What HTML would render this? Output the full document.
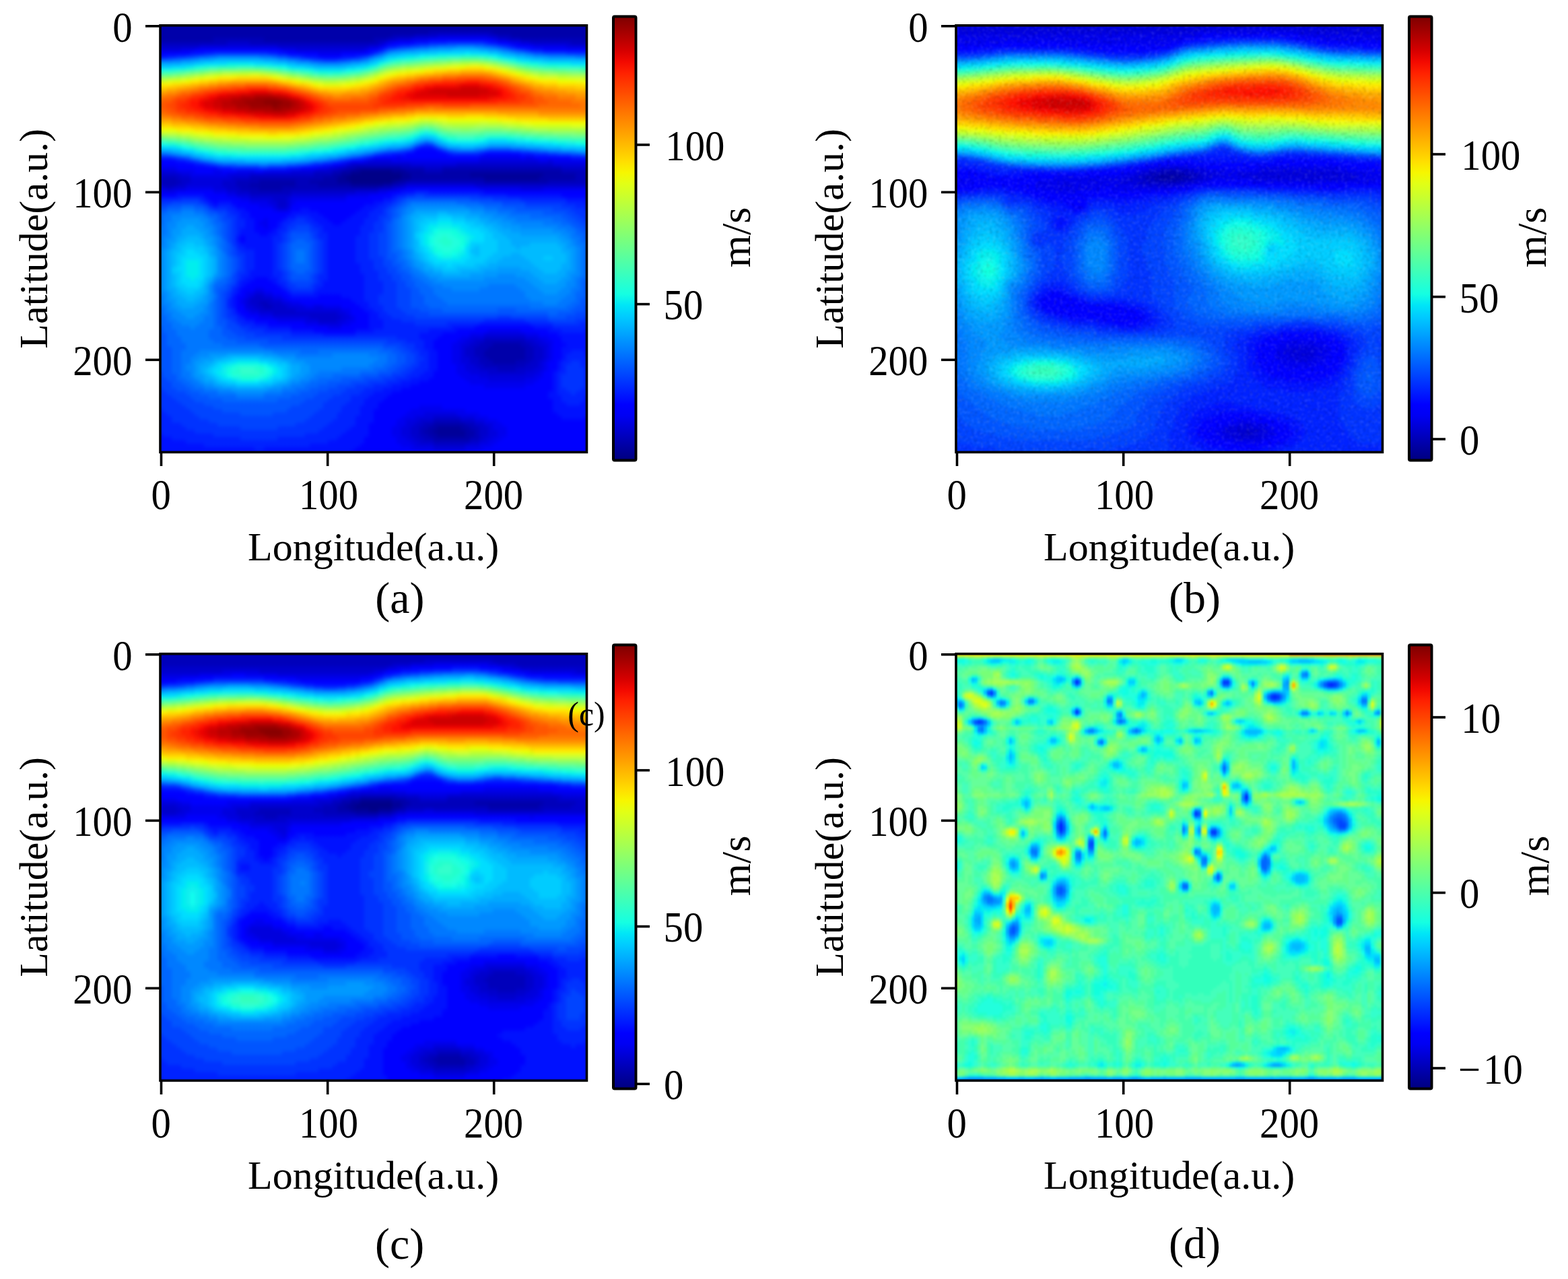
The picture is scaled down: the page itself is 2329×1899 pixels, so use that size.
<!DOCTYPE html><html><head><meta charset="utf-8"><style>*{margin:0;padding:0}
html,body{width:2329px;height:1899px;background:#fff;overflow:hidden}
body{position:relative}
.hm{position:absolute;overflow:hidden}
.hi{position:absolute;display:flex}
.hi i{flex:1 1 0;height:100%}
.nz{position:absolute;left:0;top:0;opacity:.16}
.cb{position:absolute;width:30.5px;height:657px;background:linear-gradient(0deg,#000080,#00009c,#0000b9,#0000d6,#0000f3,#00f,#001aff,#03f,#004dff,#06f,#0080ff,#09f,#00b3ff,#0cf,#00e6f7,#15ffe2,#29ffce,#3effb9,#52ffa5,#67ff90,#7bff7b,#90ff67,#a5ff52,#b9ff3e,#ceff29,#e2ff15,#f7f600,#ffde00,#ffc600,#ffaf00,#ff9700,#ff8000,#ff6800,#ff5000,#ff3900,#ff2100,#f30900,#d60000,#b90000,#9c0000,#800000)}
svg{position:absolute;left:0;top:0}
</style></head><body><div class="hm" style="left:238.0px;top:37.5px;width:633.5px;height:634.0px"><div class="hi" style="left:-10px;top:-10px;width:653.5px;height:654.0px;filter:blur(2.5px)"><i style="background:linear-gradient(#00a,#00a,#00a,#00a,#00a,#00a,#00a,#00b,#00c,#00d,#00f,#01f,#06f,#0af,#0cf,#1fd,#5fa,#9f6,#cf2,#fe0,#fc0,#fa0,#f80,#f70,#f60,#f50,#f60,#f60,#f80,#f90,#fb0,#fd0,#ef0,#cf3,#8f6,#5fa,#2fd,#0cf,#0af,#06f,#02f,#00f,#00f,#00e,#00d,#00c,#00c,#00b,#00c,#00d,#00e,#00f,#02f,#03f,#04f,#05f,#06f,#06f,#06f,#06f,#07f,#07f,#07f,#07f,#07f,#07f,#08f,#08f,#08f,#08f,#08f,#08f,#08f,#08f,#08f,#08f,#08f,#08f,#08f,#08f,#07f,#07f,#07f,#07f,#06f,#06f,#06f,#06f,#06f,#05f,#05f,#05f,#05f,#05f,#05f,#05f,#05f,#05f,#05f,#05f,#05f,#05f,#04f,#04f,#04f,#04f,#04f,#03f,#03f,#03f,#03f,#03f,#03f,#02f,#02f,#02f,#02f,#02f,#02f,#02f,#01f,#01f,#01f,#01f,#01f,#01f,#01f,#01f)"></i><i style="background:linear-gradient(#00a,#00a,#00a,#00a,#00a,#00a,#00a,#00b,#00c,#00d,#00f,#01f,#06f,#0af,#0cf,#1fd,#5fa,#9f6,#cf2,#fe0,#fc0,#fa0,#f80,#f70,#f60,#f50,#f60,#f60,#f80,#f90,#fb0,#fd0,#ef0,#cf3,#8f6,#5fa,#2fd,#0cf,#0af,#06f,#02f,#00f,#00f,#00e,#00d,#00c,#00c,#00b,#00c,#00d,#00e,#00f,#02f,#03f,#04f,#05f,#06f,#06f,#06f,#06f,#07f,#07f,#07f,#07f,#07f,#07f,#08f,#08f,#08f,#08f,#08f,#08f,#08f,#08f,#08f,#08f,#08f,#08f,#08f,#08f,#07f,#07f,#07f,#07f,#06f,#06f,#06f,#06f,#06f,#05f,#05f,#05f,#05f,#05f,#05f,#05f,#05f,#05f,#05f,#05f,#05f,#05f,#04f,#04f,#04f,#04f,#04f,#03f,#03f,#03f,#03f,#03f,#03f,#02f,#02f,#02f,#02f,#02f,#02f,#02f,#01f,#01f,#01f,#01f,#01f,#01f,#01f,#01f)"></i><i style="background:linear-gradient(#00a,#00a,#00a,#00a,#00a,#00a,#00a,#00b,#00c,#00d,#00f,#01f,#06f,#0af,#0cf,#2fd,#5f9,#9f6,#cf2,#fe0,#fc0,#fa0,#f80,#f60,#f50,#f50,#f50,#f60,#f70,#f90,#fb0,#fd0,#ef0,#cf3,#8f6,#5fa,#2fd,#0df,#0af,#06f,#02f,#00f,#00f,#00e,#00d,#00c,#00b,#00b,#00b,#00d,#00e,#00f,#02f,#03f,#04f,#05f,#06f,#07f,#07f,#07f,#07f,#07f,#07f,#08f,#08f,#08f,#08f,#09f,#09f,#09f,#09f,#09f,#09f,#09f,#09f,#09f,#09f,#09f,#09f,#08f,#08f,#08f,#08f,#07f,#07f,#07f,#06f,#06f,#06f,#06f,#06f,#05f,#05f,#05f,#05f,#05f,#05f,#05f,#05f,#05f,#05f,#05f,#05f,#05f,#04f,#04f,#04f,#04f,#03f,#03f,#03f,#03f,#03f,#03f,#02f,#02f,#02f,#02f,#02f,#02f,#02f,#01f,#01f,#01f,#01f,#01f,#01f,#01f)"></i><i style="background:linear-gradient(#00a,#00a,#00a,#00a,#00a,#00a,#00a,#00b,#00c,#00d,#00f,#02f,#06f,#0af,#0cf,#2fd,#5f9,#9f5,#df2,#fe0,#fb0,#f90,#f70,#f60,#f50,#f40,#f50,#f50,#f70,#f90,#fb0,#fd0,#ef0,#cf3,#9f6,#5f9,#2fc,#0df,#0af,#07f,#02f,#00f,#00f,#00e,#00d,#00c,#00b,#00b,#00b,#00c,#00e,#00f,#02f,#03f,#05f,#06f,#07f,#07f,#07f,#08f,#08f,#08f,#08f,#08f,#09f,#09f,#09f,#0af,#0af,#0af,#0af,#0af,#0af,#0af,#0af,#0af,#0af,#0af,#0af,#09f,#09f,#09f,#08f,#08f,#08f,#07f,#07f,#07f,#06f,#06f,#06f,#06f,#06f,#06f,#06f,#05f,#05f,#05f,#05f,#05f,#05f,#05f,#05f,#05f,#05f,#04f,#04f,#04f,#04f,#03f,#03f,#03f,#03f,#03f,#03f,#02f,#02f,#02f,#02f,#02f,#02f,#01f,#01f,#01f,#01f,#01f,#01f,#01f)"></i><i style="background:linear-gradient(#00a,#00a,#00a,#00a,#00a,#00a,#00a,#00b,#00c,#00d,#00f,#02f,#07f,#0af,#0df,#2fc,#6f9,#af5,#df1,#fd0,#fb0,#f90,#f70,#f50,#f40,#f40,#f40,#f50,#f60,#f80,#fa0,#fc0,#ef0,#cf3,#9f6,#6f9,#2fc,#0df,#0bf,#08f,#03f,#00f,#00f,#00e,#00d,#00c,#00b,#00b,#00b,#00d,#00e,#00f,#02f,#04f,#05f,#06f,#07f,#08f,#08f,#08f,#08f,#09f,#09f,#09f,#09f,#0af,#0af,#0bf,#0bf,#0bf,#0bf,#0bf,#0cf,#0cf,#0bf,#0bf,#0bf,#0bf,#0af,#0af,#0af,#09f,#09f,#09f,#08f,#08f,#08f,#07f,#07f,#07f,#06f,#06f,#06f,#06f,#06f,#06f,#06f,#06f,#06f,#06f,#06f,#06f,#06f,#05f,#05f,#05f,#05f,#04f,#04f,#04f,#03f,#03f,#03f,#03f,#03f,#03f,#03f,#02f,#02f,#02f,#02f,#02f,#01f,#01f,#01f,#01f,#01f,#01f)"></i><i style="background:linear-gradient(#00a,#00a,#00a,#00a,#00a,#00a,#00a,#00b,#00c,#00d,#00f,#03f,#07f,#0af,#0df,#3fc,#6f8,#af4,#df1,#fd0,#fa0,#f80,#f60,#f40,#f30,#f30,#f30,#f40,#f60,#f80,#fa0,#fc0,#fe0,#cf2,#9f5,#6f8,#3fb,#0ee,#0bf,#09f,#04f,#01f,#00f,#00f,#00e,#00c,#00c,#00b,#00c,#00d,#00f,#01f,#02f,#04f,#05f,#06f,#07f,#08f,#08f,#09f,#09f,#09f,#09f,#0af,#0af,#0bf,#0bf,#0bf,#0cf,#0cf,#0cf,#0cf,#0df,#0cf,#0cf,#0cf,#0cf,#0cf,#0bf,#0bf,#0af,#0af,#0af,#09f,#09f,#08f,#08f,#08f,#07f,#07f,#07f,#07f,#06f,#06f,#06f,#06f,#06f,#06f,#06f,#06f,#06f,#06f,#06f,#06f,#06f,#05f,#05f,#05f,#04f,#04f,#04f,#03f,#03f,#03f,#03f,#03f,#03f,#02f,#02f,#02f,#02f,#02f,#01f,#01f,#01f,#01f,#01f,#01f)"></i><i style="background:linear-gradient(#00a,#00a,#00a,#00a,#00a,#00a,#00a,#00b,#00c,#00e,#00f,#03f,#08f,#0bf,#0df,#3fb,#7f8,#bf4,#ef1,#fc0,#fa0,#f70,#f50,#f40,#f30,#f20,#f30,#f40,#f50,#f70,#fa0,#fc0,#fe0,#df2,#af5,#7f8,#4fb,#1fe,#0cf,#0af,#05f,#01f,#00f,#00f,#00e,#00d,#00c,#00c,#00c,#00d,#00f,#01f,#03f,#04f,#06f,#07f,#08f,#08f,#09f,#09f,#09f,#0af,#0af,#0af,#0bf,#0bf,#0cf,#0cf,#0cf,#0df,#0df,#0df,#0df,#0df,#0df,#0df,#0df,#0cf,#0cf,#0bf,#0bf,#0af,#0af,#0af,#09f,#09f,#08f,#08f,#08f,#07f,#07f,#07f,#07f,#07f,#06f,#06f,#07f,#07f,#07f,#07f,#07f,#07f,#07f,#07f,#06f,#06f,#05f,#05f,#04f,#04f,#04f,#04f,#03f,#03f,#03f,#03f,#03f,#03f,#02f,#02f,#02f,#02f,#01f,#01f,#01f,#01f,#01f,#01f)"></i><i style="background:linear-gradient(#00a,#00a,#00a,#00a,#00a,#00a,#00a,#00b,#00c,#00e,#00f,#04f,#08f,#0bf,#0ee,#4fb,#8f7,#bf3,#ef0,#fc0,#f90,#f70,#f50,#f30,#f20,#f20,#f20,#f30,#f50,#f70,#f90,#fc0,#fe0,#df2,#af4,#7f7,#4fa,#2fd,#0df,#0af,#06f,#02f,#00f,#00f,#00e,#00d,#00c,#00c,#00d,#00e,#00f,#01f,#03f,#04f,#06f,#07f,#08f,#08f,#09f,#09f,#0af,#0af,#0af,#0bf,#0bf,#0cf,#0cf,#0df,#0df,#0df,#0ee,#0ee,#0ee,#0ee,#0ee,#0df,#0df,#0df,#0cf,#0cf,#0bf,#0bf,#0af,#0af,#09f,#09f,#09f,#08f,#08f,#07f,#07f,#07f,#07f,#07f,#07f,#07f,#07f,#07f,#07f,#07f,#08f,#08f,#07f,#07f,#07f,#06f,#06f,#05f,#05f,#04f,#04f,#04f,#04f,#03f,#03f,#03f,#03f,#03f,#03f,#02f,#02f,#02f,#02f,#01f,#01f,#01f,#01f,#01f)"></i><i style="background:linear-gradient(#00a,#00a,#00a,#00a,#00a,#00a,#00a,#00b,#00c,#00e,#01f,#04f,#09f,#0bf,#1ee,#4fa,#8f6,#cf3,#fe0,#fb0,#f90,#f60,#f40,#f20,#f10,#f10,#f20,#f30,#f50,#f70,#f90,#fb0,#fe0,#df1,#bf4,#8f6,#5f9,#2fc,#0df,#0bf,#08f,#03f,#00f,#00f,#00e,#00e,#00d,#00d,#00d,#00e,#00f,#01f,#03f,#04f,#06f,#07f,#08f,#08f,#09f,#09f,#0af,#0af,#0af,#0bf,#0bf,#0cf,#0cf,#0df,#0df,#0df,#0ee,#0ee,#0ee,#0ee,#0ee,#0ee,#0df,#0df,#0cf,#0cf,#0bf,#0bf,#0af,#0af,#09f,#09f,#09f,#08f,#08f,#08f,#07f,#07f,#07f,#07f,#07f,#07f,#07f,#07f,#08f,#08f,#08f,#08f,#08f,#08f,#07f,#07f,#06f,#06f,#05f,#05f,#04f,#04f,#04f,#04f,#03f,#03f,#03f,#03f,#03f,#02f,#02f,#02f,#02f,#01f,#01f,#01f,#01f,#01f)"></i><i style="background:linear-gradient(#00a,#00a,#00a,#00a,#00a,#00a,#00a,#00b,#00c,#00f,#01f,#05f,#09f,#0cf,#1fd,#5fa,#9f6,#df2,#fe0,#fb0,#f80,#f60,#f30,#f20,#f10,#f10,#f10,#f30,#f40,#f60,#f90,#fb0,#fd0,#ef1,#bf3,#9f6,#6f9,#3fb,#1ee,#0cf,#09f,#04f,#01f,#00f,#00f,#00e,#00d,#00d,#00d,#00e,#00f,#01f,#03f,#04f,#05f,#06f,#07f,#08f,#09f,#09f,#09f,#0af,#0af,#0bf,#0bf,#0bf,#0cf,#0cf,#0df,#0df,#0ee,#0ee,#0ee,#0ee,#0ee,#0df,#0df,#0df,#0cf,#0bf,#0bf,#0af,#0af,#09f,#09f,#09f,#08f,#08f,#08f,#07f,#07f,#07f,#07f,#07f,#07f,#07f,#07f,#08f,#08f,#09f,#09f,#09f,#09f,#09f,#08f,#07f,#07f,#06f,#05f,#05f,#05f,#04f,#04f,#04f,#04f,#03f,#03f,#03f,#03f,#03f,#02f,#02f,#02f,#01f,#01f,#01f,#01f,#01f)"></i><i style="background:linear-gradient(#00a,#00a,#00a,#00a,#00a,#00a,#00a,#00b,#00d,#00f,#01f,#06f,#0af,#0cf,#2fd,#5f9,#9f5,#df1,#fd0,#fa0,#f70,#f50,#f30,#f10,#e00,#e00,#f10,#f20,#f40,#f60,#f80,#fb0,#fd0,#ef1,#cf3,#9f5,#6f8,#4fb,#1fd,#0cf,#0af,#06f,#01f,#00f,#00f,#00e,#00d,#00d,#00d,#00e,#00f,#01f,#02f,#03f,#05f,#06f,#07f,#08f,#08f,#09f,#09f,#09f,#0af,#0af,#0bf,#0bf,#0cf,#0cf,#0cf,#0df,#0df,#0df,#0df,#0df,#0df,#0df,#0cf,#0cf,#0bf,#0bf,#0af,#0af,#09f,#09f,#09f,#08f,#08f,#08f,#07f,#07f,#07f,#07f,#07f,#07f,#07f,#07f,#08f,#08f,#09f,#09f,#0af,#0af,#0af,#09f,#09f,#08f,#07f,#06f,#06f,#05f,#05f,#04f,#04f,#04f,#04f,#04f,#03f,#03f,#03f,#03f,#02f,#02f,#02f,#01f,#01f,#01f,#01f,#01f)"></i><i style="background:linear-gradient(#00a,#00a,#00a,#00a,#00a,#00a,#00a,#00b,#00d,#00f,#02f,#06f,#0af,#0df,#2fc,#6f9,#af4,#ef1,#fd0,#fa0,#f70,#f40,#f20,#e10,#d00,#d00,#e00,#f20,#f30,#f50,#f80,#fa0,#fd0,#ef0,#cf3,#af5,#7f8,#4fa,#2fd,#0df,#0bf,#07f,#02f,#00f,#00f,#00e,#00d,#00d,#00d,#00e,#00f,#00f,#01f,#02f,#04f,#05f,#06f,#07f,#08f,#08f,#08f,#09f,#09f,#09f,#0af,#0af,#0bf,#0bf,#0cf,#0cf,#0cf,#0cf,#0cf,#0cf,#0cf,#0bf,#0bf,#0af,#0af,#0af,#09f,#09f,#09f,#08f,#08f,#08f,#07f,#07f,#07f,#07f,#07f,#07f,#07f,#07f,#07f,#07f,#08f,#08f,#09f,#0af,#0af,#0bf,#0bf,#0af,#0af,#09f,#08f,#07f,#06f,#05f,#05f,#05f,#04f,#04f,#04f,#04f,#03f,#03f,#03f,#03f,#02f,#02f,#02f,#02f,#01f,#01f,#01f,#01f)"></i><i style="background:linear-gradient(#00a,#00a,#00a,#00a,#00a,#00a,#00a,#00b,#00d,#00f,#02f,#07f,#0af,#0df,#3fc,#7f8,#bf4,#ef1,#fc0,#f90,#f60,#f40,#f10,#e00,#d00,#d00,#e00,#f10,#f30,#f50,#f70,#fa0,#fc0,#ef0,#cf2,#af5,#7f7,#5fa,#2fc,#0ee,#0bf,#08f,#03f,#00f,#00f,#00e,#00d,#00d,#00d,#00e,#00f,#00f,#00f,#01f,#02f,#04f,#05f,#06f,#07f,#07f,#08f,#08f,#08f,#09f,#09f,#09f,#0af,#0af,#0af,#0bf,#0bf,#0bf,#0bf,#0bf,#0bf,#0af,#09f,#08f,#08f,#08f,#08f,#08f,#07f,#07f,#07f,#07f,#07f,#07f,#07f,#07f,#06f,#06f,#06f,#07f,#07f,#07f,#08f,#09f,#09f,#0af,#0bf,#0cf,#0cf,#0bf,#0af,#09f,#08f,#07f,#06f,#06f,#05f,#05f,#04f,#04f,#04f,#04f,#04f,#03f,#03f,#03f,#02f,#02f,#02f,#02f,#01f,#01f,#01f,#01f)"></i><i style="background:linear-gradient(#00a,#00a,#00a,#00a,#00a,#00a,#00b,#00b,#00d,#00f,#03f,#07f,#0bf,#0df,#3fc,#7f8,#bf3,#ef0,#fc0,#f90,#f60,#f30,#f10,#d00,#c00,#c00,#d00,#f10,#f30,#f50,#f70,#fa0,#fc0,#fe0,#df2,#af4,#8f7,#5f9,#3fc,#1ee,#0cf,#09f,#04f,#00f,#00e,#00e,#00d,#00d,#00d,#00d,#00e,#00f,#00f,#00f,#01f,#03f,#05f,#06f,#06f,#06f,#07f,#07f,#07f,#08f,#08f,#08f,#09f,#09f,#09f,#0af,#0af,#0af,#0af,#0af,#09f,#08f,#07f,#06f,#06f,#06f,#07f,#06f,#06f,#06f,#06f,#06f,#06f,#06f,#06f,#06f,#06f,#06f,#06f,#06f,#07f,#07f,#08f,#09f,#0af,#0bf,#0cf,#0df,#0df,#0cf,#0bf,#0af,#09f,#07f,#06f,#06f,#05f,#05f,#05f,#04f,#04f,#04f,#04f,#03f,#03f,#03f,#03f,#02f,#02f,#02f,#01f,#01f,#01f,#01f)"></i><i style="background:linear-gradient(#00a,#00a,#00a,#00a,#00a,#00a,#00b,#00b,#00d,#00f,#03f,#08f,#0bf,#0df,#3fb,#7f7,#bf3,#fe0,#fb0,#f80,#f50,#f30,#e00,#c00,#c00,#c00,#d00,#e10,#f20,#f50,#f70,#f90,#fc0,#fe0,#df2,#af4,#8f6,#6f9,#3fb,#1fe,#0cf,#0af,#05f,#01f,#00e,#00e,#00d,#00d,#00d,#00d,#00e,#00f,#00f,#01f,#02f,#03f,#04f,#05f,#05f,#06f,#06f,#06f,#06f,#07f,#07f,#07f,#07f,#08f,#08f,#08f,#08f,#08f,#08f,#08f,#08f,#07f,#06f,#06f,#05f,#05f,#05f,#05f,#05f,#05f,#05f,#05f,#05f,#05f,#05f,#06f,#06f,#06f,#06f,#06f,#07f,#07f,#08f,#09f,#0af,#0cf,#0df,#0df,#0ee,#0df,#0cf,#0bf,#09f,#08f,#07f,#06f,#05f,#05f,#05f,#04f,#04f,#04f,#04f,#04f,#03f,#03f,#03f,#02f,#02f,#02f,#01f,#01f,#01f,#01f)"></i><i style="background:linear-gradient(#00a,#00a,#00a,#00a,#00a,#00a,#00b,#00b,#00d,#00f,#03f,#08f,#0bf,#0df,#3fb,#8f7,#cf3,#fe0,#fb0,#f80,#f50,#f20,#e00,#c00,#b00,#b00,#c00,#e00,#f20,#f40,#f70,#f90,#fc0,#fe0,#df2,#bf4,#8f6,#6f9,#3fb,#1fd,#0cf,#0af,#06f,#01f,#00f,#00e,#00d,#00c,#00c,#00d,#00e,#00f,#00f,#01f,#02f,#03f,#04f,#04f,#04f,#05f,#05f,#05f,#05f,#05f,#06f,#06f,#06f,#06f,#07f,#07f,#07f,#07f,#07f,#07f,#07f,#06f,#06f,#05f,#05f,#04f,#04f,#04f,#04f,#04f,#04f,#04f,#04f,#05f,#05f,#05f,#05f,#05f,#06f,#06f,#06f,#07f,#08f,#09f,#0bf,#0cf,#0ee,#1ee,#1ee,#0ee,#0df,#0bf,#0af,#08f,#07f,#06f,#06f,#05f,#05f,#05f,#04f,#04f,#04f,#04f,#03f,#03f,#03f,#02f,#02f,#02f,#01f,#01f,#01f,#01f)"></i><i style="background:linear-gradient(#00a,#00a,#00a,#00a,#00a,#00a,#00b,#00c,#00d,#00f,#03f,#08f,#0bf,#0ee,#3fb,#8f7,#cf3,#fe0,#fb0,#f70,#f50,#f20,#d00,#c00,#b00,#b00,#c00,#e00,#f20,#f40,#f60,#f90,#fb0,#fe0,#df1,#bf4,#8f6,#6f8,#4fb,#1fd,#0cf,#0af,#06f,#01f,#00f,#00d,#00d,#00c,#00c,#00c,#00d,#00e,#00f,#01f,#02f,#02f,#03f,#03f,#04f,#04f,#04f,#04f,#04f,#04f,#04f,#05f,#05f,#05f,#05f,#06f,#06f,#06f,#06f,#06f,#06f,#05f,#05f,#04f,#04f,#03f,#03f,#02f,#02f,#02f,#03f,#03f,#03f,#04f,#04f,#04f,#05f,#05f,#05f,#06f,#06f,#07f,#08f,#0af,#0bf,#0df,#1ee,#1fd,#1fd,#1fe,#0df,#0cf,#0af,#08f,#07f,#06f,#06f,#05f,#05f,#05f,#04f,#04f,#04f,#04f,#03f,#03f,#03f,#02f,#02f,#02f,#01f,#01f,#01f,#01f)"></i><i style="background:linear-gradient(#00a,#00a,#00a,#00a,#00a,#00a,#00b,#00c,#00d,#00f,#03f,#08f,#0bf,#0ee,#3fb,#8f7,#cf2,#fe0,#fa0,#f70,#f40,#f20,#d00,#b00,#a00,#b00,#c00,#d00,#f20,#f40,#f60,#f90,#fb0,#fe0,#df1,#bf3,#9f6,#6f8,#4fb,#1fd,#0df,#0af,#06f,#02f,#00f,#00d,#00c,#00c,#00c,#00c,#00d,#00e,#00f,#00f,#01f,#02f,#02f,#03f,#03f,#03f,#03f,#03f,#03f,#03f,#03f,#03f,#04f,#04f,#04f,#05f,#05f,#05f,#05f,#05f,#04f,#04f,#04f,#03f,#02f,#02f,#01f,#01f,#01f,#01f,#02f,#02f,#03f,#03f,#04f,#04f,#04f,#05f,#05f,#06f,#06f,#07f,#08f,#0af,#0cf,#0df,#1fd,#2fd,#2fc,#2fd,#0ee,#0cf,#0af,#09f,#07f,#06f,#06f,#05f,#05f,#05f,#04f,#04f,#04f,#04f,#03f,#03f,#03f,#02f,#02f,#02f,#01f,#01f,#01f,#01f)"></i><i style="background:linear-gradient(#00a,#00a,#00a,#00a,#00a,#00a,#00b,#00c,#00d,#00f,#03f,#08f,#0bf,#0ee,#4fb,#8f7,#cf2,#fd0,#fa0,#f70,#f40,#f10,#d00,#b00,#a00,#a00,#b00,#d00,#f10,#f40,#f60,#f80,#fb0,#fd0,#df1,#bf3,#9f6,#6f8,#4fb,#2fd,#0df,#0af,#07f,#02f,#00e,#00d,#00c,#00b,#00b,#00c,#00c,#00d,#00f,#00f,#00f,#01f,#02f,#02f,#02f,#02f,#02f,#02f,#02f,#01f,#01f,#02f,#02f,#03f,#03f,#04f,#04f,#04f,#04f,#03f,#03f,#03f,#02f,#02f,#01f,#01f,#00f,#00f,#00f,#00f,#00f,#01f,#02f,#02f,#03f,#04f,#04f,#04f,#05f,#05f,#06f,#07f,#08f,#0af,#0cf,#0ee,#2fd,#2fc,#2fc,#2fd,#1ee,#0df,#0bf,#09f,#08f,#07f,#06f,#05f,#05f,#05f,#04f,#04f,#04f,#04f,#03f,#03f,#03f,#02f,#02f,#02f,#01f,#01f,#01f,#01f)"></i><i style="background:linear-gradient(#00a,#00a,#00a,#00a,#00a,#00a,#00b,#00c,#00d,#00f,#03f,#08f,#0bf,#0ee,#4fb,#8f6,#cf2,#fd0,#fa0,#f70,#f40,#f10,#c00,#a00,#a00,#a00,#b00,#d00,#f10,#f30,#f60,#f80,#fb0,#fd0,#ef1,#bf3,#9f6,#6f8,#4fa,#2fd,#0df,#0af,#07f,#02f,#00e,#00d,#00c,#00b,#00b,#00b,#00c,#00d,#00e,#00f,#00f,#01f,#01f,#01f,#02f,#02f,#02f,#01f,#01f,#00f,#00f,#01f,#02f,#02f,#03f,#03f,#03f,#03f,#03f,#03f,#02f,#02f,#01f,#01f,#00f,#00f,#00f,#00e,#00e,#00f,#00f,#00f,#01f,#02f,#02f,#03f,#04f,#04f,#05f,#05f,#06f,#07f,#08f,#0af,#0cf,#0ee,#2fd,#3fc,#3fc,#2fc,#1fd,#0df,#0bf,#09f,#08f,#07f,#06f,#05f,#05f,#05f,#05f,#04f,#04f,#04f,#04f,#03f,#03f,#03f,#02f,#02f,#01f,#01f,#01f,#01f)"></i><i style="background:linear-gradient(#00a,#00a,#00a,#00a,#00a,#00a,#00b,#00c,#00d,#00f,#03f,#08f,#0bf,#0ee,#4fb,#8f6,#cf2,#fd0,#fa0,#f60,#f30,#f10,#c00,#a00,#900,#a00,#b00,#c00,#f10,#f30,#f50,#f80,#fb0,#fd0,#ef1,#bf3,#9f5,#7f8,#4fa,#2fd,#0df,#0bf,#07f,#02f,#00e,#00d,#00c,#00b,#00b,#00b,#00c,#00d,#00e,#00f,#00f,#00f,#01f,#01f,#01f,#01f,#01f,#01f,#01f,#01f,#01f,#01f,#01f,#02f,#02f,#02f,#02f,#02f,#02f,#02f,#02f,#01f,#01f,#00f,#00f,#00e,#00e,#00d,#00d,#00d,#00e,#00f,#00f,#01f,#02f,#03f,#03f,#04f,#04f,#05f,#06f,#07f,#08f,#0af,#0cf,#0ee,#2fd,#3fc,#3fc,#2fc,#1fd,#0df,#0bf,#09f,#08f,#07f,#06f,#05f,#05f,#05f,#05f,#04f,#04f,#04f,#04f,#03f,#03f,#03f,#02f,#02f,#01f,#01f,#01f,#01f)"></i><i style="background:linear-gradient(#00a,#00a,#00a,#00a,#00a,#00a,#00b,#00b,#00d,#00f,#03f,#08f,#0bf,#0ef,#4fb,#8f6,#df2,#fd0,#fa0,#f60,#f30,#e00,#c00,#a00,#900,#900,#a00,#c00,#e10,#f30,#f50,#f80,#fa0,#fd0,#ef1,#cf3,#9f5,#7f8,#4fa,#2fd,#0df,#0bf,#07f,#02f,#00e,#00c,#00b,#00b,#00a,#00b,#00b,#00c,#00d,#00e,#00f,#00f,#00f,#00f,#01f,#01f,#01f,#01f,#01f,#01f,#01f,#01f,#01f,#02f,#02f,#02f,#02f,#02f,#02f,#01f,#01f,#01f,#00f,#00f,#00f,#00e,#00d,#00c,#00c,#00d,#00d,#00e,#00f,#01f,#02f,#02f,#03f,#04f,#04f,#05f,#06f,#07f,#08f,#0af,#0cf,#0ee,#2fd,#3fc,#3fc,#2fc,#1fd,#0df,#0bf,#09f,#08f,#07f,#06f,#05f,#05f,#05f,#05f,#04f,#04f,#04f,#04f,#03f,#03f,#03f,#02f,#02f,#01f,#01f,#01f,#01f)"></i><i style="background:linear-gradient(#00a,#00a,#00a,#00a,#00a,#00a,#00b,#00b,#00d,#00f,#03f,#08f,#0bf,#0df,#3fb,#8f6,#df2,#fd0,#fa0,#f60,#f30,#e00,#b00,#900,#900,#900,#a00,#c00,#e00,#f30,#f50,#f80,#fa0,#fd0,#ef1,#cf3,#9f5,#7f8,#4fa,#2fd,#0df,#0bf,#07f,#02f,#00f,#00c,#00b,#00b,#00a,#00b,#00b,#00c,#00d,#00e,#00f,#00f,#00f,#00f,#00f,#00f,#00f,#00f,#01f,#01f,#01f,#01f,#01f,#01f,#01f,#01f,#01f,#01f,#01f,#01f,#01f,#00f,#00f,#00f,#00e,#00d,#00c,#00c,#00c,#00c,#00d,#00e,#00f,#00f,#01f,#02f,#03f,#03f,#04f,#05f,#06f,#07f,#08f,#0af,#0cf,#0ee,#2fd,#2fc,#3fc,#2fc,#1fe,#0df,#0bf,#09f,#08f,#07f,#06f,#05f,#05f,#05f,#05f,#04f,#04f,#04f,#04f,#03f,#03f,#03f,#02f,#02f,#02f,#01f,#01f,#01f)"></i><i style="background:linear-gradient(#00a,#00a,#00a,#00a,#00a,#00a,#00b,#00b,#00d,#00f,#03f,#07f,#0bf,#0df,#3fb,#8f7,#cf2,#fd0,#fa0,#f60,#f30,#e00,#b00,#900,#900,#900,#a00,#c00,#e00,#f20,#f50,#f70,#fa0,#fd0,#ef1,#cf3,#9f5,#7f8,#4fa,#2fd,#0df,#0bf,#08f,#03f,#00f,#00c,#00b,#00a,#00a,#00a,#00b,#00c,#00d,#00e,#00e,#00f,#00f,#00f,#00f,#00e,#00f,#00f,#00f,#01f,#01f,#01f,#01f,#01f,#01f,#01f,#01f,#01f,#01f,#01f,#01f,#00f,#00f,#00f,#00e,#00d,#00c,#00c,#00b,#00c,#00c,#00d,#00e,#00f,#01f,#02f,#03f,#03f,#04f,#05f,#05f,#07f,#08f,#0af,#0bf,#0df,#1fd,#2fc,#2fc,#2fd,#1ee,#0cf,#0bf,#09f,#08f,#07f,#06f,#05f,#05f,#05f,#05f,#04f,#04f,#04f,#04f,#03f,#03f,#03f,#02f,#02f,#02f,#01f,#01f,#01f)"></i><i style="background:linear-gradient(#00a,#00a,#00a,#00a,#00a,#00a,#00a,#00b,#00d,#00f,#03f,#07f,#0af,#0df,#3fc,#7f7,#cf3,#fd0,#fa0,#f60,#f30,#e00,#b00,#900,#800,#900,#a00,#b00,#e00,#f20,#f50,#f70,#fa0,#fd0,#ef0,#cf3,#9f5,#7f8,#4fa,#2fd,#0df,#0bf,#08f,#03f,#00e,#00c,#00b,#00a,#00a,#00a,#00b,#00c,#00d,#00e,#00e,#00f,#00f,#00f,#00e,#00e,#00e,#00f,#00f,#01f,#01f,#01f,#01f,#01f,#01f,#01f,#01f,#01f,#01f,#01f,#01f,#00f,#00f,#00f,#00f,#00e,#00d,#00c,#00b,#00b,#00c,#00d,#00e,#00f,#01f,#02f,#02f,#03f,#04f,#05f,#05f,#06f,#08f,#09f,#0bf,#0df,#1fe,#2fd,#2fd,#1fd,#0ee,#0cf,#0af,#09f,#07f,#06f,#06f,#05f,#05f,#05f,#05f,#04f,#04f,#04f,#04f,#03f,#03f,#03f,#02f,#02f,#01f,#01f,#01f,#01f)"></i><i style="background:linear-gradient(#00a,#00a,#00a,#00a,#00a,#00a,#00a,#00b,#00d,#00f,#02f,#07f,#0af,#0df,#2fc,#7f8,#bf3,#fe0,#fa0,#f70,#f40,#e10,#b00,#900,#800,#900,#a00,#b00,#e00,#f20,#f50,#f70,#fa0,#fc0,#ef0,#cf3,#9f5,#7f8,#4fa,#2fd,#0df,#0bf,#07f,#02f,#00e,#00c,#00b,#00a,#00a,#00a,#00b,#00c,#00d,#00d,#00e,#00f,#00f,#00f,#00f,#00f,#00f,#00f,#01f,#01f,#01f,#01f,#01f,#01f,#01f,#01f,#01f,#01f,#01f,#01f,#01f,#01f,#00f,#00f,#00f,#00e,#00d,#00c,#00c,#00b,#00c,#00d,#00e,#00f,#00f,#01f,#02f,#03f,#04f,#04f,#05f,#06f,#08f,#09f,#0bf,#0cf,#0ee,#1fe,#1fd,#1ee,#0df,#0cf,#0af,#08f,#07f,#06f,#06f,#05f,#05f,#05f,#05f,#04f,#04f,#04f,#04f,#03f,#03f,#03f,#02f,#02f,#01f,#01f,#01f,#01f)"></i><i style="background:linear-gradient(#00a,#00a,#00a,#00a,#00a,#00a,#00a,#00b,#00d,#00f,#02f,#06f,#0af,#0cf,#2fd,#6f8,#bf4,#ef0,#fb0,#f70,#f40,#f10,#c00,#900,#800,#800,#900,#b00,#d00,#f20,#f50,#f70,#fa0,#fc0,#ef0,#cf3,#9f5,#7f8,#4fa,#2fd,#0df,#0bf,#07f,#02f,#00e,#00c,#00b,#00a,#00a,#00a,#00b,#00c,#00c,#00d,#00d,#00e,#00f,#00f,#00f,#00f,#00f,#01f,#01f,#02f,#02f,#02f,#02f,#02f,#02f,#02f,#02f,#02f,#02f,#02f,#02f,#01f,#01f,#00f,#00f,#00f,#00e,#00d,#00c,#00c,#00c,#00c,#00d,#00f,#00f,#01f,#02f,#03f,#04f,#04f,#05f,#06f,#07f,#09f,#0af,#0cf,#0df,#0ee,#0ee,#0df,#0cf,#0bf,#09f,#08f,#07f,#06f,#06f,#05f,#05f,#05f,#04f,#04f,#04f,#04f,#04f,#03f,#03f,#03f,#02f,#02f,#01f,#01f,#01f,#01f)"></i><i style="background:linear-gradient(#00a,#00a,#00a,#00a,#00a,#00a,#00a,#00b,#00c,#00f,#01f,#05f,#09f,#0cf,#1fd,#5f9,#af5,#ef1,#fc0,#f80,#f50,#f10,#c00,#a00,#800,#900,#900,#b00,#d00,#f20,#f50,#f70,#fa0,#fd0,#ef0,#cf3,#9f5,#7f8,#4fa,#2fd,#0df,#0bf,#07f,#02f,#00e,#00c,#00b,#00a,#00a,#00a,#00b,#00c,#00c,#00c,#00c,#00d,#00f,#00f,#00f,#01f,#01f,#02f,#02f,#02f,#02f,#03f,#03f,#03f,#03f,#03f,#03f,#03f,#03f,#02f,#02f,#02f,#02f,#01f,#00f,#00f,#00e,#00d,#00c,#00c,#00c,#00c,#00d,#00e,#00f,#01f,#02f,#03f,#04f,#04f,#05f,#06f,#07f,#08f,#0af,#0bf,#0cf,#0df,#0df,#0df,#0cf,#0af,#09f,#08f,#07f,#06f,#05f,#05f,#05f,#05f,#04f,#04f,#04f,#04f,#03f,#03f,#03f,#02f,#02f,#02f,#01f,#01f,#01f,#01f)"></i><i style="background:linear-gradient(#00a,#00a,#00a,#00a,#00a,#00a,#00a,#00b,#00c,#00e,#01f,#05f,#09f,#0cf,#1fe,#5fa,#9f6,#df2,#fd0,#f90,#f50,#f20,#d00,#a00,#900,#900,#a00,#b00,#d00,#f20,#f50,#f70,#fa0,#fd0,#ef1,#cf3,#9f5,#7f8,#4fa,#2fd,#0df,#0af,#07f,#02f,#00e,#00c,#00b,#00a,#00a,#00b,#00b,#00c,#00c,#00c,#00c,#00d,#00f,#00f,#01f,#02f,#02f,#02f,#03f,#03f,#03f,#04f,#04f,#04f,#04f,#04f,#04f,#04f,#04f,#03f,#03f,#03f,#02f,#02f,#01f,#00f,#00f,#00e,#00d,#00c,#00c,#00c,#00d,#00e,#00f,#01f,#02f,#03f,#03f,#04f,#05f,#06f,#07f,#08f,#09f,#0bf,#0cf,#0cf,#0cf,#0cf,#0bf,#0af,#08f,#07f,#06f,#06f,#05f,#05f,#05f,#05f,#04f,#04f,#04f,#04f,#03f,#03f,#03f,#02f,#02f,#02f,#01f,#01f,#01f,#01f)"></i><i style="background:linear-gradient(#00a,#00a,#00a,#00a,#00a,#00a,#00a,#00b,#00c,#00e,#00f,#04f,#08f,#0bf,#0ee,#4fb,#8f6,#cf2,#fd0,#fa0,#f60,#f30,#e00,#b00,#900,#900,#a00,#c00,#e00,#f20,#f50,#f70,#fa0,#fd0,#ef1,#cf3,#9f5,#6f8,#4fb,#1fd,#0df,#0af,#06f,#01f,#00e,#00c,#00b,#00a,#00a,#00b,#00b,#00c,#00d,#00d,#00d,#00e,#00f,#01f,#02f,#02f,#03f,#03f,#04f,#04f,#04f,#05f,#05f,#05f,#05f,#05f,#05f,#05f,#05f,#04f,#04f,#04f,#03f,#03f,#02f,#01f,#00f,#00f,#00d,#00d,#00c,#00c,#00d,#00e,#00f,#01f,#02f,#03f,#03f,#04f,#05f,#06f,#07f,#08f,#09f,#0af,#0bf,#0bf,#0bf,#0bf,#0af,#09f,#08f,#07f,#06f,#06f,#05f,#05f,#05f,#04f,#04f,#04f,#04f,#04f,#03f,#03f,#03f,#02f,#02f,#02f,#01f,#01f,#01f,#01f)"></i><i style="background:linear-gradient(#00a,#00a,#00a,#00a,#00a,#00a,#00a,#00b,#00c,#00e,#00f,#03f,#08f,#0bf,#0df,#3fb,#7f7,#bf3,#fe0,#fb0,#f70,#f40,#f10,#c00,#a00,#a00,#b00,#c00,#e00,#f30,#f50,#f80,#fa0,#fd0,#ef1,#bf3,#9f6,#6f8,#4fb,#1fd,#0cf,#0af,#06f,#01f,#00d,#00c,#00b,#00a,#00a,#00b,#00c,#00d,#00e,#00e,#00f,#00f,#01f,#01f,#02f,#03f,#03f,#04f,#05f,#05f,#05f,#06f,#06f,#06f,#06f,#06f,#06f,#06f,#06f,#05f,#05f,#05f,#04f,#03f,#03f,#02f,#01f,#00f,#00e,#00d,#00c,#00c,#00d,#00e,#00f,#00f,#01f,#02f,#03f,#04f,#05f,#06f,#07f,#08f,#09f,#09f,#0af,#0af,#0af,#0af,#09f,#08f,#07f,#07f,#06f,#05f,#05f,#05f,#04f,#04f,#04f,#04f,#04f,#04f,#03f,#03f,#03f,#02f,#02f,#02f,#01f,#01f,#01f,#01f)"></i><i style="background:linear-gradient(#00a,#00a,#00a,#00a,#00a,#00a,#00a,#00b,#00c,#00d,#00f,#03f,#07f,#0af,#0df,#3fc,#7f8,#bf4,#ef0,#fc0,#f80,#f50,#f20,#d00,#b00,#b00,#b00,#d00,#f10,#f30,#f60,#f80,#fb0,#fd0,#df1,#bf4,#8f6,#6f9,#3fb,#1fe,#0cf,#0af,#05f,#01f,#00d,#00c,#00b,#00b,#00b,#00b,#00c,#00d,#00e,#00f,#00f,#00f,#01f,#02f,#03f,#03f,#04f,#04f,#05f,#05f,#06f,#06f,#06f,#07f,#07f,#07f,#07f,#06f,#06f,#06f,#05f,#05f,#04f,#04f,#03f,#02f,#01f,#00f,#00e,#00d,#00d,#00c,#00d,#00e,#00f,#00f,#01f,#02f,#03f,#04f,#05f,#06f,#07f,#07f,#08f,#09f,#0af,#0af,#0af,#09f,#09f,#08f,#07f,#06f,#06f,#05f,#05f,#05f,#04f,#04f,#04f,#04f,#04f,#03f,#03f,#03f,#03f,#02f,#02f,#02f,#01f,#01f,#01f,#01f)"></i><i style="background:linear-gradient(#00a,#00a,#00a,#00a,#00a,#00a,#00a,#00b,#00c,#00d,#00f,#02f,#06f,#0af,#0df,#2fc,#6f9,#af5,#df1,#fc0,#f90,#f60,#f30,#e10,#c00,#c00,#c00,#e00,#f20,#f40,#f60,#f90,#fb0,#fe0,#df2,#bf4,#8f6,#5f9,#3fc,#1ee,#0cf,#09f,#05f,#00f,#00d,#00c,#00b,#00b,#00b,#00b,#00c,#00d,#00e,#00f,#00f,#01f,#01f,#02f,#03f,#03f,#04f,#04f,#05f,#05f,#06f,#06f,#06f,#07f,#07f,#07f,#07f,#06f,#06f,#06f,#05f,#05f,#04f,#04f,#03f,#02f,#01f,#00f,#00f,#00d,#00d,#00c,#00d,#00e,#00f,#00f,#01f,#02f,#03f,#04f,#05f,#06f,#06f,#07f,#08f,#09f,#09f,#09f,#09f,#09f,#08f,#07f,#07f,#06f,#05f,#05f,#05f,#04f,#04f,#04f,#04f,#04f,#04f,#03f,#03f,#03f,#03f,#02f,#02f,#02f,#01f,#01f,#01f,#01f)"></i><i style="background:linear-gradient(#00a,#00a,#00a,#00a,#00a,#00a,#00a,#00b,#00c,#00d,#00f,#01f,#06f,#0af,#0cf,#2fd,#5f9,#9f5,#df2,#fd0,#fa0,#f70,#f40,#f20,#e00,#d00,#d00,#e10,#f20,#f40,#f70,#f90,#fc0,#fe0,#df2,#af4,#8f7,#5f9,#3fc,#0ee,#0bf,#09f,#04f,#00f,#00d,#00c,#00b,#00b,#00b,#00b,#00c,#00d,#00e,#00f,#00f,#01f,#01f,#02f,#02f,#03f,#04f,#04f,#05f,#05f,#05f,#06f,#06f,#06f,#06f,#06f,#06f,#06f,#06f,#05f,#05f,#05f,#04f,#04f,#03f,#02f,#01f,#00f,#00f,#00e,#00d,#00c,#00d,#00d,#00e,#00f,#01f,#02f,#03f,#04f,#05f,#06f,#06f,#07f,#08f,#08f,#09f,#09f,#09f,#08f,#08f,#07f,#06f,#06f,#05f,#05f,#04f,#04f,#04f,#04f,#04f,#04f,#03f,#03f,#03f,#03f,#02f,#02f,#02f,#02f,#01f,#01f,#01f,#01f)"></i><i style="background:linear-gradient(#00a,#00a,#00a,#00a,#00a,#00a,#00a,#00b,#00c,#00d,#00f,#01f,#05f,#09f,#0cf,#1fd,#4fa,#8f6,#cf3,#fe0,#fb0,#f80,#f50,#f30,#f10,#e00,#e00,#f10,#f30,#f50,#f70,#fa0,#fc0,#ef0,#cf2,#af5,#7f7,#5fa,#2fc,#0df,#0bf,#08f,#03f,#00f,#00d,#00c,#00b,#00a,#00b,#00b,#00c,#00d,#00e,#00f,#00f,#00f,#01f,#01f,#02f,#02f,#03f,#03f,#04f,#04f,#05f,#05f,#05f,#05f,#05f,#05f,#05f,#05f,#05f,#05f,#04f,#04f,#04f,#03f,#03f,#02f,#01f,#00f,#00f,#00e,#00d,#00c,#00c,#00d,#00e,#00f,#01f,#02f,#03f,#04f,#05f,#06f,#06f,#07f,#08f,#08f,#08f,#08f,#08f,#08f,#07f,#06f,#06f,#05f,#05f,#05f,#04f,#04f,#04f,#04f,#04f,#03f,#03f,#03f,#03f,#03f,#02f,#02f,#02f,#01f,#01f,#01f,#01f,#01f)"></i><i style="background:linear-gradient(#00a,#00a,#00a,#00a,#00a,#00a,#00a,#00b,#00c,#00d,#00f,#01f,#04f,#09f,#0bf,#1ee,#4fb,#8f7,#bf3,#ef0,#fc0,#f90,#f60,#f40,#f20,#f10,#f10,#f20,#f40,#f60,#f80,#fa0,#fd0,#ef1,#cf3,#9f5,#7f8,#4fa,#2fd,#0df,#0bf,#07f,#02f,#00f,#00c,#00b,#00b,#00a,#00b,#00b,#00c,#00d,#00e,#00f,#00f,#00f,#01f,#01f,#01f,#02f,#02f,#03f,#03f,#03f,#04f,#04f,#04f,#04f,#04f,#04f,#04f,#04f,#04f,#04f,#03f,#03f,#03f,#02f,#02f,#01f,#01f,#00f,#00f,#00d,#00d,#00c,#00c,#00d,#00e,#00f,#00f,#02f,#03f,#04f,#05f,#06f,#06f,#07f,#08f,#08f,#08f,#08f,#08f,#07f,#07f,#06f,#06f,#05f,#05f,#04f,#04f,#04f,#04f,#04f,#03f,#03f,#03f,#03f,#03f,#03f,#02f,#02f,#02f,#01f,#01f,#01f,#01f,#01f)"></i><i style="background:linear-gradient(#00a,#00a,#00a,#00a,#00a,#00a,#00a,#00b,#00c,#00d,#00e,#00f,#04f,#08f,#0bf,#0ee,#3fb,#7f7,#bf4,#ef1,#fd0,#fa0,#f70,#f50,#f30,#f20,#f20,#f30,#f40,#f60,#f80,#fb0,#fd0,#ef1,#bf3,#9f6,#6f8,#4fb,#2fd,#0df,#0af,#07f,#02f,#00e,#00c,#00b,#00b,#00a,#00a,#00b,#00c,#00d,#00e,#00f,#00f,#00f,#00f,#01f,#01f,#01f,#02f,#02f,#02f,#02f,#03f,#03f,#03f,#03f,#03f,#03f,#03f,#03f,#03f,#03f,#02f,#02f,#02f,#02f,#01f,#01f,#00f,#00f,#00f,#00d,#00d,#00c,#00c,#00c,#00d,#00f,#00f,#02f,#03f,#04f,#05f,#06f,#07f,#07f,#08f,#08f,#08f,#08f,#07f,#07f,#06f,#06f,#05f,#05f,#04f,#04f,#04f,#04f,#04f,#03f,#03f,#03f,#03f,#03f,#03f,#02f,#02f,#02f,#02f,#01f,#01f,#01f,#01f,#01f)"></i><i style="background:linear-gradient(#00a,#00a,#00a,#00a,#00a,#00a,#00a,#00b,#00c,#00d,#00e,#00f,#03f,#08f,#0bf,#0ee,#3fb,#7f8,#af4,#df1,#fd0,#fa0,#f80,#f60,#f40,#f30,#f30,#f30,#f50,#f70,#f90,#fb0,#fe0,#df1,#bf4,#9f6,#6f8,#4fb,#1fd,#0cf,#0af,#06f,#01f,#00e,#00c,#00b,#00a,#00a,#00a,#00b,#00c,#00d,#00e,#00f,#00f,#00f,#00f,#00f,#01f,#01f,#01f,#01f,#02f,#02f,#02f,#02f,#02f,#02f,#02f,#02f,#02f,#02f,#02f,#02f,#02f,#02f,#01f,#01f,#01f,#01f,#00f,#00f,#00f,#00e,#00d,#00c,#00c,#00c,#00d,#00f,#00f,#01f,#03f,#04f,#05f,#06f,#07f,#07f,#08f,#08f,#08f,#08f,#07f,#07f,#06f,#06f,#05f,#05f,#04f,#04f,#04f,#03f,#03f,#03f,#03f,#03f,#03f,#03f,#02f,#02f,#02f,#02f,#02f,#01f,#01f,#01f,#01f,#01f)"></i><i style="background:linear-gradient(#00a,#00a,#00a,#00a,#00a,#00a,#00a,#00b,#00c,#00d,#00e,#00f,#03f,#08f,#0bf,#0ee,#3fc,#7f8,#af4,#df1,#fd0,#fb0,#f80,#f60,#f50,#f40,#f30,#f40,#f50,#f70,#f90,#fc0,#fe0,#df2,#bf4,#8f6,#6f9,#3fb,#1fe,#0cf,#09f,#05f,#01f,#00d,#00c,#00b,#00a,#00a,#00a,#00b,#00c,#00d,#00e,#00f,#00f,#00f,#00f,#00f,#00f,#01f,#01f,#01f,#01f,#01f,#01f,#01f,#01f,#01f,#01f,#01f,#01f,#01f,#01f,#01f,#01f,#01f,#01f,#01f,#01f,#01f,#00f,#00f,#00f,#00e,#00d,#00c,#00c,#00c,#00d,#00e,#00f,#01f,#03f,#04f,#05f,#06f,#07f,#07f,#08f,#08f,#08f,#08f,#07f,#07f,#06f,#05f,#05f,#04f,#04f,#04f,#03f,#03f,#03f,#03f,#03f,#03f,#03f,#02f,#02f,#02f,#02f,#02f,#01f,#01f,#01f,#01f,#01f,#01f)"></i><i style="background:linear-gradient(#00a,#00a,#00a,#00a,#00a,#00a,#00a,#00b,#00c,#00d,#00e,#00f,#03f,#08f,#0bf,#0ee,#3fb,#7f8,#af4,#df1,#fd0,#fb0,#f90,#f70,#f50,#f40,#f40,#f40,#f60,#f80,#fa0,#fc0,#ef0,#cf2,#af4,#8f7,#5f9,#3fc,#0ee,#0cf,#09f,#04f,#00f,#00d,#00b,#00a,#00a,#00a,#00a,#00b,#00c,#00d,#00e,#00f,#00f,#00f,#00f,#00f,#00f,#00f,#01f,#01f,#01f,#01f,#01f,#01f,#01f,#01f,#01f,#01f,#01f,#01f,#01f,#01f,#01f,#01f,#01f,#01f,#01f,#01f,#00f,#00f,#00f,#00e,#00d,#00c,#00c,#00c,#00d,#00e,#00f,#01f,#03f,#04f,#05f,#06f,#07f,#08f,#08f,#08f,#08f,#08f,#07f,#06f,#06f,#05f,#05f,#04f,#04f,#03f,#03f,#03f,#03f,#03f,#03f,#03f,#02f,#02f,#02f,#02f,#02f,#02f,#01f,#01f,#01f,#01f,#01f,#01f)"></i><i style="background:linear-gradient(#00a,#00a,#00a,#00a,#00a,#00a,#00a,#00b,#00c,#00d,#00e,#00f,#04f,#08f,#0bf,#0ee,#3fb,#7f8,#bf4,#df1,#fd0,#fb0,#f90,#f70,#f50,#f40,#f40,#f50,#f60,#f80,#fa0,#fd0,#ef1,#cf3,#af5,#7f7,#5fa,#2fc,#0ef,#0bf,#08f,#03f,#00f,#00c,#00b,#00a,#009,#009,#00a,#00b,#00c,#00d,#00e,#00f,#00f,#00f,#00f,#00f,#00f,#00f,#01f,#01f,#01f,#01f,#01f,#01f,#01f,#01f,#01f,#01f,#01f,#01f,#01f,#01f,#01f,#01f,#01f,#01f,#01f,#01f,#00f,#00f,#00f,#00e,#00d,#00d,#00c,#00d,#00d,#00e,#00f,#01f,#03f,#04f,#05f,#06f,#07f,#08f,#08f,#08f,#08f,#08f,#07f,#06f,#06f,#05f,#04f,#04f,#04f,#03f,#03f,#03f,#03f,#03f,#02f,#02f,#02f,#02f,#02f,#02f,#02f,#01f,#01f,#01f,#01f,#01f,#01f,#01f)"></i><i style="background:linear-gradient(#00a,#00a,#00a,#00a,#00a,#00a,#00a,#00b,#00c,#00d,#00f,#01f,#04f,#09f,#0bf,#1ee,#4fb,#7f7,#bf4,#ef1,#fd0,#fb0,#f80,#f70,#f50,#f40,#f40,#f50,#f60,#f80,#fb0,#fd0,#ef1,#bf3,#9f5,#7f8,#4fa,#2fd,#0df,#0bf,#07f,#02f,#00e,#00c,#00a,#009,#009,#009,#00a,#00b,#00c,#00d,#00e,#00f,#00f,#00f,#00f,#00f,#00f,#01f,#01f,#01f,#01f,#01f,#01f,#01f,#01f,#01f,#01f,#01f,#01f,#01f,#01f,#01f,#01f,#01f,#01f,#01f,#01f,#01f,#01f,#00f,#00f,#00f,#00e,#00d,#00d,#00d,#00e,#00f,#00f,#01f,#03f,#04f,#05f,#06f,#07f,#08f,#08f,#08f,#08f,#07f,#07f,#06f,#05f,#05f,#04f,#04f,#03f,#03f,#03f,#03f,#02f,#02f,#02f,#02f,#02f,#02f,#02f,#02f,#01f,#01f,#01f,#01f,#01f,#01f,#01f,#01f)"></i><i style="background:linear-gradient(#00a,#00a,#00a,#00a,#00a,#00a,#00a,#00b,#00c,#00d,#00f,#01f,#05f,#09f,#0cf,#1fe,#4fa,#8f7,#bf3,#ef0,#fd0,#fa0,#f80,#f70,#f50,#f40,#f40,#f50,#f70,#f90,#fb0,#fe0,#df1,#bf4,#8f6,#6f8,#4fb,#1fd,#0cf,#0af,#06f,#01f,#00d,#00b,#00a,#009,#008,#009,#00a,#00b,#00c,#00e,#00f,#00f,#00f,#00f,#00f,#00f,#01f,#01f,#01f,#01f,#01f,#01f,#01f,#01f,#01f,#01f,#01f,#01f,#01f,#01f,#01f,#01f,#01f,#01f,#01f,#01f,#01f,#01f,#01f,#00f,#00f,#00f,#00e,#00e,#00d,#00e,#00e,#00f,#00f,#01f,#03f,#04f,#05f,#06f,#07f,#08f,#08f,#08f,#08f,#07f,#07f,#06f,#05f,#05f,#04f,#03f,#03f,#03f,#03f,#02f,#02f,#02f,#02f,#02f,#02f,#02f,#02f,#01f,#01f,#01f,#01f,#01f,#01f,#01f,#01f,#01f)"></i><i style="background:linear-gradient(#00a,#00a,#00a,#00a,#00a,#00a,#00a,#00b,#00c,#00d,#00f,#01f,#06f,#0af,#0cf,#1fd,#5fa,#9f6,#cf3,#ef0,#fc0,#fa0,#f80,#f60,#f50,#f40,#f40,#f50,#f70,#f90,#fc0,#fe0,#df2,#af4,#8f7,#6f9,#3fb,#1fe,#0cf,#09f,#05f,#00f,#00c,#00b,#009,#008,#008,#008,#009,#00b,#00c,#00e,#00f,#00f,#00f,#00f,#00f,#01f,#01f,#01f,#01f,#01f,#01f,#01f,#01f,#01f,#01f,#01f,#01f,#01f,#01f,#01f,#01f,#01f,#01f,#01f,#01f,#01f,#01f,#01f,#01f,#01f,#00f,#00f,#00f,#00f,#00e,#00e,#00f,#00f,#00f,#01f,#03f,#04f,#05f,#06f,#07f,#08f,#08f,#08f,#08f,#07f,#07f,#06f,#05f,#04f,#04f,#03f,#03f,#02f,#02f,#02f,#02f,#02f,#02f,#02f,#02f,#02f,#01f,#01f,#01f,#01f,#01f,#01f,#01f,#00f,#00f,#00f)"></i><i style="background:linear-gradient(#00a,#00a,#00a,#00a,#00a,#00a,#00a,#00b,#00c,#00d,#00f,#02f,#06f,#0af,#0df,#2fd,#5f9,#9f5,#cf2,#fe0,#fc0,#fa0,#f80,#f60,#f50,#f40,#f40,#f50,#f70,#fa0,#fc0,#ef0,#cf2,#af5,#7f7,#5fa,#3fc,#0ee,#0bf,#09f,#04f,#00f,#00c,#00a,#009,#008,#008,#008,#009,#00b,#00d,#00e,#00f,#00f,#00f,#00f,#01f,#01f,#01f,#01f,#01f,#01f,#01f,#02f,#02f,#02f,#02f,#02f,#02f,#02f,#02f,#01f,#01f,#01f,#01f,#01f,#01f,#01f,#01f,#01f,#01f,#01f,#01f,#00f,#00f,#00f,#00f,#00f,#00f,#00f,#01f,#02f,#03f,#04f,#05f,#06f,#07f,#08f,#08f,#08f,#08f,#07f,#07f,#06f,#05f,#04f,#03f,#03f,#03f,#02f,#02f,#02f,#02f,#02f,#02f,#01f,#01f,#01f,#01f,#01f,#01f,#01f,#01f,#01f,#00f,#00f,#00f,#00f)"></i><i style="background:linear-gradient(#00a,#00a,#00a,#00a,#00a,#00a,#00a,#00b,#00c,#00d,#00f,#03f,#07f,#0bf,#0df,#3fc,#6f8,#af5,#df1,#fe0,#fb0,#f90,#f80,#f60,#f50,#f40,#f40,#f60,#f80,#fa0,#fd0,#ef1,#cf3,#9f5,#7f8,#4fa,#2fc,#0df,#0bf,#08f,#03f,#00f,#00c,#00a,#008,#008,#008,#008,#009,#00b,#00d,#00e,#00f,#00f,#00f,#01f,#01f,#01f,#01f,#01f,#02f,#02f,#02f,#02f,#02f,#02f,#02f,#02f,#02f,#02f,#02f,#02f,#02f,#02f,#01f,#01f,#01f,#01f,#01f,#01f,#01f,#01f,#01f,#01f,#00f,#00f,#00f,#00f,#00f,#00f,#01f,#02f,#03f,#04f,#05f,#06f,#07f,#08f,#08f,#08f,#08f,#07f,#06f,#05f,#05f,#04f,#03f,#03f,#02f,#02f,#02f,#02f,#01f,#01f,#01f,#01f,#01f,#01f,#01f,#01f,#01f,#01f,#01f,#00f,#00f,#00f,#00f,#00f)"></i><i style="background:linear-gradient(#00a,#00a,#00a,#00a,#00a,#00a,#00a,#00b,#00c,#00e,#00f,#04f,#08f,#0bf,#0ee,#4fb,#7f7,#bf4,#ef1,#fd0,#fb0,#f90,#f70,#f60,#f50,#f40,#f40,#f60,#f80,#fb0,#fe0,#df1,#bf4,#9f6,#6f8,#4fb,#2fd,#0df,#0af,#07f,#02f,#00e,#00c,#00a,#008,#008,#008,#008,#009,#00b,#00d,#00e,#00f,#00f,#01f,#01f,#01f,#01f,#02f,#02f,#02f,#02f,#02f,#02f,#02f,#02f,#02f,#02f,#02f,#02f,#02f,#02f,#02f,#02f,#02f,#02f,#02f,#02f,#02f,#02f,#02f,#02f,#01f,#01f,#01f,#00f,#00f,#00f,#00f,#00f,#01f,#02f,#03f,#04f,#05f,#06f,#07f,#08f,#08f,#08f,#08f,#07f,#06f,#05f,#04f,#04f,#03f,#02f,#02f,#02f,#01f,#01f,#01f,#01f,#01f,#01f,#01f,#01f,#01f,#01f,#01f,#00f,#00f,#00f,#00f,#00f,#00f,#00f)"></i><i style="background:linear-gradient(#00a,#00a,#00a,#00a,#00a,#00a,#00a,#00b,#00d,#00f,#01f,#06f,#0af,#0cf,#1fd,#5fa,#9f6,#cf3,#ef0,#fc0,#fa0,#f80,#f60,#f50,#f40,#f40,#f40,#f60,#f90,#fb0,#fe0,#df2,#af4,#8f6,#6f9,#3fb,#1fd,#0cf,#0af,#06f,#01f,#00d,#00c,#00a,#008,#008,#008,#008,#009,#00b,#00d,#00f,#00f,#00f,#01f,#01f,#02f,#02f,#02f,#02f,#02f,#02f,#03f,#03f,#03f,#03f,#03f,#03f,#03f,#03f,#02f,#02f,#02f,#02f,#02f,#02f,#02f,#02f,#02f,#02f,#02f,#02f,#02f,#02f,#01f,#01f,#01f,#01f,#01f,#01f,#01f,#02f,#03f,#04f,#05f,#06f,#07f,#07f,#08f,#08f,#07f,#07f,#06f,#05f,#04f,#03f,#03f,#02f,#02f,#01f,#01f,#01f,#01f,#01f,#01f,#01f,#01f,#00f,#00f,#00f,#00f,#00f,#00f,#00f,#00f,#00f,#00f,#00f)"></i><i style="background:linear-gradient(#00a,#00a,#00a,#00a,#00a,#00a,#00b,#00b,#00d,#00f,#03f,#08f,#0bf,#0df,#3fc,#6f8,#af4,#df1,#fe0,#fb0,#f90,#f70,#f60,#f40,#f40,#f30,#f40,#f60,#f90,#fc0,#ef0,#cf2,#af5,#8f7,#5f9,#3fc,#1ee,#0cf,#09f,#04f,#00f,#00d,#00c,#00a,#008,#008,#008,#008,#009,#00b,#00d,#00f,#00f,#01f,#01f,#02f,#02f,#02f,#02f,#03f,#03f,#03f,#03f,#03f,#03f,#03f,#03f,#03f,#03f,#03f,#03f,#03f,#03f,#02f,#02f,#02f,#02f,#02f,#02f,#02f,#02f,#02f,#02f,#02f,#02f,#01f,#01f,#01f,#01f,#01f,#02f,#02f,#03f,#04f,#05f,#06f,#07f,#07f,#08f,#07f,#07f,#06f,#06f,#05f,#04f,#03f,#02f,#02f,#01f,#01f,#01f,#01f,#01f,#00f,#00f,#00f,#00f,#00f,#00f,#00f,#00f,#00f,#00f,#00f,#00f,#00f,#00f,#00f)"></i><i style="background:linear-gradient(#00a,#00a,#00a,#00a,#00a,#00a,#00b,#00c,#00e,#01f,#05f,#09f,#0cf,#1fd,#5fa,#8f6,#cf3,#ef0,#fc0,#fa0,#f80,#f60,#f40,#f30,#f30,#f30,#f50,#f70,#fa0,#fc0,#ef1,#cf3,#9f5,#7f7,#5fa,#2fc,#0ee,#0bf,#08f,#03f,#00f,#00d,#00c,#00a,#008,#008,#008,#008,#009,#00c,#00e,#00f,#00f,#01f,#02f,#02f,#02f,#03f,#03f,#03f,#03f,#03f,#04f,#04f,#04f,#04f,#04f,#04f,#04f,#03f,#03f,#03f,#03f,#03f,#03f,#03f,#02f,#02f,#02f,#02f,#03f,#03f,#03f,#02f,#02f,#02f,#02f,#01f,#01f,#01f,#02f,#02f,#03f,#04f,#05f,#06f,#06f,#07f,#07f,#07f,#07f,#06f,#05f,#04f,#04f,#03f,#02f,#02f,#01f,#01f,#01f,#00f,#00f,#00f,#00f,#00f,#00f,#00f,#00f,#00f,#00f,#00f,#00f,#00f,#00f,#00f,#00f,#00f)"></i><i style="background:linear-gradient(#00a,#00a,#00a,#00a,#00a,#00a,#00b,#00d,#00f,#03f,#07f,#0bf,#0df,#3fc,#6f8,#af5,#df2,#fe0,#fb0,#f90,#f70,#f50,#f30,#f30,#f20,#f30,#f50,#f70,#fa0,#fd0,#ef1,#bf3,#9f5,#7f8,#4fa,#2fd,#0df,#0bf,#07f,#02f,#00f,#00d,#00c,#00a,#008,#008,#008,#008,#00a,#00c,#00e,#00f,#01f,#02f,#02f,#03f,#03f,#03f,#04f,#04f,#04f,#04f,#04f,#04f,#04f,#04f,#04f,#04f,#04f,#04f,#04f,#04f,#03f,#03f,#03f,#03f,#03f,#03f,#03f,#03f,#03f,#03f,#03f,#03f,#03f,#02f,#02f,#02f,#02f,#02f,#02f,#02f,#03f,#04f,#04f,#05f,#06f,#07f,#07f,#07f,#06f,#06f,#05f,#04f,#03f,#03f,#02f,#01f,#01f,#01f,#00f,#00f,#00f,#00f,#00f,#00f,#00f,#00f,#00f,#00f,#00f,#00f,#00f,#00f,#00f,#00f,#00f,#00f)"></i><i style="background:linear-gradient(#00a,#00a,#00a,#00a,#00a,#00a,#00c,#00e,#01f,#05f,#09f,#0cf,#1ee,#4fb,#7f7,#bf4,#ef1,#fd0,#fa0,#f80,#f60,#f40,#f30,#f20,#f20,#f30,#f50,#f80,#fa0,#fd0,#df1,#bf3,#9f6,#6f8,#4fb,#1fd,#0df,#0af,#06f,#02f,#00f,#00d,#00c,#00a,#008,#008,#008,#008,#00a,#00c,#00f,#00f,#01f,#02f,#03f,#04f,#04f,#04f,#04f,#05f,#05f,#05f,#05f,#05f,#05f,#05f,#05f,#05f,#05f,#05f,#04f,#04f,#04f,#04f,#03f,#03f,#03f,#03f,#03f,#03f,#03f,#03f,#03f,#03f,#03f,#03f,#02f,#02f,#02f,#02f,#02f,#02f,#03f,#03f,#04f,#05f,#06f,#06f,#06f,#06f,#06f,#05f,#05f,#04f,#03f,#02f,#02f,#01f,#01f,#00f,#00f,#00f,#00f,#00f,#00f,#00f,#00f,#00f,#00f,#00f,#00f,#00f,#00f,#00f,#00f,#00f,#00f,#00f)"></i><i style="background:linear-gradient(#00a,#00a,#00a,#00a,#00a,#00b,#00c,#00f,#01f,#06f,#0af,#0cf,#1fd,#5fa,#8f6,#cf3,#ef0,#fc0,#f90,#f70,#f50,#f30,#f20,#f10,#f20,#f30,#f50,#f80,#fb0,#fe0,#df1,#bf4,#8f6,#6f9,#4fb,#1fd,#0cf,#0af,#06f,#01f,#00f,#00e,#00c,#00a,#009,#008,#008,#009,#00b,#00d,#00f,#01f,#02f,#03f,#04f,#05f,#05f,#05f,#06f,#06f,#06f,#06f,#06f,#06f,#06f,#06f,#06f,#06f,#05f,#05f,#05f,#05f,#04f,#04f,#04f,#04f,#03f,#03f,#03f,#03f,#03f,#03f,#03f,#03f,#03f,#03f,#03f,#02f,#02f,#02f,#02f,#02f,#03f,#03f,#04f,#05f,#05f,#06f,#06f,#06f,#05f,#05f,#04f,#03f,#03f,#02f,#01f,#01f,#00f,#00f,#00f,#00f,#00f,#00f,#00f,#00f,#00f,#00f,#00e,#00e,#00e,#00f,#00f,#00f,#00f,#00f,#00f,#00f)"></i><i style="background:linear-gradient(#00a,#00a,#00a,#00a,#00a,#00b,#00d,#00f,#02f,#07f,#0af,#0df,#2fc,#5f9,#9f6,#cf2,#fe0,#fb0,#f90,#f60,#f40,#f20,#f10,#f10,#f20,#f30,#f60,#f80,#fb0,#fe0,#df2,#bf4,#8f6,#6f9,#3fb,#1fe,#0cf,#0af,#05f,#01f,#00e,#00e,#00c,#00a,#009,#008,#008,#00a,#00b,#00e,#00f,#02f,#03f,#04f,#05f,#06f,#06f,#06f,#07f,#07f,#07f,#07f,#07f,#07f,#07f,#07f,#07f,#06f,#06f,#06f,#06f,#05f,#05f,#05f,#04f,#04f,#04f,#04f,#04f,#04f,#04f,#04f,#04f,#04f,#03f,#03f,#03f,#02f,#02f,#02f,#02f,#02f,#02f,#03f,#04f,#04f,#05f,#05f,#05f,#05f,#05f,#04f,#04f,#03f,#02f,#02f,#01f,#01f,#00f,#00f,#00f,#00f,#00f,#00f,#00f,#00f,#00e,#00e,#00e,#00e,#00e,#00e,#00e,#00f,#00f,#00f,#00f,#00f)"></i><i style="background:linear-gradient(#00a,#00a,#00a,#00a,#00a,#00b,#00d,#00f,#03f,#07f,#0bf,#0df,#3fc,#6f9,#af5,#df2,#fe0,#fb0,#f80,#f60,#f30,#f20,#f10,#e10,#f20,#f30,#f60,#f80,#fb0,#fe0,#df2,#af4,#8f7,#5f9,#3fc,#1ee,#0cf,#09f,#04f,#01f,#00f,#00e,#00c,#00b,#009,#009,#009,#00a,#00c,#00e,#01f,#02f,#04f,#05f,#06f,#07f,#07f,#08f,#08f,#08f,#08f,#08f,#08f,#08f,#08f,#08f,#08f,#07f,#07f,#07f,#06f,#06f,#06f,#05f,#05f,#05f,#04f,#04f,#04f,#04f,#04f,#04f,#04f,#04f,#04f,#03f,#03f,#03f,#02f,#02f,#02f,#02f,#02f,#03f,#03f,#04f,#04f,#05f,#05f,#05f,#04f,#04f,#03f,#03f,#02f,#01f,#01f,#00f,#00f,#00f,#00f,#00f,#00f,#00f,#00f,#00e,#00e,#00e,#00d,#00d,#00d,#00e,#00e,#00e,#00f,#00f,#00f,#00f)"></i><i style="background:linear-gradient(#00a,#00a,#00a,#00a,#00a,#00b,#00d,#00f,#03f,#08f,#0bf,#0ee,#3fc,#6f8,#af4,#df1,#fd0,#fa0,#f70,#f50,#f30,#f10,#e00,#e10,#f20,#f40,#f60,#f90,#fc0,#fe0,#cf2,#af5,#7f7,#5fa,#2fc,#0ee,#0bf,#08f,#03f,#00f,#00f,#00e,#00c,#00b,#00a,#009,#009,#00b,#00d,#00f,#01f,#03f,#05f,#06f,#07f,#08f,#08f,#09f,#09f,#09f,#09f,#09f,#09f,#09f,#09f,#09f,#09f,#08f,#08f,#08f,#07f,#07f,#06f,#06f,#05f,#05f,#05f,#05f,#04f,#04f,#04f,#04f,#04f,#04f,#04f,#04f,#03f,#03f,#02f,#02f,#02f,#02f,#02f,#02f,#03f,#03f,#04f,#04f,#04f,#04f,#04f,#03f,#03f,#02f,#02f,#01f,#01f,#00f,#00f,#00f,#00f,#00f,#00f,#00f,#00e,#00e,#00d,#00d,#00d,#00d,#00d,#00d,#00e,#00e,#00f,#00f,#00f,#00f)"></i><i style="background:linear-gradient(#00a,#00a,#00a,#00a,#00a,#00b,#00e,#00f,#04f,#08f,#0bf,#0ee,#3fb,#7f8,#af4,#ef1,#fd0,#fa0,#f70,#f40,#f20,#e10,#e00,#e00,#f20,#f40,#f60,#f90,#fc0,#ef0,#cf3,#9f5,#7f8,#4fb,#1fd,#0df,#0af,#06f,#02f,#00f,#00f,#00e,#00d,#00b,#00a,#00a,#00a,#00b,#00d,#00f,#01f,#03f,#05f,#07f,#08f,#08f,#09f,#0af,#0af,#0af,#0af,#0af,#0af,#0af,#0af,#0af,#0af,#09f,#09f,#09f,#08f,#08f,#07f,#07f,#06f,#06f,#05f,#05f,#05f,#05f,#05f,#05f,#05f,#05f,#04f,#04f,#03f,#03f,#02f,#02f,#02f,#02f,#02f,#02f,#03f,#03f,#03f,#04f,#04f,#04f,#03f,#03f,#02f,#02f,#01f,#01f,#00f,#00f,#00f,#00f,#00f,#00f,#00f,#00e,#00e,#00e,#00d,#00d,#00c,#00c,#00c,#00d,#00d,#00e,#00e,#00f,#00f,#00f)"></i><i style="background:linear-gradient(#00a,#00a,#00a,#00a,#00a,#00c,#00e,#01f,#04f,#09f,#0bf,#1ee,#4fb,#7f7,#bf4,#ef1,#fc0,#f90,#f60,#f30,#f10,#e00,#d00,#e00,#f20,#f40,#f70,#fa0,#fd0,#ef1,#bf3,#8f6,#5f9,#3fc,#0ee,#0bf,#08f,#03f,#00f,#00f,#00f,#00e,#00d,#00b,#00a,#00a,#00a,#00b,#00d,#00f,#02f,#04f,#05f,#07f,#08f,#09f,#0af,#0af,#0bf,#0bf,#0bf,#0bf,#0cf,#0cf,#0bf,#0bf,#0bf,#0bf,#0af,#0af,#09f,#09f,#08f,#07f,#07f,#06f,#06f,#06f,#05f,#05f,#05f,#05f,#05f,#05f,#04f,#04f,#04f,#03f,#03f,#02f,#02f,#02f,#02f,#02f,#02f,#02f,#03f,#03f,#03f,#03f,#03f,#02f,#02f,#02f,#01f,#01f,#00f,#00f,#00f,#00f,#00f,#00f,#00f,#00e,#00e,#00d,#00d,#00c,#00c,#00c,#00c,#00c,#00d,#00d,#00e,#00f,#00f,#00f)"></i><i style="background:linear-gradient(#00a,#00a,#00a,#00a,#00a,#00c,#00e,#01f,#05f,#09f,#0cf,#1fe,#4fa,#8f7,#bf3,#ef0,#fc0,#f80,#f50,#f30,#f10,#d00,#d00,#e00,#f20,#f40,#f70,#fa0,#fd0,#df1,#af4,#7f7,#4fa,#1fd,#0cf,#0af,#06f,#01f,#00f,#00f,#00f,#00e,#00d,#00b,#00a,#00a,#00a,#00b,#00d,#00f,#02f,#04f,#05f,#07f,#08f,#09f,#0af,#0bf,#0bf,#0cf,#0cf,#0cf,#0df,#0df,#0df,#0df,#0cf,#0cf,#0bf,#0bf,#0af,#09f,#09f,#08f,#07f,#07f,#06f,#06f,#06f,#06f,#05f,#05f,#05f,#05f,#05f,#04f,#04f,#03f,#03f,#02f,#02f,#01f,#01f,#02f,#02f,#02f,#02f,#02f,#03f,#02f,#02f,#02f,#02f,#01f,#01f,#00f,#00f,#00f,#00f,#00f,#00f,#00f,#00e,#00e,#00e,#00d,#00c,#00c,#00b,#00b,#00b,#00c,#00c,#00d,#00e,#00e,#00e,#00e)"></i><i style="background:linear-gradient(#00a,#00a,#00a,#00a,#00a,#00c,#00e,#01f,#05f,#09f,#0cf,#1fd,#5fa,#8f6,#cf3,#fe0,#fb0,#f80,#f50,#f20,#e00,#d00,#d00,#e00,#f20,#f50,#f70,#fa0,#fd0,#df2,#af4,#7f8,#4fb,#1ee,#0cf,#09f,#04f,#01f,#00f,#00f,#00f,#00e,#00d,#00c,#00b,#00a,#00a,#00b,#00d,#00f,#02f,#03f,#05f,#07f,#08f,#09f,#0af,#0bf,#0cf,#0cf,#0df,#0df,#0ee,#0ee,#0ee,#0ee,#0df,#0df,#0cf,#0cf,#0bf,#0af,#0af,#09f,#08f,#07f,#07f,#06f,#06f,#06f,#06f,#06f,#06f,#05f,#05f,#04f,#04f,#03f,#03f,#02f,#02f,#01f,#01f,#01f,#01f,#01f,#02f,#02f,#02f,#02f,#02f,#02f,#01f,#01f,#01f,#00f,#00f,#00f,#00f,#00f,#00f,#00f,#00e,#00e,#00d,#00d,#00c,#00b,#00b,#00a,#00b,#00b,#00c,#00d,#00e,#00e,#00e,#00e)"></i><i style="background:linear-gradient(#00a,#00a,#00a,#00a,#00b,#00c,#00f,#02f,#06f,#0af,#0cf,#2fd,#5fa,#9f6,#cf2,#fe0,#fb0,#f70,#f40,#f20,#e00,#c00,#d00,#e00,#f20,#f50,#f80,#fa0,#fd0,#df1,#af4,#7f7,#4fa,#1fd,#0cf,#0af,#05f,#01f,#00f,#00f,#00f,#00e,#00d,#00c,#00b,#00a,#00a,#00b,#00d,#00f,#01f,#03f,#05f,#07f,#08f,#09f,#0af,#0bf,#0cf,#0df,#0ee,#0ee,#1ee,#1fe,#1fd,#1fe,#1ee,#0ee,#0df,#0df,#0cf,#0bf,#0af,#09f,#09f,#08f,#07f,#07f,#06f,#06f,#06f,#06f,#06f,#06f,#05f,#05f,#04f,#03f,#03f,#02f,#01f,#01f,#01f,#01f,#01f,#01f,#01f,#01f,#01f,#01f,#01f,#01f,#01f,#01f,#00f,#00f,#00f,#00f,#00f,#00f,#00f,#00f,#00e,#00e,#00d,#00d,#00c,#00b,#00a,#00a,#00a,#00b,#00c,#00d,#00e,#00e,#00e,#00e)"></i><i style="background:linear-gradient(#00a,#00a,#00a,#00a,#00b,#00c,#00f,#02f,#06f,#0af,#0cf,#2fd,#5f9,#9f5,#df2,#fd0,#fa0,#f70,#f40,#f10,#d00,#c00,#d00,#e00,#f20,#f50,#f70,#fa0,#fd0,#df1,#bf4,#8f7,#5f9,#2fc,#0df,#0bf,#08f,#03f,#00f,#00f,#00f,#00e,#00d,#00c,#00b,#00a,#00a,#00b,#00d,#00f,#01f,#03f,#05f,#07f,#08f,#09f,#0af,#0bf,#0cf,#0df,#0ee,#1fe,#1fd,#2fd,#2fd,#2fd,#1fd,#1fd,#1ee,#0df,#0df,#0cf,#0bf,#0af,#09f,#08f,#08f,#07f,#07f,#07f,#06f,#06f,#06f,#06f,#05f,#05f,#04f,#03f,#03f,#02f,#01f,#01f,#01f,#00f,#00f,#00f,#01f,#01f,#01f,#01f,#01f,#01f,#00f,#00f,#00f,#00f,#00f,#00f,#00f,#00f,#00f,#00f,#00e,#00e,#00d,#00c,#00b,#00a,#00a,#009,#00a,#00a,#00b,#00c,#00d,#00e,#00e,#00e)"></i><i style="background:linear-gradient(#00a,#00a,#00a,#00a,#00b,#00d,#00f,#02f,#07f,#0af,#0df,#2fc,#6f9,#9f5,#df2,#fd0,#fa0,#f70,#f40,#f10,#d00,#c00,#d00,#e00,#f20,#f50,#f70,#fa0,#fd0,#ef1,#bf3,#9f6,#6f8,#4fb,#1fd,#0cf,#0af,#06f,#01f,#00f,#00f,#00e,#00d,#00c,#00b,#00a,#00a,#00b,#00d,#00f,#01f,#03f,#05f,#07f,#08f,#09f,#0bf,#0cf,#0df,#0ee,#1ee,#1fd,#2fd,#2fd,#2fc,#2fd,#2fd,#1fd,#1fe,#0ee,#0df,#0cf,#0bf,#0af,#09f,#09f,#08f,#07f,#07f,#07f,#07f,#06f,#06f,#06f,#05f,#05f,#04f,#03f,#03f,#02f,#01f,#01f,#00f,#00f,#00f,#00f,#00f,#00f,#00f,#00f,#00f,#00f,#00f,#00f,#00f,#00f,#00f,#00f,#00f,#00f,#00f,#00f,#00e,#00e,#00d,#00c,#00b,#00a,#009,#009,#009,#00a,#00b,#00c,#00d,#00e,#00e,#00e)"></i><i style="background:linear-gradient(#00a,#00a,#00a,#00a,#00b,#00d,#00f,#02f,#07f,#0af,#0df,#2fc,#6f9,#af5,#df1,#fd0,#f90,#f60,#f30,#f10,#d00,#c00,#d00,#e00,#f20,#f40,#f70,#fa0,#fd0,#ef1,#cf3,#af5,#7f7,#5fa,#2fc,#0ee,#0bf,#08f,#03f,#00f,#00f,#00e,#00d,#00b,#00a,#00a,#00a,#00b,#00d,#00f,#01f,#03f,#05f,#07f,#08f,#09f,#0bf,#0cf,#0df,#0ee,#1ee,#1fd,#2fd,#2fc,#2fc,#2fc,#2fd,#2fd,#1fd,#1ee,#0df,#0cf,#0cf,#0bf,#0af,#09f,#08f,#08f,#07f,#07f,#07f,#07f,#06f,#06f,#06f,#05f,#04f,#03f,#03f,#02f,#01f,#00f,#00f,#00f,#00f,#00f,#00f,#00f,#00f,#00f,#00f,#00f,#00f,#00f,#00f,#00f,#00f,#00f,#00f,#00f,#00f,#00f,#00f,#00e,#00d,#00c,#00b,#00a,#009,#009,#009,#00a,#00b,#00c,#00d,#00e,#00e,#00e)"></i><i style="background:linear-gradient(#00a,#00a,#00a,#00a,#00b,#00d,#00f,#03f,#07f,#0af,#0df,#3fc,#6f8,#af4,#ef1,#fc0,#f90,#f60,#f30,#f10,#d00,#c00,#c00,#e00,#f20,#f40,#f70,#fa0,#fc0,#ef0,#cf2,#af5,#8f7,#5f9,#3fb,#1fe,#0cf,#0af,#05f,#01f,#00f,#00e,#00d,#00b,#00a,#00a,#00a,#00b,#00d,#00f,#01f,#03f,#05f,#07f,#08f,#09f,#0af,#0cf,#0df,#0ee,#1ee,#1fd,#2fd,#2fd,#2fc,#2fc,#2fd,#2fd,#1fd,#1ee,#0df,#0df,#0cf,#0bf,#0af,#09f,#08f,#08f,#07f,#07f,#07f,#07f,#07f,#06f,#06f,#05f,#04f,#03f,#02f,#02f,#01f,#00f,#00f,#00f,#00f,#00f,#00f,#00f,#00f,#00f,#00f,#00f,#00f,#00f,#00f,#00f,#00f,#00f,#00f,#00f,#00f,#00f,#00f,#00e,#00d,#00c,#00b,#00a,#009,#009,#009,#00a,#00b,#00c,#00d,#00e,#00e,#00e)"></i><i style="background:linear-gradient(#00a,#00a,#00a,#00a,#00b,#00d,#00f,#03f,#07f,#0bf,#0df,#3fc,#7f8,#bf4,#ef1,#fc0,#f90,#f60,#f30,#f10,#d00,#c00,#c00,#e00,#f20,#f40,#f70,#fa0,#fc0,#ef0,#cf2,#af4,#8f7,#6f9,#3fb,#1fd,#0df,#0af,#06f,#02f,#00f,#00e,#00d,#00b,#00a,#00a,#00a,#00b,#00d,#00f,#01f,#03f,#05f,#07f,#08f,#09f,#0af,#0bf,#0cf,#0df,#0ee,#1fd,#1fd,#2fd,#2fd,#2fd,#2fd,#1fd,#1fe,#0ee,#0df,#0cf,#0cf,#0bf,#0af,#09f,#08f,#08f,#08f,#07f,#07f,#07f,#07f,#06f,#06f,#05f,#04f,#03f,#02f,#01f,#01f,#00f,#00f,#00f,#00e,#00e,#00e,#00e,#00e,#00e,#00f,#00f,#00f,#00f,#00f,#00f,#00f,#00f,#00f,#00f,#00f,#00f,#00f,#00e,#00d,#00c,#00b,#00a,#009,#009,#009,#00a,#00b,#00c,#00d,#00e,#00e,#00e)"></i><i style="background:linear-gradient(#00a,#00a,#00a,#00a,#00b,#00d,#00f,#03f,#08f,#0bf,#0df,#3fc,#7f8,#bf4,#ef0,#fc0,#f90,#f50,#f30,#e10,#d00,#c00,#c00,#e00,#f20,#f40,#f70,#fa0,#fc0,#ef0,#cf2,#af4,#8f7,#6f9,#4fb,#2fd,#0df,#0af,#07f,#02f,#00f,#00e,#00c,#00b,#00a,#00a,#00a,#00b,#00d,#00f,#01f,#03f,#05f,#06f,#08f,#09f,#0af,#0bf,#0cf,#0df,#0ee,#1ee,#1fd,#1fd,#2fd,#2fd,#1fd,#1fd,#1ee,#0ee,#0df,#0cf,#0bf,#0bf,#0af,#09f,#08f,#08f,#08f,#07f,#07f,#07f,#07f,#06f,#06f,#05f,#04f,#03f,#02f,#01f,#00f,#00f,#00f,#00e,#00e,#00e,#00e,#00e,#00e,#00e,#00e,#00e,#00e,#00f,#00f,#00f,#00f,#00f,#00f,#00f,#00f,#00f,#00f,#00e,#00e,#00c,#00b,#00a,#009,#009,#009,#00a,#00b,#00c,#00d,#00e,#00e,#00e)"></i><i style="background:linear-gradient(#00a,#00a,#00a,#00a,#00b,#00d,#00f,#03f,#08f,#0bf,#0df,#3fb,#7f7,#bf3,#ef0,#fb0,#f80,#f50,#f30,#e00,#c00,#c00,#c00,#e00,#f20,#f40,#f70,#fa0,#fc0,#ef0,#cf2,#af4,#8f6,#6f9,#4fb,#2fd,#0df,#0bf,#07f,#02f,#00f,#00e,#00c,#00b,#00a,#00a,#00a,#00b,#00d,#00f,#01f,#03f,#05f,#06f,#08f,#09f,#0af,#0bf,#0cf,#0df,#0df,#0ee,#1ee,#1fd,#1fd,#1fd,#1fe,#1ee,#0ee,#0df,#0df,#0cf,#0bf,#0af,#0af,#09f,#08f,#08f,#08f,#07f,#07f,#07f,#07f,#06f,#06f,#05f,#04f,#03f,#02f,#01f,#00f,#00f,#00e,#00e,#00d,#00d,#00d,#00d,#00d,#00d,#00e,#00e,#00e,#00e,#00f,#00f,#00f,#00f,#00f,#00f,#00f,#00f,#00f,#00e,#00e,#00d,#00c,#00a,#00a,#009,#009,#00a,#00b,#00c,#00d,#00e,#00e,#00e)"></i><i style="background:linear-gradient(#00a,#00a,#00a,#00a,#00b,#00d,#00f,#03f,#08f,#0bf,#0ef,#3fb,#7f7,#bf3,#fe0,#fb0,#f80,#f50,#f20,#e00,#c00,#c00,#c00,#e00,#f20,#f40,#f70,#fa0,#fd0,#ef0,#cf2,#af4,#8f6,#6f9,#4fb,#2fd,#0df,#0bf,#07f,#02f,#00f,#00e,#00c,#00b,#00a,#00a,#00a,#00b,#00d,#00f,#01f,#03f,#05f,#06f,#07f,#09f,#0af,#0af,#0bf,#0cf,#0df,#0df,#0ee,#1ee,#1ee,#0ee,#0df,#0df,#0df,#0df,#0cf,#0cf,#0bf,#0af,#0af,#09f,#08f,#08f,#08f,#07f,#07f,#07f,#07f,#06f,#06f,#05f,#04f,#03f,#02f,#01f,#00f,#00f,#00e,#00d,#00d,#00c,#00c,#00c,#00d,#00d,#00d,#00d,#00e,#00e,#00e,#00f,#00f,#00f,#00f,#00f,#00f,#00f,#00f,#00f,#00e,#00d,#00c,#00b,#00a,#00a,#00a,#00a,#00b,#00d,#00e,#00e,#00e,#00e)"></i><i style="background:linear-gradient(#00a,#00a,#00a,#00a,#00b,#00d,#00f,#03f,#08f,#0bf,#0df,#3fb,#7f7,#cf3,#fe0,#fb0,#f80,#f50,#f20,#e00,#c00,#c00,#c00,#e00,#f20,#f50,#f70,#fa0,#fd0,#ef0,#cf2,#af4,#8f7,#6f9,#4fb,#2fd,#0df,#0bf,#07f,#02f,#00f,#00e,#00c,#00b,#00a,#009,#00a,#00b,#00d,#00f,#01f,#03f,#04f,#06f,#07f,#08f,#09f,#0af,#0bf,#0cf,#0cf,#0df,#0df,#0ee,#0df,#0cf,#0cf,#0bf,#0cf,#0cf,#0cf,#0cf,#0bf,#0af,#09f,#09f,#08f,#08f,#08f,#07f,#07f,#07f,#07f,#06f,#06f,#05f,#04f,#03f,#02f,#01f,#00f,#00e,#00d,#00d,#00c,#00c,#00c,#00c,#00c,#00c,#00d,#00d,#00d,#00e,#00e,#00e,#00f,#00f,#00f,#00f,#00f,#00f,#00f,#00f,#00e,#00d,#00c,#00b,#00b,#00a,#00a,#00b,#00c,#00d,#00e,#00e,#00e,#00e)"></i><i style="background:linear-gradient(#00a,#00a,#00a,#00a,#00b,#00d,#00f,#03f,#07f,#0bf,#0df,#3fb,#7f7,#cf3,#fe0,#fb0,#f80,#f50,#f20,#e00,#c00,#c00,#c00,#e00,#f20,#f50,#f70,#fa0,#fd0,#ef0,#cf2,#af5,#8f7,#6f9,#3fb,#1fd,#0df,#0af,#06f,#02f,#00f,#00e,#00c,#00b,#00a,#009,#00a,#00b,#00c,#00f,#01f,#03f,#04f,#06f,#07f,#08f,#09f,#0af,#0bf,#0bf,#0cf,#0df,#0df,#0df,#0df,#0cf,#0bf,#0bf,#0bf,#0cf,#0cf,#0bf,#0bf,#0af,#09f,#09f,#08f,#08f,#08f,#07f,#07f,#07f,#07f,#06f,#06f,#05f,#04f,#03f,#02f,#00f,#00f,#00e,#00d,#00c,#00c,#00b,#00b,#00b,#00c,#00c,#00c,#00d,#00d,#00e,#00e,#00e,#00f,#00f,#00f,#00f,#00f,#00f,#00f,#00f,#00e,#00e,#00d,#00c,#00b,#00b,#00b,#00b,#00c,#00d,#00e,#00f,#00f,#00f)"></i><i style="background:linear-gradient(#00a,#00a,#00a,#00a,#00b,#00d,#00f,#03f,#07f,#0af,#0df,#3fc,#7f8,#bf3,#fe0,#fb0,#f80,#f50,#f30,#e10,#d00,#c00,#d00,#e00,#f20,#f50,#f70,#fa0,#fd0,#ef0,#cf3,#af5,#8f7,#5f9,#3fb,#1fe,#0cf,#0af,#05f,#01f,#00e,#00d,#00c,#00b,#00a,#009,#00a,#00b,#00c,#00e,#01f,#02f,#04f,#05f,#07f,#08f,#09f,#09f,#0af,#0bf,#0cf,#0cf,#0df,#0df,#0df,#0cf,#0cf,#0cf,#0cf,#0cf,#0cf,#0bf,#0af,#0af,#09f,#09f,#08f,#08f,#07f,#07f,#07f,#07f,#07f,#06f,#06f,#05f,#04f,#03f,#01f,#00f,#00f,#00e,#00d,#00c,#00b,#00b,#00b,#00b,#00b,#00b,#00c,#00c,#00d,#00d,#00e,#00e,#00f,#00f,#00f,#00f,#00f,#00f,#00f,#00f,#00f,#00e,#00d,#00c,#00c,#00c,#00c,#00c,#00d,#00e,#00e,#00f,#00f,#00f)"></i><i style="background:linear-gradient(#00a,#00a,#00a,#00a,#00b,#00d,#00f,#02f,#06f,#0af,#0df,#2fc,#6f8,#bf4,#ef0,#fc0,#f80,#f60,#f30,#f10,#d00,#c00,#d00,#e00,#f20,#f50,#f70,#fa0,#fc0,#ef0,#cf3,#af5,#7f7,#5fa,#3fc,#0ee,#0cf,#09f,#04f,#00f,#00e,#00d,#00c,#00b,#00a,#009,#009,#00a,#00c,#00e,#00f,#02f,#04f,#05f,#06f,#07f,#08f,#09f,#0af,#0af,#0bf,#0cf,#0cf,#0cf,#0cf,#0cf,#0cf,#0cf,#0cf,#0cf,#0bf,#0bf,#0af,#09f,#09f,#08f,#08f,#08f,#07f,#07f,#07f,#07f,#07f,#06f,#06f,#05f,#04f,#02f,#01f,#00f,#00f,#00d,#00c,#00b,#00b,#00b,#00a,#00a,#00b,#00b,#00b,#00c,#00d,#00d,#00e,#00e,#00e,#00f,#00f,#00f,#00f,#00f,#00f,#00f,#00f,#00e,#00e,#00d,#00c,#00c,#00c,#00d,#00d,#00e,#00f,#00f,#00f,#00f)"></i><i style="background:linear-gradient(#00a,#00a,#00a,#00a,#00b,#00c,#00f,#01f,#06f,#09f,#0cf,#2fd,#6f9,#af5,#ef1,#fc0,#f90,#f60,#f40,#f10,#e00,#d00,#d00,#e10,#f20,#f50,#f70,#fa0,#fc0,#ef0,#cf2,#af5,#7f7,#5fa,#2fc,#0df,#0bf,#08f,#03f,#00f,#00e,#00d,#00c,#00b,#00a,#009,#009,#00a,#00c,#00e,#00f,#02f,#04f,#05f,#06f,#07f,#08f,#09f,#09f,#0af,#0bf,#0bf,#0cf,#0cf,#0cf,#0cf,#0cf,#0cf,#0cf,#0bf,#0bf,#0af,#0af,#09f,#09f,#08f,#08f,#07f,#07f,#07f,#07f,#07f,#07f,#06f,#06f,#05f,#04f,#02f,#01f,#00f,#00e,#00d,#00c,#00b,#00b,#00a,#00a,#00a,#00a,#00b,#00b,#00c,#00c,#00d,#00d,#00e,#00e,#00f,#00f,#00f,#00f,#00f,#00f,#00f,#00f,#00f,#00e,#00d,#00d,#00d,#00d,#00d,#00e,#00e,#00f,#00f,#00f,#00f)"></i><i style="background:linear-gradient(#00a,#00a,#00a,#00a,#00a,#00c,#00e,#01f,#05f,#09f,#0cf,#1fe,#5fa,#9f5,#df2,#fd0,#fa0,#f70,#f40,#f20,#e10,#d00,#d00,#f10,#f20,#f50,#f70,#fa0,#fc0,#ef0,#cf2,#af5,#7f7,#5fa,#2fc,#0df,#0bf,#08f,#03f,#00f,#00e,#00d,#00c,#00b,#00a,#009,#009,#00a,#00c,#00e,#00f,#02f,#03f,#05f,#06f,#07f,#08f,#08f,#09f,#0af,#0af,#0bf,#0bf,#0bf,#0cf,#0cf,#0cf,#0cf,#0bf,#0bf,#0bf,#0af,#0af,#09f,#09f,#08f,#08f,#07f,#07f,#07f,#07f,#07f,#07f,#06f,#06f,#05f,#04f,#02f,#01f,#00f,#00e,#00d,#00c,#00b,#00a,#00a,#00a,#00a,#00a,#00a,#00b,#00c,#00c,#00d,#00d,#00e,#00e,#00f,#00f,#00f,#00f,#00f,#00f,#00f,#00f,#00f,#00e,#00e,#00e,#00d,#00d,#00e,#00e,#00f,#00f,#00f,#00f,#00f)"></i><i style="background:linear-gradient(#00a,#00a,#00a,#00a,#00a,#00b,#00d,#00f,#04f,#08f,#0bf,#0ee,#4fb,#8f7,#cf3,#fe0,#fb0,#f80,#f50,#f30,#f10,#e00,#e00,#f10,#f30,#f50,#f70,#f90,#fc0,#fe0,#cf2,#af5,#7f7,#5fa,#2fc,#0df,#0bf,#08f,#03f,#00f,#00e,#00d,#00c,#00b,#00a,#009,#009,#00a,#00c,#00e,#00f,#02f,#03f,#05f,#06f,#06f,#07f,#08f,#09f,#09f,#0af,#0af,#0bf,#0bf,#0bf,#0bf,#0bf,#0bf,#0bf,#0bf,#0af,#0af,#09f,#09f,#08f,#08f,#08f,#07f,#07f,#07f,#07f,#07f,#07f,#06f,#05f,#05f,#03f,#02f,#01f,#00f,#00e,#00d,#00c,#00b,#00a,#00a,#00a,#00a,#00a,#00a,#00b,#00b,#00c,#00d,#00d,#00e,#00e,#00f,#00f,#00f,#00f,#00f,#00f,#00f,#00f,#00f,#00f,#00e,#00e,#00e,#00e,#00e,#00f,#00f,#00f,#00f,#00f,#00f)"></i><i style="background:linear-gradient(#00a,#00a,#00a,#00a,#00a,#00b,#00d,#00f,#03f,#07f,#0af,#0df,#3fc,#7f8,#bf4,#ef0,#fc0,#f90,#f60,#f40,#f20,#f10,#f10,#f10,#f30,#f50,#f70,#f90,#fc0,#fe0,#df2,#af4,#8f7,#5fa,#2fc,#0df,#0bf,#08f,#03f,#00f,#00e,#00d,#00c,#00b,#00a,#009,#009,#00a,#00c,#00e,#00f,#02f,#03f,#04f,#05f,#06f,#07f,#08f,#08f,#09f,#09f,#0af,#0af,#0bf,#0bf,#0bf,#0bf,#0bf,#0bf,#0af,#0af,#0af,#09f,#09f,#08f,#08f,#08f,#07f,#07f,#07f,#07f,#07f,#07f,#06f,#05f,#05f,#03f,#02f,#01f,#00f,#00e,#00d,#00c,#00b,#00a,#00a,#00a,#00a,#00a,#00a,#00b,#00b,#00c,#00d,#00d,#00e,#00e,#00f,#00f,#00f,#00f,#00f,#00f,#00f,#00f,#00f,#00f,#00f,#00e,#00e,#00e,#00f,#00f,#00f,#00f,#00f,#00f,#00f)"></i><i style="background:linear-gradient(#00a,#00a,#00a,#00a,#00a,#00b,#00c,#00f,#02f,#06f,#0af,#0cf,#2fd,#6f9,#af5,#df1,#fd0,#fa0,#f70,#f50,#f30,#f20,#f10,#f20,#f30,#f50,#f70,#f90,#fb0,#fe0,#df2,#bf4,#8f7,#5f9,#2fc,#0ee,#0bf,#08f,#03f,#00f,#00e,#00d,#00c,#00b,#00a,#009,#009,#00a,#00c,#00e,#00f,#01f,#03f,#04f,#05f,#06f,#07f,#07f,#08f,#09f,#09f,#0af,#0af,#0af,#0bf,#0bf,#0bf,#0bf,#0bf,#0af,#0af,#0af,#09f,#09f,#08f,#08f,#08f,#07f,#07f,#07f,#07f,#07f,#07f,#06f,#05f,#05f,#03f,#02f,#01f,#00f,#00e,#00d,#00c,#00b,#00a,#00a,#00a,#00a,#00a,#00a,#00b,#00b,#00c,#00d,#00d,#00e,#00e,#00f,#00f,#00f,#00f,#00f,#00f,#00f,#00f,#00f,#00f,#00f,#00f,#00f,#00f,#00f,#00f,#00f,#00f,#00f,#00f,#00f)"></i><i style="background:linear-gradient(#00a,#00a,#00a,#00a,#00a,#00a,#00c,#00e,#01f,#05f,#09f,#0cf,#1fd,#5fa,#9f6,#cf2,#fe0,#fb0,#f90,#f60,#f40,#f30,#f20,#f20,#f30,#f50,#f70,#f90,#fb0,#fe0,#df1,#bf4,#8f6,#5f9,#3fc,#0ee,#0bf,#09f,#04f,#00f,#00e,#00d,#00c,#00b,#00a,#009,#009,#00a,#00c,#00e,#00f,#01f,#03f,#04f,#05f,#06f,#06f,#07f,#08f,#08f,#09f,#09f,#0af,#0af,#0af,#0af,#0bf,#0bf,#0af,#0af,#0af,#0af,#09f,#09f,#08f,#08f,#08f,#07f,#07f,#07f,#07f,#07f,#07f,#06f,#05f,#05f,#04f,#02f,#01f,#00f,#00e,#00d,#00c,#00b,#00a,#00a,#00a,#00a,#00a,#00a,#00b,#00b,#00c,#00d,#00d,#00e,#00e,#00f,#00f,#00f,#00f,#00f,#00f,#00f,#00f,#00f,#00f,#00f,#00f,#00f,#00f,#00f,#00f,#00f,#00f,#00f,#00f,#00f)"></i><i style="background:linear-gradient(#00a,#00a,#00a,#00a,#00a,#00a,#00c,#00e,#00f,#04f,#08f,#0bf,#0ee,#4fb,#7f7,#bf3,#ef0,#fc0,#fa0,#f70,#f50,#f40,#f30,#f30,#f30,#f50,#f70,#f90,#fb0,#fd0,#df1,#bf3,#8f6,#6f9,#3fc,#1ee,#0cf,#09f,#04f,#00f,#00e,#00d,#00c,#00b,#00a,#009,#009,#00a,#00c,#00e,#00f,#01f,#03f,#04f,#05f,#05f,#06f,#07f,#07f,#08f,#09f,#09f,#0af,#0af,#0af,#0af,#0af,#0bf,#0af,#0af,#0af,#0af,#09f,#09f,#09f,#08f,#08f,#08f,#07f,#07f,#07f,#07f,#07f,#06f,#06f,#05f,#04f,#02f,#01f,#00f,#00e,#00d,#00c,#00b,#00a,#00a,#00a,#00a,#00a,#00b,#00b,#00c,#00c,#00d,#00d,#00e,#00e,#00f,#00f,#00f,#00f,#00f,#00f,#00f,#00f,#00f,#00f,#00f,#00f,#00f,#00f,#00f,#00f,#00f,#00f,#00f,#00f,#00f)"></i><i style="background:linear-gradient(#00a,#00a,#00a,#00a,#00a,#00a,#00b,#00d,#00f,#03f,#08f,#0bf,#0df,#3fc,#6f8,#af4,#df1,#fd0,#fb0,#f80,#f60,#f50,#f30,#f30,#f40,#f50,#f70,#f90,#fb0,#fd0,#ef1,#bf3,#9f6,#6f8,#3fb,#1ee,#0cf,#09f,#05f,#01f,#00f,#00d,#00c,#00b,#00a,#009,#009,#00a,#00c,#00d,#00f,#01f,#02f,#04f,#05f,#05f,#06f,#07f,#07f,#08f,#08f,#09f,#09f,#0af,#0af,#0af,#0bf,#0bf,#0bf,#0af,#0af,#0af,#0af,#09f,#09f,#08f,#08f,#08f,#08f,#07f,#07f,#07f,#07f,#06f,#06f,#05f,#04f,#02f,#01f,#00f,#00f,#00d,#00c,#00b,#00b,#00a,#00a,#00a,#00a,#00b,#00b,#00c,#00c,#00d,#00d,#00e,#00e,#00f,#00f,#00f,#00f,#00f,#00f,#00f,#00f,#00f,#00f,#00f,#00f,#00f,#00f,#00f,#00f,#00f,#00f,#00f,#00f,#00f)"></i><i style="background:linear-gradient(#00a,#00a,#00a,#00a,#00a,#00a,#00b,#00d,#00f,#02f,#07f,#0af,#0df,#2fc,#5f9,#9f5,#cf2,#fe0,#fc0,#f90,#f70,#f50,#f40,#f40,#f40,#f50,#f70,#f90,#fb0,#fd0,#ef1,#cf3,#9f5,#6f8,#4fb,#1fe,#0cf,#0af,#05f,#01f,#00e,#00d,#00c,#00b,#00a,#009,#009,#00a,#00c,#00d,#00f,#01f,#02f,#03f,#04f,#05f,#06f,#07f,#07f,#08f,#08f,#09f,#09f,#0af,#0af,#0af,#0bf,#0bf,#0bf,#0bf,#0af,#0af,#0af,#09f,#09f,#09f,#08f,#08f,#08f,#08f,#08f,#07f,#07f,#06f,#06f,#05f,#04f,#03f,#01f,#00f,#00f,#00e,#00d,#00c,#00b,#00b,#00b,#00b,#00b,#00b,#00c,#00c,#00d,#00d,#00e,#00e,#00f,#00f,#00f,#00f,#00f,#00f,#00f,#00f,#00f,#00f,#00f,#00f,#00f,#00f,#00f,#00f,#00f,#00f,#00f,#00f,#00f,#00f)"></i><i style="background:linear-gradient(#00a,#00a,#00a,#00a,#00a,#00a,#00b,#00c,#00f,#01f,#06f,#0af,#0cf,#1fd,#5fa,#8f6,#cf3,#ef0,#fc0,#fa0,#f80,#f60,#f50,#f40,#f40,#f50,#f70,#f90,#fb0,#fd0,#ef0,#cf3,#9f5,#7f8,#4fb,#1fd,#0cf,#0af,#06f,#01f,#00e,#00d,#00c,#00b,#00a,#009,#009,#00a,#00c,#00d,#00f,#01f,#02f,#03f,#04f,#05f,#06f,#06f,#07f,#08f,#08f,#09f,#09f,#0af,#0af,#0bf,#0bf,#0bf,#0bf,#0bf,#0bf,#0af,#0af,#0af,#09f,#09f,#09f,#08f,#08f,#08f,#08f,#08f,#07f,#07f,#06f,#05f,#04f,#03f,#02f,#00f,#00f,#00e,#00d,#00c,#00c,#00b,#00b,#00b,#00b,#00c,#00c,#00c,#00d,#00d,#00e,#00e,#00f,#00f,#00f,#00f,#00f,#00f,#00f,#00f,#00f,#00f,#00f,#00f,#00f,#00f,#00f,#00f,#00f,#00f,#00f,#00f,#00f,#00f)"></i><i style="background:linear-gradient(#00a,#00a,#00a,#00a,#00a,#00a,#00b,#00c,#00e,#01f,#05f,#09f,#0cf,#1fd,#4fa,#8f7,#bf4,#ef1,#fd0,#fb0,#f90,#f70,#f60,#f50,#f50,#f50,#f70,#f90,#fb0,#fd0,#ef0,#cf2,#af5,#7f8,#4fa,#1fd,#0df,#0af,#06f,#02f,#00f,#00d,#00c,#00b,#00a,#009,#009,#00a,#00c,#00d,#00f,#01f,#02f,#03f,#04f,#05f,#06f,#06f,#07f,#08f,#08f,#09f,#09f,#0af,#0af,#0bf,#0bf,#0bf,#0bf,#0bf,#0bf,#0bf,#0af,#0af,#0af,#09f,#09f,#09f,#08f,#08f,#08f,#08f,#07f,#07f,#06f,#05f,#04f,#03f,#02f,#01f,#00f,#00e,#00d,#00d,#00c,#00c,#00c,#00c,#00c,#00c,#00c,#00d,#00d,#00e,#00e,#00f,#00f,#00f,#00f,#00f,#00f,#00f,#00f,#00f,#00f,#00f,#00f,#00f,#00f,#00f,#00f,#00f,#00f,#00f,#00f,#00f,#00f,#00f)"></i><i style="background:linear-gradient(#00a,#00a,#00a,#00a,#00a,#00a,#00b,#00c,#00e,#01f,#05f,#09f,#0cf,#1ee,#4fb,#7f7,#af4,#df1,#fe0,#fb0,#f90,#f80,#f60,#f50,#f50,#f60,#f70,#f80,#fa0,#fd0,#ef0,#cf2,#af5,#7f7,#4fa,#2fd,#0df,#0af,#07f,#02f,#00f,#00e,#00c,#00b,#00a,#009,#00a,#00a,#00c,#00d,#00f,#01f,#02f,#03f,#04f,#05f,#06f,#06f,#07f,#08f,#08f,#09f,#09f,#0af,#0af,#0bf,#0bf,#0bf,#0bf,#0bf,#0bf,#0bf,#0bf,#0af,#0af,#0af,#09f,#09f,#09f,#08f,#08f,#08f,#07f,#07f,#06f,#05f,#04f,#03f,#02f,#01f,#00f,#00f,#00e,#00d,#00d,#00c,#00c,#00c,#00c,#00d,#00d,#00d,#00e,#00e,#00f,#00f,#00f,#00f,#00f,#00f,#00f,#00f,#00f,#00f,#00f,#00f,#00f,#00f,#00f,#00f,#00f,#00f,#00f,#00f,#00f,#00f,#00f,#00f)"></i><i style="background:linear-gradient(#00a,#00a,#00a,#00a,#00a,#00a,#00b,#00c,#00e,#00f,#04f,#09f,#0bf,#1ee,#3fb,#7f8,#af4,#df2,#fe0,#fc0,#fa0,#f80,#f70,#f60,#f50,#f60,#f70,#f80,#fa0,#fd0,#ef0,#cf2,#af5,#7f7,#5fa,#2fd,#0df,#0bf,#07f,#02f,#00f,#00e,#00c,#00b,#00a,#00a,#00a,#00a,#00c,#00e,#00f,#01f,#02f,#03f,#04f,#05f,#05f,#06f,#07f,#07f,#08f,#09f,#09f,#0af,#0af,#0bf,#0bf,#0bf,#0bf,#0cf,#0bf,#0bf,#0bf,#0bf,#0af,#0af,#0af,#09f,#09f,#09f,#08f,#08f,#08f,#07f,#06f,#05f,#04f,#03f,#02f,#01f,#00f,#00f,#00e,#00e,#00d,#00d,#00d,#00d,#00d,#00e,#00e,#00e,#00f,#00f,#00f,#00f,#00f,#00f,#00f,#00f,#00f,#00f,#00f,#00f,#00f,#00f,#00f,#00f,#00f,#00f,#00f,#00f,#00f,#00f,#00f,#00f,#00f,#00f)"></i><i style="background:linear-gradient(#00a,#00a,#00a,#00a,#00a,#00a,#00b,#00c,#00e,#00f,#04f,#08f,#0bf,#0ee,#3fb,#7f8,#af5,#df2,#fe0,#fc0,#fa0,#f80,#f70,#f60,#f60,#f60,#f70,#f80,#fa0,#fc0,#ef0,#cf2,#af4,#7f7,#5fa,#2fc,#0df,#0bf,#08f,#03f,#00f,#00d,#00c,#00b,#00a,#00a,#00a,#00b,#00c,#00e,#00f,#01f,#02f,#03f,#04f,#05f,#05f,#06f,#07f,#07f,#08f,#09f,#09f,#0af,#0af,#0bf,#0bf,#0bf,#0bf,#0cf,#0bf,#0bf,#0bf,#0bf,#0af,#0af,#0af,#09f,#09f,#09f,#08f,#08f,#08f,#07f,#06f,#06f,#05f,#04f,#02f,#01f,#01f,#00f,#00f,#00e,#00e,#00e,#00e,#00e,#00e,#00f,#00f,#00f,#00f,#00f,#00f,#00f,#00f,#00f,#01f,#01f,#00f,#00f,#00f,#00f,#00f,#00f,#00f,#00f,#00f,#00f,#00f,#00f,#00f,#00f,#00f,#00f,#00f,#00f)"></i><i style="background:linear-gradient(#00a,#00a,#00a,#00a,#00a,#00a,#00b,#00c,#00e,#00f,#04f,#08f,#0bf,#0ee,#3fb,#6f8,#af5,#df2,#fe0,#fc0,#fa0,#f90,#f70,#f60,#f60,#f60,#f70,#f80,#fa0,#fc0,#ef0,#cf2,#af4,#8f7,#5fa,#2fc,#0ef,#0bf,#08f,#03f,#00f,#00e,#00d,#00b,#00a,#00a,#00a,#00b,#00c,#00e,#00f,#01f,#02f,#03f,#04f,#04f,#05f,#06f,#06f,#07f,#08f,#08f,#09f,#0af,#0af,#0bf,#0bf,#0bf,#0bf,#0bf,#0bf,#0bf,#0bf,#0bf,#0af,#0af,#0af,#09f,#09f,#09f,#08f,#08f,#08f,#07f,#06f,#06f,#05f,#04f,#03f,#02f,#01f,#00f,#00f,#00f,#00f,#00f,#00f,#00f,#00f,#00f,#00f,#00f,#01f,#01f,#01f,#01f,#01f,#01f,#01f,#01f,#01f,#01f,#01f,#01f,#00f,#00f,#00f,#00f,#00f,#00f,#00f,#00f,#00f,#00f,#00f,#00f,#00f,#00f)"></i><i style="background:linear-gradient(#00a,#00a,#00a,#00a,#00a,#00a,#00b,#00c,#00e,#00f,#04f,#08f,#0bf,#0ee,#3fc,#6f8,#9f5,#cf2,#ef0,#fd0,#fb0,#f90,#f80,#f70,#f60,#f60,#f70,#f80,#fa0,#fc0,#ef0,#cf2,#af4,#8f7,#5f9,#3fc,#0ee,#0bf,#08f,#04f,#00f,#00e,#00d,#00b,#00a,#00a,#00a,#00b,#00c,#00e,#00f,#01f,#02f,#03f,#04f,#04f,#05f,#06f,#06f,#07f,#07f,#08f,#09f,#09f,#0af,#0af,#0bf,#0bf,#0bf,#0bf,#0bf,#0bf,#0bf,#0af,#0af,#0af,#09f,#09f,#09f,#08f,#08f,#08f,#07f,#07f,#06f,#05f,#05f,#04f,#03f,#02f,#01f,#01f,#00f,#00f,#00f,#00f,#00f,#00f,#00f,#01f,#01f,#01f,#02f,#02f,#02f,#02f,#02f,#02f,#02f,#01f,#01f,#01f,#01f,#01f,#01f,#00f,#00f,#00f,#00f,#00f,#00f,#00f,#00f,#00f,#00f,#00f,#00f,#00f)"></i><i style="background:linear-gradient(#00a,#00a,#00a,#00a,#00a,#00a,#00b,#00c,#00e,#00f,#04f,#08f,#0bf,#0ee,#3fc,#6f8,#9f5,#cf2,#ef0,#fd0,#fb0,#f90,#f80,#f70,#f60,#f60,#f70,#f80,#fa0,#fc0,#ef0,#cf2,#af4,#8f7,#5f9,#3fc,#0ee,#0cf,#09f,#04f,#00f,#00e,#00d,#00c,#00b,#00a,#00a,#00b,#00c,#00e,#00f,#00f,#02f,#03f,#03f,#04f,#05f,#05f,#06f,#06f,#07f,#08f,#08f,#09f,#09f,#0af,#0af,#0af,#0bf,#0bf,#0bf,#0af,#0af,#0af,#0af,#09f,#09f,#09f,#08f,#08f,#08f,#07f,#07f,#07f,#06f,#05f,#05f,#04f,#03f,#02f,#02f,#01f,#01f,#01f,#00f,#01f,#01f,#01f,#01f,#02f,#02f,#02f,#02f,#03f,#03f,#03f,#03f,#02f,#02f,#02f,#02f,#01f,#01f,#01f,#01f,#01f,#00f,#00f,#00f,#00f,#00f,#00f,#00f,#00f,#00f,#00f,#00f,#00f)"></i><i style="background:linear-gradient(#00a,#00a,#00a,#00a,#00a,#00a,#00b,#00c,#00d,#00f,#03f,#08f,#0bf,#0ee,#3fc,#6f9,#9f5,#cf3,#ef0,#fd0,#fb0,#fa0,#f80,#f70,#f60,#f60,#f70,#f80,#fa0,#fc0,#ef0,#cf2,#af4,#8f7,#5f9,#3fc,#1ee,#0cf,#09f,#04f,#00f,#00e,#00d,#00c,#00b,#00a,#00a,#00b,#00c,#00e,#00f,#00f,#01f,#02f,#03f,#04f,#04f,#05f,#05f,#06f,#07f,#07f,#08f,#08f,#09f,#09f,#09f,#0af,#0af,#0af,#0af,#0af,#0af,#09f,#09f,#09f,#08f,#08f,#08f,#08f,#07f,#07f,#07f,#06f,#06f,#05f,#04f,#04f,#03f,#02f,#02f,#01f,#01f,#01f,#01f,#01f,#01f,#02f,#02f,#02f,#03f,#03f,#03f,#03f,#03f,#03f,#03f,#03f,#02f,#02f,#02f,#02f,#01f,#01f,#01f,#01f,#00f,#00f,#00f,#00f,#00f,#00f,#00f,#00f,#00f,#00f,#00f,#00f)"></i><i style="background:linear-gradient(#00a,#00a,#00a,#00a,#00a,#00a,#00b,#00b,#00d,#00f,#03f,#08f,#0bf,#0df,#3fc,#6f9,#9f6,#cf3,#ef0,#fd0,#fb0,#fa0,#f80,#f70,#f70,#f60,#f70,#f80,#fa0,#fc0,#ef0,#df2,#af4,#8f7,#6f9,#3fb,#1ee,#0cf,#09f,#05f,#01f,#00e,#00d,#00c,#00b,#00a,#00a,#00b,#00c,#00e,#00f,#00f,#01f,#02f,#03f,#03f,#04f,#04f,#05f,#05f,#06f,#07f,#07f,#07f,#08f,#08f,#09f,#09f,#09f,#09f,#09f,#09f,#09f,#09f,#08f,#08f,#08f,#08f,#07f,#07f,#07f,#07f,#06f,#06f,#05f,#05f,#04f,#04f,#03f,#02f,#02f,#01f,#01f,#01f,#01f,#01f,#02f,#02f,#02f,#03f,#03f,#03f,#03f,#03f,#03f,#03f,#03f,#03f,#03f,#02f,#02f,#02f,#01f,#01f,#01f,#01f,#00f,#00f,#00f,#00f,#00f,#00f,#00f,#00f,#00f,#00f,#00f,#00f)"></i><i style="background:linear-gradient(#00a,#00a,#00a,#00a,#00a,#00a,#00b,#00b,#00d,#00f,#03f,#07f,#0bf,#0df,#3fc,#6f9,#9f6,#cf3,#ef1,#fd0,#fc0,#fa0,#f90,#f80,#f70,#f60,#f70,#f80,#fa0,#fc0,#ef0,#df2,#af4,#8f6,#6f9,#3fb,#1fe,#0cf,#0af,#05f,#01f,#00e,#00d,#00c,#00b,#00b,#00b,#00b,#00c,#00e,#00f,#00f,#01f,#02f,#02f,#03f,#03f,#04f,#04f,#05f,#05f,#06f,#06f,#07f,#07f,#07f,#08f,#08f,#08f,#08f,#08f,#08f,#08f,#08f,#08f,#07f,#07f,#07f,#07f,#06f,#06f,#06f,#06f,#05f,#05f,#04f,#04f,#03f,#03f,#02f,#02f,#01f,#01f,#01f,#01f,#01f,#02f,#02f,#02f,#03f,#03f,#03f,#03f,#03f,#03f,#03f,#03f,#03f,#02f,#02f,#02f,#02f,#01f,#01f,#01f,#01f,#00f,#00f,#00f,#00f,#00f,#00f,#00f,#00f,#00f,#00f,#00f,#00f)"></i><i style="background:linear-gradient(#00a,#00a,#00a,#00a,#00a,#00a,#00b,#00b,#00d,#00f,#03f,#07f,#0bf,#0df,#2fc,#5f9,#9f6,#cf3,#ef1,#fd0,#fc0,#fa0,#f90,#f80,#f70,#f70,#f70,#f80,#fa0,#fc0,#ef0,#df2,#af4,#8f6,#6f9,#3fb,#1fd,#0cf,#0af,#06f,#01f,#00e,#00d,#00c,#00b,#00b,#00b,#00b,#00c,#00e,#00f,#00f,#01f,#02f,#02f,#03f,#03f,#03f,#04f,#04f,#05f,#05f,#06f,#06f,#06f,#07f,#07f,#07f,#07f,#07f,#07f,#07f,#07f,#07f,#07f,#06f,#06f,#06f,#06f,#06f,#06f,#05f,#05f,#05f,#05f,#04f,#04f,#03f,#02f,#02f,#02f,#01f,#01f,#01f,#01f,#01f,#02f,#02f,#02f,#02f,#02f,#03f,#03f,#03f,#03f,#03f,#03f,#02f,#02f,#02f,#02f,#01f,#01f,#01f,#01f,#01f,#00f,#00f,#00f,#00f,#00f,#00f,#00f,#00f,#00f,#00f,#00f,#00f)"></i><i style="background:linear-gradient(#00a,#00a,#00a,#00a,#00a,#00a,#00a,#00b,#00d,#00f,#03f,#07f,#0bf,#0df,#2fc,#5f9,#9f6,#bf3,#ef1,#fe0,#fc0,#fa0,#f90,#f80,#f70,#f70,#f70,#f80,#fa0,#fc0,#ef0,#df2,#af4,#8f6,#6f9,#3fb,#1fd,#0cf,#0af,#06f,#01f,#00e,#00d,#00c,#00b,#00b,#00b,#00b,#00c,#00e,#00f,#00f,#01f,#01f,#02f,#02f,#03f,#03f,#03f,#04f,#04f,#05f,#05f,#05f,#06f,#06f,#06f,#06f,#06f,#06f,#06f,#06f,#06f,#06f,#06f,#06f,#05f,#05f,#05f,#05f,#05f,#05f,#05f,#04f,#04f,#04f,#03f,#03f,#02f,#02f,#01f,#01f,#01f,#01f,#01f,#01f,#01f,#01f,#02f,#02f,#02f,#02f,#02f,#02f,#02f,#02f,#02f,#02f,#02f,#01f,#01f,#01f,#01f,#01f,#01f,#00f,#00f,#00f,#00f,#00f,#00f,#00f,#00f,#00f,#00f,#00f,#00f,#00f)"></i><i style="background:linear-gradient(#00a,#00a,#00a,#00a,#00a,#00a,#00a,#00b,#00d,#00f,#03f,#07f,#0bf,#0df,#2fc,#5f9,#9f6,#bf3,#ef1,#fe0,#fc0,#fa0,#f90,#f80,#f70,#f70,#f70,#f80,#fa0,#fc0,#ef0,#df2,#af4,#8f6,#6f9,#3fb,#1fd,#0cf,#0af,#06f,#01f,#00e,#00d,#00c,#00b,#00b,#00b,#00b,#00c,#00e,#00f,#00f,#01f,#01f,#02f,#02f,#03f,#03f,#03f,#04f,#04f,#05f,#05f,#05f,#06f,#06f,#06f,#06f,#06f,#06f,#06f,#06f,#06f,#06f,#06f,#06f,#05f,#05f,#05f,#05f,#05f,#05f,#05f,#04f,#04f,#04f,#03f,#03f,#02f,#02f,#01f,#01f,#01f,#01f,#01f,#01f,#01f,#01f,#02f,#02f,#02f,#02f,#02f,#02f,#02f,#02f,#02f,#02f,#02f,#01f,#01f,#01f,#01f,#01f,#01f,#00f,#00f,#00f,#00f,#00f,#00f,#00f,#00f,#00f,#00f,#00f,#00f,#00f)"></i></div></div><div class="hm" style="left:1420.0px;top:37.5px;width:633.5px;height:634.0px"><div class="hi" style="left:-10px;top:-10px;width:653.5px;height:654.0px;filter:blur(2.5px)"><i style="background:linear-gradient(#00d,#00d,#00d,#00d,#00d,#00e,#00e,#00e,#00f,#00f,#02f,#04f,#07f,#0bf,#0df,#2fc,#5f9,#9f6,#cf3,#ef1,#fd0,#fb0,#fa0,#f80,#f70,#f70,#f70,#f80,#f90,#fb0,#fc0,#fe0,#df1,#bf3,#8f6,#5f9,#2fc,#0ee,#0bf,#08f,#04f,#02f,#02f,#01f,#00f,#00f,#00f,#00f,#00f,#00f,#01f,#02f,#04f,#05f,#06f,#07f,#08f,#08f,#08f,#08f,#08f,#08f,#08f,#09f,#09f,#09f,#09f,#09f,#0af,#0af,#0af,#0af,#0af,#0af,#0af,#0af,#0af,#0af,#09f,#09f,#09f,#09f,#09f,#08f,#08f,#08f,#08f,#08f,#07f,#07f,#07f,#07f,#07f,#07f,#07f,#07f,#07f,#07f,#07f,#07f,#07f,#06f,#06f,#06f,#06f,#06f,#06f,#05f,#05f,#05f,#05f,#05f,#05f,#05f,#05f,#04f,#04f,#04f,#04f,#04f,#04f,#04f,#03f,#03f,#03f,#03f,#03f,#03f)"></i><i style="background:linear-gradient(#00d,#00d,#00d,#00d,#00d,#00e,#00e,#00e,#00f,#00f,#02f,#04f,#07f,#0bf,#0df,#2fc,#5f9,#9f6,#cf3,#ef1,#fd0,#fb0,#fa0,#f80,#f70,#f70,#f70,#f80,#f90,#fb0,#fc0,#fe0,#df1,#bf3,#8f6,#5f9,#2fc,#0ee,#0bf,#08f,#04f,#02f,#02f,#01f,#00f,#00f,#00f,#00f,#00f,#00f,#01f,#02f,#04f,#05f,#06f,#07f,#08f,#08f,#08f,#08f,#08f,#08f,#08f,#09f,#09f,#09f,#09f,#09f,#0af,#0af,#0af,#0af,#0af,#0af,#0af,#0af,#0af,#0af,#09f,#09f,#09f,#09f,#09f,#08f,#08f,#08f,#08f,#08f,#07f,#07f,#07f,#07f,#07f,#07f,#07f,#07f,#07f,#07f,#07f,#07f,#07f,#06f,#06f,#06f,#06f,#06f,#06f,#05f,#05f,#05f,#05f,#05f,#05f,#05f,#05f,#04f,#04f,#04f,#04f,#04f,#04f,#04f,#03f,#03f,#03f,#03f,#03f,#03f)"></i><i style="background:linear-gradient(#00d,#00d,#00d,#00d,#00d,#00e,#00e,#00e,#00f,#00f,#02f,#04f,#08f,#0bf,#0df,#2fc,#5f9,#9f6,#cf3,#ef0,#fd0,#fb0,#f90,#f80,#f70,#f70,#f70,#f80,#f90,#fa0,#fc0,#fe0,#df1,#bf3,#8f6,#5f9,#2fc,#0ee,#0cf,#08f,#04f,#02f,#02f,#01f,#00f,#00f,#00f,#00e,#00f,#00f,#01f,#02f,#04f,#05f,#06f,#07f,#08f,#08f,#09f,#09f,#09f,#09f,#09f,#09f,#09f,#0af,#0af,#0af,#0af,#0bf,#0bf,#0bf,#0bf,#0bf,#0bf,#0bf,#0bf,#0af,#0af,#0af,#0af,#09f,#09f,#09f,#09f,#08f,#08f,#08f,#08f,#08f,#07f,#07f,#07f,#07f,#07f,#07f,#07f,#07f,#07f,#07f,#07f,#07f,#07f,#07f,#06f,#06f,#06f,#06f,#06f,#05f,#05f,#05f,#05f,#05f,#05f,#05f,#04f,#04f,#04f,#04f,#04f,#04f,#04f,#03f,#03f,#03f,#03f,#03f)"></i><i style="background:linear-gradient(#00d,#00d,#00d,#00d,#00d,#00e,#00e,#00e,#00f,#00f,#02f,#04f,#08f,#0bf,#0ee,#2fc,#6f9,#9f5,#cf2,#ef0,#fd0,#fb0,#f90,#f70,#f60,#f60,#f60,#f70,#f80,#fa0,#fc0,#fe0,#df1,#bf3,#9f6,#6f9,#3fc,#0ee,#0cf,#09f,#04f,#02f,#02f,#01f,#00f,#00f,#00f,#00e,#00f,#00f,#01f,#03f,#04f,#06f,#07f,#08f,#08f,#09f,#09f,#09f,#09f,#0af,#0af,#0af,#0af,#0af,#0bf,#0bf,#0bf,#0bf,#0cf,#0cf,#0cf,#0cf,#0cf,#0cf,#0bf,#0bf,#0bf,#0bf,#0af,#0af,#0af,#0af,#09f,#09f,#09f,#09f,#08f,#08f,#08f,#08f,#08f,#07f,#07f,#07f,#07f,#07f,#07f,#07f,#07f,#07f,#07f,#07f,#07f,#06f,#06f,#06f,#06f,#06f,#05f,#05f,#05f,#05f,#05f,#05f,#05f,#04f,#04f,#04f,#04f,#04f,#04f,#03f,#03f,#03f,#03f,#03f)"></i><i style="background:linear-gradient(#00d,#00d,#00d,#00d,#00d,#00e,#00e,#00e,#00f,#00f,#02f,#04f,#08f,#0cf,#0ee,#3fc,#6f8,#af5,#cf2,#fe0,#fc0,#fa0,#f80,#f70,#f60,#f60,#f60,#f70,#f80,#fa0,#fc0,#fd0,#ef1,#cf3,#9f6,#6f9,#3fb,#1ee,#0cf,#09f,#05f,#03f,#02f,#01f,#00f,#00f,#00f,#00e,#00f,#00f,#01f,#03f,#04f,#06f,#07f,#08f,#09f,#09f,#0af,#0af,#0af,#0af,#0af,#0bf,#0bf,#0bf,#0cf,#0cf,#0cf,#0cf,#0df,#0df,#0df,#0df,#0df,#0df,#0cf,#0cf,#0cf,#0cf,#0bf,#0bf,#0bf,#0af,#0af,#0af,#09f,#09f,#09f,#08f,#08f,#08f,#08f,#08f,#08f,#08f,#08f,#08f,#08f,#08f,#08f,#08f,#08f,#07f,#07f,#07f,#07f,#06f,#06f,#06f,#06f,#05f,#05f,#05f,#05f,#05f,#05f,#05f,#04f,#04f,#04f,#04f,#04f,#03f,#03f,#03f,#03f,#03f)"></i><i style="background:linear-gradient(#00d,#00d,#00d,#00d,#00d,#00e,#00e,#00e,#00f,#00f,#02f,#05f,#09f,#0cf,#1ee,#3fb,#7f8,#af5,#df2,#fe0,#fc0,#fa0,#f80,#f60,#f50,#f50,#f50,#f60,#f80,#f90,#fb0,#fd0,#ef1,#cf3,#9f5,#6f8,#4fb,#1fd,#0df,#0af,#06f,#03f,#02f,#01f,#00f,#00f,#00f,#00f,#00f,#00f,#01f,#03f,#05f,#06f,#07f,#08f,#09f,#0af,#0af,#0af,#0af,#0bf,#0bf,#0bf,#0cf,#0cf,#0cf,#0df,#0df,#0df,#0df,#0ee,#0ee,#0ee,#0ee,#0df,#0df,#0df,#0df,#0cf,#0cf,#0bf,#0bf,#0bf,#0af,#0af,#0af,#09f,#09f,#09f,#09f,#08f,#08f,#08f,#08f,#08f,#08f,#08f,#08f,#08f,#08f,#08f,#08f,#08f,#08f,#07f,#07f,#07f,#06f,#06f,#06f,#06f,#05f,#05f,#05f,#05f,#05f,#05f,#05f,#04f,#04f,#04f,#04f,#04f,#03f,#03f,#03f,#03f)"></i><i style="background:linear-gradient(#00d,#00d,#00d,#00d,#00d,#00e,#00e,#00e,#00f,#01f,#02f,#05f,#09f,#0cf,#1ee,#4fb,#7f7,#af4,#df1,#fe0,#fb0,#f90,#f70,#f60,#f50,#f40,#f50,#f60,#f70,#f90,#fb0,#fd0,#ef0,#cf2,#af5,#7f8,#4fa,#2fd,#0df,#0bf,#07f,#03f,#02f,#02f,#01f,#00f,#00f,#00f,#00f,#00f,#02f,#03f,#05f,#06f,#07f,#08f,#09f,#0af,#0af,#0bf,#0bf,#0bf,#0bf,#0cf,#0cf,#0cf,#0df,#0df,#0ee,#0ee,#0ee,#1ee,#1ee,#1ee,#1ee,#0ee,#0ee,#0df,#0df,#0df,#0cf,#0cf,#0bf,#0bf,#0bf,#0af,#0af,#0af,#09f,#09f,#09f,#09f,#08f,#08f,#08f,#08f,#08f,#08f,#08f,#09f,#09f,#09f,#09f,#08f,#08f,#08f,#07f,#07f,#06f,#06f,#06f,#06f,#06f,#05f,#05f,#05f,#05f,#05f,#05f,#04f,#04f,#04f,#04f,#04f,#03f,#03f,#03f,#03f)"></i><i style="background:linear-gradient(#00d,#00d,#00d,#00d,#00d,#00e,#00e,#00e,#00f,#01f,#03f,#06f,#0af,#0cf,#1fd,#4fa,#8f7,#bf4,#ef1,#fd0,#fb0,#f80,#f70,#f50,#f40,#f40,#f40,#f50,#f70,#f90,#fb0,#fd0,#ef0,#cf2,#af4,#7f7,#5fa,#2fc,#0ee,#0cf,#08f,#04f,#02f,#02f,#01f,#00f,#00f,#00f,#00f,#01f,#02f,#03f,#05f,#06f,#08f,#09f,#09f,#0af,#0af,#0bf,#0bf,#0bf,#0cf,#0cf,#0cf,#0df,#0df,#0ee,#0ee,#1ee,#1fe,#1fe,#1fd,#1fd,#1fe,#1ee,#1ee,#0ee,#0df,#0df,#0cf,#0cf,#0cf,#0bf,#0bf,#0af,#0af,#0af,#09f,#09f,#09f,#09f,#09f,#08f,#08f,#08f,#09f,#09f,#09f,#09f,#09f,#09f,#09f,#09f,#08f,#08f,#08f,#07f,#07f,#06f,#06f,#06f,#06f,#06f,#05f,#05f,#05f,#05f,#05f,#05f,#04f,#04f,#04f,#04f,#03f,#03f,#03f,#03f)"></i><i style="background:linear-gradient(#00d,#00d,#00d,#00d,#00d,#00e,#00e,#00f,#00f,#01f,#03f,#06f,#0af,#0df,#1fd,#5fa,#8f6,#cf3,#ef0,#fd0,#fa0,#f80,#f60,#f40,#f40,#f30,#f40,#f50,#f60,#f80,#fa0,#fc0,#ee0,#df2,#af4,#8f7,#5f9,#3fc,#1ee,#0cf,#09f,#05f,#03f,#02f,#01f,#01f,#00f,#00f,#00f,#01f,#02f,#03f,#05f,#06f,#07f,#08f,#09f,#0af,#0af,#0bf,#0bf,#0bf,#0cf,#0cf,#0cf,#0df,#0df,#0ee,#1ee,#1ee,#1fe,#1fd,#1fd,#1fd,#1fd,#1fe,#1ee,#0ee,#0df,#0df,#0cf,#0cf,#0cf,#0bf,#0bf,#0af,#0af,#0af,#09f,#09f,#09f,#09f,#09f,#09f,#09f,#09f,#09f,#09f,#09f,#0af,#0af,#0af,#0af,#09f,#09f,#09f,#08f,#07f,#07f,#07f,#06f,#06f,#06f,#06f,#06f,#05f,#05f,#05f,#05f,#05f,#04f,#04f,#04f,#04f,#03f,#03f,#03f,#03f)"></i><i style="background:linear-gradient(#00d,#00d,#00d,#00d,#00d,#00e,#00e,#00e,#00f,#01f,#03f,#07f,#0bf,#0df,#2fd,#5f9,#9f6,#cf3,#ef0,#fc0,#fa0,#f70,#f50,#f40,#f30,#f30,#f40,#f50,#f60,#f80,#fa0,#fc0,#fe0,#df2,#bf4,#8f6,#6f8,#4fb,#1fd,#0df,#0bf,#06f,#03f,#02f,#01f,#01f,#00f,#00f,#00f,#01f,#02f,#03f,#05f,#06f,#07f,#08f,#09f,#0af,#0af,#0bf,#0bf,#0bf,#0bf,#0cf,#0cf,#0df,#0df,#0ee,#0ee,#1ee,#1fe,#1fe,#1fd,#1fd,#1fe,#1ee,#0ee,#0ee,#0df,#0df,#0cf,#0cf,#0bf,#0bf,#0bf,#0af,#0af,#0af,#09f,#09f,#09f,#09f,#09f,#09f,#09f,#09f,#09f,#09f,#0af,#0af,#0af,#0bf,#0af,#0af,#0af,#09f,#08f,#08f,#07f,#07f,#06f,#06f,#06f,#06f,#06f,#06f,#05f,#05f,#05f,#05f,#04f,#04f,#04f,#04f,#03f,#03f,#03f,#03f)"></i><i style="background:linear-gradient(#00d,#00d,#00d,#00d,#00d,#00e,#00e,#00e,#00f,#02f,#04f,#08f,#0bf,#0df,#2fc,#6f9,#9f5,#cf2,#fe0,#fb0,#f90,#f70,#f50,#f30,#f30,#f30,#f30,#f40,#f60,#f80,#fa0,#fc0,#fe0,#df1,#bf3,#9f6,#7f8,#4fa,#2fd,#0ef,#0bf,#08f,#04f,#02f,#02f,#01f,#00f,#00f,#00f,#01f,#02f,#03f,#04f,#06f,#07f,#08f,#09f,#09f,#0af,#0af,#0af,#0bf,#0bf,#0bf,#0cf,#0cf,#0df,#0df,#0ee,#0ee,#0ee,#1ee,#1ee,#1ee,#0ee,#0ee,#0df,#0df,#0df,#0cf,#0cf,#0bf,#0bf,#0af,#0af,#0af,#0af,#09f,#09f,#09f,#09f,#09f,#09f,#09f,#09f,#09f,#09f,#0af,#0af,#0bf,#0bf,#0bf,#0bf,#0bf,#0af,#0af,#09f,#08f,#07f,#07f,#07f,#06f,#06f,#06f,#06f,#06f,#05f,#05f,#05f,#05f,#05f,#04f,#04f,#04f,#04f,#03f,#03f,#03f)"></i><i style="background:linear-gradient(#00d,#00d,#00d,#00d,#00d,#00e,#00e,#00f,#00f,#02f,#04f,#08f,#0bf,#0ee,#3fc,#6f8,#af5,#df2,#fe0,#fb0,#f80,#f60,#f40,#f30,#f20,#f20,#f30,#f40,#f50,#f70,#f90,#fb0,#fe0,#df1,#cf3,#9f5,#7f7,#5fa,#3fc,#0ee,#0cf,#09f,#04f,#02f,#02f,#01f,#00f,#00f,#00f,#01f,#02f,#03f,#04f,#04f,#06f,#07f,#08f,#09f,#09f,#0af,#0af,#0af,#0bf,#0bf,#0bf,#0cf,#0cf,#0cf,#0df,#0df,#0df,#0df,#0ef,#0df,#0df,#0df,#0cf,#0cf,#0bf,#0bf,#0bf,#0af,#0af,#0af,#0af,#09f,#09f,#09f,#09f,#09f,#09f,#08f,#08f,#09f,#09f,#09f,#09f,#0af,#0bf,#0bf,#0cf,#0cf,#0cf,#0cf,#0bf,#0af,#09f,#08f,#08f,#07f,#07f,#07f,#06f,#06f,#06f,#06f,#06f,#05f,#05f,#05f,#05f,#04f,#04f,#04f,#04f,#03f,#03f,#03f)"></i><i style="background:linear-gradient(#00d,#00d,#00d,#00d,#00d,#00e,#00e,#00f,#00f,#02f,#05f,#09f,#0cf,#0ee,#3fb,#7f8,#af4,#df1,#fd0,#fa0,#f80,#f60,#f40,#f20,#f20,#f20,#f20,#f30,#f50,#f70,#f90,#fb0,#fd0,#ef1,#cf3,#af5,#7f7,#5f9,#3fc,#1fe,#0df,#0af,#05f,#03f,#02f,#01f,#00f,#00f,#00f,#01f,#01f,#02f,#03f,#03f,#04f,#06f,#07f,#08f,#09f,#09f,#09f,#0af,#0af,#0af,#0af,#0bf,#0bf,#0cf,#0cf,#0cf,#0cf,#0cf,#0cf,#0cf,#0cf,#0bf,#0af,#0af,#09f,#0af,#0af,#09f,#09f,#09f,#09f,#09f,#09f,#08f,#08f,#08f,#08f,#08f,#08f,#08f,#09f,#09f,#09f,#0af,#0bf,#0cf,#0cf,#0df,#0df,#0cf,#0cf,#0bf,#0af,#09f,#08f,#07f,#07f,#07f,#06f,#06f,#06f,#06f,#06f,#05f,#05f,#05f,#05f,#04f,#04f,#04f,#04f,#03f,#03f,#03f)"></i><i style="background:linear-gradient(#00d,#00d,#00d,#00d,#00d,#00e,#00e,#00f,#00f,#02f,#05f,#09f,#0cf,#1ee,#3fb,#7f7,#bf4,#ef1,#fd0,#fa0,#f70,#f50,#f30,#f20,#f10,#f10,#f20,#f30,#f50,#f70,#f90,#fb0,#fd0,#ef1,#cf3,#af5,#8f7,#6f9,#3fb,#1fd,#0df,#0bf,#06f,#03f,#01f,#01f,#00f,#00f,#00f,#00f,#01f,#02f,#02f,#03f,#04f,#05f,#06f,#07f,#08f,#08f,#09f,#09f,#09f,#09f,#0af,#0af,#0af,#0af,#0bf,#0bf,#0bf,#0bf,#0bf,#0bf,#0bf,#0af,#09f,#08f,#08f,#08f,#08f,#08f,#08f,#08f,#08f,#08f,#08f,#08f,#08f,#08f,#08f,#08f,#08f,#08f,#08f,#09f,#0af,#0af,#0bf,#0cf,#0df,#0ee,#0ee,#0df,#0cf,#0bf,#0af,#09f,#08f,#08f,#07f,#07f,#07f,#06f,#06f,#06f,#06f,#06f,#05f,#05f,#05f,#04f,#04f,#04f,#04f,#03f,#03f,#03f)"></i><i style="background:linear-gradient(#00d,#00d,#00d,#00d,#00d,#00e,#00e,#00f,#00f,#02f,#05f,#09f,#0cf,#1ee,#4fb,#7f7,#bf3,#ef1,#fc0,#fa0,#f70,#f50,#f30,#f10,#f10,#f10,#f20,#f30,#f40,#f60,#f80,#fb0,#fd0,#ef1,#cf2,#af4,#8f6,#6f9,#4fb,#2fd,#0df,#0bf,#07f,#03f,#01f,#01f,#00f,#00f,#00f,#00f,#01f,#02f,#02f,#03f,#04f,#05f,#06f,#07f,#07f,#07f,#08f,#08f,#08f,#08f,#09f,#09f,#09f,#09f,#0af,#0af,#0af,#0af,#0af,#0af,#0af,#09f,#08f,#08f,#07f,#07f,#07f,#07f,#07f,#07f,#07f,#07f,#07f,#07f,#07f,#07f,#07f,#08f,#08f,#08f,#08f,#09f,#0af,#0bf,#0cf,#0df,#0ee,#1fe,#1fe,#0ee,#0df,#0cf,#0bf,#09f,#09f,#08f,#07f,#07f,#07f,#06f,#06f,#06f,#06f,#06f,#05f,#05f,#05f,#05f,#04f,#04f,#04f,#03f,#03f,#03f)"></i><i style="background:linear-gradient(#00d,#00d,#00d,#00d,#00d,#00e,#00e,#00f,#00f,#02f,#05f,#09f,#0cf,#1fe,#4fb,#8f7,#bf3,#ef0,#fc0,#f90,#f70,#f40,#f20,#f10,#e00,#e10,#f10,#f30,#f40,#f60,#f80,#fa0,#fd0,#ef0,#cf2,#af4,#8f6,#6f8,#4fb,#2fd,#0df,#0bf,#07f,#03f,#01f,#01f,#00f,#00f,#00f,#00f,#01f,#02f,#02f,#03f,#04f,#05f,#06f,#06f,#06f,#07f,#07f,#07f,#07f,#07f,#08f,#08f,#08f,#08f,#08f,#09f,#09f,#09f,#09f,#09f,#08f,#08f,#08f,#07f,#07f,#06f,#06f,#06f,#06f,#06f,#06f,#06f,#06f,#07f,#07f,#07f,#07f,#07f,#08f,#08f,#08f,#09f,#0af,#0bf,#0cf,#0df,#1fe,#1fd,#2fd,#1fd,#0ee,#0cf,#0bf,#0af,#09f,#08f,#07f,#07f,#07f,#06f,#06f,#06f,#06f,#06f,#05f,#05f,#05f,#05f,#04f,#04f,#04f,#03f,#03f,#03f)"></i><i style="background:linear-gradient(#00d,#00d,#00d,#00d,#00d,#00e,#00e,#00f,#00f,#02f,#05f,#09f,#0cf,#1fe,#4fb,#8f7,#bf3,#ef0,#fc0,#f90,#f60,#f40,#f20,#f10,#e00,#e00,#f10,#f20,#f40,#f60,#f80,#fa0,#fd0,#ef0,#df2,#bf4,#8f6,#6f8,#4fa,#2fd,#0ee,#0bf,#08f,#04f,#01f,#00f,#00f,#00f,#00f,#00f,#00f,#01f,#02f,#03f,#04f,#05f,#05f,#05f,#06f,#06f,#06f,#06f,#06f,#06f,#06f,#07f,#07f,#07f,#07f,#07f,#08f,#08f,#08f,#08f,#07f,#07f,#07f,#06f,#06f,#05f,#05f,#05f,#05f,#05f,#05f,#05f,#06f,#06f,#06f,#06f,#07f,#07f,#07f,#08f,#08f,#09f,#0af,#0bf,#0df,#0ee,#1fd,#2fc,#2fc,#2fd,#1ee,#0df,#0bf,#0af,#09f,#08f,#08f,#07f,#07f,#07f,#06f,#06f,#06f,#06f,#05f,#05f,#05f,#05f,#04f,#04f,#04f,#04f,#04f,#04f)"></i><i style="background:linear-gradient(#00d,#00d,#00d,#00d,#00d,#00e,#00e,#00f,#00f,#02f,#05f,#09f,#0cf,#1fe,#4fb,#8f7,#cf3,#ef0,#fc0,#f90,#f60,#f40,#f20,#e10,#e00,#e00,#f10,#f20,#f40,#f60,#f80,#fa0,#fc0,#ef0,#df2,#bf4,#9f6,#6f8,#4fa,#2fc,#0ee,#0cf,#08f,#04f,#01f,#00f,#00f,#00f,#00f,#00f,#00f,#01f,#02f,#03f,#03f,#04f,#04f,#05f,#05f,#05f,#05f,#05f,#05f,#05f,#05f,#05f,#06f,#06f,#06f,#06f,#07f,#07f,#07f,#06f,#06f,#06f,#06f,#05f,#05f,#04f,#04f,#03f,#03f,#03f,#04f,#04f,#05f,#05f,#06f,#06f,#06f,#07f,#07f,#07f,#08f,#09f,#0af,#0bf,#0df,#1ee,#2fd,#3fc,#3fc,#2fc,#1fd,#0df,#0cf,#0af,#09f,#08f,#08f,#07f,#07f,#07f,#06f,#06f,#06f,#06f,#06f,#05f,#05f,#05f,#04f,#04f,#04f,#04f,#04f,#04f)"></i><i style="background:linear-gradient(#00d,#00d,#00d,#00d,#00d,#00e,#00e,#00f,#00f,#02f,#05f,#09f,#0cf,#1fe,#4fb,#8f7,#cf3,#fe0,#fb0,#f90,#f60,#f30,#f20,#e00,#d00,#d00,#e10,#f20,#f40,#f60,#f80,#fa0,#fc0,#fe0,#df2,#bf4,#9f6,#7f8,#4fa,#2fc,#0ee,#0cf,#08f,#04f,#01f,#00f,#00f,#00f,#00f,#00f,#00f,#00f,#01f,#02f,#03f,#03f,#04f,#04f,#04f,#05f,#05f,#04f,#04f,#03f,#03f,#04f,#05f,#05f,#06f,#06f,#06f,#06f,#06f,#06f,#05f,#05f,#05f,#04f,#04f,#03f,#02f,#02f,#02f,#02f,#03f,#03f,#04f,#05f,#05f,#06f,#06f,#06f,#07f,#07f,#08f,#09f,#0af,#0bf,#0df,#1fe,#2fc,#3fc,#3fb,#3fc,#2fd,#0ee,#0cf,#0af,#09f,#08f,#08f,#07f,#07f,#07f,#06f,#06f,#06f,#06f,#06f,#05f,#05f,#05f,#04f,#04f,#04f,#04f,#04f,#04f)"></i><i style="background:linear-gradient(#00d,#00d,#00d,#00d,#00d,#00e,#00e,#00f,#00f,#02f,#05f,#09f,#0cf,#1fe,#4fa,#8f6,#cf3,#fe0,#fb0,#f80,#f60,#f30,#f10,#e00,#d00,#d00,#e00,#f20,#f30,#f50,#f70,#fa0,#fc0,#fe0,#df2,#bf4,#9f6,#7f8,#4fa,#2fc,#0ee,#0cf,#09f,#04f,#01f,#00f,#00f,#00e,#00e,#00f,#00f,#00f,#01f,#02f,#02f,#03f,#03f,#04f,#04f,#04f,#04f,#04f,#03f,#03f,#03f,#03f,#04f,#05f,#05f,#05f,#05f,#05f,#05f,#05f,#05f,#04f,#04f,#03f,#03f,#02f,#01f,#01f,#01f,#01f,#02f,#03f,#03f,#04f,#05f,#05f,#06f,#06f,#07f,#07f,#08f,#09f,#0af,#0bf,#0df,#1fd,#2fc,#3fb,#3fb,#3fc,#2fd,#0ee,#0cf,#0bf,#09f,#08f,#08f,#07f,#07f,#07f,#07f,#06f,#06f,#06f,#06f,#05f,#05f,#05f,#04f,#04f,#04f,#04f,#04f,#04f)"></i><i style="background:linear-gradient(#00d,#00d,#00d,#00d,#00d,#00e,#00e,#00f,#00f,#02f,#05f,#09f,#0cf,#1fe,#4fa,#8f6,#cf3,#fe0,#fb0,#f80,#f50,#f30,#f10,#d00,#d00,#d00,#e00,#f10,#f30,#f50,#f70,#fa0,#fc0,#fe0,#df1,#bf3,#9f6,#7f8,#5fa,#2fc,#0ee,#0cf,#09f,#04f,#01f,#00f,#00f,#00e,#00e,#00e,#00f,#00f,#01f,#01f,#02f,#03f,#03f,#03f,#03f,#04f,#04f,#04f,#03f,#03f,#03f,#03f,#04f,#04f,#04f,#04f,#04f,#04f,#04f,#04f,#04f,#04f,#03f,#02f,#02f,#01f,#01f,#00f,#00f,#00f,#01f,#02f,#03f,#03f,#04f,#05f,#05f,#06f,#06f,#07f,#08f,#09f,#0af,#0bf,#0df,#1fd,#2fc,#3fb,#3fb,#3fc,#2fd,#0ee,#0cf,#0bf,#09f,#08f,#08f,#07f,#07f,#07f,#07f,#06f,#06f,#06f,#06f,#05f,#05f,#05f,#04f,#04f,#04f,#04f,#04f,#04f)"></i><i style="background:linear-gradient(#00d,#00d,#00d,#00d,#00d,#00e,#00e,#00f,#00f,#02f,#05f,#09f,#0cf,#1fe,#4fa,#8f6,#cf2,#fe0,#fb0,#f80,#f50,#f30,#f10,#d00,#c00,#d00,#e00,#f10,#f30,#f50,#f70,#f90,#fc0,#fe0,#df1,#bf3,#9f5,#7f8,#5fa,#2fc,#1ee,#0cf,#09f,#05f,#01f,#00f,#00f,#00e,#00e,#00e,#00f,#00f,#00f,#01f,#02f,#02f,#03f,#03f,#03f,#03f,#03f,#03f,#03f,#03f,#03f,#04f,#04f,#04f,#04f,#04f,#04f,#04f,#04f,#04f,#03f,#03f,#03f,#02f,#01f,#01f,#00f,#00f,#00f,#00f,#00f,#01f,#02f,#03f,#04f,#05f,#05f,#06f,#06f,#07f,#08f,#09f,#0af,#0bf,#0df,#1fd,#2fc,#3fb,#3fb,#3fc,#2fd,#0ee,#0cf,#0bf,#09f,#08f,#08f,#07f,#07f,#07f,#07f,#06f,#06f,#06f,#06f,#05f,#05f,#05f,#04f,#04f,#04f,#04f,#04f,#04f)"></i><i style="background:linear-gradient(#00d,#00d,#00d,#00d,#00d,#00e,#00e,#00f,#00f,#02f,#05f,#09f,#0cf,#1ee,#4fb,#8f6,#cf2,#fe0,#fb0,#f80,#f50,#f30,#e10,#d00,#c00,#c00,#d00,#f10,#f30,#f50,#f70,#f90,#fb0,#fe0,#df1,#bf3,#9f5,#7f8,#5fa,#3fc,#1ee,#0cf,#09f,#05f,#01f,#00f,#00f,#00e,#00e,#00e,#00f,#00f,#00f,#01f,#01f,#02f,#02f,#02f,#02f,#02f,#02f,#03f,#03f,#03f,#03f,#03f,#04f,#04f,#04f,#04f,#04f,#04f,#04f,#03f,#03f,#03f,#02f,#02f,#01f,#00f,#00f,#00f,#00f,#00f,#00f,#01f,#02f,#03f,#03f,#04f,#05f,#06f,#06f,#07f,#07f,#08f,#0af,#0bf,#0df,#1fd,#2fc,#3fb,#3fb,#3fc,#2fd,#0ee,#0cf,#0bf,#09f,#08f,#08f,#07f,#07f,#07f,#07f,#06f,#06f,#06f,#06f,#05f,#05f,#05f,#04f,#04f,#04f,#04f,#04f,#04f)"></i><i style="background:linear-gradient(#00d,#00d,#00d,#00d,#00d,#00e,#00e,#00f,#00f,#02f,#05f,#09f,#0cf,#1ee,#4fb,#8f7,#cf3,#fe0,#fb0,#f80,#f50,#f30,#e10,#d00,#c00,#c00,#d00,#f10,#f30,#f50,#f70,#f90,#fb0,#fe0,#df1,#bf3,#9f5,#7f7,#5fa,#3fc,#1ee,#0cf,#09f,#05f,#01f,#00f,#00e,#00e,#00e,#00e,#00e,#00f,#00f,#01f,#01f,#02f,#02f,#02f,#01f,#01f,#01f,#02f,#03f,#03f,#03f,#03f,#03f,#03f,#03f,#03f,#03f,#03f,#03f,#03f,#03f,#03f,#02f,#02f,#01f,#00f,#00f,#00f,#00f,#00f,#00f,#00f,#01f,#02f,#03f,#04f,#05f,#05f,#06f,#07f,#07f,#08f,#0af,#0bf,#0df,#1ee,#2fd,#3fc,#3fc,#2fc,#1fd,#0ee,#0cf,#0af,#09f,#08f,#08f,#07f,#07f,#07f,#07f,#06f,#06f,#06f,#06f,#05f,#05f,#05f,#04f,#04f,#04f,#04f,#04f,#04f)"></i><i style="background:linear-gradient(#00d,#00d,#00d,#00d,#00d,#00e,#00e,#00f,#00f,#02f,#05f,#09f,#0cf,#0ee,#3fb,#7f7,#cf3,#fe0,#fb0,#f80,#f50,#f30,#e10,#d00,#c00,#c00,#d00,#f10,#f20,#f40,#f70,#f90,#fb0,#fe0,#df1,#bf3,#9f5,#7f7,#5fa,#3fc,#1ee,#0cf,#09f,#05f,#01f,#00f,#00e,#00e,#00e,#00e,#00e,#00f,#00f,#01f,#01f,#01f,#02f,#01f,#01f,#01f,#01f,#02f,#03f,#03f,#03f,#03f,#03f,#03f,#04f,#04f,#04f,#03f,#03f,#03f,#03f,#03f,#02f,#02f,#01f,#01f,#00f,#00f,#00f,#00f,#00f,#00f,#01f,#02f,#03f,#04f,#05f,#05f,#06f,#07f,#07f,#08f,#09f,#0bf,#0cf,#0ee,#2fd,#2fc,#2fc,#2fd,#1fe,#0df,#0cf,#0af,#09f,#08f,#08f,#07f,#07f,#07f,#07f,#06f,#06f,#06f,#06f,#05f,#05f,#05f,#04f,#04f,#04f,#04f,#04f,#04f)"></i><i style="background:linear-gradient(#00d,#00d,#00d,#00d,#00d,#00e,#00e,#00f,#00f,#02f,#04f,#08f,#0bf,#0ee,#3fc,#7f8,#bf4,#ef0,#fc0,#f90,#f60,#f30,#e10,#d00,#c00,#c00,#d00,#e10,#f20,#f40,#f60,#f90,#fb0,#fe0,#df1,#bf3,#9f5,#7f7,#5fa,#3fc,#1ee,#0cf,#09f,#05f,#01f,#00f,#00e,#00e,#00d,#00e,#00e,#00f,#00f,#00f,#01f,#01f,#02f,#02f,#01f,#01f,#02f,#02f,#03f,#03f,#04f,#04f,#04f,#04f,#04f,#04f,#04f,#04f,#04f,#04f,#03f,#03f,#03f,#02f,#02f,#01f,#00f,#00f,#00f,#00f,#00f,#00f,#01f,#02f,#03f,#04f,#04f,#05f,#06f,#06f,#07f,#08f,#09f,#0bf,#0cf,#0ee,#1fd,#2fd,#2fd,#1fd,#1ee,#0df,#0bf,#0af,#09f,#08f,#08f,#07f,#07f,#07f,#06f,#06f,#06f,#06f,#06f,#05f,#05f,#05f,#04f,#04f,#04f,#04f,#04f,#04f)"></i><i style="background:linear-gradient(#00d,#00d,#00d,#00d,#00d,#00e,#00e,#00e,#00f,#02f,#04f,#08f,#0bf,#0df,#3fc,#6f8,#af4,#ef1,#fc0,#f90,#f60,#f30,#f10,#d00,#c00,#c00,#d00,#e10,#f20,#f40,#f60,#f90,#fb0,#fd0,#df1,#bf3,#9f5,#7f8,#5fa,#2fc,#0ee,#0cf,#09f,#05f,#01f,#00f,#00e,#00e,#00d,#00e,#00e,#00f,#00f,#00f,#00f,#01f,#02f,#02f,#02f,#02f,#03f,#03f,#04f,#04f,#04f,#04f,#04f,#04f,#04f,#04f,#04f,#04f,#04f,#04f,#04f,#04f,#03f,#03f,#02f,#02f,#01f,#00f,#00f,#00f,#00f,#00f,#00f,#01f,#02f,#03f,#04f,#05f,#06f,#06f,#07f,#08f,#09f,#0af,#0cf,#0df,#1ee,#1fd,#1fd,#1fe,#0ee,#0cf,#0bf,#0af,#09f,#08f,#07f,#07f,#07f,#07f,#06f,#06f,#06f,#06f,#06f,#05f,#05f,#05f,#04f,#04f,#04f,#04f,#04f,#04f)"></i><i style="background:linear-gradient(#00d,#00d,#00d,#00d,#00d,#00e,#00e,#00e,#00f,#01f,#03f,#07f,#0bf,#0df,#2fc,#6f9,#af5,#df1,#fd0,#fa0,#f70,#f40,#f10,#d00,#c00,#c00,#d00,#e10,#f20,#f40,#f60,#f90,#fb0,#fe0,#df1,#bf3,#9f5,#7f8,#5fa,#2fc,#0ee,#0cf,#09f,#04f,#01f,#00f,#00e,#00e,#00e,#00e,#00e,#00f,#00f,#00f,#00f,#00f,#01f,#02f,#03f,#03f,#04f,#04f,#04f,#04f,#05f,#05f,#05f,#05f,#05f,#05f,#05f,#05f,#05f,#05f,#05f,#04f,#04f,#03f,#03f,#02f,#01f,#00f,#00f,#00f,#00f,#00f,#00f,#01f,#02f,#03f,#04f,#05f,#06f,#06f,#07f,#08f,#09f,#0af,#0bf,#0cf,#0df,#0ee,#1ee,#0ee,#0df,#0cf,#0af,#09f,#09f,#08f,#07f,#07f,#07f,#07f,#06f,#06f,#06f,#06f,#06f,#05f,#05f,#05f,#04f,#04f,#04f,#04f,#04f,#04f)"></i><i style="background:linear-gradient(#00d,#00d,#00d,#00d,#00d,#00e,#00e,#00f,#00f,#01f,#03f,#07f,#0af,#0df,#2fd,#5fa,#9f6,#cf2,#fe0,#fa0,#f70,#f40,#f20,#d00,#c00,#c00,#d00,#e10,#f20,#f40,#f60,#f90,#fb0,#fe0,#df1,#bf3,#9f5,#7f8,#4fa,#2fc,#0ee,#0cf,#08f,#04f,#01f,#00f,#00e,#00e,#00e,#00e,#00f,#00f,#00f,#00f,#00f,#00f,#02f,#03f,#03f,#04f,#04f,#05f,#05f,#05f,#06f,#06f,#06f,#06f,#06f,#06f,#06f,#06f,#06f,#06f,#05f,#05f,#05f,#04f,#04f,#03f,#02f,#01f,#00f,#00f,#00f,#00f,#00f,#01f,#02f,#03f,#04f,#05f,#06f,#06f,#07f,#08f,#09f,#0af,#0bf,#0cf,#0df,#0df,#0df,#0df,#0cf,#0bf,#0af,#09f,#08f,#08f,#07f,#07f,#07f,#06f,#06f,#06f,#06f,#06f,#06f,#05f,#05f,#05f,#04f,#04f,#04f,#04f,#04f,#04f)"></i><i style="background:linear-gradient(#00d,#00d,#00d,#00d,#00d,#00e,#00e,#00e,#00f,#01f,#03f,#06f,#0af,#0cf,#1fd,#4fa,#8f6,#cf3,#fe0,#fb0,#f80,#f50,#f20,#e00,#d00,#c00,#d00,#f10,#f20,#f40,#f70,#f90,#fb0,#fe0,#df1,#bf3,#9f6,#7f8,#4fa,#2fc,#0ee,#0cf,#08f,#04f,#01f,#00f,#00e,#00e,#00e,#00e,#00f,#00f,#00f,#00f,#00f,#01f,#02f,#03f,#04f,#05f,#05f,#05f,#06f,#06f,#06f,#07f,#07f,#07f,#07f,#07f,#07f,#07f,#07f,#06f,#06f,#06f,#05f,#05f,#04f,#03f,#02f,#01f,#00f,#00f,#00f,#00f,#00f,#01f,#02f,#03f,#04f,#05f,#05f,#06f,#07f,#08f,#08f,#09f,#0af,#0bf,#0cf,#0df,#0df,#0cf,#0bf,#0bf,#0af,#09f,#08f,#07f,#07f,#07f,#07f,#06f,#06f,#06f,#06f,#06f,#05f,#05f,#05f,#05f,#04f,#04f,#04f,#04f,#04f,#04f)"></i><i style="background:linear-gradient(#00d,#00d,#00d,#00d,#00d,#00e,#00e,#00e,#00f,#01f,#02f,#05f,#09f,#0cf,#1fe,#4fb,#7f7,#bf3,#ef0,#fc0,#f90,#f60,#f30,#f10,#d00,#d00,#e00,#f10,#f30,#f50,#f70,#f90,#fc0,#fe0,#df2,#bf4,#9f6,#6f8,#4fa,#2fd,#0df,#0bf,#08f,#03f,#00f,#00f,#00e,#00e,#00e,#00e,#00f,#00f,#01f,#01f,#02f,#02f,#03f,#04f,#04f,#05f,#06f,#06f,#07f,#07f,#07f,#08f,#08f,#08f,#08f,#08f,#08f,#08f,#07f,#07f,#07f,#07f,#06f,#05f,#05f,#04f,#03f,#02f,#01f,#00f,#00f,#00f,#00f,#01f,#02f,#03f,#04f,#05f,#05f,#06f,#07f,#08f,#08f,#09f,#0af,#0bf,#0cf,#0cf,#0cf,#0bf,#0bf,#0af,#09f,#08f,#08f,#07f,#07f,#07f,#06f,#06f,#06f,#06f,#06f,#06f,#05f,#05f,#05f,#05f,#04f,#04f,#04f,#03f,#03f,#03f)"></i><i style="background:linear-gradient(#00d,#00d,#00d,#00d,#00d,#00e,#00e,#00e,#00f,#00f,#02f,#05f,#09f,#0cf,#0ee,#3fb,#7f8,#af4,#df1,#fd0,#fa0,#f70,#f40,#f20,#e10,#e00,#e10,#f20,#f30,#f50,#f70,#fa0,#fc0,#fe0,#df2,#bf4,#8f6,#6f8,#4fb,#2fd,#0df,#0bf,#07f,#03f,#00f,#00f,#00e,#00e,#00e,#00e,#00f,#00f,#01f,#02f,#02f,#03f,#04f,#04f,#05f,#05f,#06f,#06f,#07f,#07f,#08f,#08f,#08f,#08f,#08f,#08f,#08f,#08f,#08f,#08f,#07f,#07f,#06f,#06f,#05f,#04f,#03f,#02f,#01f,#00f,#00f,#00f,#00f,#01f,#02f,#03f,#04f,#05f,#05f,#06f,#07f,#08f,#08f,#09f,#0af,#0af,#0bf,#0bf,#0bf,#0bf,#0af,#09f,#09f,#08f,#08f,#07f,#07f,#07f,#06f,#06f,#06f,#06f,#06f,#06f,#05f,#05f,#05f,#05f,#04f,#04f,#04f,#03f,#03f,#03f)"></i><i style="background:linear-gradient(#00d,#00d,#00d,#00d,#00d,#00e,#00e,#00e,#00f,#00f,#02f,#04f,#08f,#0bf,#0ee,#3fc,#6f8,#af5,#df2,#fe0,#fb0,#f80,#f50,#f30,#f20,#f10,#f10,#f20,#f40,#f60,#f80,#fa0,#fc0,#ef0,#cf2,#af4,#8f6,#6f9,#3fb,#1fd,#0df,#0bf,#07f,#03f,#00f,#00f,#00e,#00e,#00e,#00e,#00f,#00f,#01f,#02f,#02f,#03f,#04f,#04f,#05f,#05f,#06f,#06f,#07f,#07f,#08f,#08f,#08f,#08f,#08f,#08f,#08f,#08f,#08f,#08f,#07f,#07f,#06f,#06f,#05f,#04f,#03f,#02f,#01f,#00f,#00f,#00f,#00f,#01f,#01f,#02f,#03f,#04f,#05f,#06f,#07f,#07f,#08f,#09f,#0af,#0af,#0bf,#0bf,#0bf,#0af,#0af,#09f,#08f,#08f,#07f,#07f,#07f,#06f,#06f,#06f,#06f,#06f,#06f,#05f,#05f,#05f,#05f,#04f,#04f,#04f,#04f,#03f,#03f,#03f)"></i><i style="background:linear-gradient(#00d,#00d,#00d,#00d,#00d,#00e,#00e,#00e,#00f,#00f,#02f,#04f,#08f,#0bf,#0df,#2fc,#5f9,#9f6,#cf2,#fe0,#fb0,#f90,#f60,#f40,#f20,#f20,#f20,#f30,#f40,#f60,#f80,#fb0,#fd0,#ef1,#cf2,#af5,#8f7,#5f9,#3fb,#1fd,#0df,#0af,#06f,#02f,#00f,#00f,#00e,#00e,#00e,#00f,#00f,#00f,#01f,#02f,#02f,#03f,#04f,#04f,#05f,#05f,#06f,#06f,#07f,#07f,#07f,#08f,#08f,#08f,#08f,#08f,#08f,#08f,#08f,#07f,#07f,#07f,#06f,#06f,#05f,#04f,#03f,#02f,#01f,#00f,#00f,#00f,#00f,#00f,#01f,#02f,#03f,#04f,#05f,#06f,#07f,#07f,#08f,#09f,#09f,#0af,#0af,#0af,#0af,#0af,#09f,#09f,#08f,#08f,#07f,#07f,#06f,#06f,#06f,#06f,#06f,#06f,#06f,#05f,#05f,#05f,#05f,#04f,#04f,#04f,#04f,#03f,#03f,#03f)"></i><i style="background:linear-gradient(#00d,#00d,#00d,#00d,#00d,#00e,#00e,#00e,#00f,#00f,#01f,#03f,#07f,#0bf,#0df,#2fd,#5fa,#8f6,#cf3,#ef0,#fc0,#fa0,#f70,#f50,#f30,#f30,#f30,#f40,#f50,#f70,#f90,#fb0,#fd0,#ef1,#cf3,#af5,#7f7,#5f9,#3fc,#1fe,#0cf,#0af,#05f,#02f,#00f,#00f,#00e,#00e,#00e,#00f,#00f,#00f,#01f,#02f,#02f,#03f,#03f,#04f,#04f,#05f,#05f,#06f,#06f,#06f,#07f,#07f,#07f,#07f,#07f,#07f,#07f,#07f,#07f,#07f,#06f,#06f,#06f,#05f,#05f,#04f,#03f,#02f,#01f,#00f,#00f,#00f,#00f,#00f,#01f,#02f,#03f,#04f,#05f,#06f,#07f,#08f,#08f,#09f,#09f,#0af,#0af,#0af,#0af,#09f,#09f,#08f,#08f,#07f,#07f,#07f,#06f,#06f,#06f,#06f,#06f,#06f,#05f,#05f,#05f,#05f,#05f,#04f,#04f,#04f,#04f,#03f,#03f,#03f)"></i><i style="background:linear-gradient(#00d,#00d,#00d,#00d,#00d,#00e,#00e,#00e,#00f,#00f,#01f,#03f,#06f,#0af,#0df,#1fd,#4fa,#8f7,#bf4,#ef1,#fd0,#fa0,#f80,#f60,#f40,#f30,#f30,#f40,#f60,#f70,#f90,#fc0,#fe0,#df1,#bf3,#9f5,#7f8,#5fa,#3fc,#1ee,#0cf,#09f,#05f,#01f,#00f,#00f,#00e,#00e,#00e,#00f,#00f,#00f,#01f,#02f,#02f,#03f,#03f,#03f,#04f,#04f,#05f,#05f,#05f,#05f,#06f,#06f,#06f,#06f,#06f,#06f,#06f,#06f,#06f,#06f,#05f,#05f,#05f,#05f,#04f,#04f,#03f,#02f,#01f,#00f,#00f,#00f,#00f,#00f,#01f,#02f,#03f,#04f,#05f,#06f,#07f,#08f,#08f,#09f,#09f,#0af,#0af,#0af,#09f,#09f,#08f,#08f,#07f,#07f,#07f,#06f,#06f,#06f,#06f,#06f,#06f,#05f,#05f,#05f,#05f,#05f,#04f,#04f,#04f,#04f,#04f,#03f,#03f,#03f)"></i><i style="background:linear-gradient(#00d,#00d,#00d,#00d,#00d,#00e,#00e,#00e,#00f,#00f,#01f,#03f,#06f,#0af,#0cf,#1fd,#4fb,#7f7,#af4,#df1,#fe0,#fb0,#f90,#f70,#f50,#f40,#f40,#f50,#f60,#f80,#fa0,#fc0,#fe0,#df2,#bf4,#9f6,#7f8,#4fa,#2fc,#0ee,#0cf,#08f,#04f,#01f,#00f,#00f,#00e,#00e,#00e,#00e,#00f,#00f,#01f,#01f,#02f,#02f,#03f,#03f,#03f,#04f,#04f,#04f,#04f,#05f,#05f,#05f,#05f,#05f,#05f,#05f,#05f,#05f,#05f,#05f,#05f,#04f,#04f,#04f,#04f,#03f,#03f,#02f,#01f,#00f,#00f,#00f,#00f,#00f,#00f,#02f,#03f,#04f,#05f,#06f,#07f,#08f,#08f,#09f,#09f,#0af,#0af,#09f,#09f,#09f,#08f,#08f,#07f,#07f,#06f,#06f,#06f,#06f,#06f,#05f,#05f,#05f,#05f,#05f,#05f,#05f,#04f,#04f,#04f,#04f,#03f,#03f,#03f,#03f)"></i><i style="background:linear-gradient(#00d,#00d,#00d,#00d,#00d,#00e,#00e,#00e,#00f,#00f,#01f,#03f,#05f,#0af,#0cf,#1fe,#4fb,#7f8,#af4,#df2,#fe0,#fc0,#f90,#f80,#f60,#f50,#f50,#f50,#f70,#f80,#fa0,#fd0,#ef0,#df2,#bf4,#8f6,#6f8,#4fa,#2fd,#0ee,#0bf,#08f,#04f,#01f,#00f,#00e,#00e,#00d,#00e,#00e,#00f,#00f,#01f,#01f,#02f,#02f,#02f,#03f,#03f,#03f,#03f,#04f,#04f,#04f,#04f,#04f,#04f,#04f,#04f,#04f,#04f,#04f,#04f,#04f,#04f,#04f,#04f,#04f,#03f,#03f,#03f,#02f,#01f,#00f,#00f,#00f,#00f,#00f,#00f,#01f,#02f,#04f,#05f,#06f,#07f,#08f,#08f,#09f,#09f,#0af,#0af,#09f,#09f,#08f,#08f,#07f,#07f,#07f,#06f,#06f,#06f,#06f,#05f,#05f,#05f,#05f,#05f,#05f,#05f,#04f,#04f,#04f,#04f,#04f,#03f,#03f,#03f,#03f)"></i><i style="background:linear-gradient(#00d,#00d,#00d,#00d,#00d,#00e,#00e,#00e,#00f,#00f,#01f,#03f,#05f,#09f,#0cf,#1fe,#3fb,#7f8,#af5,#df2,#fe0,#fc0,#fa0,#f80,#f70,#f60,#f50,#f60,#f70,#f90,#fb0,#fd0,#ef1,#cf2,#af4,#8f6,#6f9,#4fb,#2fd,#0df,#0bf,#07f,#03f,#00f,#00f,#00e,#00d,#00d,#00e,#00e,#00f,#00f,#01f,#01f,#02f,#02f,#02f,#03f,#03f,#03f,#03f,#03f,#03f,#04f,#04f,#04f,#04f,#04f,#04f,#04f,#04f,#04f,#04f,#04f,#04f,#04f,#03f,#03f,#03f,#03f,#03f,#02f,#01f,#01f,#00f,#00f,#00f,#00f,#00f,#01f,#02f,#04f,#05f,#06f,#07f,#08f,#08f,#09f,#09f,#0af,#0af,#09f,#09f,#08f,#08f,#07f,#07f,#06f,#06f,#06f,#06f,#05f,#05f,#05f,#05f,#05f,#05f,#05f,#05f,#04f,#04f,#04f,#04f,#04f,#03f,#03f,#03f,#03f)"></i><i style="background:linear-gradient(#00d,#00d,#00d,#00d,#00d,#00e,#00e,#00e,#00f,#00f,#01f,#03f,#05f,#0af,#0cf,#1fe,#4fb,#7f8,#af5,#df2,#fe0,#fc0,#fa0,#f80,#f70,#f60,#f60,#f60,#f70,#f90,#fb0,#fd0,#ef1,#cf3,#af5,#8f7,#5f9,#3fb,#1fd,#0df,#0af,#06f,#02f,#00f,#00f,#00e,#00d,#00d,#00e,#00e,#00f,#00f,#01f,#01f,#02f,#02f,#02f,#03f,#03f,#03f,#03f,#03f,#03f,#03f,#03f,#03f,#03f,#03f,#03f,#03f,#03f,#03f,#03f,#03f,#03f,#03f,#03f,#03f,#03f,#03f,#03f,#02f,#02f,#01f,#00f,#00f,#00f,#00f,#00f,#01f,#02f,#04f,#05f,#06f,#07f,#08f,#09f,#09f,#0af,#0af,#0af,#09f,#09f,#08f,#08f,#07f,#07f,#06f,#06f,#06f,#05f,#05f,#05f,#05f,#05f,#05f,#05f,#05f,#04f,#04f,#04f,#04f,#04f,#03f,#03f,#03f,#03f,#03f)"></i><i style="background:linear-gradient(#00d,#00d,#00d,#00d,#00d,#00e,#00e,#00e,#00f,#00f,#01f,#03f,#06f,#0af,#0cf,#1fd,#4fb,#7f7,#af4,#df2,#fe0,#fc0,#fa0,#f80,#f70,#f60,#f60,#f60,#f80,#fa0,#fc0,#fe0,#df1,#bf3,#9f5,#7f7,#5fa,#3fc,#1fe,#0cf,#0af,#05f,#02f,#00f,#00e,#00d,#00d,#00d,#00d,#00e,#00f,#00f,#01f,#02f,#02f,#02f,#02f,#03f,#03f,#03f,#03f,#03f,#03f,#03f,#03f,#03f,#03f,#03f,#03f,#03f,#03f,#03f,#03f,#03f,#03f,#03f,#03f,#03f,#03f,#03f,#03f,#02f,#02f,#01f,#00f,#00f,#00f,#00f,#00f,#01f,#02f,#04f,#05f,#06f,#07f,#08f,#09f,#09f,#0af,#0af,#0af,#09f,#09f,#08f,#07f,#07f,#06f,#06f,#06f,#05f,#05f,#05f,#05f,#05f,#05f,#05f,#05f,#04f,#04f,#04f,#04f,#04f,#04f,#03f,#03f,#03f,#03f,#03f)"></i><i style="background:linear-gradient(#00d,#00d,#00d,#00d,#00d,#00e,#00e,#00e,#00f,#00f,#01f,#03f,#06f,#0af,#0df,#1fd,#4fa,#7f7,#bf4,#df1,#fe0,#fc0,#fa0,#f80,#f70,#f60,#f60,#f70,#f80,#fa0,#fc0,#fe0,#df2,#bf4,#9f6,#7f8,#5fa,#2fc,#0ee,#0cf,#09f,#04f,#01f,#00f,#00e,#00d,#00c,#00d,#00d,#00e,#00f,#00f,#01f,#02f,#02f,#02f,#03f,#03f,#03f,#03f,#03f,#03f,#03f,#03f,#03f,#03f,#03f,#03f,#03f,#03f,#03f,#03f,#03f,#03f,#03f,#03f,#03f,#03f,#03f,#03f,#03f,#03f,#02f,#01f,#01f,#00f,#00f,#00f,#01f,#01f,#02f,#04f,#05f,#06f,#07f,#08f,#09f,#09f,#0af,#0af,#0af,#09f,#09f,#08f,#07f,#07f,#06f,#06f,#05f,#05f,#05f,#05f,#05f,#05f,#04f,#04f,#04f,#04f,#04f,#04f,#04f,#04f,#03f,#03f,#03f,#03f,#03f,#03f)"></i><i style="background:linear-gradient(#00d,#00d,#00d,#00d,#00d,#00e,#00e,#00e,#00f,#00f,#01f,#03f,#07f,#0bf,#0df,#2fd,#5fa,#8f7,#bf3,#df1,#fe0,#fc0,#fa0,#f80,#f70,#f60,#f60,#f70,#f80,#fa0,#fd0,#ef0,#cf2,#bf4,#8f6,#6f8,#4fa,#2fd,#0ee,#0bf,#08f,#04f,#00f,#00f,#00d,#00c,#00c,#00c,#00d,#00e,#00f,#01f,#01f,#02f,#02f,#02f,#03f,#03f,#03f,#03f,#03f,#03f,#03f,#03f,#03f,#04f,#04f,#04f,#04f,#03f,#03f,#03f,#03f,#03f,#03f,#03f,#03f,#03f,#03f,#03f,#03f,#03f,#02f,#02f,#01f,#01f,#00f,#01f,#01f,#02f,#03f,#04f,#05f,#06f,#07f,#08f,#09f,#09f,#0af,#0af,#0af,#09f,#09f,#08f,#07f,#07f,#06f,#06f,#05f,#05f,#05f,#05f,#04f,#04f,#04f,#04f,#04f,#04f,#04f,#04f,#04f,#04f,#03f,#03f,#03f,#03f,#03f,#03f)"></i><i style="background:linear-gradient(#00d,#00d,#00d,#00d,#00d,#00e,#00e,#00e,#00f,#00f,#02f,#04f,#07f,#0bf,#0df,#2fc,#5f9,#8f6,#cf3,#ef1,#fd0,#fb0,#fa0,#f80,#f70,#f60,#f60,#f70,#f90,#fb0,#fd0,#ef1,#cf2,#af4,#8f7,#6f9,#4fb,#2fd,#0df,#0bf,#07f,#03f,#00f,#00e,#00d,#00c,#00b,#00c,#00d,#00e,#00f,#01f,#01f,#02f,#02f,#03f,#03f,#03f,#03f,#03f,#03f,#04f,#04f,#04f,#04f,#04f,#04f,#04f,#04f,#04f,#04f,#04f,#04f,#03f,#03f,#03f,#03f,#03f,#03f,#03f,#03f,#03f,#03f,#02f,#02f,#01f,#01f,#01f,#01f,#02f,#03f,#04f,#05f,#06f,#07f,#08f,#09f,#09f,#0af,#0af,#0af,#09f,#08f,#08f,#07f,#06f,#06f,#05f,#05f,#05f,#04f,#04f,#04f,#04f,#04f,#04f,#04f,#04f,#04f,#04f,#03f,#03f,#03f,#03f,#03f,#03f,#03f,#03f)"></i><i style="background:linear-gradient(#00d,#00d,#00d,#00d,#00d,#00e,#00e,#00e,#00f,#00f,#02f,#04f,#08f,#0bf,#0ee,#3fc,#6f9,#9f5,#cf3,#ef0,#fd0,#fb0,#f90,#f80,#f70,#f60,#f60,#f70,#f90,#fb0,#fd0,#df1,#cf3,#af5,#7f7,#5f9,#3fb,#1fd,#0df,#0af,#06f,#02f,#00f,#00e,#00c,#00b,#00b,#00c,#00d,#00e,#00f,#01f,#02f,#02f,#03f,#03f,#03f,#03f,#03f,#04f,#04f,#04f,#04f,#04f,#04f,#04f,#04f,#04f,#04f,#04f,#04f,#04f,#04f,#04f,#04f,#04f,#04f,#04f,#04f,#04f,#04f,#03f,#03f,#03f,#02f,#02f,#02f,#01f,#02f,#02f,#03f,#04f,#05f,#06f,#07f,#08f,#09f,#09f,#0af,#0af,#09f,#09f,#08f,#08f,#07f,#06f,#06f,#05f,#05f,#04f,#04f,#04f,#04f,#04f,#04f,#04f,#04f,#04f,#04f,#03f,#03f,#03f,#03f,#03f,#03f,#03f,#03f,#03f)"></i><i style="background:linear-gradient(#00d,#00d,#00d,#00d,#00d,#00e,#00e,#00e,#00f,#00f,#02f,#05f,#09f,#0cf,#1ee,#3fb,#6f8,#af5,#df2,#ef0,#fd0,#fb0,#f90,#f80,#f70,#f60,#f60,#f70,#f90,#fc0,#fe0,#df1,#bf3,#9f5,#7f8,#5fa,#3fc,#1ee,#0cf,#09f,#05f,#01f,#00f,#00e,#00c,#00b,#00b,#00b,#00d,#00e,#00f,#01f,#02f,#02f,#03f,#03f,#03f,#03f,#04f,#04f,#04f,#04f,#04f,#04f,#04f,#04f,#04f,#04f,#04f,#04f,#04f,#04f,#04f,#04f,#04f,#04f,#04f,#04f,#04f,#04f,#04f,#04f,#03f,#03f,#03f,#02f,#02f,#02f,#02f,#03f,#03f,#04f,#05f,#06f,#07f,#08f,#09f,#09f,#0af,#0af,#09f,#09f,#08f,#07f,#07f,#06f,#05f,#05f,#05f,#04f,#04f,#04f,#04f,#04f,#04f,#04f,#03f,#03f,#03f,#03f,#03f,#03f,#03f,#03f,#03f,#03f,#03f,#03f)"></i><i style="background:linear-gradient(#00d,#00d,#00d,#00d,#00d,#00e,#00e,#00e,#00f,#01f,#03f,#06f,#0af,#0cf,#1fd,#4fb,#7f7,#bf4,#df1,#fe0,#fc0,#fa0,#f90,#f70,#f60,#f60,#f60,#f80,#fa0,#fc0,#fe0,#df2,#bf4,#9f6,#6f8,#4fa,#2fc,#0ee,#0cf,#09f,#04f,#01f,#00f,#00d,#00c,#00a,#00a,#00b,#00d,#00e,#00f,#01f,#02f,#03f,#03f,#03f,#04f,#04f,#04f,#04f,#04f,#04f,#04f,#04f,#04f,#05f,#04f,#04f,#04f,#04f,#04f,#04f,#04f,#04f,#04f,#04f,#04f,#04f,#04f,#04f,#04f,#04f,#04f,#04f,#03f,#03f,#03f,#02f,#03f,#03f,#03f,#04f,#05f,#06f,#07f,#08f,#09f,#09f,#0af,#0af,#09f,#09f,#08f,#07f,#06f,#06f,#05f,#05f,#04f,#04f,#04f,#04f,#04f,#03f,#03f,#03f,#03f,#03f,#03f,#03f,#03f,#03f,#03f,#03f,#03f,#03f,#03f,#03f)"></i><i style="background:linear-gradient(#00d,#00d,#00d,#00d,#00d,#00e,#00e,#00e,#00f,#01f,#04f,#07f,#0bf,#0df,#2fc,#5f9,#8f6,#cf3,#ef1,#fd0,#fb0,#fa0,#f80,#f70,#f60,#f60,#f60,#f80,#fa0,#fd0,#ef0,#cf2,#af4,#8f6,#6f9,#4fb,#2fd,#0df,#0bf,#07f,#03f,#00f,#00f,#00d,#00b,#00a,#00a,#00b,#00d,#00e,#00f,#01f,#02f,#03f,#03f,#04f,#04f,#04f,#04f,#04f,#05f,#05f,#05f,#05f,#05f,#05f,#05f,#05f,#05f,#05f,#05f,#05f,#04f,#04f,#04f,#04f,#04f,#04f,#04f,#04f,#04f,#04f,#04f,#04f,#04f,#03f,#03f,#03f,#03f,#03f,#04f,#04f,#05f,#06f,#07f,#08f,#09f,#09f,#09f,#09f,#09f,#08f,#08f,#07f,#06f,#05f,#05f,#04f,#04f,#04f,#04f,#03f,#03f,#03f,#03f,#03f,#03f,#03f,#03f,#03f,#03f,#03f,#03f,#03f,#03f,#03f,#03f,#03f)"></i><i style="background:linear-gradient(#00d,#00d,#00d,#00d,#00d,#00e,#00e,#00f,#00f,#02f,#05f,#09f,#0cf,#1ee,#3fb,#7f8,#af5,#df2,#fe0,#fc0,#fa0,#f90,#f70,#f60,#f50,#f50,#f60,#f80,#fa0,#fd0,#ef1,#cf3,#af5,#8f7,#5f9,#3fb,#1fd,#0df,#0bf,#06f,#03f,#00f,#00f,#00d,#00b,#00a,#00a,#00b,#00d,#00f,#00f,#02f,#02f,#03f,#04f,#04f,#04f,#04f,#05f,#05f,#05f,#05f,#05f,#05f,#05f,#05f,#05f,#05f,#05f,#05f,#05f,#05f,#05f,#05f,#05f,#04f,#04f,#04f,#04f,#04f,#04f,#04f,#04f,#04f,#04f,#04f,#04f,#03f,#03f,#03f,#04f,#04f,#05f,#06f,#07f,#08f,#08f,#09f,#09f,#09f,#09f,#08f,#08f,#07f,#06f,#05f,#05f,#04f,#04f,#04f,#03f,#03f,#03f,#03f,#03f,#03f,#03f,#03f,#03f,#02f,#02f,#02f,#02f,#02f,#02f,#02f,#02f,#02f)"></i><i style="background:linear-gradient(#00d,#00d,#00d,#00d,#00d,#00e,#00e,#00f,#01f,#04f,#07f,#0bf,#0df,#2fd,#5fa,#8f6,#bf3,#ef1,#fd0,#fb0,#f90,#f80,#f60,#f50,#f50,#f50,#f60,#f80,#fb0,#fd0,#df1,#bf3,#9f5,#7f7,#5fa,#3fc,#1fe,#0cf,#0af,#05f,#02f,#00f,#00f,#00d,#00b,#00a,#00a,#00b,#00d,#00f,#01f,#02f,#03f,#03f,#04f,#04f,#05f,#05f,#05f,#05f,#05f,#06f,#06f,#06f,#06f,#06f,#06f,#06f,#06f,#05f,#05f,#05f,#05f,#05f,#05f,#05f,#05f,#05f,#05f,#05f,#05f,#05f,#05f,#05f,#04f,#04f,#04f,#04f,#04f,#04f,#04f,#04f,#05f,#06f,#07f,#07f,#08f,#09f,#09f,#09f,#08f,#08f,#07f,#06f,#06f,#05f,#04f,#04f,#04f,#03f,#03f,#03f,#03f,#03f,#03f,#02f,#02f,#02f,#02f,#02f,#02f,#02f,#02f,#02f,#02f,#02f,#02f,#02f)"></i><i style="background:linear-gradient(#00d,#00d,#00d,#00d,#00d,#00e,#00e,#00f,#02f,#05f,#09f,#0cf,#1ee,#3fb,#6f8,#9f5,#cf2,#ef0,#fc0,#fa0,#f80,#f70,#f50,#f50,#f40,#f50,#f70,#f90,#fb0,#fe0,#df2,#bf4,#9f6,#7f8,#5fa,#2fc,#1ee,#0cf,#09f,#05f,#02f,#00f,#00f,#00d,#00c,#00a,#00a,#00c,#00d,#00f,#01f,#02f,#03f,#04f,#05f,#05f,#05f,#05f,#06f,#06f,#06f,#06f,#06f,#06f,#06f,#06f,#06f,#06f,#06f,#06f,#06f,#06f,#05f,#05f,#05f,#05f,#05f,#05f,#05f,#05f,#05f,#05f,#05f,#05f,#05f,#04f,#04f,#04f,#04f,#04f,#04f,#04f,#05f,#06f,#06f,#07f,#08f,#08f,#09f,#08f,#08f,#08f,#07f,#06f,#05f,#05f,#04f,#04f,#03f,#03f,#03f,#03f,#02f,#02f,#02f,#02f,#02f,#02f,#02f,#02f,#02f,#02f,#02f,#02f,#02f,#02f,#02f,#02f)"></i><i style="background:linear-gradient(#00d,#00d,#00d,#00d,#00d,#00e,#00f,#01f,#03f,#07f,#0af,#0df,#1fd,#4fa,#7f7,#bf4,#df1,#fe0,#fc0,#f90,#f70,#f60,#f50,#f40,#f40,#f50,#f70,#f90,#fc0,#fe0,#df2,#bf4,#9f6,#6f8,#4fa,#2fc,#0ee,#0cf,#08f,#04f,#02f,#00f,#00f,#00d,#00c,#00b,#00b,#00c,#00e,#00f,#01f,#03f,#04f,#05f,#05f,#06f,#06f,#06f,#06f,#07f,#07f,#07f,#07f,#07f,#07f,#07f,#07f,#07f,#07f,#06f,#06f,#06f,#06f,#06f,#06f,#05f,#05f,#05f,#05f,#05f,#05f,#05f,#05f,#05f,#05f,#05f,#05f,#04f,#04f,#04f,#04f,#04f,#05f,#06f,#06f,#07f,#08f,#08f,#08f,#08f,#08f,#07f,#07f,#06f,#05f,#04f,#04f,#03f,#03f,#03f,#03f,#02f,#02f,#02f,#02f,#02f,#02f,#02f,#02f,#02f,#02f,#02f,#02f,#02f,#02f,#02f,#02f,#02f)"></i><i style="background:linear-gradient(#00d,#00d,#00d,#00d,#00d,#00e,#00f,#01f,#04f,#08f,#0bf,#0df,#2fc,#5f9,#8f6,#bf3,#ef1,#fd0,#fb0,#f90,#f70,#f50,#f40,#f40,#f40,#f50,#f70,#f90,#fc0,#fe0,#df2,#bf4,#8f6,#6f8,#4fb,#2fd,#0ee,#0bf,#08f,#04f,#01f,#00f,#00f,#00e,#00c,#00b,#00b,#00c,#00e,#00f,#02f,#03f,#04f,#05f,#06f,#07f,#07f,#07f,#07f,#08f,#08f,#08f,#08f,#08f,#08f,#08f,#08f,#07f,#07f,#07f,#07f,#07f,#06f,#06f,#06f,#06f,#06f,#05f,#05f,#05f,#06f,#06f,#06f,#05f,#05f,#05f,#05f,#04f,#04f,#04f,#04f,#04f,#05f,#05f,#06f,#07f,#07f,#08f,#08f,#08f,#07f,#07f,#06f,#06f,#05f,#04f,#04f,#03f,#03f,#03f,#02f,#02f,#02f,#02f,#02f,#02f,#01f,#01f,#01f,#01f,#01f,#01f,#02f,#02f,#02f,#02f,#02f,#02f)"></i><i style="background:linear-gradient(#00d,#00d,#00d,#00d,#00d,#00e,#00f,#02f,#04f,#08f,#0cf,#0ee,#3fc,#6f9,#9f6,#cf3,#ef0,#fd0,#fa0,#f80,#f60,#f40,#f30,#f30,#f40,#f50,#f70,#fa0,#fc0,#ef0,#cf2,#af4,#8f6,#6f9,#4fb,#2fd,#0df,#0bf,#07f,#03f,#01f,#01f,#00f,#00e,#00d,#00c,#00c,#00d,#00f,#01f,#02f,#04f,#05f,#06f,#07f,#08f,#08f,#08f,#08f,#09f,#09f,#09f,#09f,#09f,#09f,#08f,#08f,#08f,#08f,#08f,#07f,#07f,#07f,#07f,#06f,#06f,#06f,#06f,#06f,#06f,#06f,#06f,#06f,#06f,#06f,#05f,#05f,#05f,#04f,#04f,#04f,#04f,#05f,#05f,#06f,#06f,#07f,#07f,#07f,#07f,#07f,#06f,#06f,#05f,#05f,#04f,#03f,#03f,#03f,#02f,#02f,#02f,#02f,#02f,#01f,#01f,#01f,#01f,#01f,#01f,#01f,#01f,#01f,#01f,#02f,#02f,#02f,#02f)"></i><i style="background:linear-gradient(#00d,#00d,#00d,#00d,#00e,#00e,#00f,#02f,#05f,#09f,#0cf,#1ee,#3fb,#6f8,#9f5,#cf2,#ee0,#fc0,#fa0,#f70,#f50,#f40,#f30,#f30,#f40,#f50,#f70,#fa0,#fc0,#ef0,#cf2,#af4,#8f7,#6f9,#3fb,#1fd,#0df,#0bf,#06f,#03f,#01f,#01f,#00f,#00e,#00d,#00c,#00c,#00e,#00f,#01f,#03f,#05f,#06f,#07f,#08f,#09f,#09f,#09f,#0af,#0af,#0af,#0af,#0af,#0af,#09f,#09f,#09f,#09f,#09f,#08f,#08f,#08f,#08f,#07f,#07f,#07f,#06f,#06f,#06f,#06f,#06f,#06f,#06f,#06f,#06f,#06f,#05f,#05f,#05f,#04f,#04f,#04f,#05f,#05f,#05f,#06f,#06f,#07f,#07f,#07f,#06f,#06f,#05f,#05f,#04f,#04f,#03f,#03f,#03f,#02f,#02f,#02f,#02f,#01f,#01f,#01f,#01f,#01f,#00f,#00f,#00f,#01f,#01f,#01f,#02f,#02f,#02f,#02f)"></i><i style="background:linear-gradient(#00d,#00d,#00d,#00d,#00e,#00f,#00f,#02f,#05f,#09f,#0cf,#1fe,#3fb,#7f8,#af5,#df2,#fe0,#fb0,#f90,#f70,#f50,#f30,#f30,#f30,#f40,#f60,#f80,#fa0,#fd0,#ef1,#cf3,#af5,#7f7,#5f9,#3fc,#1fe,#0cf,#0af,#05f,#03f,#01f,#01f,#00f,#00e,#00d,#00d,#00d,#00e,#00f,#02f,#03f,#05f,#07f,#08f,#09f,#09f,#0af,#0af,#0bf,#0bf,#0bf,#0bf,#0bf,#0bf,#0bf,#0af,#0af,#0af,#0af,#09f,#09f,#09f,#08f,#08f,#07f,#07f,#07f,#07f,#06f,#06f,#06f,#06f,#06f,#06f,#06f,#06f,#05f,#05f,#05f,#04f,#04f,#04f,#04f,#05f,#05f,#05f,#06f,#06f,#06f,#06f,#06f,#06f,#05f,#05f,#04f,#04f,#03f,#03f,#02f,#02f,#02f,#02f,#02f,#01f,#01f,#01f,#00f,#00f,#00f,#00f,#00f,#00f,#01f,#01f,#01f,#02f,#02f,#02f)"></i><i style="background:linear-gradient(#00d,#00d,#00d,#00d,#00e,#00f,#01f,#03f,#06f,#0af,#0cf,#1fd,#4fb,#7f7,#af4,#df2,#fe0,#fb0,#f80,#f60,#f40,#f30,#f20,#f30,#f40,#f60,#f80,#fb0,#fd0,#ef1,#bf3,#9f5,#7f8,#4fa,#2fc,#0ee,#0cf,#08f,#04f,#02f,#01f,#01f,#00f,#00f,#00e,#00d,#00d,#00e,#00f,#02f,#04f,#06f,#07f,#08f,#09f,#0af,#0bf,#0bf,#0bf,#0cf,#0cf,#0cf,#0cf,#0cf,#0cf,#0bf,#0bf,#0bf,#0bf,#0af,#0af,#09f,#09f,#08f,#08f,#08f,#07f,#07f,#07f,#07f,#07f,#07f,#07f,#06f,#06f,#06f,#06f,#05f,#05f,#04f,#04f,#04f,#04f,#04f,#05f,#05f,#05f,#06f,#06f,#06f,#05f,#05f,#05f,#04f,#04f,#03f,#03f,#03f,#02f,#02f,#02f,#02f,#01f,#01f,#01f,#01f,#00f,#00f,#00f,#00f,#00f,#00f,#00f,#01f,#01f,#01f,#01f,#01f)"></i><i style="background:linear-gradient(#00d,#00d,#00d,#00d,#00e,#00f,#01f,#03f,#06f,#0af,#0df,#1fd,#4fa,#7f7,#bf4,#df1,#fd0,#fa0,#f80,#f50,#f40,#f20,#f20,#f30,#f40,#f60,#f80,#fb0,#fe0,#df1,#bf4,#8f6,#6f9,#3fb,#1fe,#0df,#0af,#05f,#03f,#02f,#01f,#01f,#00f,#00f,#00e,#00d,#00e,#00f,#00f,#02f,#04f,#06f,#07f,#08f,#0af,#0af,#0bf,#0cf,#0cf,#0cf,#0df,#0df,#0df,#0df,#0df,#0df,#0cf,#0cf,#0cf,#0bf,#0bf,#0af,#0af,#09f,#09f,#08f,#08f,#07f,#07f,#07f,#07f,#07f,#07f,#07f,#06f,#06f,#06f,#05f,#05f,#04f,#04f,#04f,#04f,#04f,#04f,#05f,#05f,#05f,#05f,#05f,#05f,#05f,#04f,#04f,#03f,#03f,#03f,#02f,#02f,#02f,#02f,#02f,#01f,#01f,#01f,#00f,#00f,#00f,#00f,#00f,#00f,#00f,#00f,#00f,#01f,#01f,#01f,#01f)"></i><i style="background:linear-gradient(#00d,#00d,#00d,#00d,#00e,#00f,#01f,#03f,#07f,#0bf,#0df,#2fd,#5fa,#8f7,#bf3,#ef1,#fd0,#fa0,#f70,#f50,#f30,#f20,#f20,#f30,#f40,#f60,#f90,#fb0,#fe0,#df2,#af4,#7f7,#5fa,#2fc,#0ee,#0bf,#08f,#04f,#02f,#02f,#01f,#01f,#00f,#00f,#00e,#00d,#00e,#00f,#00f,#02f,#04f,#06f,#07f,#09f,#0af,#0bf,#0bf,#0cf,#0df,#0df,#0df,#0ee,#0ee,#0ee,#0ee,#0ee,#0df,#0df,#0df,#0cf,#0cf,#0bf,#0af,#0af,#09f,#09f,#08f,#08f,#08f,#07f,#07f,#07f,#07f,#07f,#07f,#06f,#06f,#05f,#05f,#04f,#04f,#04f,#04f,#04f,#04f,#04f,#04f,#05f,#05f,#05f,#05f,#04f,#04f,#04f,#03f,#03f,#03f,#02f,#02f,#02f,#02f,#01f,#01f,#01f,#01f,#00f,#00f,#00f,#00f,#00e,#00e,#00f,#00f,#00f,#01f,#01f,#01f,#01f)"></i><i style="background:linear-gradient(#00d,#00d,#00d,#00d,#00e,#00f,#01f,#04f,#07f,#0bf,#0df,#2fd,#5fa,#8f6,#bf3,#ef1,#fc0,#f90,#f70,#f40,#f30,#f20,#f20,#f30,#f40,#f70,#f90,#fc0,#fe0,#cf2,#af5,#7f8,#4fa,#2fd,#0df,#0bf,#06f,#03f,#02f,#02f,#01f,#01f,#00f,#00f,#00e,#00e,#00e,#00f,#00f,#02f,#04f,#06f,#07f,#08f,#0af,#0bf,#0cf,#0cf,#0df,#0ef,#0ee,#1ee,#1fe,#1fd,#1fd,#1fe,#1ee,#0ee,#0ee,#0df,#0cf,#0cf,#0bf,#0af,#0af,#09f,#09f,#08f,#08f,#08f,#08f,#08f,#07f,#07f,#07f,#06f,#06f,#05f,#05f,#04f,#04f,#04f,#04f,#04f,#04f,#04f,#04f,#04f,#04f,#04f,#04f,#04f,#04f,#03f,#03f,#03f,#02f,#02f,#02f,#02f,#02f,#01f,#01f,#01f,#00f,#00f,#00f,#00f,#00e,#00e,#00e,#00e,#00f,#00f,#01f,#01f,#01f,#01f)"></i><i style="background:linear-gradient(#00d,#00d,#00d,#00d,#00e,#00f,#01f,#04f,#08f,#0bf,#0df,#2fc,#5f9,#9f6,#cf3,#ef0,#fc0,#f90,#f60,#f40,#f20,#f10,#f20,#f30,#f40,#f70,#f90,#fc0,#fe0,#cf2,#af5,#7f7,#4fa,#2fd,#0df,#0bf,#07f,#04f,#02f,#02f,#01f,#01f,#00f,#00f,#00e,#00e,#00e,#00f,#00f,#02f,#04f,#05f,#07f,#08f,#0af,#0bf,#0cf,#0df,#0df,#0ee,#1fe,#1fd,#2fd,#2fd,#2fd,#2fd,#2fd,#1fd,#1ee,#0ee,#0df,#0cf,#0cf,#0bf,#0af,#0af,#09f,#09f,#08f,#08f,#08f,#08f,#08f,#07f,#07f,#07f,#06f,#05f,#05f,#04f,#04f,#03f,#03f,#03f,#03f,#03f,#03f,#04f,#04f,#04f,#04f,#03f,#03f,#03f,#03f,#03f,#02f,#02f,#02f,#02f,#02f,#01f,#01f,#01f,#00f,#00f,#00f,#00e,#00e,#00d,#00d,#00e,#00f,#00f,#00f,#01f,#01f,#01f)"></i><i style="background:linear-gradient(#00d,#00d,#00d,#00d,#00e,#00f,#02f,#04f,#08f,#0bf,#0ee,#2fc,#6f9,#9f6,#cf2,#fe0,#fb0,#f90,#f60,#f40,#f20,#f10,#f20,#f30,#f40,#f70,#f90,#fc0,#fe0,#df2,#af4,#8f7,#5f9,#3fc,#1ee,#0cf,#0af,#05f,#03f,#02f,#01f,#01f,#00f,#00f,#00e,#00e,#00e,#00f,#00f,#02f,#04f,#05f,#07f,#08f,#0af,#0bf,#0cf,#0df,#0ee,#1ee,#1fd,#2fd,#2fc,#2fc,#2fc,#2fc,#2fc,#2fd,#1fd,#1fe,#0ee,#0df,#0cf,#0bf,#0bf,#0af,#09f,#09f,#09f,#08f,#08f,#08f,#08f,#08f,#07f,#07f,#06f,#05f,#05f,#04f,#04f,#03f,#03f,#03f,#03f,#03f,#03f,#03f,#03f,#03f,#03f,#03f,#03f,#03f,#03f,#02f,#02f,#02f,#02f,#02f,#02f,#01f,#01f,#01f,#00f,#00f,#00f,#00e,#00d,#00d,#00d,#00e,#00f,#00f,#00f,#01f,#01f,#01f)"></i><i style="background:linear-gradient(#00d,#00d,#00d,#00d,#00e,#00f,#02f,#04f,#08f,#0bf,#0ee,#3fc,#6f9,#9f5,#cf2,#fe0,#fb0,#f80,#f60,#f30,#f20,#f10,#f20,#f30,#f40,#f60,#f90,#fb0,#fe0,#df1,#bf3,#9f6,#6f8,#4fa,#2fd,#0ee,#0bf,#08f,#04f,#02f,#01f,#01f,#00f,#00f,#00e,#00e,#00e,#00f,#00f,#02f,#04f,#05f,#07f,#08f,#0af,#0bf,#0cf,#0df,#0ee,#1fe,#1fd,#2fd,#2fc,#3fc,#3fc,#3fc,#2fc,#2fc,#2fd,#1fd,#1ee,#0df,#0df,#0cf,#0bf,#0af,#0af,#09f,#09f,#09f,#08f,#08f,#08f,#08f,#07f,#07f,#06f,#05f,#05f,#04f,#03f,#03f,#03f,#03f,#02f,#02f,#03f,#03f,#03f,#03f,#03f,#03f,#03f,#02f,#02f,#02f,#02f,#02f,#02f,#02f,#02f,#02f,#01f,#01f,#00f,#00f,#00f,#00e,#00d,#00d,#00d,#00d,#00e,#00f,#00f,#01f,#01f,#01f)"></i><i style="background:linear-gradient(#00d,#00d,#00d,#00d,#00e,#00f,#02f,#05f,#09f,#0cf,#0ee,#3fc,#6f8,#af5,#df2,#fe0,#fb0,#f80,#f50,#f30,#f20,#f10,#f20,#f30,#f40,#f60,#f90,#fb0,#fe0,#df1,#bf3,#9f5,#7f7,#5f9,#3fc,#1fe,#0df,#0af,#05f,#03f,#01f,#01f,#00f,#00f,#00e,#00d,#00e,#00f,#00f,#02f,#04f,#05f,#07f,#08f,#0af,#0bf,#0cf,#0df,#0ee,#1fe,#2fd,#2fc,#2fc,#3fc,#3fc,#3fc,#3fc,#2fc,#2fd,#1fd,#1ee,#0ee,#0df,#0cf,#0bf,#0af,#0af,#09f,#09f,#09f,#09f,#08f,#08f,#08f,#07f,#07f,#06f,#05f,#05f,#04f,#03f,#03f,#02f,#02f,#02f,#02f,#02f,#02f,#02f,#02f,#02f,#02f,#02f,#02f,#02f,#02f,#02f,#02f,#02f,#02f,#02f,#02f,#01f,#01f,#00f,#00f,#00e,#00d,#00d,#00c,#00d,#00d,#00e,#00f,#00f,#01f,#01f,#01f)"></i><i style="background:linear-gradient(#00d,#00d,#00d,#00d,#00e,#00f,#02f,#05f,#09f,#0cf,#0ee,#3fb,#6f8,#af5,#df2,#fd0,#fb0,#f80,#f50,#f30,#f20,#f10,#f10,#f30,#f40,#f60,#f90,#fb0,#fd0,#df1,#cf3,#af5,#8f7,#6f9,#4fb,#2fd,#0df,#0bf,#07f,#03f,#01f,#01f,#00f,#00f,#00e,#00d,#00e,#00f,#00f,#02f,#04f,#05f,#07f,#08f,#0af,#0bf,#0cf,#0df,#0ee,#1fe,#1fd,#2fd,#2fc,#3fc,#3fc,#3fc,#3fc,#2fc,#2fd,#1fd,#1ee,#0ee,#0df,#0cf,#0bf,#0bf,#0af,#09f,#09f,#09f,#09f,#09f,#08f,#08f,#08f,#07f,#06f,#05f,#05f,#04f,#03f,#03f,#02f,#02f,#02f,#02f,#02f,#02f,#02f,#02f,#02f,#02f,#02f,#02f,#02f,#02f,#02f,#02f,#02f,#02f,#02f,#02f,#01f,#01f,#00f,#00f,#00e,#00d,#00d,#00c,#00c,#00d,#00e,#00f,#00f,#01f,#01f,#01f)"></i><i style="background:linear-gradient(#00d,#00d,#00d,#00d,#00e,#00f,#02f,#05f,#09f,#0cf,#1ee,#3fb,#7f8,#af4,#df1,#fd0,#fa0,#f70,#f50,#f30,#f20,#f10,#f10,#f30,#f40,#f60,#f90,#fb0,#fd0,#ef1,#cf3,#af5,#8f7,#6f9,#4fb,#2fd,#0ee,#0cf,#08f,#04f,#02f,#01f,#00f,#00f,#00e,#00d,#00e,#00f,#00f,#02f,#04f,#05f,#07f,#08f,#0af,#0bf,#0cf,#0df,#0ee,#1ee,#1fd,#2fd,#2fc,#2fc,#3fc,#3fc,#2fc,#2fc,#2fd,#1fd,#1ee,#0ee,#0df,#0cf,#0bf,#0bf,#0af,#0af,#09f,#09f,#09f,#09f,#08f,#08f,#08f,#07f,#06f,#05f,#05f,#04f,#03f,#02f,#02f,#01f,#01f,#01f,#01f,#01f,#01f,#01f,#01f,#01f,#02f,#02f,#02f,#02f,#02f,#02f,#02f,#02f,#02f,#02f,#01f,#01f,#00f,#00f,#00e,#00d,#00d,#00c,#00c,#00d,#00e,#00f,#00f,#01f,#01f,#01f)"></i><i style="background:linear-gradient(#00d,#00d,#00d,#00d,#00e,#00f,#02f,#05f,#09f,#0cf,#1ee,#3fb,#7f8,#bf4,#df1,#fd0,#fa0,#f70,#f50,#f30,#f20,#f10,#f10,#f30,#f40,#f60,#f90,#fb0,#fd0,#ef1,#cf3,#af5,#8f7,#6f8,#4fa,#2fc,#0ee,#0cf,#09f,#04f,#02f,#01f,#00f,#00f,#00e,#00d,#00d,#00e,#00f,#02f,#04f,#05f,#07f,#08f,#09f,#0af,#0bf,#0cf,#0df,#0ee,#1fe,#1fd,#2fd,#2fc,#2fc,#2fc,#2fc,#2fd,#1fd,#1fd,#1ee,#0df,#0df,#0cf,#0bf,#0bf,#0af,#0af,#09f,#09f,#09f,#09f,#08f,#08f,#08f,#07f,#06f,#05f,#04f,#04f,#03f,#02f,#01f,#01f,#01f,#01f,#01f,#01f,#01f,#01f,#01f,#01f,#01f,#01f,#02f,#02f,#02f,#02f,#02f,#02f,#02f,#02f,#02f,#01f,#00f,#00f,#00f,#00e,#00d,#00c,#00d,#00d,#00e,#00f,#00f,#01f,#01f,#01f)"></i><i style="background:linear-gradient(#00d,#00d,#00d,#00d,#00e,#00f,#02f,#05f,#09f,#0cf,#1ee,#4fb,#7f7,#bf4,#ef1,#fd0,#fa0,#f70,#f50,#f30,#f10,#f10,#f10,#f30,#f40,#f60,#f90,#fb0,#fd0,#ef1,#cf3,#af5,#8f6,#6f8,#4fa,#2fc,#1ee,#0cf,#09f,#05f,#02f,#01f,#00f,#00e,#00e,#00d,#00d,#00e,#00f,#02f,#03f,#05f,#07f,#08f,#09f,#0af,#0bf,#0cf,#0df,#0ee,#1ee,#1fd,#2fd,#2fd,#2fd,#2fd,#2fd,#1fd,#1fd,#1fe,#0ee,#0df,#0df,#0cf,#0bf,#0bf,#0af,#0af,#09f,#09f,#09f,#09f,#09f,#08f,#08f,#07f,#06f,#05f,#04f,#03f,#02f,#02f,#01f,#01f,#00f,#00f,#00f,#00f,#00f,#00f,#01f,#01f,#01f,#01f,#01f,#02f,#02f,#02f,#02f,#02f,#02f,#02f,#02f,#01f,#01f,#00f,#00f,#00e,#00d,#00d,#00d,#00d,#00e,#00f,#00f,#01f,#01f,#01f)"></i><i style="background:linear-gradient(#00d,#00d,#00d,#00e,#00f,#00f,#02f,#05f,#09f,#0cf,#1fe,#4fb,#7f7,#bf3,#ef1,#fc0,#fa0,#f70,#f50,#f30,#f10,#f10,#f10,#f30,#f40,#f60,#f90,#fb0,#fe0,#df1,#cf3,#af5,#8f6,#6f8,#4fa,#2fc,#1ee,#0cf,#09f,#05f,#02f,#01f,#00f,#00e,#00d,#00d,#00d,#00e,#00f,#02f,#03f,#05f,#07f,#08f,#09f,#0af,#0bf,#0cf,#0df,#0df,#0ee,#1fe,#1fd,#1fd,#1fd,#1fd,#1fe,#1ee,#1ee,#0ee,#0ee,#0df,#0cf,#0cf,#0bf,#0af,#0af,#0af,#09f,#09f,#09f,#09f,#09f,#08f,#08f,#07f,#06f,#05f,#04f,#03f,#02f,#01f,#01f,#00f,#00f,#00f,#00f,#00f,#00f,#00f,#00f,#00f,#01f,#01f,#01f,#01f,#02f,#02f,#02f,#02f,#02f,#02f,#02f,#01f,#01f,#00f,#00f,#00e,#00d,#00d,#00d,#00e,#00f,#00f,#01f,#01f,#01f,#01f)"></i><i style="background:linear-gradient(#00d,#00d,#00d,#00d,#00f,#00f,#02f,#05f,#09f,#0cf,#1fe,#4fb,#8f7,#bf3,#ef0,#fc0,#f90,#f70,#f40,#f30,#f10,#f10,#f10,#f30,#f40,#f60,#f90,#fb0,#fe0,#df1,#cf3,#af5,#8f7,#6f8,#4fa,#2fc,#0ee,#0cf,#09f,#04f,#02f,#01f,#00f,#00e,#00d,#00d,#00d,#00e,#00f,#01f,#03f,#05f,#06f,#08f,#09f,#0af,#0bf,#0cf,#0cf,#0df,#0ee,#0ee,#1ee,#1fe,#1ee,#0ee,#0df,#0df,#0df,#0df,#0df,#0df,#0cf,#0cf,#0bf,#0af,#0af,#0af,#09f,#09f,#09f,#09f,#09f,#08f,#08f,#07f,#06f,#05f,#04f,#03f,#02f,#01f,#00f,#00f,#00f,#00f,#00f,#00f,#00f,#00f,#00f,#00f,#00f,#01f,#01f,#01f,#01f,#02f,#02f,#02f,#02f,#02f,#02f,#01f,#01f,#00f,#00f,#00f,#00e,#00e,#00e,#00e,#00f,#00f,#01f,#01f,#01f,#01f)"></i><i style="background:linear-gradient(#00d,#00d,#00d,#00d,#00e,#00f,#02f,#05f,#09f,#0cf,#1ee,#4fb,#7f7,#bf3,#ef0,#fc0,#f90,#f70,#f50,#f30,#f10,#f10,#f10,#f30,#f40,#f60,#f90,#fb0,#fe0,#df1,#cf3,#af5,#8f7,#6f9,#4fb,#2fd,#0ee,#0cf,#08f,#04f,#01f,#01f,#00f,#00e,#00d,#00d,#00d,#00e,#00f,#01f,#03f,#05f,#06f,#08f,#09f,#0af,#0af,#0bf,#0cf,#0df,#0df,#0ee,#0ee,#1ee,#0ee,#0df,#0cf,#0cf,#0df,#0df,#0df,#0df,#0cf,#0bf,#0bf,#0af,#0af,#09f,#09f,#09f,#09f,#09f,#09f,#08f,#08f,#07f,#06f,#05f,#04f,#03f,#02f,#01f,#00f,#00f,#00f,#00f,#00f,#00f,#00f,#00f,#00f,#00f,#00f,#00f,#01f,#01f,#01f,#02f,#02f,#02f,#02f,#02f,#02f,#02f,#01f,#01f,#00f,#00f,#00e,#00e,#00e,#00f,#00f,#00f,#01f,#01f,#01f,#01f)"></i><i style="background:linear-gradient(#00d,#00d,#00d,#00d,#00e,#00f,#02f,#05f,#09f,#0cf,#0ee,#3fb,#7f7,#bf4,#ef1,#fc0,#fa0,#f70,#f50,#f30,#f20,#f10,#f20,#f30,#f40,#f60,#f90,#fb0,#fe0,#df1,#cf3,#af5,#8f7,#6f9,#4fb,#2fd,#0df,#0bf,#07f,#03f,#01f,#00f,#00f,#00e,#00d,#00d,#00d,#00e,#00f,#01f,#03f,#05f,#06f,#07f,#08f,#09f,#0af,#0bf,#0cf,#0cf,#0df,#0df,#0ee,#0ee,#0ee,#0df,#0df,#0df,#0df,#0df,#0df,#0cf,#0cf,#0bf,#0bf,#0af,#0af,#09f,#09f,#09f,#09f,#09f,#08f,#08f,#08f,#07f,#06f,#05f,#04f,#03f,#02f,#01f,#00f,#00f,#00f,#00e,#00e,#00e,#00e,#00f,#00f,#00f,#00f,#00f,#01f,#01f,#01f,#02f,#02f,#02f,#02f,#02f,#02f,#02f,#01f,#01f,#00f,#00f,#00f,#00f,#00f,#00f,#00f,#01f,#01f,#02f,#02f,#02f)"></i><i style="background:linear-gradient(#00d,#00d,#00d,#00d,#00e,#00f,#02f,#04f,#08f,#0bf,#0ee,#3fc,#7f8,#af4,#ef1,#fd0,#fa0,#f70,#f50,#f30,#f20,#f10,#f20,#f30,#f40,#f60,#f90,#fb0,#fd0,#df1,#cf3,#af5,#7f7,#5f9,#3fb,#1fd,#0df,#0af,#06f,#03f,#01f,#00f,#00f,#00e,#00d,#00d,#00d,#00e,#00f,#01f,#03f,#05f,#06f,#07f,#08f,#09f,#0af,#0bf,#0bf,#0cf,#0cf,#0df,#0df,#0df,#0ee,#0ee,#0df,#0df,#0df,#0df,#0cf,#0cf,#0bf,#0bf,#0af,#0af,#0af,#09f,#09f,#09f,#09f,#09f,#08f,#08f,#08f,#07f,#06f,#05f,#04f,#02f,#01f,#00f,#00f,#00f,#00e,#00e,#00e,#00e,#00e,#00e,#00f,#00f,#00f,#00f,#01f,#01f,#01f,#02f,#02f,#02f,#02f,#02f,#02f,#02f,#01f,#01f,#01f,#00f,#00f,#00f,#00f,#00f,#00f,#01f,#01f,#02f,#02f,#02f)"></i><i style="background:linear-gradient(#00d,#00d,#00d,#00d,#00e,#00f,#01f,#04f,#07f,#0bf,#0df,#2fc,#6f9,#af5,#df1,#fd0,#fa0,#f80,#f50,#f40,#f20,#f20,#f20,#f30,#f40,#f60,#f90,#fb0,#fd0,#ef1,#cf3,#9f5,#7f7,#5f9,#3fc,#1fe,#0cf,#0af,#05f,#02f,#01f,#00f,#00f,#00e,#00d,#00d,#00d,#00e,#00f,#01f,#03f,#04f,#06f,#07f,#08f,#09f,#0af,#0af,#0bf,#0bf,#0cf,#0cf,#0df,#0df,#0df,#0df,#0df,#0df,#0df,#0df,#0cf,#0cf,#0bf,#0bf,#0af,#0af,#09f,#09f,#09f,#09f,#09f,#09f,#08f,#08f,#07f,#07f,#06f,#05f,#03f,#02f,#01f,#00f,#00f,#00f,#00e,#00e,#00d,#00e,#00e,#00e,#00e,#00f,#00f,#00f,#00f,#01f,#01f,#01f,#02f,#02f,#02f,#02f,#02f,#02f,#02f,#01f,#01f,#00f,#00f,#00f,#00f,#00f,#01f,#01f,#02f,#02f,#02f,#02f)"></i><i style="background:linear-gradient(#00d,#00d,#00d,#00d,#00e,#00f,#01f,#03f,#07f,#0af,#0df,#2fd,#5fa,#9f6,#cf2,#fe0,#fb0,#f90,#f60,#f40,#f30,#f20,#f20,#f30,#f50,#f60,#f90,#fb0,#fd0,#ef1,#cf3,#af5,#7f7,#5fa,#3fc,#1ee,#0cf,#09f,#05f,#02f,#01f,#00f,#00f,#00e,#00d,#00d,#00d,#00e,#00f,#01f,#03f,#04f,#06f,#07f,#08f,#08f,#09f,#0af,#0bf,#0bf,#0cf,#0cf,#0cf,#0df,#0df,#0df,#0df,#0df,#0df,#0cf,#0cf,#0cf,#0bf,#0bf,#0af,#0af,#09f,#09f,#09f,#09f,#09f,#09f,#08f,#08f,#07f,#07f,#06f,#05f,#03f,#02f,#01f,#00f,#00f,#00e,#00e,#00d,#00d,#00d,#00e,#00e,#00e,#00f,#00f,#00f,#00f,#01f,#01f,#01f,#02f,#02f,#02f,#02f,#02f,#02f,#02f,#01f,#01f,#01f,#01f,#00f,#00f,#01f,#01f,#01f,#02f,#02f,#02f,#02f)"></i><i style="background:linear-gradient(#00d,#00d,#00d,#00d,#00e,#00f,#00f,#03f,#06f,#0af,#0cf,#1fd,#4fa,#8f7,#cf3,#ef0,#fc0,#f90,#f70,#f50,#f40,#f30,#f30,#f30,#f50,#f60,#f80,#fb0,#fd0,#ef1,#cf3,#af5,#7f7,#5fa,#3fc,#1ee,#0cf,#09f,#05f,#02f,#01f,#00f,#00f,#00e,#00d,#00d,#00d,#00e,#00f,#01f,#02f,#04f,#05f,#07f,#07f,#08f,#09f,#0af,#0af,#0bf,#0bf,#0cf,#0cf,#0cf,#0cf,#0df,#0df,#0cf,#0cf,#0cf,#0cf,#0bf,#0bf,#0af,#0af,#0af,#09f,#09f,#09f,#09f,#09f,#09f,#08f,#08f,#07f,#07f,#06f,#04f,#03f,#02f,#01f,#00f,#00f,#00e,#00e,#00d,#00d,#00d,#00d,#00e,#00e,#00f,#00f,#00f,#00f,#01f,#01f,#01f,#02f,#02f,#02f,#02f,#02f,#02f,#02f,#02f,#01f,#01f,#01f,#01f,#01f,#01f,#01f,#02f,#02f,#02f,#02f,#02f)"></i><i style="background:linear-gradient(#00d,#00d,#00d,#00d,#00d,#00e,#00f,#02f,#05f,#09f,#0cf,#1ee,#3fb,#7f8,#bf4,#df1,#fd0,#fa0,#f80,#f60,#f40,#f30,#f30,#f40,#f50,#f60,#f80,#fb0,#fd0,#ef0,#cf2,#af5,#8f7,#5f9,#3fc,#1ee,#0cf,#09f,#05f,#02f,#01f,#00f,#00f,#00e,#00d,#00d,#00d,#00e,#00f,#01f,#02f,#04f,#05f,#06f,#07f,#08f,#09f,#09f,#0af,#0af,#0bf,#0bf,#0cf,#0cf,#0cf,#0cf,#0cf,#0cf,#0cf,#0cf,#0cf,#0bf,#0bf,#0af,#0af,#0af,#09f,#09f,#09f,#09f,#09f,#09f,#08f,#08f,#07f,#07f,#06f,#04f,#03f,#02f,#01f,#00f,#00f,#00e,#00e,#00d,#00d,#00d,#00d,#00e,#00e,#00f,#00f,#00f,#00f,#01f,#01f,#01f,#02f,#02f,#02f,#02f,#02f,#02f,#02f,#02f,#02f,#01f,#01f,#01f,#01f,#01f,#02f,#02f,#02f,#02f,#02f,#02f)"></i><i style="background:linear-gradient(#00d,#00d,#00d,#00d,#00d,#00e,#00f,#02f,#04f,#08f,#0bf,#0ee,#3fc,#6f9,#9f5,#df2,#fe0,#fb0,#f90,#f70,#f50,#f40,#f40,#f40,#f50,#f60,#f80,#fa0,#fd0,#ef0,#cf2,#af4,#8f7,#5f9,#3fb,#1fe,#0cf,#0af,#05f,#02f,#01f,#00f,#00f,#00e,#00d,#00d,#00d,#00e,#00f,#01f,#02f,#04f,#05f,#06f,#07f,#08f,#08f,#09f,#0af,#0af,#0bf,#0bf,#0bf,#0cf,#0cf,#0cf,#0cf,#0cf,#0cf,#0cf,#0bf,#0bf,#0bf,#0af,#0af,#0af,#09f,#09f,#09f,#09f,#09f,#09f,#08f,#08f,#07f,#07f,#06f,#04f,#03f,#02f,#01f,#00f,#00f,#00e,#00e,#00d,#00d,#00d,#00d,#00e,#00e,#00f,#00f,#00f,#00f,#01f,#01f,#01f,#02f,#02f,#02f,#02f,#02f,#02f,#02f,#02f,#02f,#02f,#02f,#01f,#02f,#02f,#02f,#02f,#02f,#02f,#02f,#02f)"></i><i style="background:linear-gradient(#00d,#00d,#00d,#00d,#00d,#00e,#00f,#01f,#03f,#07f,#0bf,#0df,#2fd,#5fa,#8f6,#cf3,#ef0,#fc0,#fa0,#f80,#f60,#f50,#f40,#f40,#f50,#f60,#f80,#fa0,#fc0,#ef0,#df2,#bf4,#8f6,#6f9,#3fb,#1fd,#0df,#0af,#06f,#03f,#01f,#00f,#00f,#00e,#00d,#00d,#00d,#00d,#00f,#01f,#02f,#04f,#05f,#06f,#07f,#08f,#08f,#09f,#09f,#0af,#0af,#0bf,#0bf,#0bf,#0cf,#0cf,#0cf,#0cf,#0cf,#0cf,#0bf,#0bf,#0bf,#0af,#0af,#0af,#09f,#09f,#09f,#09f,#09f,#09f,#08f,#08f,#07f,#07f,#06f,#04f,#03f,#02f,#01f,#00f,#00f,#00e,#00e,#00d,#00d,#00d,#00d,#00e,#00e,#00f,#00f,#00f,#00f,#01f,#01f,#01f,#02f,#02f,#02f,#02f,#02f,#02f,#02f,#02f,#02f,#02f,#02f,#02f,#02f,#02f,#02f,#02f,#02f,#02f,#02f,#02f)"></i><i style="background:linear-gradient(#00d,#00d,#00d,#00d,#00d,#00e,#00f,#01f,#03f,#06f,#0af,#0df,#1fd,#4fa,#7f7,#bf4,#df1,#fd0,#fb0,#f90,#f70,#f60,#f50,#f50,#f50,#f70,#f80,#fa0,#fc0,#fe0,#df2,#bf4,#8f6,#6f9,#4fb,#1fd,#0df,#0af,#06f,#03f,#01f,#00f,#00f,#00e,#00d,#00d,#00d,#00d,#00f,#01f,#02f,#04f,#05f,#06f,#07f,#07f,#08f,#09f,#09f,#0af,#0af,#0bf,#0bf,#0bf,#0cf,#0cf,#0cf,#0cf,#0cf,#0cf,#0bf,#0bf,#0bf,#0af,#0af,#0af,#09f,#09f,#09f,#09f,#09f,#09f,#08f,#08f,#07f,#07f,#06f,#05f,#03f,#02f,#01f,#00f,#00f,#00e,#00e,#00d,#00d,#00d,#00e,#00e,#00e,#00f,#00f,#00f,#00f,#01f,#01f,#01f,#02f,#02f,#02f,#02f,#02f,#02f,#02f,#02f,#02f,#02f,#02f,#02f,#02f,#02f,#02f,#02f,#02f,#02f,#02f,#02f)"></i><i style="background:linear-gradient(#00d,#00d,#00d,#00d,#00d,#00e,#00f,#00f,#02f,#05f,#09f,#0cf,#1ee,#3fb,#7f8,#af5,#df2,#fe0,#fc0,#fa0,#f80,#f60,#f50,#f50,#f60,#f70,#f80,#fa0,#fc0,#fe0,#df1,#bf3,#9f6,#6f8,#4fb,#1fd,#0df,#0bf,#07f,#03f,#01f,#00f,#00f,#00e,#00d,#00d,#00d,#00e,#00f,#00f,#02f,#03f,#05f,#06f,#07f,#07f,#08f,#08f,#09f,#0af,#0af,#0af,#0bf,#0bf,#0cf,#0cf,#0cf,#0cf,#0cf,#0cf,#0cf,#0bf,#0bf,#0bf,#0af,#0af,#0af,#09f,#09f,#09f,#09f,#09f,#09f,#08f,#08f,#07f,#06f,#05f,#04f,#02f,#01f,#00f,#00f,#00f,#00e,#00e,#00e,#00e,#00e,#00e,#00f,#00f,#00f,#00f,#00f,#01f,#01f,#02f,#02f,#02f,#02f,#02f,#02f,#02f,#02f,#02f,#02f,#02f,#02f,#02f,#02f,#02f,#02f,#02f,#02f,#02f,#02f,#02f)"></i><i style="background:linear-gradient(#00d,#00d,#00d,#00d,#00d,#00e,#00e,#00f,#02f,#04f,#08f,#0cf,#0ee,#3fc,#6f9,#9f6,#cf3,#ef0,#fd0,#fb0,#f90,#f70,#f60,#f60,#f60,#f70,#f80,#fa0,#fc0,#fe0,#df1,#bf3,#9f6,#6f8,#4fb,#2fd,#0df,#0bf,#07f,#03f,#01f,#00f,#00f,#00e,#00d,#00d,#00d,#00e,#00f,#00f,#02f,#03f,#05f,#06f,#06f,#07f,#08f,#08f,#09f,#09f,#0af,#0af,#0bf,#0bf,#0cf,#0cf,#0cf,#0cf,#0cf,#0cf,#0cf,#0cf,#0bf,#0bf,#0bf,#0af,#0af,#0af,#0af,#09f,#09f,#09f,#09f,#08f,#08f,#07f,#06f,#05f,#04f,#03f,#01f,#01f,#00f,#00f,#00e,#00e,#00e,#00e,#00e,#00e,#00f,#00f,#00f,#00f,#01f,#01f,#01f,#02f,#02f,#02f,#02f,#02f,#02f,#02f,#02f,#02f,#02f,#02f,#02f,#02f,#02f,#02f,#02f,#02f,#02f,#02f,#02f,#02f)"></i><i style="background:linear-gradient(#00d,#00d,#00d,#00d,#00d,#00e,#00e,#00f,#01f,#04f,#08f,#0bf,#0df,#2fc,#5f9,#8f6,#bf3,#df1,#fd0,#fb0,#fa0,#f80,#f70,#f60,#f60,#f70,#f80,#fa0,#fc0,#fe0,#df1,#cf3,#9f5,#7f8,#4fa,#2fd,#0df,#0bf,#08f,#04f,#01f,#00f,#00f,#00e,#00d,#00d,#00d,#00e,#00f,#00f,#02f,#03f,#05f,#05f,#06f,#07f,#08f,#08f,#09f,#09f,#0af,#0af,#0bf,#0bf,#0cf,#0cf,#0cf,#0cf,#0cf,#0cf,#0cf,#0cf,#0cf,#0bf,#0bf,#0bf,#0af,#0af,#0af,#0af,#09f,#09f,#09f,#08f,#08f,#07f,#06f,#05f,#04f,#03f,#02f,#01f,#00f,#00f,#00f,#00e,#00e,#00e,#00f,#00f,#00f,#00f,#00f,#00f,#01f,#01f,#01f,#02f,#02f,#02f,#02f,#02f,#02f,#02f,#02f,#02f,#02f,#02f,#02f,#02f,#02f,#02f,#02f,#02f,#02f,#02f,#02f,#02f)"></i><i style="background:linear-gradient(#00d,#00d,#00d,#00d,#00d,#00e,#00e,#00f,#01f,#03f,#07f,#0bf,#0df,#2fd,#5fa,#8f7,#bf4,#df1,#fe0,#fc0,#fa0,#f90,#f70,#f70,#f70,#f70,#f80,#fa0,#fc0,#fe0,#ef1,#cf3,#9f5,#7f8,#4fa,#2fc,#0ee,#0cf,#08f,#04f,#01f,#00f,#00f,#00e,#00d,#00d,#00d,#00e,#00f,#00f,#02f,#03f,#04f,#05f,#06f,#07f,#08f,#08f,#09f,#09f,#0af,#0af,#0bf,#0bf,#0cf,#0cf,#0cf,#0cf,#0cf,#0cf,#0cf,#0cf,#0cf,#0cf,#0bf,#0bf,#0bf,#0af,#0af,#0af,#0af,#09f,#09f,#09f,#08f,#07f,#06f,#05f,#04f,#03f,#02f,#01f,#00f,#00f,#00f,#00f,#00f,#00f,#00f,#00f,#00f,#00f,#00f,#01f,#01f,#01f,#02f,#02f,#02f,#02f,#02f,#02f,#02f,#02f,#02f,#02f,#02f,#02f,#02f,#02f,#02f,#02f,#02f,#02f,#02f,#02f,#02f,#02f)"></i><i style="background:linear-gradient(#00d,#00d,#00d,#00d,#00d,#00e,#00e,#00f,#01f,#03f,#07f,#0af,#0df,#1fd,#4fa,#7f7,#af4,#df2,#ee0,#fd0,#fb0,#f90,#f80,#f70,#f70,#f70,#f80,#fa0,#fc0,#fe0,#ef1,#cf3,#af5,#7f7,#5fa,#2fc,#0ee,#0cf,#08f,#04f,#02f,#00f,#00f,#00e,#00d,#00d,#00d,#00e,#00f,#00f,#02f,#03f,#04f,#05f,#06f,#07f,#07f,#08f,#09f,#09f,#0af,#0af,#0bf,#0bf,#0cf,#0cf,#0cf,#0df,#0df,#0df,#0df,#0cf,#0cf,#0cf,#0bf,#0bf,#0bf,#0bf,#0af,#0af,#0af,#09f,#09f,#09f,#08f,#07f,#06f,#05f,#04f,#03f,#02f,#01f,#01f,#00f,#00f,#00f,#00f,#00f,#00f,#00f,#00f,#00f,#01f,#01f,#01f,#02f,#02f,#02f,#02f,#02f,#02f,#02f,#02f,#02f,#02f,#02f,#02f,#02f,#02f,#02f,#02f,#02f,#02f,#02f,#02f,#02f,#02f,#02f)"></i><i style="background:linear-gradient(#00d,#00d,#00d,#00d,#00d,#00e,#00e,#00f,#01f,#03f,#06f,#0af,#0df,#1fd,#4fb,#7f8,#af5,#cf2,#ef0,#fd0,#fb0,#f90,#f80,#f70,#f70,#f70,#f80,#fa0,#fc0,#fe0,#ef1,#cf3,#af5,#7f7,#5fa,#3fc,#0ee,#0cf,#09f,#04f,#02f,#01f,#00f,#00e,#00e,#00d,#00d,#00e,#00f,#00f,#02f,#03f,#04f,#05f,#06f,#07f,#07f,#08f,#09f,#09f,#0af,#0af,#0bf,#0bf,#0cf,#0cf,#0cf,#0df,#0df,#0df,#0df,#0df,#0cf,#0cf,#0cf,#0bf,#0bf,#0bf,#0af,#0af,#0af,#0af,#09f,#09f,#08f,#07f,#06f,#05f,#04f,#04f,#03f,#02f,#01f,#01f,#00f,#00f,#00f,#00f,#00f,#00f,#01f,#01f,#01f,#02f,#02f,#02f,#02f,#02f,#03f,#03f,#03f,#03f,#03f,#03f,#03f,#03f,#03f,#02f,#02f,#02f,#02f,#02f,#02f,#02f,#02f,#02f,#02f,#02f)"></i><i style="background:linear-gradient(#00d,#00d,#00d,#00d,#00d,#00e,#00e,#00f,#01f,#03f,#06f,#0af,#0df,#1fd,#4fb,#7f8,#af5,#cf2,#ef0,#fd0,#fb0,#fa0,#f90,#f80,#f70,#f80,#f80,#fa0,#fc0,#fe0,#ef1,#cf3,#af5,#7f7,#5f9,#3fc,#1ee,#0cf,#09f,#05f,#02f,#00f,#00f,#00f,#00e,#00d,#00d,#00e,#00f,#01f,#02f,#03f,#04f,#05f,#06f,#07f,#07f,#08f,#08f,#09f,#0af,#0af,#0bf,#0bf,#0cf,#0cf,#0cf,#0df,#0df,#0df,#0df,#0df,#0cf,#0cf,#0cf,#0bf,#0bf,#0bf,#0af,#0af,#0af,#0af,#09f,#09f,#08f,#07f,#07f,#06f,#05f,#04f,#03f,#02f,#02f,#01f,#01f,#01f,#01f,#01f,#01f,#01f,#02f,#02f,#02f,#02f,#03f,#03f,#03f,#03f,#03f,#03f,#03f,#03f,#03f,#03f,#03f,#03f,#03f,#03f,#03f,#02f,#02f,#02f,#02f,#02f,#02f,#02f,#02f,#02f)"></i><i style="background:linear-gradient(#00d,#00d,#00d,#00d,#00d,#00e,#00e,#00f,#01f,#03f,#06f,#0af,#0cf,#1fd,#4fb,#7f8,#9f5,#cf2,#ef1,#fd0,#fc0,#fa0,#f90,#f80,#f70,#f80,#f80,#fa0,#fc0,#fd0,#ef1,#cf3,#af5,#8f7,#5f9,#3fc,#1fe,#0cf,#0af,#05f,#02f,#01f,#00f,#00f,#00e,#00d,#00d,#00e,#00f,#01f,#02f,#03f,#04f,#05f,#06f,#06f,#07f,#08f,#08f,#09f,#09f,#0af,#0bf,#0bf,#0cf,#0cf,#0cf,#0cf,#0df,#0df,#0df,#0df,#0cf,#0cf,#0cf,#0bf,#0bf,#0bf,#0af,#0af,#0af,#0af,#09f,#09f,#08f,#07f,#07f,#06f,#05f,#04f,#03f,#03f,#02f,#02f,#02f,#02f,#02f,#02f,#02f,#02f,#02f,#03f,#03f,#03f,#03f,#03f,#03f,#03f,#03f,#03f,#03f,#03f,#03f,#03f,#03f,#03f,#03f,#03f,#03f,#03f,#03f,#02f,#02f,#02f,#02f,#02f,#02f,#02f)"></i><i style="background:linear-gradient(#00d,#00d,#00d,#00d,#00d,#00e,#00e,#00f,#01f,#03f,#06f,#0af,#0cf,#1fe,#4fb,#6f8,#9f5,#cf3,#ef1,#fe0,#fc0,#fa0,#f90,#f80,#f80,#f80,#f80,#fa0,#fc0,#fd0,#ef1,#cf3,#af5,#8f7,#5f9,#3fb,#1fd,#0df,#0af,#06f,#02f,#01f,#00f,#00f,#00e,#00d,#00d,#00e,#00f,#01f,#02f,#03f,#04f,#05f,#06f,#06f,#07f,#07f,#08f,#09f,#09f,#0af,#0af,#0bf,#0bf,#0cf,#0cf,#0cf,#0cf,#0cf,#0cf,#0cf,#0cf,#0cf,#0cf,#0bf,#0bf,#0bf,#0af,#0af,#0af,#09f,#09f,#09f,#08f,#07f,#07f,#06f,#05f,#04f,#04f,#03f,#03f,#02f,#02f,#02f,#02f,#03f,#03f,#03f,#03f,#04f,#04f,#04f,#04f,#04f,#04f,#04f,#04f,#04f,#04f,#03f,#03f,#03f,#03f,#03f,#03f,#03f,#03f,#03f,#03f,#03f,#02f,#02f,#02f,#02f,#02f,#02f)"></i><i style="background:linear-gradient(#00d,#00d,#00d,#00d,#00d,#00e,#00e,#00f,#01f,#03f,#06f,#0af,#0cf,#1fe,#3fb,#6f8,#9f5,#cf3,#ef1,#fe0,#fc0,#fb0,#f90,#f80,#f80,#f80,#f80,#fa0,#fc0,#fd0,#ef1,#cf3,#af5,#8f7,#6f9,#3fb,#1fd,#0df,#0af,#06f,#03f,#01f,#00f,#00f,#00e,#00e,#00e,#00e,#00f,#01f,#02f,#03f,#04f,#05f,#05f,#06f,#07f,#07f,#08f,#08f,#09f,#09f,#0af,#0af,#0bf,#0bf,#0bf,#0cf,#0cf,#0cf,#0cf,#0cf,#0cf,#0bf,#0bf,#0bf,#0bf,#0af,#0af,#0af,#09f,#09f,#09f,#08f,#08f,#07f,#07f,#06f,#05f,#04f,#04f,#03f,#03f,#03f,#03f,#03f,#03f,#03f,#04f,#04f,#04f,#04f,#05f,#05f,#05f,#05f,#05f,#05f,#04f,#04f,#04f,#04f,#03f,#03f,#03f,#03f,#03f,#03f,#03f,#03f,#03f,#03f,#03f,#02f,#02f,#02f,#02f,#02f)"></i><i style="background:linear-gradient(#00d,#00d,#00d,#00d,#00d,#00e,#00e,#00f,#00f,#02f,#05f,#09f,#0cf,#1fe,#3fb,#6f8,#9f6,#cf3,#ef1,#fe0,#fc0,#fb0,#fa0,#f90,#f80,#f80,#f80,#fa0,#fb0,#fd0,#ef1,#cf3,#af4,#8f7,#6f9,#3fb,#1fd,#0df,#0bf,#06f,#03f,#01f,#00f,#00f,#00e,#00e,#00e,#00e,#00f,#01f,#02f,#03f,#04f,#05f,#05f,#06f,#06f,#07f,#07f,#08f,#08f,#09f,#09f,#0af,#0af,#0bf,#0bf,#0bf,#0bf,#0bf,#0bf,#0bf,#0bf,#0bf,#0bf,#0af,#0af,#0af,#0af,#09f,#09f,#09f,#08f,#08f,#08f,#07f,#06f,#06f,#05f,#05f,#04f,#04f,#03f,#03f,#03f,#03f,#04f,#04f,#04f,#05f,#05f,#05f,#05f,#05f,#05f,#05f,#05f,#05f,#05f,#04f,#04f,#04f,#04f,#03f,#03f,#03f,#03f,#03f,#03f,#03f,#03f,#03f,#03f,#02f,#02f,#02f,#02f,#02f)"></i><i style="background:linear-gradient(#00d,#00d,#00d,#00d,#00d,#00e,#00e,#00f,#00f,#02f,#05f,#09f,#0cf,#1ee,#3fb,#6f9,#9f6,#bf3,#df1,#fe0,#fd0,#fb0,#fa0,#f90,#f80,#f80,#f80,#fa0,#fb0,#fd0,#ef1,#cf3,#af4,#8f7,#6f9,#4fb,#2fd,#0df,#0bf,#07f,#03f,#01f,#00f,#00f,#00e,#00e,#00e,#00e,#00f,#01f,#02f,#03f,#04f,#04f,#05f,#05f,#06f,#06f,#07f,#07f,#08f,#08f,#09f,#09f,#0af,#0af,#0af,#0af,#0bf,#0bf,#0bf,#0bf,#0af,#0af,#0af,#0af,#09f,#09f,#09f,#09f,#09f,#08f,#08f,#08f,#07f,#07f,#06f,#06f,#05f,#05f,#04f,#04f,#04f,#04f,#04f,#04f,#04f,#04f,#05f,#05f,#05f,#05f,#05f,#06f,#06f,#05f,#05f,#05f,#05f,#05f,#04f,#04f,#04f,#03f,#03f,#03f,#03f,#03f,#03f,#03f,#03f,#03f,#03f,#02f,#02f,#02f,#02f,#02f)"></i><i style="background:linear-gradient(#00d,#00d,#00d,#00d,#00d,#00e,#00e,#00f,#00f,#02f,#05f,#09f,#0cf,#1ee,#3fb,#6f9,#9f6,#bf3,#df1,#fe0,#fd0,#fb0,#fa0,#f90,#f80,#f80,#f80,#fa0,#fb0,#fd0,#ef1,#cf3,#af4,#8f6,#6f9,#4fb,#2fd,#0df,#0bf,#07f,#03f,#01f,#00f,#00f,#00e,#00e,#00e,#00e,#00f,#01f,#02f,#03f,#03f,#04f,#05f,#05f,#06f,#06f,#06f,#07f,#07f,#08f,#08f,#08f,#09f,#09f,#09f,#0af,#0af,#0af,#0af,#0af,#0af,#09f,#09f,#09f,#09f,#09f,#08f,#08f,#08f,#08f,#08f,#07f,#07f,#06f,#06f,#05f,#05f,#04f,#04f,#04f,#04f,#04f,#04f,#04f,#04f,#04f,#05f,#05f,#05f,#05f,#05f,#05f,#05f,#05f,#05f,#05f,#05f,#04f,#04f,#04f,#04f,#03f,#03f,#03f,#03f,#03f,#03f,#03f,#03f,#03f,#03f,#02f,#02f,#02f,#02f,#02f)"></i><i style="background:linear-gradient(#00d,#00d,#00d,#00d,#00d,#00e,#00e,#00f,#00f,#02f,#05f,#09f,#0cf,#1ee,#3fc,#6f9,#9f6,#bf3,#df1,#fe0,#fd0,#fb0,#fa0,#f90,#f90,#f80,#f80,#fa0,#fb0,#fd0,#ef1,#cf2,#af4,#8f6,#6f9,#4fb,#2fd,#0df,#0bf,#08f,#03f,#01f,#00f,#00f,#00f,#00e,#00e,#00f,#00f,#01f,#02f,#02f,#03f,#04f,#04f,#05f,#05f,#06f,#06f,#06f,#07f,#07f,#07f,#08f,#08f,#08f,#09f,#09f,#09f,#09f,#09f,#09f,#09f,#09f,#08f,#08f,#08f,#08f,#08f,#08f,#07f,#07f,#07f,#07f,#06f,#06f,#06f,#05f,#05f,#04f,#04f,#04f,#04f,#03f,#04f,#04f,#04f,#04f,#04f,#04f,#05f,#05f,#05f,#05f,#05f,#05f,#05f,#05f,#04f,#04f,#04f,#04f,#03f,#03f,#03f,#03f,#03f,#03f,#03f,#03f,#03f,#03f,#03f,#02f,#02f,#02f,#02f,#02f)"></i><i style="background:linear-gradient(#00d,#00d,#00d,#00d,#00d,#00e,#00e,#00f,#00f,#02f,#05f,#09f,#0cf,#1ee,#3fc,#6f9,#8f6,#bf3,#df1,#fe0,#fd0,#fc0,#fa0,#f90,#f90,#f80,#f80,#fa0,#fb0,#fd0,#ef1,#cf2,#af4,#8f6,#6f9,#4fb,#2fd,#0ee,#0bf,#08f,#04f,#01f,#00f,#00f,#00f,#00e,#00e,#00f,#00f,#01f,#01f,#02f,#03f,#04f,#04f,#05f,#05f,#05f,#06f,#06f,#06f,#07f,#07f,#07f,#07f,#08f,#08f,#08f,#08f,#08f,#08f,#08f,#08f,#08f,#08f,#08f,#07f,#07f,#07f,#07f,#07f,#07f,#07f,#06f,#06f,#06f,#05f,#05f,#04f,#04f,#04f,#04f,#03f,#03f,#03f,#03f,#04f,#04f,#04f,#04f,#04f,#04f,#04f,#05f,#04f,#04f,#04f,#04f,#04f,#04f,#04f,#03f,#03f,#03f,#03f,#03f,#03f,#03f,#03f,#03f,#03f,#03f,#02f,#02f,#02f,#02f,#02f,#02f)"></i><i style="background:linear-gradient(#00d,#00d,#00d,#00d,#00d,#00e,#00e,#00f,#00f,#02f,#05f,#09f,#0cf,#1ee,#3fc,#6f9,#8f6,#bf3,#df1,#fe0,#fd0,#fc0,#fa0,#f90,#f90,#f80,#f80,#fa0,#fb0,#fd0,#ef1,#cf2,#af4,#8f6,#6f9,#4fb,#2fd,#0ee,#0bf,#08f,#04f,#01f,#00f,#00f,#00f,#00e,#00e,#00f,#00f,#01f,#01f,#02f,#03f,#04f,#04f,#05f,#05f,#05f,#06f,#06f,#06f,#07f,#07f,#07f,#07f,#08f,#08f,#08f,#08f,#08f,#08f,#08f,#08f,#08f,#08f,#08f,#07f,#07f,#07f,#07f,#07f,#07f,#07f,#06f,#06f,#06f,#05f,#05f,#04f,#04f,#04f,#04f,#03f,#03f,#03f,#03f,#04f,#04f,#04f,#04f,#04f,#04f,#04f,#05f,#04f,#04f,#04f,#04f,#04f,#04f,#04f,#03f,#03f,#03f,#03f,#03f,#03f,#03f,#03f,#03f,#03f,#03f,#02f,#02f,#02f,#02f,#02f,#02f)"></i></div><svg class="nz" width="634" height="634"><filter id="nf" x="0" y="0" width="100%" height="100%"><feTurbulence type="fractalNoise" baseFrequency="0.22" numOctaves="2" seed="3"/><feColorMatrix values="0 0 0 0 0  0 0 0 0 0  0 0 0 0 0  0 0 0 -2.2 1.1"/><feGaussianBlur stdDeviation="0.9"/></filter><rect width="634" height="634" filter="url(#nf)"/></svg><svg class="nz" width="634" height="634"><filter id="nf2" x="0" y="0" width="100%" height="100%"><feTurbulence type="fractalNoise" baseFrequency="0.22" numOctaves="2" seed="11"/><feColorMatrix values="0 0 0 0 1  0 0 0 0 1  0 0 0 0 1  0 0 0 -2.2 1.1"/><feGaussianBlur stdDeviation="0.9"/></filter><rect width="634" height="634" filter="url(#nf2)"/></svg></div><div class="hm" style="left:238.0px;top:970.5px;width:633.5px;height:634.0px"><div class="hi" style="left:-10px;top:-10px;width:653.5px;height:654.0px;filter:blur(2.5px)"><i style="background:linear-gradient(#00b,#00b,#00b,#00b,#00b,#00b,#00c,#00c,#00d,#00e,#00f,#02f,#06f,#0af,#0df,#2fd,#5f9,#9f5,#df2,#fe0,#fc0,#fa0,#f80,#f60,#f50,#f50,#f50,#f60,#f70,#f90,#fb0,#fd0,#ef0,#cf3,#9f6,#5f9,#2fc,#0df,#0bf,#07f,#02f,#01f,#00f,#00f,#00e,#00d,#00d,#00c,#00d,#00e,#00f,#01f,#02f,#04f,#05f,#06f,#06f,#07f,#07f,#07f,#07f,#07f,#08f,#08f,#08f,#08f,#08f,#09f,#09f,#09f,#09f,#09f,#09f,#09f,#09f,#09f,#09f,#09f,#09f,#08f,#08f,#08f,#08f,#07f,#07f,#07f,#07f,#07f,#06f,#06f,#06f,#06f,#06f,#06f,#06f,#06f,#06f,#06f,#05f,#05f,#05f,#05f,#05f,#05f,#05f,#05f,#04f,#04f,#04f,#04f,#04f,#04f,#03f,#03f,#03f,#03f,#03f,#03f,#03f,#02f,#02f,#02f,#02f,#02f,#02f,#01f,#01f,#01f)"></i><i style="background:linear-gradient(#00b,#00b,#00b,#00b,#00b,#00b,#00c,#00c,#00d,#00e,#00f,#02f,#06f,#0af,#0df,#2fd,#5f9,#9f5,#df2,#fe0,#fc0,#fa0,#f80,#f60,#f50,#f50,#f50,#f60,#f70,#f90,#fb0,#fd0,#ef0,#cf3,#9f6,#5f9,#2fc,#0df,#0bf,#07f,#02f,#01f,#00f,#00f,#00e,#00d,#00d,#00c,#00d,#00e,#00f,#01f,#02f,#04f,#05f,#06f,#06f,#07f,#07f,#07f,#07f,#07f,#08f,#08f,#08f,#08f,#08f,#09f,#09f,#09f,#09f,#09f,#09f,#09f,#09f,#09f,#09f,#09f,#09f,#08f,#08f,#08f,#08f,#07f,#07f,#07f,#07f,#07f,#06f,#06f,#06f,#06f,#06f,#06f,#06f,#06f,#06f,#06f,#05f,#05f,#05f,#05f,#05f,#05f,#05f,#05f,#04f,#04f,#04f,#04f,#04f,#04f,#03f,#03f,#03f,#03f,#03f,#03f,#03f,#02f,#02f,#02f,#02f,#02f,#02f,#01f,#01f,#01f)"></i><i style="background:linear-gradient(#00b,#00b,#00b,#00b,#00b,#00b,#00c,#00c,#00d,#00e,#00f,#02f,#07f,#0af,#0df,#2fc,#6f9,#9f5,#df2,#fe0,#fb0,#f90,#f70,#f60,#f50,#f50,#f50,#f60,#f70,#f90,#fa0,#fc0,#ef0,#cf3,#9f6,#5f9,#2fc,#0df,#0bf,#07f,#03f,#01f,#00f,#00f,#00e,#00d,#00c,#00c,#00c,#00e,#00f,#01f,#03f,#04f,#05f,#06f,#07f,#07f,#08f,#08f,#08f,#08f,#08f,#08f,#09f,#09f,#09f,#09f,#0af,#0af,#0af,#0af,#0af,#0af,#0af,#0af,#0af,#0af,#09f,#09f,#09f,#09f,#08f,#08f,#08f,#08f,#07f,#07f,#07f,#07f,#06f,#06f,#06f,#06f,#06f,#06f,#06f,#06f,#06f,#06f,#06f,#06f,#06f,#05f,#05f,#05f,#05f,#04f,#04f,#04f,#04f,#04f,#04f,#03f,#03f,#03f,#03f,#03f,#03f,#03f,#02f,#02f,#02f,#02f,#02f,#02f,#02f,#02f)"></i><i style="background:linear-gradient(#00b,#00b,#00b,#00b,#00b,#00b,#00c,#00c,#00d,#00e,#00f,#03f,#07f,#0bf,#0df,#2fc,#6f9,#af5,#df1,#fd0,#fb0,#f90,#f70,#f50,#f40,#f40,#f40,#f50,#f70,#f80,#fa0,#fc0,#fe0,#cf2,#9f5,#6f9,#3fc,#0ee,#0bf,#08f,#03f,#01f,#00f,#00f,#00e,#00d,#00c,#00c,#00c,#00e,#00f,#01f,#03f,#04f,#06f,#07f,#07f,#08f,#08f,#08f,#09f,#09f,#09f,#09f,#09f,#0af,#0af,#0af,#0bf,#0bf,#0bf,#0bf,#0bf,#0bf,#0bf,#0bf,#0bf,#0bf,#0af,#0af,#0af,#09f,#09f,#09f,#08f,#08f,#08f,#08f,#07f,#07f,#07f,#07f,#07f,#06f,#06f,#06f,#06f,#06f,#06f,#06f,#06f,#06f,#06f,#06f,#06f,#05f,#05f,#05f,#04f,#04f,#04f,#04f,#04f,#04f,#03f,#03f,#03f,#03f,#03f,#03f,#03f,#02f,#02f,#02f,#02f,#02f,#02f,#02f)"></i><i style="background:linear-gradient(#00b,#00b,#00b,#00b,#00b,#00b,#00c,#00c,#00d,#00e,#00f,#03f,#07f,#0bf,#0df,#3fc,#6f8,#af4,#df1,#fd0,#fb0,#f80,#f60,#f50,#f40,#f30,#f40,#f50,#f60,#f80,#fa0,#fc0,#fe0,#cf2,#9f5,#6f8,#3fc,#0ee,#0cf,#08f,#03f,#01f,#00f,#00f,#00e,#00d,#00c,#00c,#00c,#00e,#00f,#01f,#03f,#05f,#06f,#07f,#08f,#08f,#09f,#09f,#09f,#09f,#0af,#0af,#0af,#0bf,#0bf,#0bf,#0cf,#0cf,#0cf,#0cf,#0cf,#0cf,#0cf,#0cf,#0cf,#0cf,#0bf,#0bf,#0af,#0af,#0af,#09f,#09f,#09f,#08f,#08f,#08f,#07f,#07f,#07f,#07f,#07f,#07f,#07f,#07f,#07f,#07f,#07f,#07f,#07f,#06f,#06f,#06f,#06f,#05f,#05f,#05f,#05f,#04f,#04f,#04f,#04f,#04f,#03f,#03f,#03f,#03f,#03f,#03f,#02f,#02f,#02f,#02f,#02f,#02f,#02f)"></i><i style="background:linear-gradient(#00b,#00b,#00b,#00b,#00b,#00b,#00c,#00c,#00d,#00e,#01f,#03f,#08f,#0bf,#0ee,#3fb,#7f8,#bf4,#ef1,#fd0,#fa0,#f80,#f60,#f40,#f30,#f30,#f30,#f40,#f60,#f70,#fa0,#fc0,#fe0,#df2,#af5,#7f8,#4fb,#1fe,#0cf,#09f,#04f,#01f,#00f,#00f,#00f,#00d,#00d,#00c,#00d,#00e,#00f,#01f,#03f,#05f,#06f,#07f,#08f,#09f,#09f,#09f,#0af,#0af,#0af,#0bf,#0bf,#0bf,#0cf,#0cf,#0cf,#0df,#0df,#0df,#0df,#0df,#0df,#0df,#0df,#0cf,#0cf,#0cf,#0bf,#0bf,#0af,#0af,#0af,#09f,#09f,#08f,#08f,#08f,#08f,#07f,#07f,#07f,#07f,#07f,#07f,#07f,#07f,#07f,#07f,#07f,#07f,#07f,#06f,#06f,#06f,#05f,#05f,#05f,#04f,#04f,#04f,#04f,#04f,#04f,#03f,#03f,#03f,#03f,#03f,#02f,#02f,#02f,#02f,#02f,#02f,#02f)"></i><i style="background:linear-gradient(#00b,#00b,#00b,#00b,#00b,#00b,#00c,#00c,#00d,#00f,#01f,#04f,#08f,#0cf,#1ee,#4fb,#7f7,#bf3,#ef0,#fc0,#fa0,#f70,#f50,#f30,#f20,#f20,#f30,#f40,#f50,#f70,#f90,#fc0,#fe0,#df2,#af4,#7f7,#4fa,#2fd,#0df,#0af,#06f,#02f,#00f,#00f,#00f,#00e,#00d,#00d,#00d,#00e,#00f,#02f,#03f,#05f,#06f,#07f,#08f,#09f,#09f,#0af,#0af,#0af,#0bf,#0bf,#0bf,#0cf,#0cf,#0df,#0df,#0df,#0ee,#0ee,#0ee,#0ee,#0ee,#0ee,#0df,#0df,#0df,#0cf,#0cf,#0bf,#0bf,#0af,#0af,#09f,#09f,#09f,#08f,#08f,#08f,#08f,#07f,#07f,#07f,#07f,#07f,#07f,#08f,#08f,#08f,#08f,#08f,#07f,#07f,#07f,#06f,#06f,#05f,#05f,#05f,#04f,#04f,#04f,#04f,#04f,#04f,#03f,#03f,#03f,#03f,#03f,#02f,#02f,#02f,#02f,#02f,#02f)"></i><i style="background:linear-gradient(#00b,#00b,#00b,#00b,#00b,#00b,#00c,#00c,#00d,#00f,#01f,#05f,#09f,#0cf,#1fe,#4fa,#8f7,#cf3,#fe0,#fc0,#f90,#f70,#f40,#f30,#f20,#f20,#f20,#f30,#f50,#f70,#f90,#fb0,#fd0,#df1,#bf4,#8f7,#5fa,#2fc,#0df,#0bf,#07f,#03f,#01f,#00f,#00f,#00e,#00d,#00d,#00e,#00f,#00f,#02f,#03f,#05f,#06f,#08f,#08f,#09f,#0af,#0af,#0af,#0bf,#0bf,#0bf,#0cf,#0cf,#0df,#0df,#0ee,#0ee,#1ee,#1ee,#1ee,#1ee,#1ee,#0ee,#0ee,#0df,#0df,#0cf,#0cf,#0bf,#0bf,#0bf,#0af,#0af,#09f,#09f,#09f,#08f,#08f,#08f,#08f,#08f,#07f,#07f,#08f,#08f,#08f,#08f,#08f,#08f,#08f,#08f,#08f,#07f,#07f,#06f,#06f,#05f,#05f,#05f,#04f,#04f,#04f,#04f,#04f,#04f,#03f,#03f,#03f,#03f,#02f,#02f,#02f,#02f,#02f,#02f)"></i><i style="background:linear-gradient(#00b,#00b,#00b,#00b,#00b,#00b,#00c,#00c,#00d,#00f,#01f,#05f,#09f,#0cf,#1fd,#5fa,#9f6,#cf2,#fe0,#fb0,#f80,#f60,#f40,#f20,#f10,#f10,#f20,#f30,#f40,#f60,#f90,#fb0,#fd0,#ef1,#bf3,#8f6,#6f9,#3fc,#1ee,#0cf,#09f,#04f,#01f,#00f,#00f,#00f,#00e,#00e,#00e,#00f,#00f,#02f,#04f,#05f,#06f,#08f,#08f,#09f,#0af,#0af,#0af,#0bf,#0bf,#0bf,#0cf,#0cf,#0df,#0df,#0ee,#1ee,#1ee,#1fe,#1fe,#1fe,#1fe,#1ee,#0ee,#0df,#0df,#0cf,#0cf,#0bf,#0bf,#0af,#0af,#0af,#09f,#09f,#09f,#08f,#08f,#08f,#08f,#08f,#08f,#08f,#08f,#08f,#08f,#09f,#09f,#09f,#09f,#09f,#08f,#08f,#07f,#06f,#06f,#05f,#05f,#05f,#05f,#04f,#04f,#04f,#04f,#04f,#03f,#03f,#03f,#03f,#02f,#02f,#02f,#02f,#02f,#02f)"></i><i style="background:linear-gradient(#00b,#00b,#00b,#00b,#00b,#00b,#00c,#00c,#00d,#00f,#02f,#06f,#0af,#0df,#2fd,#5f9,#9f5,#df2,#fd0,#fa0,#f80,#f50,#f30,#f20,#e10,#e10,#f10,#f20,#f40,#f60,#f80,#fb0,#fd0,#ef1,#cf3,#9f6,#6f8,#4fb,#1fd,#0cf,#0af,#05f,#02f,#00f,#00f,#00f,#00e,#00e,#00e,#00f,#00f,#02f,#03f,#05f,#06f,#07f,#08f,#09f,#09f,#0af,#0af,#0af,#0bf,#0bf,#0cf,#0cf,#0df,#0df,#0ee,#0ee,#1ee,#1ee,#1ee,#1ee,#1ee,#0ee,#0ee,#0df,#0df,#0cf,#0cf,#0bf,#0bf,#0af,#0af,#09f,#09f,#09f,#08f,#08f,#08f,#08f,#08f,#08f,#08f,#08f,#08f,#08f,#09f,#09f,#0af,#0af,#0af,#09f,#09f,#08f,#07f,#07f,#06f,#06f,#05f,#05f,#05f,#05f,#04f,#04f,#04f,#04f,#04f,#03f,#03f,#03f,#03f,#02f,#02f,#02f,#02f,#02f)"></i><i style="background:linear-gradient(#00b,#00b,#00b,#00b,#00b,#00b,#00c,#00c,#00e,#00f,#02f,#07f,#0af,#0df,#2fc,#6f9,#af5,#df1,#fd0,#fa0,#f70,#f50,#f20,#f10,#e00,#e00,#e10,#f20,#f40,#f60,#f80,#fa0,#fd0,#ef0,#cf3,#9f5,#7f8,#4fa,#2fd,#0df,#0bf,#06f,#02f,#00f,#00f,#00f,#00e,#00e,#00e,#00f,#00f,#02f,#03f,#04f,#06f,#07f,#08f,#08f,#09f,#09f,#0af,#0af,#0af,#0bf,#0bf,#0cf,#0cf,#0df,#0df,#0df,#0ee,#0ee,#0ee,#0ee,#0ee,#0df,#0df,#0cf,#0cf,#0bf,#0bf,#0bf,#0af,#0af,#09f,#09f,#09f,#08f,#08f,#08f,#08f,#08f,#08f,#08f,#08f,#08f,#08f,#09f,#09f,#0af,#0af,#0bf,#0bf,#0af,#0af,#09f,#08f,#07f,#06f,#06f,#06f,#05f,#05f,#05f,#05f,#04f,#04f,#04f,#04f,#03f,#03f,#03f,#03f,#02f,#02f,#02f,#02f,#02f)"></i><i style="background:linear-gradient(#00b,#00b,#00b,#00b,#00b,#00b,#00c,#00c,#00e,#00f,#03f,#07f,#0bf,#0df,#3fc,#6f8,#af4,#ef1,#fc0,#f90,#f60,#f40,#f20,#e00,#d00,#d00,#e00,#f10,#f30,#f50,#f80,#fa0,#fc0,#ef0,#cf2,#af5,#7f7,#5fa,#2fc,#0ee,#0bf,#08f,#03f,#01f,#00f,#00f,#00e,#00e,#00e,#00f,#00f,#01f,#02f,#03f,#04f,#06f,#07f,#08f,#08f,#09f,#09f,#09f,#0af,#0af,#0bf,#0bf,#0bf,#0cf,#0cf,#0df,#0df,#0df,#0df,#0df,#0df,#0cf,#0cf,#0bf,#0bf,#0af,#0af,#0af,#09f,#09f,#09f,#08f,#08f,#08f,#08f,#08f,#08f,#07f,#07f,#08f,#08f,#08f,#08f,#09f,#0af,#0bf,#0bf,#0bf,#0bf,#0bf,#0af,#09f,#08f,#07f,#07f,#06f,#06f,#05f,#05f,#05f,#05f,#04f,#04f,#04f,#04f,#04f,#03f,#03f,#03f,#02f,#02f,#02f,#02f,#02f)"></i><i style="background:linear-gradient(#00b,#00b,#00b,#00b,#00b,#00b,#00c,#00c,#00e,#00f,#03f,#08f,#0bf,#0ee,#3fb,#7f8,#bf3,#ef0,#fc0,#f90,#f60,#f30,#f10,#d00,#c00,#c00,#d00,#f10,#f30,#f50,#f70,#fa0,#fc0,#fe0,#df2,#af4,#8f7,#5f9,#3fc,#1ee,#0cf,#09f,#04f,#01f,#00f,#00f,#00e,#00e,#00e,#00f,#00f,#00f,#01f,#02f,#03f,#04f,#06f,#07f,#08f,#08f,#08f,#09f,#09f,#09f,#0af,#0af,#0af,#0bf,#0bf,#0cf,#0cf,#0cf,#0cf,#0cf,#0bf,#0af,#09f,#09f,#09f,#09f,#09f,#09f,#08f,#08f,#08f,#08f,#08f,#07f,#07f,#07f,#07f,#07f,#07f,#07f,#08f,#08f,#09f,#09f,#0af,#0bf,#0cf,#0cf,#0cf,#0cf,#0bf,#0af,#09f,#08f,#07f,#06f,#06f,#06f,#05f,#05f,#05f,#05f,#04f,#04f,#04f,#04f,#03f,#03f,#03f,#02f,#02f,#02f,#02f,#02f)"></i><i style="background:linear-gradient(#00b,#00b,#00b,#00b,#00b,#00b,#00c,#00c,#00e,#01f,#04f,#08f,#0bf,#0ee,#3fb,#7f7,#bf3,#fe0,#fb0,#f80,#f50,#f30,#f10,#d00,#c00,#c00,#d00,#e10,#f20,#f50,#f70,#f90,#fc0,#fe0,#df2,#bf4,#8f6,#6f9,#3fb,#1fd,#0cf,#0af,#05f,#01f,#00f,#00f,#00e,#00e,#00e,#00f,#00f,#00f,#01f,#01f,#02f,#04f,#05f,#06f,#07f,#07f,#08f,#08f,#08f,#08f,#09f,#09f,#09f,#0af,#0af,#0af,#0af,#0bf,#0bf,#0af,#0af,#09f,#08f,#07f,#07f,#07f,#07f,#07f,#07f,#07f,#07f,#07f,#07f,#07f,#07f,#07f,#07f,#07f,#07f,#07f,#08f,#08f,#09f,#0af,#0bf,#0cf,#0df,#0df,#0df,#0df,#0cf,#0bf,#09f,#08f,#07f,#07f,#06f,#06f,#05f,#05f,#05f,#05f,#04f,#04f,#04f,#04f,#03f,#03f,#03f,#02f,#02f,#02f,#02f,#02f)"></i><i style="background:linear-gradient(#00b,#00b,#00b,#00b,#00b,#00b,#00c,#00c,#00e,#01f,#04f,#08f,#0bf,#0ee,#4fb,#8f7,#cf3,#fe0,#fb0,#f80,#f50,#f20,#e00,#c00,#b00,#b00,#c00,#e00,#f20,#f40,#f70,#f90,#fb0,#fe0,#df1,#bf4,#9f6,#6f8,#4fb,#1fd,#0df,#0af,#06f,#02f,#00f,#00f,#00e,#00e,#00e,#00e,#00f,#00f,#01f,#02f,#03f,#04f,#05f,#06f,#06f,#06f,#07f,#07f,#07f,#07f,#08f,#08f,#08f,#08f,#09f,#09f,#09f,#09f,#09f,#09f,#09f,#08f,#07f,#06f,#06f,#06f,#06f,#06f,#06f,#06f,#06f,#06f,#06f,#06f,#06f,#06f,#06f,#07f,#07f,#07f,#07f,#08f,#09f,#0af,#0bf,#0cf,#0ee,#1ee,#1ee,#0ee,#0df,#0bf,#0af,#09f,#08f,#07f,#06f,#06f,#05f,#05f,#05f,#05f,#05f,#04f,#04f,#04f,#03f,#03f,#03f,#03f,#02f,#02f,#02f,#02f)"></i><i style="background:linear-gradient(#00b,#00b,#00b,#00b,#00b,#00b,#00c,#00d,#00e,#01f,#04f,#08f,#0cf,#1ee,#4fb,#8f7,#cf2,#fe0,#fb0,#f70,#f50,#f20,#e00,#c00,#b00,#b00,#c00,#e00,#f20,#f40,#f60,#f90,#fb0,#fe0,#df1,#bf3,#9f6,#6f8,#4fb,#2fd,#0df,#0bf,#06f,#02f,#00f,#00f,#00e,#00d,#00d,#00e,#00f,#00f,#01f,#02f,#03f,#04f,#04f,#05f,#05f,#06f,#06f,#06f,#06f,#06f,#06f,#07f,#07f,#07f,#07f,#08f,#08f,#08f,#08f,#08f,#08f,#07f,#07f,#06f,#06f,#05f,#05f,#05f,#05f,#05f,#05f,#05f,#05f,#05f,#06f,#06f,#06f,#06f,#06f,#07f,#07f,#08f,#09f,#0af,#0cf,#0df,#1ee,#1fd,#1fd,#1fe,#0df,#0cf,#0af,#09f,#08f,#07f,#06f,#06f,#06f,#05f,#05f,#05f,#05f,#04f,#04f,#04f,#04f,#03f,#03f,#03f,#02f,#02f,#02f,#02f)"></i><i style="background:linear-gradient(#00b,#00b,#00b,#00b,#00b,#00b,#00c,#00d,#00e,#01f,#04f,#09f,#0cf,#1ee,#4fb,#8f6,#cf2,#fd0,#fa0,#f70,#f40,#f20,#d00,#b00,#b00,#b00,#c00,#d00,#f20,#f40,#f60,#f90,#fb0,#fd0,#df1,#bf3,#9f6,#7f8,#4fa,#2fd,#0df,#0bf,#07f,#02f,#00f,#00e,#00e,#00d,#00d,#00d,#00e,#00f,#01f,#02f,#02f,#03f,#04f,#04f,#05f,#05f,#05f,#05f,#05f,#05f,#05f,#06f,#06f,#06f,#06f,#06f,#07f,#07f,#07f,#06f,#06f,#06f,#06f,#05f,#05f,#04f,#04f,#03f,#03f,#03f,#04f,#04f,#04f,#05f,#05f,#05f,#06f,#06f,#06f,#07f,#07f,#08f,#09f,#0af,#0cf,#0ee,#1fd,#2fd,#2fd,#1fd,#0ee,#0cf,#0bf,#09f,#08f,#07f,#06f,#06f,#06f,#05f,#05f,#05f,#05f,#04f,#04f,#04f,#04f,#03f,#03f,#03f,#02f,#02f,#02f,#02f)"></i><i style="background:linear-gradient(#00b,#00b,#00b,#00b,#00b,#00b,#00c,#00d,#00f,#01f,#04f,#09f,#0cf,#1ee,#4fb,#8f6,#cf2,#fd0,#fa0,#f70,#f40,#f10,#d00,#b00,#a00,#a00,#b00,#d00,#f10,#f40,#f60,#f80,#fb0,#fd0,#ef1,#bf3,#9f5,#7f8,#4fa,#2fd,#0df,#0bf,#07f,#02f,#00f,#00e,#00d,#00d,#00d,#00d,#00e,#00f,#00f,#01f,#02f,#03f,#03f,#03f,#04f,#04f,#04f,#04f,#04f,#04f,#04f,#04f,#05f,#05f,#05f,#05f,#05f,#05f,#05f,#05f,#05f,#05f,#04f,#04f,#03f,#03f,#02f,#02f,#02f,#02f,#02f,#03f,#03f,#04f,#04f,#05f,#05f,#06f,#06f,#06f,#07f,#08f,#09f,#0bf,#0cf,#0ee,#2fd,#2fc,#3fc,#2fc,#1fe,#0df,#0bf,#0af,#08f,#07f,#07f,#06f,#06f,#05f,#05f,#05f,#05f,#05f,#04f,#04f,#04f,#03f,#03f,#03f,#02f,#02f,#02f,#02f)"></i><i style="background:linear-gradient(#00b,#00b,#00b,#00b,#00b,#00b,#00c,#00d,#00f,#01f,#04f,#09f,#0cf,#1ee,#4fa,#8f6,#df2,#fd0,#fa0,#f70,#f40,#f10,#c00,#b00,#a00,#a00,#b00,#d00,#f10,#f30,#f60,#f80,#fb0,#fd0,#ef1,#cf3,#9f5,#7f8,#4fa,#2fc,#0df,#0bf,#07f,#03f,#00f,#00e,#00d,#00c,#00c,#00d,#00d,#00f,#00f,#01f,#01f,#02f,#02f,#03f,#03f,#03f,#03f,#03f,#02f,#02f,#02f,#02f,#03f,#04f,#04f,#04f,#04f,#04f,#04f,#04f,#04f,#04f,#03f,#03f,#02f,#01f,#01f,#01f,#01f,#01f,#01f,#02f,#03f,#03f,#04f,#04f,#05f,#05f,#06f,#06f,#07f,#08f,#09f,#0bf,#0df,#1ee,#2fc,#3fc,#3fc,#2fc,#1fd,#0df,#0bf,#0af,#08f,#07f,#07f,#06f,#06f,#06f,#05f,#05f,#05f,#05f,#04f,#04f,#04f,#03f,#03f,#03f,#02f,#02f,#02f,#02f)"></i><i style="background:linear-gradient(#00b,#00b,#00b,#00b,#00b,#00b,#00c,#00d,#00f,#01f,#04f,#09f,#0cf,#1ee,#4fa,#8f6,#df2,#fd0,#fa0,#f60,#f30,#f10,#c00,#a00,#900,#a00,#b00,#d00,#f10,#f30,#f50,#f80,#fa0,#fd0,#ef1,#cf3,#9f5,#7f8,#5fa,#2fc,#0ee,#0bf,#08f,#03f,#00f,#00e,#00d,#00c,#00c,#00c,#00d,#00e,#00f,#00f,#01f,#01f,#02f,#02f,#03f,#03f,#03f,#02f,#02f,#01f,#01f,#02f,#03f,#03f,#03f,#04f,#04f,#04f,#04f,#03f,#03f,#03f,#02f,#02f,#01f,#00f,#00f,#00f,#00f,#00f,#00f,#01f,#02f,#03f,#03f,#04f,#04f,#05f,#05f,#06f,#07f,#08f,#09f,#0bf,#0df,#1fe,#2fc,#3fb,#3fb,#3fc,#2fd,#0ee,#0cf,#0af,#08f,#07f,#07f,#06f,#06f,#06f,#05f,#05f,#05f,#05f,#04f,#04f,#04f,#03f,#03f,#03f,#02f,#02f,#02f,#02f)"></i><i style="background:linear-gradient(#00b,#00b,#00b,#00b,#00b,#00b,#00c,#00d,#00e,#01f,#04f,#09f,#0cf,#1ee,#4fa,#9f6,#df2,#fd0,#f90,#f60,#f30,#e10,#c00,#a00,#900,#900,#a00,#c00,#e10,#f30,#f50,#f80,#fa0,#fd0,#ef1,#cf3,#af5,#7f7,#5fa,#2fc,#0ee,#0bf,#08f,#03f,#00f,#00e,#00d,#00c,#00c,#00c,#00d,#00e,#00f,#00f,#00f,#01f,#01f,#02f,#02f,#02f,#02f,#02f,#02f,#01f,#01f,#02f,#02f,#03f,#03f,#03f,#03f,#03f,#03f,#03f,#02f,#02f,#02f,#01f,#00f,#00f,#00f,#00e,#00e,#00e,#00f,#00f,#01f,#02f,#03f,#04f,#04f,#05f,#05f,#06f,#07f,#08f,#09f,#0bf,#0df,#1fe,#2fc,#3fb,#3fb,#3fc,#2fd,#0ee,#0cf,#0af,#08f,#07f,#07f,#06f,#06f,#06f,#05f,#05f,#05f,#05f,#04f,#04f,#04f,#03f,#03f,#03f,#02f,#02f,#02f,#02f)"></i><i style="background:linear-gradient(#00b,#00b,#00b,#00b,#00b,#00b,#00c,#00d,#00e,#01f,#04f,#08f,#0cf,#1ee,#4fa,#9f6,#df2,#fd0,#f90,#f60,#f30,#e00,#b00,#a00,#900,#900,#a00,#c00,#e00,#f30,#f50,#f80,#fa0,#fd0,#ef0,#cf3,#af5,#7f7,#5fa,#2fc,#0ee,#0bf,#08f,#03f,#00f,#00d,#00c,#00c,#00c,#00c,#00d,#00d,#00e,#00f,#00f,#01f,#01f,#01f,#01f,#02f,#02f,#02f,#02f,#02f,#02f,#02f,#02f,#02f,#02f,#03f,#03f,#02f,#02f,#02f,#02f,#02f,#01f,#00f,#00f,#00f,#00e,#00d,#00d,#00e,#00e,#00f,#00f,#01f,#02f,#03f,#04f,#04f,#05f,#06f,#07f,#08f,#09f,#0bf,#0df,#1fe,#2fc,#3fb,#3fb,#3fc,#2fd,#0ee,#0cf,#0af,#08f,#07f,#07f,#06f,#06f,#06f,#05f,#05f,#05f,#05f,#04f,#04f,#04f,#03f,#03f,#03f,#02f,#02f,#02f,#02f)"></i><i style="background:linear-gradient(#00b,#00b,#00b,#00b,#00b,#00b,#00c,#00d,#00e,#01f,#04f,#08f,#0bf,#0ee,#4fb,#9f6,#df2,#fd0,#f90,#f60,#f30,#e00,#b00,#900,#900,#900,#a00,#c00,#e00,#f20,#f50,#f70,#fa0,#fc0,#ef0,#cf2,#af5,#7f7,#5fa,#2fc,#0ee,#0bf,#08f,#03f,#00f,#00d,#00c,#00c,#00b,#00c,#00c,#00d,#00e,#00f,#00f,#00f,#01f,#01f,#01f,#01f,#01f,#01f,#02f,#02f,#02f,#02f,#02f,#02f,#02f,#02f,#02f,#02f,#02f,#02f,#02f,#01f,#01f,#00f,#00f,#00e,#00e,#00d,#00d,#00d,#00e,#00f,#00f,#01f,#02f,#03f,#04f,#04f,#05f,#06f,#06f,#07f,#09f,#0bf,#0cf,#1ee,#2fc,#3fc,#3fb,#3fc,#1fd,#0df,#0cf,#0af,#08f,#07f,#07f,#06f,#06f,#06f,#05f,#05f,#05f,#05f,#04f,#04f,#04f,#03f,#03f,#03f,#02f,#02f,#02f,#02f)"></i><i style="background:linear-gradient(#00b,#00b,#00b,#00b,#00b,#00b,#00c,#00c,#00e,#01f,#04f,#08f,#0bf,#0ee,#4fb,#8f6,#df2,#fd0,#f90,#f60,#f30,#e00,#b00,#900,#800,#900,#a00,#b00,#e00,#f20,#f50,#f70,#fa0,#fc0,#ef0,#cf2,#af5,#7f7,#5fa,#3fc,#0ee,#0cf,#08f,#03f,#00f,#00d,#00c,#00b,#00b,#00c,#00c,#00d,#00e,#00f,#00f,#00f,#00f,#00f,#00f,#00f,#00f,#01f,#01f,#02f,#02f,#02f,#02f,#02f,#02f,#02f,#02f,#02f,#02f,#02f,#01f,#01f,#01f,#00f,#00f,#00e,#00e,#00d,#00d,#00d,#00d,#00e,#00f,#01f,#02f,#03f,#03f,#04f,#05f,#05f,#06f,#07f,#09f,#0af,#0cf,#0ee,#2fd,#3fc,#3fc,#2fc,#1fd,#0df,#0bf,#0af,#08f,#07f,#07f,#06f,#06f,#06f,#05f,#05f,#05f,#05f,#04f,#04f,#04f,#03f,#03f,#03f,#02f,#02f,#02f,#02f)"></i><i style="background:linear-gradient(#00b,#00b,#00b,#00b,#00b,#00b,#00c,#00c,#00e,#00f,#03f,#08f,#0bf,#0ee,#3fb,#8f7,#cf2,#fd0,#fa0,#f60,#f30,#e00,#b00,#900,#800,#800,#a00,#b00,#e00,#f20,#f40,#f70,#fa0,#fc0,#ef0,#cf2,#af5,#7f7,#5fa,#2fc,#0ee,#0cf,#08f,#03f,#00f,#00d,#00c,#00b,#00b,#00b,#00c,#00d,#00e,#00f,#00f,#00f,#00f,#00f,#00f,#00f,#00f,#00f,#01f,#02f,#02f,#02f,#02f,#02f,#02f,#02f,#02f,#02f,#02f,#02f,#02f,#01f,#01f,#00f,#00f,#00f,#00e,#00d,#00d,#00d,#00d,#00e,#00f,#00f,#01f,#02f,#03f,#04f,#05f,#05f,#06f,#07f,#08f,#0af,#0cf,#0ee,#1fd,#2fc,#2fc,#2fd,#1ee,#0df,#0bf,#09f,#08f,#07f,#07f,#06f,#06f,#06f,#05f,#05f,#05f,#05f,#04f,#04f,#04f,#03f,#03f,#03f,#02f,#02f,#02f,#02f)"></i><i style="background:linear-gradient(#00b,#00b,#00b,#00b,#00b,#00b,#00c,#00c,#00e,#00f,#03f,#07f,#0bf,#0df,#3fc,#7f7,#cf3,#fe0,#fa0,#f70,#f30,#e00,#b00,#900,#800,#800,#900,#b00,#d00,#f20,#f40,#f70,#fa0,#fc0,#ef0,#cf2,#af5,#7f7,#5fa,#2fc,#0ee,#0bf,#08f,#03f,#00f,#00d,#00c,#00b,#00b,#00b,#00c,#00d,#00e,#00e,#00f,#00f,#00f,#00f,#00f,#00f,#00f,#01f,#01f,#02f,#02f,#02f,#02f,#02f,#02f,#02f,#02f,#02f,#02f,#02f,#02f,#02f,#01f,#01f,#00f,#00f,#00e,#00d,#00d,#00d,#00d,#00e,#00f,#00f,#01f,#02f,#03f,#04f,#05f,#05f,#06f,#07f,#08f,#0af,#0bf,#0df,#1fe,#2fd,#2fd,#1fd,#0ee,#0cf,#0bf,#09f,#08f,#07f,#07f,#06f,#06f,#06f,#05f,#05f,#05f,#05f,#04f,#04f,#04f,#03f,#03f,#03f,#02f,#02f,#02f,#02f)"></i><i style="background:linear-gradient(#00b,#00b,#00b,#00b,#00b,#00b,#00c,#00c,#00e,#00f,#02f,#07f,#0af,#0df,#2fc,#7f8,#bf4,#fe0,#fb0,#f70,#f40,#f10,#b00,#900,#800,#800,#900,#b00,#d00,#f20,#f40,#f70,#fa0,#fc0,#ef0,#cf2,#af5,#7f7,#5fa,#2fc,#0ee,#0bf,#08f,#03f,#00f,#00d,#00c,#00b,#00b,#00b,#00c,#00d,#00d,#00e,#00e,#00f,#00f,#00f,#01f,#01f,#01f,#02f,#02f,#02f,#03f,#03f,#03f,#03f,#03f,#03f,#03f,#03f,#03f,#03f,#02f,#02f,#02f,#01f,#01f,#00f,#00f,#00e,#00d,#00d,#00d,#00d,#00e,#00f,#01f,#02f,#03f,#04f,#04f,#05f,#06f,#07f,#08f,#09f,#0bf,#0df,#0ee,#1fe,#1fe,#1ee,#0df,#0cf,#0af,#09f,#08f,#07f,#06f,#06f,#06f,#05f,#05f,#05f,#05f,#05f,#04f,#04f,#04f,#03f,#03f,#03f,#02f,#02f,#02f,#02f)"></i><i style="background:linear-gradient(#00b,#00b,#00b,#00b,#00b,#00b,#00c,#00c,#00d,#00f,#02f,#06f,#0af,#0df,#2fd,#6f9,#af4,#ef0,#fb0,#f80,#f40,#f10,#c00,#a00,#800,#800,#900,#b00,#d00,#f20,#f40,#f70,#fa0,#fc0,#ef0,#cf2,#af5,#7f7,#5fa,#2fc,#0ee,#0bf,#08f,#03f,#00f,#00d,#00c,#00b,#00b,#00c,#00c,#00d,#00d,#00d,#00e,#00e,#00f,#01f,#01f,#02f,#02f,#03f,#03f,#03f,#03f,#03f,#04f,#04f,#04f,#04f,#04f,#04f,#03f,#03f,#03f,#03f,#02f,#02f,#01f,#00f,#00f,#00e,#00d,#00d,#00d,#00d,#00e,#00f,#01f,#02f,#03f,#04f,#04f,#05f,#06f,#07f,#08f,#09f,#0bf,#0cf,#0df,#0ee,#0ee,#0df,#0cf,#0bf,#0af,#09f,#08f,#07f,#06f,#06f,#06f,#05f,#05f,#05f,#05f,#05f,#04f,#04f,#04f,#03f,#03f,#03f,#02f,#02f,#02f,#02f)"></i><i style="background:linear-gradient(#00b,#00b,#00b,#00b,#00b,#00b,#00c,#00c,#00d,#00f,#02f,#05f,#0af,#0cf,#1fd,#5f9,#9f5,#df1,#fc0,#f90,#f50,#f20,#d00,#a00,#900,#900,#900,#b00,#d00,#f20,#f40,#f70,#fa0,#fc0,#ef0,#cf2,#af5,#7f7,#5fa,#2fc,#0df,#0bf,#08f,#03f,#00f,#00d,#00c,#00b,#00b,#00c,#00c,#00d,#00d,#00d,#00d,#00e,#00f,#01f,#02f,#02f,#03f,#03f,#04f,#04f,#04f,#04f,#05f,#05f,#05f,#05f,#05f,#05f,#04f,#04f,#04f,#04f,#03f,#03f,#02f,#01f,#00f,#00f,#00e,#00d,#00d,#00d,#00e,#00f,#01f,#02f,#03f,#03f,#04f,#05f,#06f,#07f,#08f,#09f,#0af,#0bf,#0cf,#0df,#0df,#0cf,#0cf,#0af,#09f,#08f,#07f,#07f,#06f,#06f,#06f,#05f,#05f,#05f,#05f,#04f,#04f,#04f,#04f,#03f,#03f,#03f,#02f,#02f,#02f,#02f)"></i><i style="background:linear-gradient(#00b,#00b,#00b,#00b,#00b,#00b,#00c,#00c,#00d,#00f,#01f,#05f,#09f,#0cf,#1fe,#4fa,#9f6,#df2,#fd0,#f90,#f60,#f30,#d00,#b00,#900,#900,#a00,#b00,#e00,#f20,#f50,#f70,#fa0,#fc0,#ef0,#cf3,#9f5,#7f8,#4fa,#2fd,#0df,#0bf,#07f,#02f,#00f,#00d,#00c,#00b,#00b,#00c,#00d,#00d,#00e,#00e,#00f,#00f,#01f,#02f,#03f,#03f,#04f,#04f,#05f,#05f,#05f,#06f,#06f,#06f,#06f,#06f,#06f,#06f,#06f,#05f,#05f,#05f,#04f,#04f,#03f,#02f,#01f,#00f,#00e,#00e,#00d,#00d,#00e,#00f,#00f,#01f,#02f,#03f,#04f,#05f,#06f,#07f,#08f,#09f,#0af,#0bf,#0cf,#0cf,#0cf,#0cf,#0bf,#0af,#09f,#08f,#07f,#06f,#06f,#06f,#05f,#05f,#05f,#05f,#05f,#04f,#04f,#04f,#04f,#03f,#03f,#03f,#02f,#02f,#02f,#02f)"></i><i style="background:linear-gradient(#00b,#00b,#00b,#00b,#00b,#00b,#00c,#00c,#00d,#00f,#01f,#04f,#08f,#0cf,#1ee,#4fb,#8f7,#cf3,#fe0,#fa0,#f70,#f40,#e10,#c00,#a00,#a00,#a00,#c00,#e00,#f20,#f50,#f70,#fa0,#fd0,#ef1,#cf3,#9f5,#7f8,#4fa,#2fd,#0df,#0bf,#07f,#02f,#00e,#00d,#00c,#00c,#00c,#00c,#00d,#00e,#00f,#00f,#00f,#01f,#02f,#02f,#03f,#04f,#04f,#05f,#05f,#06f,#06f,#06f,#07f,#07f,#07f,#07f,#07f,#07f,#06f,#06f,#06f,#05f,#05f,#04f,#03f,#02f,#01f,#00f,#00f,#00e,#00d,#00d,#00e,#00f,#00f,#01f,#02f,#03f,#04f,#05f,#06f,#07f,#07f,#08f,#09f,#0af,#0bf,#0bf,#0bf,#0bf,#0af,#09f,#08f,#07f,#07f,#06f,#06f,#06f,#05f,#05f,#05f,#05f,#05f,#04f,#04f,#04f,#04f,#03f,#03f,#03f,#02f,#02f,#02f,#02f)"></i><i style="background:linear-gradient(#00b,#00b,#00b,#00b,#00b,#00b,#00c,#00c,#00d,#00e,#01f,#03f,#08f,#0bf,#0ee,#3fb,#7f8,#bf4,#ef0,#fb0,#f80,#f50,#f20,#d00,#b00,#a00,#b00,#c00,#f10,#f30,#f50,#f80,#fb0,#fd0,#ef1,#bf3,#9f6,#6f8,#4fb,#1fd,#0df,#0af,#06f,#01f,#00e,#00d,#00c,#00c,#00c,#00c,#00d,#00e,#00f,#00f,#01f,#01f,#02f,#03f,#03f,#04f,#05f,#05f,#06f,#06f,#07f,#07f,#07f,#07f,#07f,#07f,#07f,#07f,#07f,#07f,#06f,#06f,#05f,#05f,#04f,#03f,#02f,#01f,#00f,#00e,#00e,#00d,#00e,#00f,#00f,#01f,#02f,#03f,#04f,#05f,#06f,#06f,#07f,#08f,#09f,#0af,#0af,#0bf,#0af,#0af,#09f,#09f,#08f,#07f,#06f,#06f,#06f,#05f,#05f,#05f,#05f,#05f,#04f,#04f,#04f,#04f,#03f,#03f,#03f,#02f,#02f,#02f,#02f,#02f)"></i><i style="background:linear-gradient(#00b,#00b,#00b,#00b,#00b,#00b,#00c,#00c,#00d,#00e,#00f,#03f,#07f,#0bf,#0df,#3fc,#6f8,#af4,#ef1,#fc0,#f90,#f60,#f30,#e00,#c00,#c00,#c00,#d00,#f10,#f30,#f60,#f80,#fb0,#fd0,#df1,#bf4,#9f6,#6f9,#3fb,#1fd,#0cf,#0af,#05f,#01f,#00e,#00d,#00c,#00c,#00c,#00c,#00d,#00e,#00f,#00f,#01f,#02f,#02f,#03f,#03f,#04f,#05f,#05f,#06f,#06f,#07f,#07f,#07f,#07f,#08f,#07f,#07f,#07f,#07f,#07f,#06f,#06f,#05f,#05f,#04f,#03f,#02f,#01f,#00f,#00e,#00e,#00d,#00e,#00f,#00f,#01f,#02f,#03f,#04f,#05f,#06f,#06f,#07f,#08f,#09f,#09f,#0af,#0af,#0af,#09f,#09f,#08f,#07f,#07f,#06f,#06f,#05f,#05f,#05f,#05f,#05f,#05f,#04f,#04f,#04f,#04f,#03f,#03f,#03f,#02f,#02f,#02f,#02f,#02f)"></i><i style="background:linear-gradient(#00b,#00b,#00b,#00b,#00b,#00b,#00c,#00c,#00d,#00e,#00f,#02f,#06f,#0af,#0df,#2fc,#6f9,#9f5,#df1,#fd0,#fa0,#f70,#f40,#f20,#e00,#d00,#d00,#e00,#f20,#f40,#f60,#f90,#fb0,#fe0,#df2,#bf4,#8f6,#6f9,#3fb,#1fe,#0cf,#09f,#05f,#01f,#00e,#00d,#00c,#00c,#00c,#00c,#00d,#00e,#00f,#00f,#01f,#01f,#02f,#03f,#03f,#04f,#04f,#05f,#05f,#06f,#06f,#07f,#07f,#07f,#07f,#07f,#07f,#07f,#06f,#06f,#06f,#05f,#05f,#04f,#04f,#03f,#02f,#01f,#00f,#00f,#00e,#00d,#00e,#00e,#00f,#01f,#02f,#03f,#04f,#05f,#06f,#06f,#07f,#08f,#09f,#09f,#09f,#09f,#09f,#09f,#08f,#08f,#07f,#06f,#06f,#06f,#05f,#05f,#05f,#05f,#05f,#04f,#04f,#04f,#04f,#04f,#03f,#03f,#03f,#02f,#02f,#02f,#02f,#02f)"></i><i style="background:linear-gradient(#00b,#00b,#00b,#00b,#00b,#00b,#00c,#00c,#00d,#00e,#00f,#02f,#06f,#0af,#0df,#2fd,#5fa,#9f6,#cf2,#fe0,#fb0,#f80,#f50,#f30,#f10,#e00,#e00,#f10,#f30,#f50,#f70,#f90,#fc0,#fe0,#df2,#af4,#8f7,#5f9,#3fc,#1ee,#0cf,#09f,#04f,#00f,#00e,#00d,#00c,#00c,#00c,#00c,#00d,#00e,#00f,#00f,#01f,#01f,#02f,#02f,#03f,#03f,#04f,#04f,#05f,#05f,#05f,#06f,#06f,#06f,#06f,#06f,#06f,#06f,#06f,#05f,#05f,#05f,#04f,#04f,#03f,#03f,#02f,#01f,#00f,#00f,#00e,#00d,#00d,#00e,#00f,#00f,#02f,#03f,#04f,#05f,#06f,#06f,#07f,#08f,#08f,#09f,#09f,#09f,#09f,#08f,#08f,#07f,#07f,#06f,#06f,#05f,#05f,#05f,#05f,#05f,#04f,#04f,#04f,#04f,#04f,#03f,#03f,#03f,#03f,#02f,#02f,#02f,#02f,#02f)"></i><i style="background:linear-gradient(#00b,#00b,#00b,#00b,#00b,#00b,#00c,#00c,#00d,#00e,#00f,#01f,#05f,#09f,#0cf,#1fd,#4fa,#8f6,#cf3,#fe0,#fc0,#f90,#f60,#f40,#f20,#f10,#f10,#f20,#f30,#f50,#f80,#fa0,#fc0,#ef0,#cf2,#af5,#7f7,#5fa,#2fc,#0ee,#0bf,#08f,#03f,#00f,#00d,#00d,#00c,#00b,#00c,#00c,#00d,#00e,#00f,#00f,#00f,#01f,#01f,#02f,#02f,#03f,#03f,#03f,#04f,#04f,#04f,#05f,#05f,#05f,#05f,#05f,#05f,#05f,#05f,#04f,#04f,#04f,#04f,#03f,#03f,#02f,#02f,#01f,#00f,#00e,#00e,#00d,#00d,#00e,#00f,#00f,#01f,#03f,#04f,#05f,#06f,#06f,#07f,#08f,#08f,#09f,#09f,#09f,#09f,#08f,#08f,#07f,#06f,#06f,#05f,#05f,#05f,#05f,#05f,#04f,#04f,#04f,#04f,#04f,#04f,#03f,#03f,#03f,#03f,#02f,#02f,#02f,#02f,#02f)"></i><i style="background:linear-gradient(#00b,#00b,#00b,#00b,#00b,#00b,#00c,#00c,#00d,#00e,#00f,#01f,#05f,#09f,#0cf,#1fe,#4fb,#8f7,#bf3,#ef0,#fc0,#fa0,#f70,#f50,#f30,#f20,#f20,#f30,#f40,#f60,#f80,#fb0,#fd0,#ef1,#cf3,#9f5,#7f8,#4fa,#2fc,#0df,#0bf,#08f,#03f,#00f,#00d,#00c,#00c,#00b,#00c,#00c,#00d,#00e,#00f,#00f,#00f,#01f,#01f,#01f,#02f,#02f,#02f,#03f,#03f,#03f,#03f,#04f,#04f,#04f,#04f,#04f,#04f,#04f,#04f,#03f,#03f,#03f,#03f,#03f,#02f,#02f,#01f,#01f,#00f,#00e,#00e,#00d,#00d,#00e,#00f,#00f,#01f,#02f,#04f,#05f,#06f,#07f,#07f,#08f,#08f,#09f,#09f,#09f,#08f,#08f,#07f,#07f,#06f,#06f,#05f,#05f,#05f,#05f,#04f,#04f,#04f,#04f,#04f,#04f,#03f,#03f,#03f,#03f,#02f,#02f,#02f,#02f,#02f,#02f)"></i><i style="background:linear-gradient(#00b,#00b,#00b,#00b,#00b,#00b,#00c,#00c,#00d,#00e,#00f,#01f,#04f,#09f,#0cf,#1ee,#4fb,#7f7,#bf4,#ef1,#fd0,#fa0,#f80,#f60,#f40,#f30,#f30,#f30,#f50,#f60,#f90,#fb0,#fd0,#ef1,#bf3,#9f6,#7f8,#4fa,#2fd,#0df,#0bf,#07f,#02f,#00f,#00d,#00c,#00b,#00b,#00b,#00c,#00d,#00e,#00f,#00f,#00f,#01f,#01f,#01f,#01f,#02f,#02f,#02f,#02f,#03f,#03f,#03f,#03f,#03f,#03f,#03f,#03f,#03f,#03f,#03f,#03f,#02f,#02f,#02f,#02f,#02f,#01f,#00f,#00f,#00f,#00e,#00d,#00d,#00d,#00e,#00f,#01f,#02f,#03f,#05f,#06f,#07f,#07f,#08f,#08f,#09f,#09f,#08f,#08f,#08f,#07f,#06f,#06f,#05f,#05f,#05f,#04f,#04f,#04f,#04f,#04f,#04f,#04f,#03f,#03f,#03f,#03f,#03f,#02f,#02f,#02f,#02f,#02f,#02f)"></i><i style="background:linear-gradient(#00b,#00b,#00b,#00b,#00b,#00b,#00c,#00c,#00d,#00e,#00f,#01f,#04f,#09f,#0cf,#1ee,#3fb,#7f8,#bf4,#ef1,#fd0,#fa0,#f80,#f60,#f40,#f30,#f30,#f40,#f50,#f70,#f90,#fc0,#fe0,#df1,#bf4,#9f6,#6f8,#4fb,#1fd,#0df,#0af,#06f,#01f,#00e,#00d,#00c,#00b,#00b,#00b,#00c,#00d,#00e,#00f,#00f,#00f,#01f,#01f,#01f,#01f,#01f,#02f,#02f,#02f,#02f,#02f,#02f,#02f,#02f,#02f,#02f,#02f,#02f,#02f,#02f,#02f,#02f,#02f,#02f,#02f,#01f,#01f,#00f,#00f,#00f,#00e,#00d,#00d,#00d,#00e,#00f,#01f,#02f,#03f,#05f,#06f,#07f,#08f,#08f,#09f,#09f,#09f,#08f,#08f,#07f,#07f,#06f,#06f,#05f,#05f,#05f,#04f,#04f,#04f,#04f,#04f,#04f,#03f,#03f,#03f,#03f,#03f,#03f,#02f,#02f,#02f,#02f,#02f,#02f)"></i><i style="background:linear-gradient(#00b,#00b,#00b,#00b,#00b,#00b,#00c,#00c,#00d,#00e,#00f,#01f,#04f,#09f,#0cf,#1ee,#4fb,#7f7,#bf4,#ef1,#fd0,#fb0,#f80,#f60,#f50,#f40,#f30,#f40,#f50,#f70,#fa0,#fc0,#fe0,#df2,#af4,#8f6,#6f9,#3fb,#1fe,#0cf,#0af,#05f,#01f,#00e,#00c,#00b,#00b,#00b,#00b,#00c,#00d,#00e,#00f,#00f,#00f,#01f,#01f,#01f,#01f,#01f,#02f,#02f,#02f,#02f,#02f,#02f,#02f,#02f,#02f,#02f,#02f,#02f,#02f,#02f,#02f,#02f,#02f,#02f,#02f,#01f,#01f,#01f,#00f,#00f,#00e,#00d,#00d,#00d,#00e,#00f,#01f,#02f,#03f,#05f,#06f,#07f,#08f,#08f,#09f,#09f,#09f,#08f,#08f,#07f,#07f,#06f,#05f,#05f,#05f,#04f,#04f,#04f,#04f,#04f,#04f,#03f,#03f,#03f,#03f,#03f,#03f,#02f,#02f,#02f,#02f,#02f,#02f,#02f)"></i><i style="background:linear-gradient(#00b,#00b,#00b,#00b,#00b,#00b,#00c,#00c,#00d,#00e,#00f,#01f,#05f,#09f,#0cf,#1fe,#4fb,#7f7,#bf4,#ef1,#fd0,#fa0,#f80,#f60,#f50,#f40,#f40,#f40,#f60,#f80,#fa0,#fc0,#ef0,#cf2,#af5,#8f7,#5f9,#3fc,#1ee,#0cf,#09f,#04f,#00f,#00d,#00c,#00b,#00a,#00a,#00b,#00c,#00d,#00e,#00f,#00f,#00f,#01f,#01f,#01f,#01f,#01f,#01f,#02f,#02f,#02f,#02f,#02f,#02f,#02f,#02f,#02f,#02f,#02f,#02f,#02f,#02f,#02f,#02f,#02f,#02f,#01f,#01f,#01f,#00f,#00f,#00e,#00e,#00d,#00e,#00e,#00f,#01f,#02f,#03f,#05f,#06f,#07f,#08f,#08f,#09f,#09f,#09f,#08f,#08f,#07f,#06f,#06f,#05f,#05f,#04f,#04f,#04f,#04f,#04f,#03f,#03f,#03f,#03f,#03f,#03f,#03f,#02f,#02f,#02f,#02f,#02f,#02f,#02f,#02f)"></i><i style="background:linear-gradient(#00b,#00b,#00b,#00b,#00b,#00b,#00c,#00c,#00d,#00e,#00f,#01f,#05f,#09f,#0cf,#1fd,#4fa,#8f7,#bf3,#ef0,#fd0,#fa0,#f80,#f60,#f50,#f40,#f40,#f50,#f60,#f80,#fb0,#fd0,#ef1,#cf3,#9f5,#7f7,#5fa,#2fc,#0ee,#0bf,#08f,#03f,#00f,#00d,#00b,#00a,#00a,#00a,#00b,#00c,#00d,#00f,#00f,#00f,#00f,#01f,#01f,#01f,#01f,#01f,#02f,#02f,#02f,#02f,#02f,#02f,#02f,#02f,#02f,#02f,#02f,#02f,#02f,#02f,#02f,#02f,#02f,#02f,#02f,#02f,#01f,#01f,#00f,#00f,#00f,#00e,#00e,#00e,#00f,#00f,#01f,#02f,#03f,#05f,#06f,#07f,#08f,#08f,#09f,#09f,#09f,#08f,#08f,#07f,#06f,#06f,#05f,#04f,#04f,#04f,#04f,#03f,#03f,#03f,#03f,#03f,#03f,#03f,#03f,#03f,#02f,#02f,#02f,#02f,#02f,#02f,#02f,#02f)"></i><i style="background:linear-gradient(#00b,#00b,#00b,#00b,#00b,#00b,#00c,#00c,#00d,#00e,#00f,#02f,#06f,#0af,#0cf,#2fd,#5fa,#8f6,#cf3,#ee0,#fc0,#fa0,#f80,#f60,#f50,#f40,#f40,#f50,#f60,#f90,#fb0,#fd0,#df1,#bf3,#9f6,#7f8,#4fa,#2fd,#0df,#0bf,#07f,#02f,#00e,#00c,#00b,#00a,#009,#00a,#00b,#00c,#00d,#00f,#00f,#00f,#01f,#01f,#01f,#01f,#01f,#02f,#02f,#02f,#02f,#02f,#02f,#02f,#02f,#02f,#02f,#02f,#02f,#02f,#02f,#02f,#02f,#02f,#02f,#02f,#02f,#02f,#02f,#01f,#01f,#00f,#00f,#00f,#00f,#00f,#00f,#00f,#01f,#02f,#04f,#05f,#06f,#07f,#08f,#09f,#09f,#09f,#09f,#08f,#08f,#07f,#06f,#05f,#05f,#04f,#04f,#04f,#03f,#03f,#03f,#03f,#03f,#03f,#03f,#03f,#02f,#02f,#02f,#02f,#02f,#02f,#02f,#01f,#01f,#01f)"></i><i style="background:linear-gradient(#00b,#00b,#00b,#00b,#00b,#00b,#00c,#00c,#00d,#00e,#00f,#02f,#06f,#0af,#0df,#2fd,#5f9,#9f6,#cf2,#fe0,#fc0,#fa0,#f80,#f60,#f50,#f40,#f40,#f50,#f70,#f90,#fc0,#fe0,#df2,#bf4,#8f6,#6f9,#4fb,#1fd,#0df,#0af,#06f,#01f,#00d,#00c,#00a,#009,#009,#009,#00b,#00c,#00e,#00f,#00f,#00f,#01f,#01f,#01f,#02f,#02f,#02f,#02f,#02f,#02f,#02f,#02f,#02f,#02f,#02f,#02f,#02f,#02f,#02f,#02f,#02f,#02f,#02f,#02f,#02f,#02f,#02f,#02f,#02f,#01f,#01f,#00f,#00f,#00f,#00f,#00f,#00f,#01f,#02f,#04f,#05f,#06f,#07f,#08f,#09f,#09f,#09f,#09f,#08f,#07f,#07f,#06f,#05f,#05f,#04f,#04f,#03f,#03f,#03f,#03f,#03f,#03f,#03f,#02f,#02f,#02f,#02f,#02f,#02f,#02f,#02f,#01f,#01f,#01f,#01f)"></i><i style="background:linear-gradient(#00b,#00b,#00b,#00b,#00b,#00b,#00c,#00c,#00d,#00e,#00f,#03f,#07f,#0bf,#0df,#2fc,#6f9,#af5,#df2,#fe0,#fc0,#f90,#f80,#f60,#f50,#f40,#f40,#f50,#f70,#f90,#fc0,#ee0,#cf2,#af4,#8f7,#5f9,#3fb,#1fe,#0cf,#09f,#05f,#01f,#00d,#00c,#00a,#009,#008,#009,#00a,#00c,#00e,#00f,#00f,#01f,#01f,#01f,#02f,#02f,#02f,#02f,#02f,#02f,#02f,#02f,#02f,#02f,#02f,#02f,#02f,#02f,#02f,#02f,#02f,#02f,#02f,#02f,#02f,#02f,#02f,#02f,#02f,#02f,#02f,#01f,#01f,#00f,#00f,#00f,#00f,#01f,#01f,#03f,#04f,#05f,#06f,#07f,#08f,#09f,#09f,#09f,#09f,#08f,#07f,#06f,#06f,#05f,#04f,#04f,#03f,#03f,#03f,#03f,#03f,#02f,#02f,#02f,#02f,#02f,#02f,#02f,#02f,#02f,#02f,#01f,#01f,#01f,#01f,#01f)"></i><i style="background:linear-gradient(#00b,#00b,#00b,#00b,#00b,#00b,#00c,#00c,#00d,#00f,#01f,#04f,#08f,#0bf,#0ee,#3fb,#7f8,#af4,#df1,#fd0,#fb0,#f90,#f70,#f60,#f50,#f40,#f40,#f50,#f70,#fa0,#fd0,#ef0,#cf3,#af5,#7f7,#5fa,#3fc,#0ee,#0cf,#09f,#04f,#00f,#00d,#00b,#009,#008,#008,#009,#00a,#00c,#00e,#00f,#00f,#01f,#01f,#02f,#02f,#02f,#02f,#02f,#02f,#03f,#03f,#03f,#03f,#03f,#03f,#03f,#03f,#03f,#03f,#03f,#02f,#02f,#02f,#02f,#02f,#02f,#02f,#02f,#02f,#02f,#02f,#02f,#01f,#01f,#00f,#00f,#01f,#01f,#02f,#03f,#04f,#05f,#06f,#07f,#08f,#09f,#09f,#09f,#09f,#08f,#07f,#06f,#05f,#05f,#04f,#04f,#03f,#03f,#03f,#02f,#02f,#02f,#02f,#02f,#02f,#02f,#02f,#02f,#02f,#02f,#01f,#01f,#01f,#01f,#01f,#01f)"></i><i style="background:linear-gradient(#00b,#00b,#00b,#00b,#00b,#00b,#00c,#00c,#00d,#00f,#01f,#05f,#09f,#0cf,#1fe,#4fa,#8f7,#bf3,#ef0,#fd0,#fb0,#f90,#f70,#f50,#f40,#f40,#f40,#f60,#f80,#fa0,#fd0,#ef1,#bf3,#9f5,#7f8,#4fa,#2fc,#0df,#0bf,#08f,#03f,#00f,#00d,#00b,#009,#008,#008,#009,#00a,#00c,#00e,#00f,#00f,#01f,#01f,#02f,#02f,#02f,#02f,#03f,#03f,#03f,#03f,#03f,#03f,#03f,#03f,#03f,#03f,#03f,#03f,#03f,#03f,#03f,#03f,#03f,#03f,#03f,#03f,#03f,#03f,#03f,#02f,#02f,#02f,#01f,#01f,#01f,#01f,#01f,#02f,#03f,#04f,#05f,#06f,#07f,#08f,#08f,#09f,#09f,#08f,#08f,#07f,#06f,#05f,#04f,#04f,#03f,#03f,#03f,#02f,#02f,#02f,#02f,#02f,#02f,#02f,#02f,#02f,#01f,#01f,#01f,#01f,#01f,#01f,#01f,#01f,#01f)"></i><i style="background:linear-gradient(#00b,#00b,#00b,#00b,#00b,#00b,#00c,#00c,#00e,#00f,#02f,#06f,#0af,#0df,#2fd,#5f9,#9f6,#cf2,#fe0,#fc0,#fa0,#f80,#f60,#f50,#f40,#f40,#f40,#f60,#f80,#fb0,#fe0,#df1,#bf4,#9f6,#6f8,#4fb,#2fd,#0df,#0af,#06f,#02f,#00e,#00d,#00b,#009,#008,#008,#008,#00a,#00c,#00e,#00f,#01f,#01f,#02f,#02f,#02f,#03f,#03f,#03f,#03f,#03f,#03f,#03f,#03f,#04f,#04f,#03f,#03f,#03f,#03f,#03f,#03f,#03f,#03f,#03f,#03f,#03f,#03f,#03f,#03f,#03f,#03f,#02f,#02f,#02f,#02f,#01f,#01f,#02f,#02f,#03f,#04f,#05f,#06f,#07f,#08f,#08f,#09f,#08f,#08f,#08f,#07f,#06f,#05f,#04f,#04f,#03f,#03f,#02f,#02f,#02f,#02f,#02f,#02f,#01f,#01f,#01f,#01f,#01f,#01f,#01f,#01f,#01f,#01f,#01f,#01f,#01f)"></i><i style="background:linear-gradient(#00b,#00b,#00b,#00b,#00b,#00b,#00c,#00d,#00e,#01f,#04f,#08f,#0bf,#0ee,#3fb,#7f8,#af4,#ef1,#fd0,#fb0,#f90,#f70,#f50,#f40,#f30,#f30,#f40,#f60,#f90,#fc0,#fe0,#df2,#af4,#8f7,#6f9,#3fb,#1fd,#0cf,#0af,#05f,#01f,#00f,#00d,#00b,#009,#008,#008,#008,#00a,#00c,#00e,#00f,#01f,#02f,#02f,#02f,#03f,#03f,#03f,#03f,#04f,#04f,#04f,#04f,#04f,#04f,#04f,#04f,#04f,#04f,#04f,#04f,#03f,#03f,#03f,#03f,#03f,#03f,#03f,#03f,#03f,#03f,#03f,#03f,#03f,#02f,#02f,#02f,#02f,#02f,#02f,#03f,#04f,#05f,#06f,#07f,#07f,#08f,#08f,#08f,#08f,#07f,#06f,#06f,#05f,#04f,#03f,#03f,#02f,#02f,#02f,#02f,#01f,#01f,#01f,#01f,#01f,#01f,#01f,#01f,#01f,#01f,#01f,#01f,#01f,#01f,#01f,#01f)"></i><i style="background:linear-gradient(#00b,#00b,#00b,#00b,#00b,#00b,#00c,#00d,#00f,#02f,#06f,#0af,#0df,#2fd,#5fa,#9f6,#cf3,#fe0,#fc0,#fa0,#f80,#f60,#f40,#f30,#f30,#f30,#f40,#f70,#f90,#fc0,#ef0,#cf2,#af5,#7f7,#5f9,#3fc,#1ee,#0cf,#09f,#04f,#00f,#00e,#00d,#00b,#009,#008,#008,#009,#00b,#00d,#00f,#00f,#01f,#02f,#03f,#03f,#03f,#04f,#04f,#04f,#04f,#04f,#04f,#04f,#04f,#04f,#04f,#04f,#04f,#04f,#04f,#04f,#04f,#04f,#03f,#03f,#03f,#03f,#03f,#03f,#03f,#03f,#03f,#03f,#03f,#03f,#02f,#02f,#02f,#02f,#03f,#03f,#04f,#05f,#06f,#06f,#07f,#08f,#08f,#08f,#08f,#07f,#06f,#05f,#04f,#04f,#03f,#02f,#02f,#02f,#02f,#01f,#01f,#01f,#01f,#01f,#01f,#01f,#01f,#01f,#01f,#01f,#01f,#01f,#01f,#01f,#01f,#01f)"></i><i style="background:linear-gradient(#00b,#00b,#00b,#00b,#00b,#00b,#00c,#00e,#01f,#04f,#08f,#0bf,#0ee,#3fb,#7f8,#af4,#df1,#fd0,#fb0,#f90,#f70,#f50,#f30,#f20,#f20,#f30,#f50,#f70,#fa0,#fd0,#ef1,#cf3,#9f5,#7f7,#5fa,#2fc,#0ee,#0bf,#08f,#03f,#00f,#00e,#00d,#00b,#009,#008,#008,#009,#00b,#00d,#00f,#01f,#02f,#03f,#03f,#04f,#04f,#04f,#04f,#05f,#05f,#05f,#05f,#05f,#05f,#05f,#05f,#05f,#05f,#05f,#05f,#04f,#04f,#04f,#04f,#04f,#04f,#04f,#04f,#04f,#04f,#04f,#04f,#04f,#03f,#03f,#03f,#03f,#02f,#02f,#03f,#03f,#04f,#04f,#05f,#06f,#07f,#07f,#08f,#08f,#07f,#07f,#06f,#05f,#04f,#03f,#03f,#02f,#02f,#02f,#01f,#01f,#01f,#01f,#01f,#01f,#00f,#00f,#00f,#00f,#00f,#00f,#00f,#00f,#01f,#01f,#01f,#01f)"></i><i style="background:linear-gradient(#00b,#00b,#00b,#00b,#00b,#00b,#00d,#00f,#01f,#05f,#0af,#0cf,#1fd,#4fa,#8f7,#bf3,#ef0,#fc0,#fa0,#f80,#f50,#f40,#f20,#f20,#f20,#f30,#f50,#f70,#fa0,#fd0,#ef1,#bf3,#9f5,#7f8,#4fa,#2fc,#0df,#0bf,#07f,#03f,#00f,#00e,#00d,#00b,#009,#008,#008,#009,#00b,#00d,#00f,#01f,#02f,#03f,#04f,#04f,#05f,#05f,#05f,#05f,#06f,#06f,#06f,#06f,#06f,#06f,#06f,#06f,#05f,#05f,#05f,#05f,#05f,#04f,#04f,#04f,#04f,#04f,#04f,#04f,#04f,#04f,#04f,#04f,#04f,#03f,#03f,#03f,#03f,#03f,#03f,#03f,#04f,#04f,#05f,#06f,#06f,#07f,#07f,#07f,#07f,#06f,#05f,#05f,#04f,#03f,#02f,#02f,#02f,#01f,#01f,#01f,#01f,#01f,#00f,#00f,#00f,#00f,#00f,#00f,#00f,#00f,#00f,#00f,#00f,#00f,#00f,#00f)"></i><i style="background:linear-gradient(#00b,#00b,#00b,#00b,#00b,#00c,#00d,#00f,#02f,#07f,#0af,#0df,#2fc,#5f9,#9f6,#cf2,#fe0,#fc0,#f90,#f70,#f50,#f30,#f20,#f10,#f10,#f30,#f50,#f80,#fa0,#fd0,#ef1,#bf3,#9f6,#6f8,#4fa,#2fd,#0df,#0bf,#07f,#02f,#00f,#00f,#00d,#00b,#00a,#009,#009,#00a,#00c,#00e,#00f,#02f,#03f,#04f,#05f,#05f,#06f,#06f,#06f,#06f,#07f,#07f,#07f,#07f,#07f,#07f,#06f,#06f,#06f,#06f,#06f,#05f,#05f,#05f,#05f,#04f,#04f,#04f,#04f,#04f,#04f,#04f,#04f,#04f,#04f,#04f,#03f,#03f,#03f,#03f,#03f,#03f,#03f,#04f,#05f,#05f,#06f,#06f,#07f,#07f,#06f,#06f,#05f,#04f,#04f,#03f,#02f,#02f,#01f,#01f,#01f,#01f,#00f,#00f,#00f,#00f,#00f,#00f,#00f,#00f,#00f,#00f,#00f,#00f,#00f,#00f,#00f,#00f)"></i><i style="background:linear-gradient(#00b,#00b,#00b,#00b,#00b,#00c,#00e,#00f,#03f,#07f,#0bf,#0df,#3fc,#6f9,#9f5,#df2,#fe0,#fb0,#f80,#f60,#f40,#f20,#f10,#f10,#f10,#f30,#f50,#f80,#fb0,#fd0,#df1,#bf3,#9f6,#6f8,#4fb,#2fd,#0df,#0af,#06f,#02f,#00f,#00f,#00d,#00c,#00a,#009,#009,#00b,#00d,#00f,#01f,#03f,#04f,#05f,#06f,#07f,#07f,#07f,#07f,#08f,#08f,#08f,#08f,#08f,#08f,#07f,#07f,#07f,#07f,#07f,#06f,#06f,#06f,#05f,#05f,#05f,#05f,#05f,#05f,#05f,#05f,#05f,#05f,#04f,#04f,#04f,#04f,#03f,#03f,#03f,#03f,#03f,#03f,#04f,#04f,#05f,#06f,#06f,#06f,#06f,#06f,#05f,#05f,#04f,#03f,#03f,#02f,#02f,#01f,#01f,#01f,#00f,#00f,#00f,#00f,#00f,#00f,#00f,#00f,#00f,#00f,#00f,#00f,#00f,#00f,#00f,#00f,#00f)"></i><i style="background:linear-gradient(#00b,#00b,#00b,#00b,#00b,#00c,#00e,#01f,#04f,#08f,#0bf,#0ee,#3fb,#6f8,#af5,#df1,#fd0,#fa0,#f80,#f50,#f30,#f20,#e10,#e00,#f10,#f30,#f50,#f80,#fb0,#fe0,#df1,#bf4,#8f6,#6f9,#3fb,#1fd,#0df,#0af,#05f,#02f,#00f,#00f,#00d,#00c,#00a,#00a,#00a,#00b,#00d,#00f,#01f,#03f,#05f,#06f,#07f,#08f,#08f,#08f,#09f,#09f,#09f,#09f,#09f,#09f,#09f,#08f,#08f,#08f,#08f,#08f,#07f,#07f,#06f,#06f,#06f,#05f,#05f,#05f,#05f,#05f,#05f,#05f,#05f,#05f,#05f,#04f,#04f,#03f,#03f,#03f,#03f,#03f,#03f,#04f,#04f,#05f,#05f,#05f,#06f,#06f,#05f,#05f,#04f,#04f,#03f,#02f,#02f,#01f,#01f,#01f,#00f,#00f,#00f,#00f,#00f,#00f,#00f,#00f,#00e,#00e,#00f,#00f,#00f,#00f,#00f,#00f,#00f,#00f)"></i><i style="background:linear-gradient(#00b,#00b,#00b,#00b,#00b,#00c,#00e,#01f,#04f,#09f,#0cf,#1ee,#3fb,#7f8,#af4,#ef1,#fd0,#fa0,#f70,#f50,#f20,#f10,#e00,#e00,#f10,#f30,#f60,#f90,#fb0,#fe0,#df2,#af4,#8f7,#5f9,#3fc,#1ee,#0cf,#09f,#04f,#01f,#00f,#00f,#00e,#00c,#00b,#00a,#00b,#00c,#00e,#00f,#02f,#04f,#05f,#07f,#08f,#09f,#09f,#0af,#0af,#0af,#0af,#0af,#0af,#0af,#0af,#0af,#09f,#09f,#09f,#08f,#08f,#08f,#07f,#07f,#06f,#06f,#06f,#05f,#05f,#05f,#05f,#05f,#05f,#05f,#05f,#04f,#04f,#04f,#03f,#03f,#03f,#03f,#03f,#03f,#04f,#04f,#05f,#05f,#05f,#05f,#05f,#04f,#04f,#03f,#03f,#02f,#02f,#01f,#01f,#01f,#00f,#00f,#00f,#00f,#00f,#00f,#00f,#00e,#00e,#00e,#00e,#00e,#00f,#00f,#00f,#00f,#00f,#00f)"></i><i style="background:linear-gradient(#00b,#00b,#00b,#00b,#00b,#00d,#00f,#01f,#05f,#09f,#0cf,#1fe,#4fb,#7f7,#bf4,#ef1,#fc0,#f90,#f60,#f40,#f20,#e00,#d00,#e00,#f20,#f40,#f60,#f90,#fc0,#fe0,#cf2,#af5,#7f7,#4fa,#2fd,#0df,#0bf,#07f,#02f,#00f,#00f,#00f,#00e,#00c,#00b,#00b,#00b,#00c,#00e,#00f,#02f,#04f,#06f,#07f,#08f,#09f,#0af,#0af,#0bf,#0bf,#0bf,#0bf,#0bf,#0bf,#0bf,#0bf,#0bf,#0af,#0af,#09f,#09f,#08f,#08f,#07f,#07f,#06f,#06f,#06f,#06f,#06f,#06f,#06f,#05f,#05f,#05f,#05f,#04f,#04f,#03f,#03f,#03f,#03f,#03f,#03f,#03f,#04f,#04f,#04f,#05f,#04f,#04f,#04f,#03f,#03f,#02f,#02f,#01f,#01f,#01f,#00f,#00f,#00f,#00f,#00f,#00f,#00f,#00e,#00e,#00d,#00d,#00d,#00e,#00e,#00f,#00f,#00f,#00f,#00f)"></i><i style="background:linear-gradient(#00b,#00b,#00b,#00b,#00b,#00d,#00f,#01f,#05f,#09f,#0cf,#1fd,#4fa,#8f7,#bf3,#ef0,#fc0,#f90,#f60,#f30,#f10,#d00,#d00,#e00,#f20,#f40,#f70,#f90,#fc0,#ef0,#cf3,#9f6,#6f9,#3fb,#1ee,#0cf,#09f,#04f,#01f,#00f,#00f,#00f,#00e,#00c,#00b,#00b,#00b,#00c,#00e,#00f,#02f,#04f,#06f,#08f,#09f,#0af,#0af,#0bf,#0bf,#0cf,#0cf,#0cf,#0cf,#0cf,#0cf,#0cf,#0cf,#0bf,#0bf,#0af,#0af,#09f,#09f,#08f,#08f,#07f,#07f,#06f,#06f,#06f,#06f,#06f,#06f,#06f,#05f,#05f,#04f,#04f,#03f,#03f,#03f,#03f,#03f,#03f,#03f,#03f,#04f,#04f,#04f,#04f,#04f,#03f,#03f,#02f,#02f,#02f,#01f,#01f,#01f,#00f,#00f,#00f,#00f,#00f,#00f,#00e,#00e,#00d,#00d,#00d,#00d,#00d,#00e,#00f,#00f,#00f,#00f,#00f)"></i><i style="background:linear-gradient(#00b,#00b,#00b,#00b,#00b,#00d,#00f,#02f,#06f,#0af,#0cf,#2fd,#5fa,#8f6,#cf3,#fe0,#fb0,#f80,#f50,#f30,#e10,#d00,#d00,#e00,#f20,#f40,#f70,#fa0,#fd0,#ef1,#bf4,#8f7,#5fa,#2fd,#0df,#0bf,#07f,#02f,#01f,#00f,#00f,#00f,#00e,#00d,#00c,#00b,#00b,#00c,#00e,#00f,#02f,#04f,#06f,#08f,#09f,#0af,#0bf,#0bf,#0cf,#0cf,#0df,#0df,#0df,#0df,#0df,#0df,#0df,#0df,#0cf,#0cf,#0bf,#0af,#0af,#09f,#08f,#08f,#07f,#07f,#06f,#06f,#06f,#06f,#06f,#06f,#06f,#05f,#05f,#04f,#03f,#03f,#03f,#02f,#02f,#02f,#03f,#03f,#03f,#03f,#03f,#03f,#03f,#03f,#03f,#02f,#02f,#01f,#01f,#01f,#00f,#00f,#00f,#00f,#00f,#00f,#00f,#00e,#00d,#00d,#00c,#00c,#00c,#00d,#00d,#00e,#00f,#00f,#00f,#00f)"></i><i style="background:linear-gradient(#00b,#00b,#00b,#00b,#00c,#00d,#00f,#02f,#06f,#0af,#0df,#2fd,#5f9,#9f6,#cf2,#fe0,#fb0,#f80,#f50,#f20,#e00,#d00,#d00,#e00,#f20,#f40,#f70,#fa0,#fd0,#df1,#af4,#7f7,#4fa,#1fd,#0cf,#0af,#05f,#02f,#01f,#00f,#00f,#00f,#00e,#00d,#00c,#00b,#00b,#00d,#00e,#00f,#02f,#04f,#06f,#08f,#09f,#0af,#0bf,#0cf,#0cf,#0df,#0ee,#0ee,#1ee,#1ee,#1ee,#1ee,#0ee,#0ee,#0df,#0df,#0cf,#0bf,#0af,#0af,#09f,#08f,#08f,#07f,#07f,#07f,#07f,#06f,#06f,#06f,#06f,#05f,#05f,#04f,#03f,#03f,#02f,#02f,#02f,#02f,#02f,#02f,#03f,#03f,#03f,#03f,#03f,#02f,#02f,#02f,#01f,#01f,#01f,#01f,#00f,#00f,#00f,#00f,#00f,#00f,#00e,#00e,#00d,#00c,#00c,#00b,#00c,#00c,#00d,#00e,#00f,#00f,#00f,#00f)"></i><i style="background:linear-gradient(#00b,#00b,#00b,#00b,#00c,#00d,#00f,#02f,#07f,#0af,#0df,#2fc,#5f9,#9f5,#df2,#fd0,#fa0,#f70,#f40,#f20,#d00,#c00,#d00,#e00,#f20,#f40,#f70,#fa0,#fd0,#df1,#bf4,#8f7,#5fa,#2fd,#0df,#0af,#06f,#02f,#01f,#00f,#00f,#00f,#00e,#00d,#00c,#00b,#00b,#00d,#00e,#00f,#02f,#04f,#06f,#07f,#09f,#0af,#0bf,#0cf,#0df,#0ee,#1ee,#1fd,#1fd,#2fd,#2fd,#2fd,#1fd,#1fe,#1ee,#0df,#0df,#0cf,#0bf,#0af,#09f,#09f,#08f,#08f,#07f,#07f,#07f,#07f,#07f,#06f,#06f,#05f,#05f,#04f,#03f,#03f,#02f,#02f,#02f,#02f,#02f,#02f,#02f,#02f,#02f,#02f,#02f,#02f,#02f,#01f,#01f,#01f,#01f,#01f,#00f,#00f,#00f,#00f,#00f,#00f,#00e,#00e,#00d,#00c,#00b,#00b,#00b,#00c,#00d,#00e,#00f,#00f,#00f,#00f)"></i><i style="background:linear-gradient(#00b,#00b,#00b,#00b,#00c,#00e,#00f,#03f,#07f,#0bf,#0df,#2fc,#6f9,#af5,#df2,#fd0,#fa0,#f70,#f40,#f10,#d00,#c00,#c00,#e00,#f20,#f40,#f70,#fa0,#fd0,#ef1,#bf3,#8f6,#6f9,#3fc,#1ee,#0cf,#09f,#04f,#01f,#00f,#00f,#00f,#00e,#00d,#00c,#00b,#00b,#00c,#00e,#00f,#02f,#04f,#06f,#07f,#09f,#0af,#0bf,#0cf,#0df,#0ee,#1fe,#2fd,#2fd,#2fc,#2fc,#2fc,#2fd,#2fd,#1fd,#1ee,#0df,#0cf,#0cf,#0bf,#0af,#09f,#08f,#08f,#08f,#07f,#07f,#07f,#07f,#07f,#06f,#06f,#05f,#04f,#03f,#03f,#02f,#02f,#01f,#01f,#01f,#01f,#01f,#02f,#02f,#02f,#02f,#01f,#01f,#01f,#01f,#01f,#01f,#00f,#00f,#00f,#00f,#00f,#00f,#00f,#00e,#00d,#00c,#00c,#00b,#00a,#00b,#00b,#00c,#00d,#00e,#00f,#00f,#00f)"></i><i style="background:linear-gradient(#00b,#00b,#00b,#00b,#00c,#00e,#00f,#03f,#07f,#0bf,#0df,#3fc,#6f8,#af5,#df1,#fd0,#f90,#f60,#f30,#f10,#d00,#c00,#c00,#e00,#f20,#f40,#f70,#fa0,#fc0,#ef0,#cf3,#9f5,#7f8,#4fa,#2fd,#0df,#0bf,#07f,#02f,#00f,#00f,#00f,#00e,#00d,#00c,#00b,#00b,#00c,#00e,#00f,#02f,#04f,#06f,#07f,#09f,#0af,#0bf,#0cf,#0df,#1ee,#1fd,#2fd,#2fc,#2fc,#3fc,#3fc,#2fc,#2fd,#1fd,#1fe,#0ee,#0df,#0cf,#0bf,#0af,#09f,#09f,#08f,#08f,#08f,#07f,#07f,#07f,#07f,#06f,#06f,#05f,#04f,#03f,#03f,#02f,#02f,#01f,#01f,#01f,#01f,#01f,#01f,#01f,#01f,#01f,#01f,#01f,#01f,#01f,#01f,#01f,#00f,#00f,#00f,#00f,#00f,#00f,#00f,#00e,#00d,#00c,#00b,#00a,#00a,#00a,#00b,#00c,#00d,#00e,#00f,#00f,#00f)"></i><i style="background:linear-gradient(#00b,#00b,#00b,#00b,#00c,#00e,#00f,#03f,#08f,#0bf,#0df,#3fc,#6f8,#af4,#ef1,#fc0,#f90,#f60,#f30,#f10,#d00,#c00,#c00,#e00,#f20,#f40,#f70,#fa0,#fc0,#ef0,#cf2,#af5,#8f7,#5f9,#3fc,#1ee,#0cf,#09f,#04f,#01f,#00f,#00f,#00e,#00d,#00c,#00b,#00b,#00c,#00e,#00f,#02f,#04f,#06f,#07f,#09f,#0af,#0bf,#0cf,#0df,#1ee,#1fd,#2fd,#2fc,#3fc,#3fc,#3fc,#2fc,#2fc,#2fd,#1fd,#0ee,#0df,#0cf,#0bf,#0af,#0af,#09f,#08f,#08f,#08f,#08f,#07f,#07f,#07f,#06f,#06f,#05f,#04f,#03f,#03f,#02f,#01f,#01f,#01f,#00f,#00f,#00f,#00f,#01f,#01f,#01f,#01f,#01f,#01f,#01f,#00f,#00f,#00f,#00f,#00f,#00f,#00f,#00f,#00f,#00e,#00d,#00c,#00b,#00a,#00a,#00a,#00b,#00c,#00d,#00e,#00f,#00f,#00f)"></i><i style="background:linear-gradient(#00b,#00b,#00b,#00b,#00c,#00e,#00f,#03f,#08f,#0bf,#0ee,#3fb,#7f8,#bf4,#ef1,#fc0,#f90,#f60,#f30,#e10,#d00,#c00,#c00,#e00,#f20,#f40,#f70,#f90,#fc0,#fe0,#cf2,#af4,#8f6,#6f9,#4fb,#1fd,#0df,#0af,#06f,#02f,#00f,#00f,#00e,#00c,#00b,#00b,#00b,#00c,#00e,#00f,#02f,#04f,#06f,#07f,#09f,#0af,#0bf,#0cf,#0df,#1ee,#1fd,#2fd,#2fc,#3fc,#3fc,#3fc,#2fc,#2fc,#2fd,#1fd,#0ee,#0df,#0cf,#0bf,#0bf,#0af,#09f,#09f,#08f,#08f,#08f,#08f,#07f,#07f,#06f,#06f,#05f,#04f,#03f,#02f,#02f,#01f,#00f,#00f,#00f,#00f,#00f,#00f,#00f,#00f,#00f,#00f,#00f,#00f,#00f,#00f,#00f,#00f,#00f,#00f,#00f,#00f,#00f,#00f,#00e,#00d,#00c,#00b,#00a,#00a,#00a,#00b,#00c,#00d,#00e,#00f,#00f,#00f)"></i><i style="background:linear-gradient(#00b,#00b,#00b,#00b,#00c,#00e,#01f,#04f,#08f,#0bf,#0ee,#3fb,#7f7,#bf4,#ef0,#fc0,#f90,#f50,#f30,#e10,#c00,#c00,#c00,#e00,#f20,#f40,#f70,#f90,#fc0,#fe0,#df2,#af4,#8f6,#6f8,#4fb,#2fd,#0df,#0bf,#07f,#02f,#00f,#00f,#00e,#00c,#00b,#00b,#00b,#00c,#00e,#00f,#02f,#04f,#06f,#07f,#09f,#0af,#0bf,#0cf,#0df,#0ee,#1fd,#2fd,#2fd,#2fc,#2fc,#2fc,#2fc,#2fd,#2fd,#1fe,#0ee,#0df,#0cf,#0bf,#0bf,#0af,#09f,#09f,#08f,#08f,#08f,#08f,#07f,#07f,#07f,#06f,#05f,#04f,#03f,#02f,#01f,#01f,#00f,#00f,#00f,#00f,#00f,#00f,#00f,#00f,#00f,#00f,#00f,#00f,#00f,#00f,#00f,#00f,#00f,#00f,#00f,#00f,#00f,#00f,#00e,#00d,#00c,#00b,#00a,#00a,#00a,#00b,#00c,#00d,#00e,#00f,#00f,#00f)"></i><i style="background:linear-gradient(#00b,#00b,#00b,#00b,#00c,#00e,#01f,#04f,#08f,#0bf,#0ee,#3fb,#7f7,#bf3,#fe0,#fb0,#f80,#f50,#f30,#e00,#c00,#c00,#c00,#e00,#f20,#f40,#f70,#f90,#fc0,#fe0,#df2,#bf4,#8f6,#6f8,#4fa,#2fc,#0ee,#0bf,#08f,#03f,#00f,#00f,#00e,#00c,#00b,#00b,#00b,#00c,#00e,#00f,#02f,#04f,#06f,#07f,#09f,#0af,#0bf,#0cf,#0df,#0ee,#1ee,#1fd,#2fd,#2fd,#2fc,#2fc,#2fd,#2fd,#1fd,#1ee,#0ee,#0df,#0cf,#0bf,#0bf,#0af,#09f,#09f,#08f,#08f,#08f,#08f,#08f,#07f,#07f,#06f,#05f,#04f,#03f,#02f,#01f,#00f,#00f,#00f,#00f,#00f,#00f,#00f,#00f,#00f,#00f,#00f,#00f,#00f,#00f,#00f,#00f,#00f,#00f,#00f,#00f,#00f,#00f,#00f,#00f,#00e,#00c,#00b,#00a,#00a,#00a,#00b,#00c,#00d,#00e,#00f,#00f,#00f)"></i><i style="background:linear-gradient(#00b,#00b,#00b,#00b,#00c,#00e,#01f,#04f,#08f,#0cf,#1ee,#4fb,#8f7,#cf3,#fe0,#fb0,#f80,#f50,#f20,#e00,#c00,#c00,#c00,#e00,#f20,#f40,#f70,#f90,#fc0,#fe0,#df2,#bf4,#8f6,#6f8,#4fa,#2fc,#0ee,#0bf,#08f,#03f,#00f,#00f,#00d,#00c,#00b,#00b,#00b,#00c,#00e,#00f,#02f,#04f,#06f,#07f,#08f,#0af,#0bf,#0cf,#0cf,#0df,#0ee,#1fe,#1fd,#2fd,#2fd,#2fd,#1fd,#1fd,#1fe,#1ee,#0ef,#0df,#0cf,#0bf,#0af,#0af,#09f,#09f,#08f,#08f,#08f,#08f,#08f,#07f,#07f,#06f,#05f,#04f,#03f,#02f,#01f,#00f,#00f,#00f,#00e,#00e,#00e,#00e,#00e,#00e,#00f,#00f,#00f,#00f,#00f,#00f,#00f,#00f,#00f,#00f,#00f,#00f,#00f,#00f,#00f,#00e,#00d,#00c,#00b,#00a,#00a,#00b,#00c,#00d,#00e,#00f,#00f,#00f)"></i><i style="background:linear-gradient(#00b,#00b,#00b,#00b,#00c,#00e,#01f,#04f,#09f,#0cf,#1ee,#4fb,#8f7,#cf3,#fe0,#fb0,#f80,#f50,#f20,#e00,#c00,#c00,#c00,#e00,#f20,#f40,#f70,#fa0,#fc0,#ee0,#df2,#bf4,#8f6,#6f8,#4fa,#2fc,#0ee,#0bf,#08f,#03f,#00f,#00f,#00d,#00c,#00b,#00b,#00b,#00c,#00e,#00f,#02f,#04f,#05f,#07f,#08f,#09f,#0af,#0bf,#0cf,#0df,#0ee,#1ee,#1fe,#1fd,#1fd,#1fe,#1ee,#0ee,#0ee,#0ee,#0df,#0df,#0cf,#0bf,#0af,#0af,#09f,#09f,#08f,#08f,#08f,#08f,#08f,#07f,#07f,#06f,#05f,#04f,#03f,#02f,#01f,#00f,#00f,#00e,#00e,#00e,#00d,#00d,#00e,#00e,#00e,#00e,#00f,#00f,#00f,#00f,#00f,#00f,#00f,#00f,#00f,#00f,#00f,#00f,#00f,#00e,#00d,#00c,#00b,#00b,#00b,#00c,#00c,#00e,#00f,#00f,#00f,#00f)"></i><i style="background:linear-gradient(#00b,#00b,#00b,#00b,#00c,#00e,#01f,#04f,#09f,#0cf,#1ee,#4fb,#8f7,#cf3,#fe0,#fb0,#f80,#f50,#f20,#e00,#c00,#c00,#c00,#e00,#f20,#f40,#f70,#fa0,#fc0,#ef0,#cf2,#af4,#8f6,#6f8,#4fa,#2fc,#0ee,#0bf,#08f,#03f,#00f,#00f,#00d,#00c,#00b,#00b,#00b,#00c,#00e,#00f,#02f,#04f,#05f,#07f,#08f,#09f,#0af,#0bf,#0cf,#0cf,#0df,#0ee,#1ee,#1ee,#0ee,#0df,#0cf,#0cf,#0df,#0df,#0df,#0cf,#0cf,#0bf,#0af,#0af,#09f,#09f,#08f,#08f,#08f,#08f,#08f,#07f,#07f,#06f,#05f,#04f,#03f,#01f,#00f,#00f,#00e,#00e,#00d,#00d,#00d,#00d,#00d,#00d,#00e,#00e,#00e,#00f,#00f,#00f,#00f,#00f,#00f,#00f,#00f,#00f,#00f,#00f,#00f,#00e,#00d,#00c,#00c,#00b,#00b,#00c,#00d,#00e,#00f,#00f,#00f,#00f)"></i><i style="background:linear-gradient(#00b,#00b,#00b,#00b,#00c,#00e,#01f,#04f,#08f,#0bf,#0ee,#4fb,#8f7,#cf3,#fe0,#fb0,#f80,#f50,#f20,#e00,#c00,#c00,#c00,#e00,#f20,#f40,#f70,#fa0,#fc0,#ef0,#cf2,#af4,#8f6,#6f8,#4fb,#2fd,#0df,#0bf,#07f,#02f,#00f,#00f,#00d,#00c,#00b,#00a,#00b,#00c,#00d,#00f,#02f,#03f,#05f,#07f,#08f,#09f,#0af,#0bf,#0bf,#0cf,#0df,#0df,#0ee,#0ee,#0df,#0cf,#0cf,#0bf,#0cf,#0df,#0cf,#0cf,#0bf,#0bf,#0af,#09f,#09f,#09f,#08f,#08f,#08f,#08f,#08f,#07f,#07f,#06f,#05f,#04f,#02f,#01f,#00f,#00f,#00e,#00d,#00d,#00c,#00c,#00c,#00d,#00d,#00d,#00e,#00e,#00f,#00f,#00f,#00f,#00f,#00f,#00f,#00f,#00f,#00f,#00f,#00f,#00f,#00e,#00d,#00c,#00c,#00c,#00d,#00d,#00e,#00f,#00f,#00f,#00f)"></i><i style="background:linear-gradient(#00b,#00b,#00b,#00b,#00c,#00e,#00f,#03f,#08f,#0bf,#0ee,#3fb,#7f7,#cf3,#fe0,#fb0,#f80,#f50,#f20,#e00,#c00,#c00,#c00,#e00,#f20,#f40,#f70,#fa0,#fc0,#ef0,#cf2,#af4,#8f6,#6f9,#4fb,#1fd,#0df,#0af,#06f,#02f,#00f,#00f,#00d,#00c,#00b,#00a,#00b,#00c,#00d,#00f,#01f,#03f,#05f,#06f,#07f,#08f,#09f,#0af,#0bf,#0cf,#0cf,#0df,#0df,#0df,#0df,#0df,#0cf,#0cf,#0cf,#0df,#0cf,#0cf,#0bf,#0af,#0af,#09f,#09f,#08f,#08f,#08f,#08f,#08f,#08f,#07f,#06f,#06f,#05f,#03f,#02f,#01f,#00f,#00f,#00e,#00d,#00c,#00c,#00c,#00c,#00c,#00c,#00d,#00d,#00e,#00e,#00f,#00f,#00f,#00f,#00f,#00f,#00f,#00f,#00f,#00f,#00f,#00f,#00e,#00d,#00d,#00d,#00d,#00d,#00e,#00f,#00f,#00f,#00f,#00f)"></i><i style="background:linear-gradient(#00b,#00b,#00b,#00b,#00c,#00e,#00f,#03f,#07f,#0bf,#0df,#3fc,#7f8,#bf3,#fe0,#fb0,#f80,#f50,#f30,#e10,#d00,#c00,#d00,#e00,#f20,#f40,#f70,#fa0,#fc0,#ef0,#cf2,#af4,#8f7,#5f9,#3fb,#1fe,#0cf,#09f,#05f,#01f,#00f,#00e,#00d,#00c,#00b,#00a,#00b,#00c,#00d,#00f,#01f,#03f,#05f,#06f,#07f,#08f,#09f,#0af,#0bf,#0bf,#0cf,#0cf,#0df,#0df,#0df,#0df,#0df,#0df,#0df,#0cf,#0cf,#0bf,#0bf,#0af,#0af,#09f,#09f,#08f,#08f,#08f,#08f,#08f,#07f,#07f,#06f,#06f,#05f,#03f,#02f,#01f,#00f,#00e,#00d,#00d,#00c,#00c,#00b,#00c,#00c,#00c,#00d,#00d,#00e,#00e,#00f,#00f,#00f,#00f,#00f,#00f,#00f,#00f,#00f,#00f,#00f,#00f,#00f,#00e,#00d,#00d,#00d,#00e,#00e,#00f,#00f,#00f,#00f,#00f)"></i><i style="background:linear-gradient(#00b,#00b,#00b,#00b,#00c,#00d,#00f,#02f,#06f,#0af,#0df,#2fc,#6f8,#af4,#ef0,#fc0,#f90,#f60,#f30,#f10,#d00,#d00,#d00,#e00,#f20,#f40,#f70,#f90,#fc0,#fe0,#cf2,#af4,#8f7,#5f9,#3fc,#1ee,#0cf,#09f,#04f,#01f,#00f,#00e,#00d,#00c,#00b,#00a,#00a,#00b,#00d,#00f,#01f,#03f,#05f,#06f,#07f,#08f,#09f,#09f,#0af,#0bf,#0bf,#0cf,#0cf,#0df,#0df,#0df,#0df,#0df,#0cf,#0cf,#0cf,#0bf,#0bf,#0af,#09f,#09f,#09f,#08f,#08f,#08f,#08f,#08f,#07f,#07f,#06f,#06f,#04f,#03f,#02f,#01f,#00f,#00e,#00d,#00c,#00c,#00b,#00b,#00b,#00b,#00c,#00c,#00d,#00d,#00e,#00e,#00f,#00f,#00f,#00f,#00f,#00f,#00f,#00f,#00f,#00f,#00f,#00f,#00e,#00e,#00e,#00e,#00e,#00f,#00f,#00f,#00f,#00f,#00f)"></i><i style="background:linear-gradient(#00b,#00b,#00b,#00b,#00b,#00d,#00f,#02f,#05f,#0af,#0cf,#1fd,#5f9,#9f5,#df1,#fd0,#fa0,#f70,#f40,#f20,#e00,#d00,#d00,#e10,#f20,#f40,#f70,#f90,#fc0,#fe0,#df2,#af4,#8f7,#5f9,#3fc,#0ee,#0cf,#08f,#03f,#01f,#00f,#00e,#00d,#00c,#00b,#00a,#00a,#00b,#00d,#00f,#01f,#03f,#04f,#06f,#07f,#08f,#08f,#09f,#0af,#0af,#0bf,#0bf,#0cf,#0cf,#0cf,#0cf,#0cf,#0cf,#0cf,#0cf,#0bf,#0bf,#0af,#0af,#09f,#09f,#08f,#08f,#08f,#08f,#08f,#08f,#07f,#07f,#06f,#05f,#04f,#03f,#02f,#01f,#00f,#00e,#00d,#00c,#00b,#00b,#00b,#00b,#00b,#00c,#00c,#00d,#00d,#00e,#00e,#00f,#00f,#00f,#00f,#00f,#00f,#00f,#00f,#00f,#00f,#00f,#00f,#00f,#00f,#00e,#00e,#00f,#00f,#00f,#00f,#00f,#00f,#00f)"></i><i style="background:linear-gradient(#00b,#00b,#00b,#00b,#00b,#00c,#00f,#01f,#04f,#09f,#0cf,#1ee,#4fa,#8f6,#cf2,#fd0,#fb0,#f80,#f50,#f30,#f10,#e00,#e00,#f10,#f20,#f40,#f70,#f90,#fc0,#fe0,#df2,#af4,#8f7,#5f9,#3fc,#0ee,#0cf,#08f,#03f,#01f,#00f,#00e,#00d,#00c,#00b,#00a,#00a,#00b,#00d,#00f,#01f,#03f,#04f,#05f,#06f,#07f,#08f,#09f,#09f,#0af,#0bf,#0bf,#0bf,#0cf,#0cf,#0cf,#0cf,#0cf,#0cf,#0bf,#0bf,#0bf,#0af,#0af,#09f,#09f,#08f,#08f,#08f,#08f,#08f,#08f,#07f,#07f,#06f,#05f,#04f,#03f,#02f,#00f,#00f,#00e,#00d,#00c,#00b,#00b,#00b,#00b,#00b,#00b,#00c,#00c,#00d,#00e,#00e,#00f,#00f,#00f,#00f,#00f,#00f,#00f,#01f,#00f,#00f,#00f,#00f,#00f,#00f,#00f,#00f,#00f,#00f,#00f,#00f,#00f,#00f,#00f)"></i><i style="background:linear-gradient(#00b,#00b,#00b,#00b,#00b,#00c,#00e,#00f,#04f,#08f,#0bf,#0ee,#3fb,#7f7,#bf3,#ee0,#fc0,#f90,#f60,#f40,#f20,#f10,#e10,#f10,#f20,#f40,#f60,#f90,#fb0,#fe0,#df2,#bf4,#8f7,#5f9,#3fc,#0ee,#0cf,#09f,#04f,#01f,#00f,#00e,#00d,#00c,#00b,#00a,#00a,#00b,#00d,#00f,#01f,#02f,#04f,#05f,#06f,#07f,#08f,#08f,#09f,#0af,#0af,#0bf,#0bf,#0bf,#0cf,#0cf,#0cf,#0cf,#0bf,#0bf,#0bf,#0af,#0af,#0af,#09f,#09f,#08f,#08f,#08f,#08f,#08f,#08f,#07f,#07f,#06f,#05f,#04f,#03f,#02f,#00f,#00f,#00e,#00d,#00c,#00b,#00b,#00b,#00b,#00b,#00b,#00c,#00c,#00d,#00e,#00e,#00f,#00f,#00f,#00f,#00f,#00f,#01f,#01f,#01f,#00f,#00f,#00f,#00f,#00f,#00f,#00f,#00f,#00f,#00f,#00f,#01f,#01f,#01f)"></i><i style="background:linear-gradient(#00b,#00b,#00b,#00b,#00b,#00c,#00e,#00f,#03f,#07f,#0bf,#0df,#2fc,#6f8,#af4,#ef1,#fd0,#fa0,#f70,#f50,#f30,#f20,#f10,#f20,#f30,#f40,#f60,#f90,#fb0,#fe0,#df1,#bf4,#8f6,#6f9,#3fc,#1ee,#0cf,#09f,#04f,#01f,#00f,#00e,#00d,#00c,#00b,#00a,#00a,#00b,#00d,#00f,#01f,#02f,#04f,#05f,#06f,#07f,#07f,#08f,#09f,#09f,#0af,#0af,#0bf,#0bf,#0bf,#0bf,#0bf,#0bf,#0bf,#0bf,#0bf,#0af,#0af,#0af,#09f,#09f,#08f,#08f,#08f,#08f,#08f,#08f,#07f,#07f,#06f,#05f,#04f,#03f,#02f,#00f,#00f,#00e,#00d,#00c,#00b,#00b,#00b,#00b,#00b,#00b,#00c,#00c,#00d,#00e,#00e,#00f,#00f,#00f,#00f,#00f,#00f,#01f,#01f,#01f,#00f,#00f,#00f,#00f,#00f,#00f,#00f,#00f,#00f,#00f,#00f,#01f,#01f,#01f)"></i><i style="background:linear-gradient(#00b,#00b,#00b,#00b,#00b,#00c,#00d,#00f,#02f,#06f,#0af,#0df,#2fd,#5f9,#9f6,#df2,#fe0,#fb0,#f80,#f60,#f40,#f20,#f20,#f20,#f30,#f40,#f60,#f90,#fb0,#fd0,#ef1,#bf3,#9f6,#6f9,#3fb,#1fe,#0cf,#09f,#04f,#01f,#00f,#00e,#00d,#00c,#00b,#00a,#00a,#00b,#00d,#00f,#01f,#02f,#04f,#05f,#06f,#06f,#07f,#08f,#08f,#09f,#0af,#0af,#0af,#0bf,#0bf,#0bf,#0bf,#0bf,#0bf,#0bf,#0bf,#0af,#0af,#0af,#09f,#09f,#08f,#08f,#08f,#08f,#08f,#08f,#07f,#07f,#06f,#05f,#04f,#03f,#02f,#00f,#00f,#00e,#00d,#00c,#00b,#00b,#00b,#00b,#00b,#00b,#00c,#00c,#00d,#00e,#00e,#00f,#00f,#00f,#00f,#00f,#00f,#01f,#01f,#01f,#01f,#00f,#00f,#00f,#00f,#00f,#00f,#00f,#00f,#00f,#01f,#01f,#01f,#01f)"></i><i style="background:linear-gradient(#00b,#00b,#00b,#00b,#00b,#00b,#00d,#00f,#01f,#05f,#09f,#0cf,#1fe,#4fa,#8f7,#cf3,#ef0,#fc0,#f90,#f70,#f50,#f30,#f20,#f20,#f30,#f40,#f60,#f80,#fb0,#fd0,#ef1,#cf3,#9f6,#6f8,#4fb,#1fd,#0cf,#0af,#05f,#01f,#00f,#00e,#00d,#00c,#00b,#00a,#00a,#00b,#00d,#00f,#00f,#02f,#03f,#05f,#05f,#06f,#07f,#08f,#08f,#09f,#09f,#0af,#0af,#0bf,#0bf,#0bf,#0bf,#0bf,#0bf,#0bf,#0bf,#0af,#0af,#0af,#09f,#09f,#09f,#08f,#08f,#08f,#08f,#08f,#07f,#07f,#06f,#05f,#04f,#03f,#02f,#01f,#00f,#00e,#00d,#00c,#00c,#00b,#00b,#00b,#00b,#00c,#00c,#00d,#00d,#00e,#00e,#00f,#00f,#00f,#00f,#00f,#00f,#01f,#01f,#01f,#01f,#01f,#00f,#00f,#00f,#00f,#00f,#00f,#00f,#01f,#01f,#01f,#01f,#01f)"></i><i style="background:linear-gradient(#00b,#00b,#00b,#00b,#00b,#00b,#00c,#00e,#01f,#04f,#08f,#0bf,#0ee,#3fb,#7f8,#af4,#ef1,#fd0,#fa0,#f80,#f60,#f40,#f30,#f30,#f30,#f50,#f60,#f80,#fb0,#fd0,#ef0,#cf3,#9f5,#6f8,#4fb,#1fd,#0df,#0af,#05f,#02f,#00f,#00e,#00d,#00c,#00b,#00a,#00a,#00b,#00d,#00f,#00f,#02f,#03f,#04f,#05f,#06f,#07f,#07f,#08f,#09f,#09f,#0af,#0af,#0bf,#0bf,#0bf,#0bf,#0bf,#0bf,#0bf,#0bf,#0bf,#0af,#0af,#0af,#09f,#09f,#09f,#08f,#08f,#08f,#08f,#08f,#07f,#06f,#06f,#05f,#03f,#02f,#01f,#00f,#00e,#00d,#00c,#00c,#00b,#00b,#00b,#00b,#00c,#00c,#00d,#00d,#00e,#00f,#00f,#00f,#00f,#00f,#00f,#00f,#01f,#01f,#01f,#01f,#01f,#01f,#01f,#00f,#00f,#00f,#01f,#01f,#01f,#01f,#01f,#01f,#01f)"></i><i style="background:linear-gradient(#00b,#00b,#00b,#00b,#00b,#00b,#00c,#00e,#00f,#03f,#07f,#0bf,#0df,#3fc,#6f9,#af5,#df2,#fe0,#fb0,#f90,#f70,#f50,#f40,#f40,#f40,#f50,#f60,#f80,#fa0,#fd0,#ef0,#cf2,#af5,#7f8,#4fa,#2fd,#0df,#0af,#06f,#02f,#00f,#00e,#00d,#00c,#00b,#00a,#00a,#00b,#00d,#00f,#00f,#02f,#03f,#04f,#05f,#06f,#07f,#07f,#08f,#09f,#09f,#0af,#0af,#0bf,#0bf,#0bf,#0bf,#0bf,#0bf,#0bf,#0bf,#0bf,#0bf,#0af,#0af,#09f,#09f,#09f,#09f,#08f,#08f,#08f,#08f,#07f,#07f,#06f,#05f,#03f,#02f,#01f,#00f,#00f,#00e,#00d,#00c,#00c,#00c,#00c,#00c,#00c,#00d,#00d,#00e,#00e,#00f,#00f,#00f,#00f,#00f,#00f,#01f,#01f,#01f,#01f,#01f,#01f,#01f,#01f,#01f,#01f,#01f,#01f,#01f,#01f,#01f,#01f,#01f,#01f)"></i><i style="background:linear-gradient(#00b,#00b,#00b,#00b,#00b,#00b,#00c,#00d,#00f,#02f,#07f,#0af,#0df,#2fd,#5f9,#9f6,#cf3,#fe0,#fc0,#fa0,#f80,#f60,#f50,#f40,#f40,#f50,#f60,#f80,#fa0,#fc0,#ee0,#cf2,#af5,#7f7,#4fa,#2fd,#0df,#0bf,#06f,#02f,#00f,#00e,#00d,#00c,#00b,#00a,#00a,#00b,#00d,#00e,#00f,#02f,#03f,#04f,#05f,#06f,#07f,#07f,#08f,#08f,#09f,#0af,#0af,#0bf,#0bf,#0bf,#0bf,#0cf,#0cf,#0cf,#0bf,#0bf,#0bf,#0bf,#0af,#0af,#09f,#09f,#09f,#09f,#09f,#08f,#08f,#07f,#07f,#06f,#05f,#04f,#02f,#01f,#00f,#00f,#00e,#00d,#00d,#00c,#00c,#00c,#00c,#00d,#00d,#00d,#00e,#00e,#00f,#00f,#00f,#00f,#00f,#00f,#01f,#01f,#01f,#01f,#01f,#01f,#01f,#01f,#01f,#01f,#01f,#01f,#01f,#01f,#01f,#01f,#01f,#01f)"></i><i style="background:linear-gradient(#00b,#00b,#00b,#00b,#00b,#00b,#00c,#00d,#00f,#02f,#06f,#0af,#0df,#2fd,#5fa,#8f6,#bf3,#ef1,#fd0,#fa0,#f80,#f70,#f50,#f50,#f50,#f50,#f60,#f80,#fa0,#fc0,#fe0,#df2,#af4,#7f7,#5fa,#2fd,#0df,#0bf,#07f,#02f,#00f,#00e,#00d,#00c,#00b,#00a,#00a,#00b,#00d,#00f,#00f,#02f,#03f,#04f,#05f,#06f,#06f,#07f,#08f,#08f,#09f,#0af,#0af,#0bf,#0bf,#0bf,#0cf,#0cf,#0cf,#0cf,#0cf,#0bf,#0bf,#0bf,#0bf,#0af,#0af,#09f,#09f,#09f,#09f,#08f,#08f,#08f,#07f,#06f,#05f,#04f,#03f,#01f,#00f,#00f,#00e,#00e,#00d,#00d,#00d,#00d,#00d,#00d,#00d,#00e,#00e,#00f,#00f,#00f,#00f,#00f,#00f,#01f,#01f,#01f,#01f,#01f,#01f,#01f,#01f,#01f,#01f,#01f,#01f,#01f,#01f,#01f,#01f,#01f,#01f,#01f)"></i><i style="background:linear-gradient(#00b,#00b,#00b,#00b,#00b,#00b,#00c,#00d,#00f,#02f,#05f,#0af,#0cf,#1fd,#4fa,#8f7,#bf4,#ef1,#fd0,#fb0,#f90,#f70,#f60,#f50,#f50,#f50,#f70,#f80,#fa0,#fc0,#fe0,#df2,#af4,#8f7,#5fa,#2fc,#0df,#0bf,#07f,#03f,#00f,#00f,#00d,#00c,#00b,#00a,#00b,#00b,#00d,#00f,#00f,#02f,#03f,#04f,#05f,#06f,#06f,#07f,#08f,#08f,#09f,#0af,#0af,#0bf,#0bf,#0bf,#0cf,#0cf,#0cf,#0cf,#0cf,#0cf,#0cf,#0bf,#0bf,#0af,#0af,#0af,#09f,#09f,#09f,#09f,#08f,#08f,#07f,#06f,#05f,#04f,#03f,#02f,#01f,#00f,#00f,#00e,#00e,#00d,#00d,#00d,#00d,#00e,#00e,#00e,#00f,#00f,#00f,#00f,#00f,#00f,#01f,#01f,#01f,#01f,#01f,#01f,#01f,#01f,#01f,#01f,#01f,#01f,#01f,#01f,#01f,#01f,#01f,#01f,#01f,#01f)"></i><i style="background:linear-gradient(#00b,#00b,#00b,#00b,#00b,#00b,#00c,#00d,#00f,#01f,#05f,#09f,#0cf,#1fd,#4fb,#7f7,#bf4,#df1,#fe0,#fb0,#f90,#f80,#f60,#f50,#f50,#f50,#f70,#f80,#fa0,#fc0,#fe0,#df2,#af4,#8f7,#5fa,#2fc,#0ee,#0bf,#08f,#03f,#00f,#00f,#00d,#00c,#00b,#00b,#00b,#00c,#00d,#00f,#00f,#02f,#03f,#04f,#05f,#06f,#06f,#07f,#08f,#08f,#09f,#0af,#0af,#0bf,#0bf,#0cf,#0cf,#0cf,#0cf,#0cf,#0cf,#0cf,#0cf,#0bf,#0bf,#0bf,#0af,#0af,#0af,#09f,#09f,#09f,#08f,#08f,#07f,#06f,#05f,#04f,#03f,#02f,#01f,#00f,#00f,#00f,#00e,#00e,#00e,#00e,#00e,#00f,#00f,#00f,#00f,#00f,#00f,#01f,#01f,#01f,#01f,#01f,#01f,#01f,#01f,#01f,#01f,#01f,#01f,#01f,#01f,#01f,#01f,#01f,#01f,#01f,#01f,#01f,#01f,#01f)"></i><i style="background:linear-gradient(#00b,#00b,#00b,#00b,#00b,#00b,#00c,#00d,#00f,#01f,#05f,#09f,#0cf,#1fe,#4fb,#7f7,#af4,#df1,#fe0,#fc0,#fa0,#f80,#f70,#f60,#f50,#f60,#f70,#f80,#fa0,#fc0,#fe0,#df2,#af4,#8f7,#5f9,#3fc,#0ee,#0cf,#08f,#03f,#00f,#00f,#00d,#00c,#00b,#00b,#00b,#00c,#00d,#00f,#00f,#02f,#03f,#04f,#05f,#05f,#06f,#07f,#07f,#08f,#09f,#09f,#0af,#0bf,#0bf,#0bf,#0cf,#0cf,#0cf,#0cf,#0cf,#0cf,#0cf,#0bf,#0bf,#0bf,#0af,#0af,#0af,#09f,#09f,#09f,#08f,#08f,#07f,#06f,#05f,#04f,#03f,#02f,#01f,#01f,#00f,#00f,#00f,#00f,#00f,#00f,#00f,#00f,#00f,#00f,#00f,#01f,#01f,#01f,#01f,#01f,#01f,#01f,#01f,#01f,#01f,#01f,#01f,#01f,#01f,#01f,#01f,#01f,#01f,#01f,#01f,#01f,#01f,#01f,#01f,#01f)"></i><i style="background:linear-gradient(#00b,#00b,#00b,#00b,#00b,#00b,#00c,#00d,#00f,#01f,#05f,#09f,#0cf,#1fe,#4fb,#7f8,#af4,#df2,#fe0,#fc0,#fa0,#f80,#f70,#f60,#f50,#f60,#f70,#f80,#fa0,#fc0,#fe0,#df2,#bf4,#8f7,#5f9,#3fc,#1ee,#0cf,#09f,#04f,#00f,#00f,#00e,#00c,#00b,#00b,#00b,#00c,#00d,#00f,#00f,#02f,#03f,#04f,#05f,#05f,#06f,#07f,#07f,#08f,#09f,#09f,#0af,#0af,#0bf,#0bf,#0cf,#0cf,#0cf,#0cf,#0cf,#0cf,#0cf,#0bf,#0bf,#0bf,#0af,#0af,#0af,#09f,#09f,#09f,#08f,#08f,#07f,#06f,#05f,#04f,#04f,#03f,#02f,#01f,#01f,#00f,#00f,#00f,#00f,#00f,#00f,#01f,#01f,#01f,#01f,#02f,#02f,#02f,#02f,#02f,#02f,#02f,#02f,#02f,#01f,#01f,#01f,#01f,#01f,#01f,#01f,#01f,#01f,#01f,#01f,#01f,#01f,#01f,#01f,#01f)"></i><i style="background:linear-gradient(#00b,#00b,#00b,#00b,#00b,#00b,#00c,#00d,#00f,#01f,#04f,#09f,#0cf,#1ee,#4fb,#7f8,#af5,#df2,#fe0,#fc0,#fa0,#f90,#f70,#f60,#f60,#f60,#f70,#f80,#fa0,#fc0,#fe0,#df2,#bf4,#8f6,#6f9,#3fb,#1ee,#0cf,#09f,#04f,#01f,#00f,#00e,#00c,#00c,#00b,#00b,#00c,#00d,#00f,#00f,#01f,#03f,#04f,#04f,#05f,#06f,#06f,#07f,#08f,#08f,#09f,#09f,#0af,#0bf,#0bf,#0bf,#0cf,#0cf,#0cf,#0cf,#0cf,#0bf,#0bf,#0bf,#0bf,#0af,#0af,#09f,#09f,#09f,#09f,#08f,#08f,#07f,#06f,#05f,#05f,#04f,#03f,#02f,#02f,#01f,#01f,#01f,#01f,#01f,#01f,#01f,#02f,#02f,#02f,#02f,#03f,#03f,#03f,#03f,#03f,#02f,#02f,#02f,#02f,#02f,#02f,#01f,#01f,#01f,#01f,#01f,#01f,#01f,#01f,#01f,#01f,#01f,#01f,#01f,#01f)"></i><i style="background:linear-gradient(#00b,#00b,#00b,#00b,#00b,#00b,#00c,#00d,#00f,#01f,#04f,#09f,#0cf,#1ee,#3fb,#7f8,#af5,#df2,#fe0,#fc0,#fb0,#f90,#f80,#f60,#f60,#f60,#f70,#f80,#fa0,#fc0,#fe0,#df2,#bf4,#8f6,#6f9,#3fb,#1fe,#0cf,#0af,#05f,#01f,#00f,#00e,#00d,#00c,#00b,#00b,#00c,#00d,#00f,#00f,#01f,#02f,#03f,#04f,#05f,#05f,#06f,#07f,#07f,#08f,#08f,#09f,#0af,#0af,#0af,#0bf,#0bf,#0bf,#0bf,#0bf,#0bf,#0bf,#0bf,#0af,#0af,#0af,#09f,#09f,#09f,#09f,#08f,#08f,#07f,#07f,#06f,#05f,#05f,#04f,#03f,#02f,#02f,#02f,#01f,#01f,#01f,#02f,#02f,#02f,#02f,#03f,#03f,#03f,#03f,#03f,#03f,#03f,#03f,#03f,#03f,#02f,#02f,#02f,#02f,#02f,#01f,#01f,#01f,#01f,#01f,#01f,#01f,#01f,#01f,#01f,#01f,#01f,#01f)"></i><i style="background:linear-gradient(#00b,#00b,#00b,#00b,#00b,#00b,#00c,#00d,#00f,#01f,#04f,#09f,#0cf,#1ee,#3fb,#6f8,#af5,#cf2,#fe0,#fd0,#fb0,#f90,#f80,#f70,#f60,#f60,#f70,#f80,#fa0,#fc0,#fe0,#df2,#bf4,#8f6,#6f9,#3fb,#1fd,#0cf,#0af,#05f,#01f,#00f,#00e,#00d,#00c,#00b,#00b,#00c,#00d,#00f,#00f,#01f,#02f,#03f,#04f,#04f,#05f,#06f,#06f,#07f,#07f,#08f,#08f,#09f,#09f,#0af,#0af,#0af,#0bf,#0bf,#0bf,#0bf,#0af,#0af,#0af,#0af,#09f,#09f,#09f,#08f,#08f,#08f,#07f,#07f,#07f,#06f,#05f,#04f,#04f,#03f,#03f,#02f,#02f,#02f,#02f,#02f,#02f,#03f,#03f,#03f,#03f,#04f,#04f,#04f,#04f,#04f,#04f,#04f,#03f,#03f,#03f,#02f,#02f,#02f,#02f,#01f,#01f,#01f,#01f,#01f,#01f,#01f,#01f,#01f,#01f,#01f,#01f,#01f)"></i><i style="background:linear-gradient(#00b,#00b,#00b,#00b,#00b,#00b,#00c,#00d,#00e,#01f,#04f,#08f,#0cf,#0ee,#3fb,#6f8,#9f5,#cf2,#ef0,#fd0,#fb0,#f90,#f80,#f70,#f60,#f60,#f70,#f80,#fa0,#fc0,#fe0,#df2,#bf4,#8f6,#6f9,#4fb,#1fd,#0df,#0af,#06f,#02f,#00f,#00e,#00d,#00c,#00b,#00c,#00c,#00d,#00f,#00f,#01f,#02f,#03f,#04f,#04f,#05f,#05f,#06f,#06f,#07f,#07f,#08f,#08f,#09f,#09f,#09f,#0af,#0af,#0af,#0af,#0af,#0af,#09f,#09f,#09f,#09f,#08f,#08f,#08f,#08f,#07f,#07f,#07f,#06f,#06f,#05f,#04f,#04f,#03f,#03f,#02f,#02f,#02f,#02f,#02f,#03f,#03f,#03f,#04f,#04f,#04f,#04f,#04f,#04f,#04f,#04f,#04f,#03f,#03f,#03f,#02f,#02f,#02f,#02f,#02f,#01f,#01f,#01f,#01f,#01f,#01f,#01f,#01f,#01f,#01f,#01f,#01f)"></i><i style="background:linear-gradient(#00b,#00b,#00b,#00b,#00b,#00b,#00c,#00c,#00e,#01f,#04f,#08f,#0bf,#0ee,#3fb,#6f8,#9f5,#cf2,#ef0,#fd0,#fb0,#fa0,#f80,#f70,#f70,#f60,#f70,#f80,#fa0,#fc0,#fe0,#df2,#bf4,#8f6,#6f8,#4fb,#2fd,#0df,#0af,#06f,#02f,#00f,#00e,#00d,#00c,#00c,#00c,#00c,#00d,#00f,#00f,#01f,#02f,#03f,#03f,#04f,#04f,#05f,#05f,#06f,#06f,#07f,#07f,#07f,#08f,#08f,#08f,#09f,#09f,#09f,#09f,#09f,#09f,#09f,#08f,#08f,#08f,#08f,#07f,#07f,#07f,#07f,#07f,#06f,#06f,#05f,#05f,#04f,#04f,#03f,#03f,#02f,#02f,#02f,#02f,#02f,#03f,#03f,#03f,#03f,#04f,#04f,#04f,#04f,#04f,#04f,#04f,#04f,#03f,#03f,#03f,#02f,#02f,#02f,#02f,#01f,#01f,#01f,#01f,#01f,#01f,#01f,#01f,#01f,#01f,#01f,#01f,#01f)"></i><i style="background:linear-gradient(#00b,#00b,#00b,#00b,#00b,#00b,#00c,#00c,#00e,#01f,#04f,#08f,#0bf,#0ee,#3fc,#6f9,#9f5,#cf3,#ef0,#fd0,#fb0,#fa0,#f90,#f70,#f70,#f60,#f70,#f80,#fa0,#fc0,#fe0,#df2,#bf4,#9f6,#6f8,#4fb,#2fd,#0df,#0bf,#06f,#02f,#00f,#00e,#00d,#00c,#00c,#00c,#00c,#00d,#00f,#00f,#01f,#02f,#02f,#03f,#03f,#04f,#04f,#05f,#05f,#06f,#06f,#06f,#07f,#07f,#07f,#08f,#08f,#08f,#08f,#08f,#08f,#08f,#08f,#07f,#07f,#07f,#07f,#07f,#06f,#06f,#06f,#06f,#06f,#05f,#05f,#04f,#04f,#03f,#03f,#02f,#02f,#02f,#02f,#02f,#02f,#02f,#03f,#03f,#03f,#03f,#04f,#04f,#04f,#04f,#04f,#03f,#03f,#03f,#03f,#02f,#02f,#02f,#02f,#02f,#01f,#01f,#01f,#01f,#01f,#01f,#01f,#01f,#01f,#01f,#01f,#01f,#01f)"></i><i style="background:linear-gradient(#00b,#00b,#00b,#00b,#00b,#00b,#00c,#00c,#00e,#01f,#04f,#08f,#0bf,#0ee,#3fc,#6f9,#9f6,#cf3,#ef0,#fd0,#fc0,#fa0,#f90,#f80,#f70,#f60,#f70,#f80,#fa0,#fc0,#fe0,#df2,#bf4,#9f6,#6f8,#4fb,#2fd,#0df,#0bf,#07f,#02f,#00f,#00e,#00d,#00c,#00c,#00c,#00c,#00d,#00f,#00f,#01f,#02f,#02f,#03f,#03f,#04f,#04f,#04f,#05f,#05f,#05f,#06f,#06f,#06f,#07f,#07f,#07f,#07f,#07f,#07f,#07f,#07f,#07f,#07f,#06f,#06f,#06f,#06f,#06f,#06f,#06f,#05f,#05f,#05f,#05f,#04f,#04f,#03f,#03f,#02f,#02f,#02f,#02f,#02f,#02f,#02f,#02f,#02f,#03f,#03f,#03f,#03f,#03f,#03f,#03f,#03f,#03f,#03f,#02f,#02f,#02f,#02f,#02f,#01f,#01f,#01f,#01f,#01f,#01f,#01f,#01f,#01f,#01f,#01f,#01f,#01f,#01f)"></i><i style="background:linear-gradient(#00b,#00b,#00b,#00b,#00b,#00b,#00c,#00c,#00e,#01f,#04f,#08f,#0bf,#0ee,#3fc,#6f9,#9f6,#cf3,#ef0,#fd0,#fc0,#fa0,#f90,#f80,#f70,#f60,#f70,#f80,#fa0,#fc0,#fe0,#df2,#bf4,#9f6,#6f8,#4fb,#2fd,#0df,#0bf,#07f,#02f,#00f,#00e,#00d,#00c,#00c,#00c,#00c,#00d,#00f,#00f,#01f,#02f,#02f,#03f,#03f,#04f,#04f,#04f,#05f,#05f,#05f,#06f,#06f,#06f,#07f,#07f,#07f,#07f,#07f,#07f,#07f,#07f,#07f,#07f,#06f,#06f,#06f,#06f,#06f,#06f,#06f,#05f,#05f,#05f,#05f,#04f,#04f,#03f,#03f,#02f,#02f,#02f,#02f,#02f,#02f,#02f,#02f,#02f,#03f,#03f,#03f,#03f,#03f,#03f,#03f,#03f,#03f,#03f,#02f,#02f,#02f,#02f,#02f,#01f,#01f,#01f,#01f,#01f,#01f,#01f,#01f,#01f,#01f,#01f,#01f,#01f,#01f)"></i></div></div><div class="hm" style="left:1420.0px;top:970.5px;width:633.5px;height:634.0px"><div class="hi" style="left:-10px;top:-10px;width:653.5px;height:654.0px;filter:blur(1.8px)"><i style="background:linear-gradient(#fc0,#fc0,#fc0,#fc0,#8f6,#2fd,#1fd,#3fc,#4fa,#4fa,#5fa,#5fa,#4fa,#4fb,#3fb,#3fc,#3fc,#3fc,#2fc,#2fd,#1fe,#0df,#0bf,#0bf,#0df,#2fc,#5fa,#7f8,#8f6,#af5,#bf3,#cf2,#cf2,#bf3,#8f6,#6f9,#5f9,#5fa,#5f9,#6f8,#7f8,#7f7,#7f8,#7f8,#6f8,#5f9,#5fa,#5fa,#5fa,#5f9,#5f9,#5fa,#4fb,#4fb,#4fa,#5fa,#6f9,#6f9,#6f8,#7f8,#8f7,#8f7,#7f7,#8f7,#8f6,#8f6,#8f7,#7f8,#5f9,#4fa,#4fa,#5f9,#6f8,#7f7,#7f8,#5f9,#3fb,#2fd,#1fe,#1fd,#3fc,#4fb,#5fa,#5f9,#5f9,#5fa,#4fb,#2fc,#1fd,#1fd,#1fd,#3fc,#3fb,#4fb,#5fa,#5f9,#6f9,#6f9,#6f9,#5f9,#5f9,#5f9,#5f9,#5f9,#5f9,#4fb,#4fb,#4fa,#5fa,#5fa,#5f9,#6f9,#6f9,#6f8,#7f8,#7f7,#7f7,#7f8,#6f9,#5f9,#5fa,#4fa,#4fb,#3fb,#3fc,#3fc,#3fc,#3fb,#4fb,#5fa,#5f9,#6f9,#7f8,#7f7,#8f7,#8f6,#9f6,#9f6,#8f6,#7f7,#6f8,#6f9,#5f9,#5fa,#4fa,#4fb,#3fb,#3fb,#4fb,#4fb,#4fa,#4fa,#5fa,#5f9,#5f9,#5f9,#5fa,#5fa,#4fa,#4fb,#4fb,#3fb,#3fb,#3fb,#3fb,#4fb,#4fa,#5fa,#4fa,#3fc,#2fd,#3fb,#5f9,#6f9,#6f9,#0cf,#07f,#07f,#07f,#07f)"></i><i style="background:linear-gradient(#fc0,#fc0,#fc0,#fc0,#8f6,#2fd,#1fd,#3fc,#4fa,#4fa,#5fa,#5fa,#4fa,#4fb,#3fb,#3fc,#3fc,#3fc,#2fc,#2fd,#1fe,#0df,#0bf,#0bf,#0df,#2fc,#5fa,#7f8,#8f6,#af5,#bf3,#cf2,#cf2,#bf3,#8f6,#6f9,#5f9,#5fa,#5f9,#6f8,#7f8,#7f7,#7f8,#7f8,#6f8,#5f9,#5fa,#5fa,#5fa,#5f9,#5f9,#5fa,#4fb,#4fb,#4fa,#5fa,#6f9,#6f9,#6f8,#7f8,#8f7,#8f7,#7f7,#8f7,#8f6,#8f6,#8f7,#7f8,#5f9,#4fa,#4fa,#5f9,#6f8,#7f7,#7f8,#5f9,#3fb,#2fd,#1fe,#1fd,#3fc,#4fb,#5fa,#5f9,#5f9,#5fa,#4fb,#2fc,#1fd,#1fd,#1fd,#3fc,#3fb,#4fb,#5fa,#5f9,#6f9,#6f9,#6f9,#5f9,#5f9,#5f9,#5f9,#5f9,#5f9,#4fb,#4fb,#4fa,#5fa,#5fa,#5f9,#6f9,#6f9,#6f8,#7f8,#7f7,#7f7,#7f8,#6f9,#5f9,#5fa,#4fa,#4fb,#3fb,#3fc,#3fc,#3fc,#3fb,#4fb,#5fa,#5f9,#6f9,#7f8,#7f7,#8f7,#8f6,#9f6,#9f6,#8f6,#7f7,#6f8,#6f9,#5f9,#5fa,#4fa,#4fb,#3fb,#3fb,#4fb,#4fb,#4fa,#4fa,#5fa,#5f9,#5f9,#5f9,#5fa,#5fa,#4fa,#4fb,#4fb,#3fb,#3fb,#3fb,#3fb,#4fb,#4fa,#5fa,#4fa,#3fc,#2fd,#3fb,#5f9,#6f9,#6f9,#0cf,#07f,#07f,#07f,#07f)"></i><i style="background:linear-gradient(#fc0,#fc0,#fc0,#fc0,#8f6,#1fd,#1fd,#3fc,#4fa,#4fa,#5fa,#5fa,#4fa,#4fb,#3fb,#3fc,#3fc,#3fc,#2fc,#2fc,#1fd,#0df,#0bf,#0bf,#0cf,#2fd,#5fa,#7f8,#8f6,#af5,#bf3,#cf2,#cf2,#bf3,#8f6,#6f8,#5f9,#5fa,#5f9,#6f8,#7f8,#7f7,#7f8,#7f8,#6f8,#6f9,#5fa,#5fa,#5fa,#5f9,#5f9,#5fa,#4fa,#4fb,#4fa,#5fa,#5f9,#6f9,#6f8,#6f8,#8f7,#8f7,#7f7,#8f7,#8f6,#8f6,#8f7,#7f8,#5f9,#4fa,#4fa,#5f9,#6f8,#7f7,#7f8,#5f9,#3fb,#2fd,#1fd,#1fd,#3fc,#4fb,#5fa,#5f9,#5f9,#5fa,#4fb,#2fc,#1fd,#1fd,#1fd,#3fc,#4fb,#4fb,#5fa,#5f9,#6f9,#6f9,#6f9,#5f9,#5f9,#5f9,#5f9,#5f9,#5f9,#4fb,#4fb,#4fa,#5fa,#5fa,#5f9,#5f9,#6f9,#6f8,#7f8,#7f7,#7f7,#7f8,#6f9,#5f9,#5fa,#4fa,#4fb,#3fc,#3fc,#3fc,#3fc,#3fb,#4fb,#4fa,#5f9,#6f9,#7f8,#7f7,#8f7,#8f6,#9f6,#9f6,#8f6,#7f7,#6f8,#6f9,#5f9,#5fa,#4fa,#4fb,#3fb,#3fb,#4fb,#4fb,#4fa,#5fa,#5fa,#5f9,#5f9,#5f9,#5fa,#5fa,#4fa,#4fb,#4fb,#3fb,#3fb,#3fb,#3fb,#4fb,#4fa,#5fa,#5fa,#3fc,#2fd,#3fb,#5f9,#6f9,#6f9,#0cf,#07f,#07f,#07f,#07f)"></i><i style="background:linear-gradient(#fc0,#fc0,#fc0,#fc0,#8f6,#1fd,#1fd,#3fc,#4fb,#4fa,#5fa,#5f9,#5fa,#4fa,#4fb,#3fb,#3fb,#3fb,#4fb,#4fa,#4fb,#1fe,#0af,#07f,#07f,#0bf,#2fd,#5f9,#8f7,#9f6,#af4,#bf3,#cf3,#bf4,#8f7,#6f9,#5fa,#5fa,#5f9,#6f8,#7f8,#7f7,#7f7,#7f7,#7f8,#6f9,#5fa,#4fa,#4fa,#5fa,#5fa,#5fa,#4fa,#4fb,#4fa,#4fa,#5fa,#5fa,#5fa,#5f9,#7f8,#7f8,#7f8,#7f7,#8f7,#8f7,#7f7,#6f8,#5f9,#5fa,#5fa,#5f9,#6f8,#7f8,#7f8,#5f9,#4fb,#2fc,#2fd,#2fc,#3fc,#4fb,#5fa,#5f9,#6f9,#5f9,#4fa,#3fb,#3fc,#3fc,#3fc,#4fb,#4fa,#4fa,#5fa,#5f9,#6f9,#6f9,#6f9,#6f9,#6f9,#6f9,#6f9,#6f9,#6f9,#4fa,#4fa,#4fa,#4fa,#5fa,#5fa,#5f9,#5f9,#6f9,#6f8,#7f8,#7f8,#6f8,#6f9,#5f9,#5fa,#4fb,#3fb,#2fc,#2fd,#1fe,#0ee,#0ee,#1fe,#2fd,#3fb,#4fa,#5f9,#6f9,#6f8,#7f8,#7f7,#7f7,#7f7,#7f8,#6f8,#6f9,#5f9,#5fa,#4fa,#4fb,#4fb,#4fb,#4fb,#4fa,#5fa,#5f9,#6f8,#7f8,#7f8,#7f8,#6f8,#6f8,#6f9,#5fa,#4fa,#4fa,#4fa,#4fa,#4fa,#4fa,#5fa,#5f9,#5fa,#4fb,#3fc,#5fa,#7f8,#7f7,#7f8,#0df,#07f,#07f,#07f,#07f)"></i><i style="background:linear-gradient(#fc0,#fc0,#fc0,#fc0,#8f6,#1fd,#1fe,#2fc,#4fb,#5fa,#5f9,#6f9,#6f9,#5fa,#4fa,#4fb,#4fb,#4fb,#5f9,#8f7,#9f6,#5fa,#0df,#0af,#0af,#0df,#3fc,#5f9,#6f8,#6f8,#6f9,#6f8,#7f7,#8f6,#6f9,#5fa,#4fa,#4fa,#5fa,#5f9,#6f8,#7f8,#7f7,#8f7,#7f7,#6f8,#5fa,#4fb,#4fb,#4fb,#4fa,#5fa,#5fa,#4fa,#4fa,#4fb,#4fb,#4fb,#4fb,#4fb,#5f9,#5f9,#5f9,#6f9,#6f8,#6f8,#6f9,#5f9,#5fa,#4fa,#5fa,#6f9,#6f8,#7f8,#7f8,#6f8,#5fa,#4fb,#3fc,#3fc,#3fb,#4fb,#5fa,#5f9,#6f9,#6f9,#5f9,#5fa,#5fa,#5fa,#5fa,#5f9,#5f9,#5f9,#5f9,#5f9,#6f9,#6f9,#6f9,#6f9,#6f8,#6f8,#6f8,#6f8,#6f8,#5f9,#5f9,#5f9,#5f9,#5fa,#5fa,#5fa,#5fa,#5f9,#6f9,#6f8,#6f8,#6f8,#6f9,#5f9,#5fa,#4fa,#4fb,#3fc,#1fd,#0ee,#0df,#0cf,#0df,#1ee,#2fc,#3fb,#4fa,#5fa,#5f9,#6f9,#6f8,#7f8,#7f8,#6f8,#6f8,#6f8,#6f9,#5f9,#5fa,#4fa,#4fa,#4fa,#4fa,#5fa,#5f9,#6f9,#7f8,#7f7,#8f7,#8f7,#7f7,#7f8,#6f9,#5f9,#4fa,#4fa,#4fa,#4fa,#4fa,#4fa,#4fa,#4fa,#4fb,#3fc,#2fc,#5fa,#7f8,#7f7,#6f8,#0cf,#07f,#07f,#07f,#07f)"></i><i style="background:linear-gradient(#fc0,#fc0,#fc0,#fc0,#9f6,#2fd,#2fd,#3fc,#4fa,#5f9,#6f9,#6f8,#6f9,#5fa,#4fa,#4fa,#4fb,#5fa,#7f7,#bf4,#cf2,#9f6,#5fa,#3fc,#3fb,#4fa,#5f9,#6f9,#5f9,#4fa,#2fc,#3fc,#6f9,#7f7,#5f9,#4fa,#4fa,#4fb,#4fb,#5fa,#5f9,#6f8,#7f8,#7f7,#7f7,#6f8,#5f9,#4fa,#4fb,#4fb,#4fa,#5fa,#5fa,#5fa,#5fa,#4fa,#4fb,#4fb,#4fb,#4fb,#5fa,#5fa,#4fa,#4fa,#5fa,#5fa,#5fa,#4fa,#4fb,#3fb,#4fb,#5f9,#6f8,#7f7,#7f7,#7f8,#6f9,#5fa,#4fb,#3fb,#4fb,#4fb,#4fa,#5fa,#5f9,#6f9,#5f9,#5f9,#6f9,#6f9,#6f8,#6f9,#6f9,#6f9,#6f9,#6f9,#6f9,#6f9,#6f8,#6f8,#7f8,#7f8,#7f8,#6f8,#6f8,#6f9,#6f9,#5f9,#5fa,#4fa,#4fa,#4fb,#4fb,#4fa,#4fa,#5fa,#5f9,#6f9,#5f9,#5f9,#5f9,#5fa,#5fa,#4fb,#3fc,#2fd,#1fd,#1fe,#1fd,#2fc,#3fb,#4fb,#5fa,#5fa,#5f9,#5f9,#6f9,#6f8,#6f8,#6f8,#6f8,#6f9,#6f9,#5f9,#5fa,#4fa,#4fb,#4fb,#4fb,#4fa,#5fa,#6f9,#7f8,#7f7,#8f7,#8f7,#7f7,#7f8,#6f9,#4fa,#4fb,#3fb,#4fb,#4fb,#3fb,#3fb,#3fc,#3fc,#3fc,#2fd,#1fd,#4fb,#6f9,#6f9,#4fa,#0bf,#07f,#07f,#07f,#07f)"></i><i style="background:linear-gradient(#fc0,#fc0,#fc0,#fc0,#9f5,#3fb,#2fc,#3fb,#5fa,#6f9,#6f8,#6f8,#4fb,#1fd,#2fd,#3fc,#4fb,#5fa,#8f7,#cf3,#df1,#bf4,#8f7,#7f8,#6f8,#6f9,#6f9,#5f9,#4fa,#2fd,#0cf,#0df,#4fb,#7f8,#5f9,#4fa,#4fb,#3fb,#3fb,#3fb,#4fa,#5fa,#5f9,#6f9,#6f8,#6f8,#6f9,#5f9,#5f9,#5fa,#5f9,#5f9,#6f9,#6f9,#5f9,#5fa,#5fa,#5fa,#5fa,#5fa,#5f9,#5fa,#4fb,#4fb,#4fb,#4fb,#4fb,#3fb,#3fc,#3fc,#3fb,#4fa,#6f9,#7f8,#7f7,#7f8,#6f9,#5fa,#4fa,#4fb,#4fb,#4fb,#4fa,#5fa,#5fa,#5fa,#5fa,#5f9,#5f9,#6f9,#6f9,#6f9,#6f9,#5f9,#5f9,#5f9,#5f9,#6f9,#6f8,#7f8,#7f8,#7f8,#6f8,#6f9,#5f9,#5fa,#5fa,#4fa,#4fb,#3fc,#2fc,#2fc,#2fc,#2fc,#3fc,#3fb,#4fb,#4fa,#4fa,#5fa,#5fa,#5fa,#5fa,#4fa,#4fb,#3fb,#3fc,#3fc,#3fb,#4fb,#4fa,#4fa,#5fa,#5fa,#5f9,#5f9,#6f9,#6f9,#6f8,#6f9,#6f9,#5f9,#5fa,#4fa,#4fa,#4fb,#3fb,#3fb,#3fb,#4fb,#4fa,#5f9,#6f8,#7f7,#8f7,#8f7,#7f7,#6f8,#5fa,#4fb,#3fc,#3fc,#3fc,#3fc,#3fc,#2fc,#2fd,#2fd,#2fd,#1fd,#1fd,#3fb,#5f9,#5fa,#2fc,#0af,#07f,#07f,#07f,#07f)"></i><i style="background:linear-gradient(#fc0,#fc0,#fc0,#fc0,#9f5,#4fb,#3fb,#4fb,#5f9,#6f9,#6f8,#5f9,#1fd,#0bf,#0cf,#1fe,#2fc,#4fb,#7f8,#bf4,#cf2,#cf3,#bf4,#9f5,#8f7,#7f8,#6f9,#5fa,#3fb,#0df,#08f,#09f,#1fd,#5fa,#3fb,#3fb,#3fc,#2fc,#2fd,#2fd,#2fc,#3fb,#4fb,#5fa,#6f9,#6f8,#7f8,#7f7,#7f8,#6f8,#6f8,#6f8,#6f8,#6f9,#6f9,#6f9,#6f9,#6f9,#6f8,#6f8,#7f8,#6f9,#4fa,#4fa,#4fb,#4fa,#4fb,#4fb,#3fb,#3fc,#3fb,#4fb,#5fa,#6f9,#6f8,#6f8,#5f9,#5fa,#4fa,#4fb,#4fb,#4fa,#4fa,#5fa,#5fa,#5fa,#5fa,#5fa,#5fa,#5fa,#5fa,#5fa,#5fa,#5fa,#5fa,#5fa,#5fa,#5f9,#6f9,#6f8,#6f8,#6f9,#5fa,#4fa,#4fb,#3fb,#3fc,#2fc,#1fd,#1ee,#0df,#0df,#0df,#0df,#0ee,#1fe,#2fd,#2fc,#3fc,#3fb,#4fb,#4fa,#4fa,#4fb,#3fb,#3fc,#3fc,#3fc,#3fc,#3fb,#4fb,#4fb,#4fb,#4fa,#4fa,#5fa,#5f9,#6f9,#6f9,#5f9,#5f9,#5fa,#4fa,#4fa,#4fb,#3fb,#3fb,#3fc,#3fc,#3fb,#4fb,#5fa,#6f9,#7f7,#8f7,#8f6,#8f7,#7f8,#5fa,#3fb,#2fc,#2fc,#2fc,#3fc,#2fc,#2fd,#2fd,#2fd,#2fd,#2fd,#2fd,#4fa,#6f8,#5fa,#2fc,#0af,#07f,#07f,#07f,#07f)"></i><i style="background:linear-gradient(#fc0,#fc0,#fc0,#fc0,#af5,#4fa,#3fb,#4fa,#5f9,#6f9,#6f8,#5f9,#1fd,#0cf,#0df,#1fd,#2fd,#3fc,#5fa,#8f6,#bf4,#cf2,#df2,#bf3,#af5,#8f6,#7f8,#5f9,#3fb,#0cf,#05f,#05f,#0bf,#0ee,#0df,#1fe,#2fd,#2fd,#1fd,#1fe,#1fd,#2fc,#3fb,#4fa,#6f9,#7f7,#8f6,#8f6,#7f7,#7f8,#6f8,#6f8,#6f8,#6f8,#6f9,#6f9,#6f9,#6f8,#7f8,#7f7,#8f7,#7f8,#5f9,#5f9,#5f9,#5f9,#5f9,#5f9,#5fa,#4fa,#4fb,#4fb,#4fa,#5fa,#5f9,#5f9,#5fa,#4fa,#4fa,#4fa,#4fa,#5fa,#5fa,#5f9,#6f9,#5f9,#5f9,#5fa,#4fa,#4fb,#4fb,#4fa,#4fa,#4fa,#4fb,#4fb,#4fa,#5fa,#5f9,#5fa,#4fa,#4fb,#3fc,#2fc,#2fd,#1fd,#1ee,#0df,#0cf,#0bf,#0bf,#0af,#0bf,#0bf,#0cf,#0df,#1fe,#2fd,#3fc,#3fb,#4fb,#4fa,#4fa,#4fb,#3fb,#3fc,#3fc,#3fc,#3fb,#3fb,#4fb,#4fb,#4fb,#4fa,#4fa,#5fa,#5fa,#5f9,#5f9,#5f9,#5fa,#4fa,#4fb,#4fb,#3fb,#3fc,#3fc,#2fc,#2fc,#3fc,#3fb,#5fa,#6f9,#7f7,#8f6,#9f6,#8f6,#7f7,#5f9,#4fb,#3fc,#3fc,#3fb,#3fb,#3fb,#3fc,#2fc,#2fc,#3fc,#3fc,#3fc,#5f9,#7f8,#5fa,#2fd,#0af,#07f,#07f,#07f,#07f)"></i><i style="background:linear-gradient(#fc0,#fc0,#fc0,#fc0,#af5,#4fa,#3fb,#4fa,#6f9,#6f8,#7f8,#6f8,#4fb,#2fc,#4fb,#3fb,#2fc,#2fd,#3fc,#6f9,#9f5,#cf2,#df1,#cf2,#bf3,#9f5,#7f7,#6f9,#3fb,#0bf,#03f,#04f,#09f,#08f,#08f,#0cf,#1fd,#2fd,#2fd,#1fd,#2fd,#2fc,#3fb,#5fa,#7f8,#8f6,#9f6,#7f7,#5fa,#4fb,#4fa,#6f9,#6f8,#6f9,#6f9,#6f9,#6f9,#6f8,#7f8,#7f7,#8f7,#7f7,#6f8,#6f9,#6f8,#7f8,#7f8,#7f8,#7f8,#6f9,#5fa,#4fb,#4fb,#4fa,#5fa,#5fa,#5fa,#5fa,#4fa,#4fa,#5fa,#5fa,#5f9,#6f9,#6f8,#6f8,#6f9,#5fa,#4fb,#3fb,#3fb,#4fb,#4fa,#4fa,#4fb,#4fb,#4fb,#4fb,#4fb,#3fb,#2fc,#1fd,#1ee,#0ee,#0ef,#0ee,#0df,#0df,#0cf,#0bf,#0af,#0af,#0af,#0bf,#0cf,#0df,#1fd,#2fc,#3fb,#4fa,#5fa,#5f9,#5f9,#5fa,#4fa,#4fb,#3fb,#3fb,#3fb,#4fb,#4fb,#4fb,#4fa,#4fa,#4fa,#4fa,#4fa,#5fa,#5f9,#5fa,#5fa,#4fa,#3fb,#3fc,#3fc,#2fc,#2fd,#2fd,#2fd,#2fc,#3fb,#4fa,#6f9,#7f7,#8f6,#9f5,#9f6,#8f7,#6f8,#5fa,#5fa,#5fa,#5f9,#5f9,#5fa,#5fa,#4fa,#4fb,#4fa,#4fb,#4fb,#6f9,#7f7,#5f9,#2fc,#0af,#07f,#07f,#07f,#07f)"></i><i style="background:linear-gradient(#fc0,#fc0,#fc0,#fc0,#9f5,#3fb,#3fc,#4fa,#6f9,#7f8,#7f7,#7f7,#6f8,#6f9,#7f8,#6f9,#3fb,#1fd,#1fd,#3fc,#6f8,#af4,#cf2,#df2,#cf2,#af4,#8f6,#7f8,#4fa,#0cf,#04f,#05f,#08f,#07f,#07f,#0bf,#2fd,#3fc,#3fb,#3fb,#3fb,#3fb,#4fa,#5f9,#7f8,#8f6,#8f7,#5fa,#0ee,#0cf,#1fd,#5fa,#6f9,#6f9,#6f9,#6f9,#6f9,#6f8,#6f8,#7f8,#8f7,#7f7,#6f8,#6f8,#6f8,#7f8,#7f7,#8f7,#7f7,#6f9,#5fa,#4fb,#4fb,#4fb,#4fa,#5fa,#5fa,#5fa,#4fa,#4fa,#4fa,#5fa,#6f9,#6f8,#6f8,#6f8,#5f9,#4fa,#4fb,#3fb,#3fb,#4fa,#5fa,#5fa,#5fa,#4fa,#4fb,#3fb,#2fc,#1fd,#0df,#0cf,#0bf,#0bf,#0cf,#0df,#0ee,#0ee,#0df,#0df,#0df,#0df,#0df,#0df,#0ee,#1fe,#2fd,#3fb,#4fa,#5fa,#5f9,#6f9,#6f9,#5f9,#5fa,#4fb,#3fb,#3fb,#3fb,#4fb,#4fb,#4fb,#4fa,#4fb,#4fb,#4fb,#4fb,#4fa,#5fa,#5fa,#4fa,#4fb,#3fb,#2fc,#2fc,#2fd,#2fd,#2fd,#2fd,#2fc,#3fb,#4fa,#6f8,#8f7,#9f6,#9f5,#9f6,#8f6,#7f7,#6f8,#6f8,#6f8,#7f8,#7f8,#7f8,#6f8,#6f9,#6f9,#5f9,#5fa,#5fa,#7f8,#8f6,#6f8,#3fb,#0af,#07f,#07f,#07f,#07f)"></i><i style="background:linear-gradient(#fc0,#fc0,#fc0,#fc0,#9f6,#2fd,#1fd,#3fb,#6f9,#7f8,#7f7,#7f7,#7f7,#7f7,#8f6,#7f7,#4fb,#1ee,#0bf,#0cf,#3fc,#7f7,#bf3,#df1,#df2,#af4,#9f6,#7f7,#5f9,#1ee,#07f,#07f,#0af,#0bf,#0bf,#0df,#3fc,#4fa,#5fa,#5fa,#5fa,#4fa,#4fa,#5fa,#6f9,#7f7,#7f8,#5fa,#1fe,#0df,#2fc,#5fa,#6f9,#6f9,#6f9,#6f9,#6f9,#6f8,#6f8,#6f8,#7f7,#7f8,#6f9,#6f9,#6f9,#6f8,#7f8,#7f8,#6f8,#5f9,#5fa,#4fa,#4fb,#4fb,#4fa,#4fa,#4fa,#4fb,#4fb,#3fb,#4fb,#5fa,#6f9,#6f8,#6f8,#6f9,#5fa,#4fb,#4fb,#3fb,#4fb,#5fa,#5f9,#6f9,#6f9,#6f9,#5fa,#3fb,#2fd,#0df,#0bf,#09f,#08f,#09f,#0af,#0cf,#0df,#1ee,#1fd,#2fd,#2fc,#2fc,#3fc,#2fc,#2fc,#3fc,#3fb,#4fa,#5f9,#6f9,#6f8,#7f8,#7f8,#7f8,#6f8,#6f9,#5fa,#5fa,#5fa,#5fa,#5f9,#5f9,#5f9,#5fa,#5fa,#4fa,#5fa,#5fa,#5f9,#5f9,#5fa,#4fb,#3fc,#2fc,#2fd,#2fd,#2fd,#2fd,#2fd,#2fc,#3fc,#4fa,#6f9,#7f7,#8f6,#9f6,#9f6,#8f7,#7f8,#6f9,#6f9,#6f9,#6f9,#6f8,#6f8,#6f9,#6f9,#5f9,#5f9,#4fa,#4fa,#6f8,#8f7,#6f8,#4fb,#0bf,#07f,#07f,#07f,#07f)"></i><i style="background:linear-gradient(#fc0,#fc0,#fc0,#fc0,#8f6,#0ee,#0ee,#2fc,#5fa,#6f8,#7f7,#7f7,#7f7,#8f7,#9f6,#8f7,#4fa,#0cf,#06f,#05f,#0bf,#4fa,#9f5,#bf3,#bf4,#9f5,#9f6,#8f6,#7f7,#3fb,#0cf,#0bf,#0df,#1fd,#1ee,#2fd,#4fb,#5fa,#6f9,#6f9,#5f9,#5fa,#4fb,#4fb,#4fa,#5f9,#6f9,#6f9,#5fa,#4fa,#5f9,#6f8,#7f8,#6f8,#6f9,#5f9,#5f9,#6f9,#6f9,#6f8,#7f8,#6f8,#5fa,#5fa,#5fa,#5f9,#5f9,#5f9,#5f9,#5fa,#4fa,#4fa,#4fa,#4fa,#4fb,#4fb,#4fb,#3fb,#3fc,#3fc,#3fb,#4fa,#6f9,#6f8,#6f8,#5f9,#5fa,#4fa,#4fa,#5fa,#5f9,#6f8,#7f8,#7f7,#7f7,#7f7,#6f8,#5fa,#3fc,#0ee,#0bf,#08f,#07f,#07f,#08f,#0bf,#0df,#0ee,#1fd,#2fd,#3fc,#4fb,#4fa,#5fa,#4fa,#4fa,#5fa,#5f9,#6f9,#6f8,#7f8,#7f7,#7f7,#7f7,#7f7,#7f8,#6f9,#5f9,#5f9,#6f9,#6f9,#6f9,#6f9,#5f9,#5fa,#5fa,#5fa,#5f9,#6f9,#5f9,#5fa,#3fb,#2fc,#2fd,#2fd,#2fd,#2fd,#2fd,#2fd,#2fd,#3fc,#4fb,#5f9,#7f8,#8f7,#8f6,#8f6,#8f7,#6f8,#5f9,#5fa,#4fa,#4fa,#4fa,#4fa,#4fa,#4fa,#4fa,#4fa,#4fb,#3fb,#5f9,#7f7,#6f8,#4fa,#0bf,#07f,#07f,#07f,#07f)"></i><i style="background:linear-gradient(#fc0,#fc0,#fc0,#fc0,#8f7,#0df,#0cf,#1fd,#4fb,#6f9,#7f8,#7f7,#7f7,#8f6,#9f5,#8f6,#4fa,#0bf,#04f,#03f,#08f,#2fd,#6f9,#7f7,#8f7,#8f7,#9f6,#9f5,#9f6,#6f9,#2fc,#1fd,#3fc,#4fb,#2fc,#2fc,#4fb,#5fa,#6f9,#6f9,#5f9,#4fa,#3fb,#3fc,#3fb,#4fb,#4fa,#5fa,#5f9,#6f9,#6f8,#7f8,#7f8,#6f9,#5f9,#4fa,#4fa,#5fa,#6f9,#6f9,#7f8,#6f9,#5fa,#4fa,#4fa,#4fa,#4fa,#4fa,#4fa,#5fa,#5fa,#5fa,#5fa,#4fa,#4fa,#4fb,#4fb,#3fb,#3fb,#3fc,#3fb,#4fa,#5f9,#6f8,#6f8,#6f9,#6f9,#6f9,#6f9,#7f8,#7f7,#8f6,#9f6,#9f6,#9f6,#9f6,#8f6,#7f7,#5f9,#3fc,#0df,#0af,#07f,#07f,#08f,#0af,#0df,#1ee,#2fd,#3fc,#4fb,#6f9,#8f7,#8f7,#7f7,#6f8,#6f9,#6f9,#6f8,#6f8,#7f8,#7f7,#7f7,#7f7,#7f8,#6f9,#5f9,#5fa,#4fa,#5fa,#5fa,#5fa,#4fa,#4fb,#4fb,#4fb,#4fa,#5fa,#5f9,#5f9,#4fa,#3fb,#3fc,#2fd,#2fd,#2fd,#2fd,#2fd,#2fd,#2fd,#3fc,#4fb,#5fa,#6f8,#7f7,#8f7,#8f7,#7f7,#6f8,#5f9,#5fa,#4fb,#3fb,#3fb,#3fb,#3fb,#4fb,#4fb,#4fb,#3fc,#3fc,#5fa,#6f8,#6f9,#4fa,#0bf,#07f,#07f,#07f,#07f)"></i><i style="background:linear-gradient(#fc0,#fc0,#fc0,#fc0,#7f7,#0cf,#0cf,#1fd,#4fb,#6f9,#8f6,#9f5,#9f6,#9f6,#af5,#9f6,#6f9,#1fe,#09f,#08f,#0bf,#1fd,#2fc,#3fc,#4fa,#7f8,#9f5,#af5,#9f5,#7f7,#5fa,#4fb,#5fa,#6f9,#4fb,#3fb,#4fa,#5fa,#5f9,#5f9,#5fa,#4fb,#3fb,#3fc,#3fc,#3fc,#3fb,#4fb,#4fa,#5fa,#5f9,#6f9,#6f9,#5f9,#5fa,#4fb,#4fb,#4fa,#5f9,#6f9,#7f8,#6f8,#5fa,#4fa,#4fb,#4fb,#4fb,#4fb,#4fa,#5fa,#5f9,#6f9,#5f9,#5f9,#5fa,#5fa,#4fa,#4fa,#4fb,#4fb,#4fa,#4fa,#5f9,#6f9,#6f8,#6f8,#7f8,#7f8,#7f7,#8f7,#9f6,#9f5,#af5,#af5,#af4,#af5,#af5,#9f6,#8f7,#5f9,#2fc,#0cf,#09f,#08f,#09f,#0bf,#0df,#1fd,#2fc,#3fb,#5f9,#8f6,#cf3,#cf2,#af5,#7f7,#6f8,#6f9,#6f9,#6f9,#6f8,#7f8,#7f8,#6f8,#6f9,#5fa,#4fb,#3fb,#3fb,#3fb,#3fb,#3fb,#3fb,#3fb,#3fb,#4fb,#4fa,#5fa,#5f9,#5f9,#5fa,#4fa,#3fb,#2fc,#2fc,#2fd,#2fd,#2fd,#2fd,#2fd,#2fc,#3fb,#4fa,#6f9,#7f8,#7f7,#7f7,#7f7,#7f8,#6f8,#5f9,#5fa,#4fb,#4fb,#4fb,#4fb,#4fb,#4fa,#4fa,#3fb,#3fc,#5fa,#7f8,#6f8,#5fa,#0bf,#07f,#07f,#07f,#07f)"></i><i style="background:linear-gradient(#fc0,#fc0,#fc0,#fc0,#7f7,#0cf,#0cf,#2fd,#4fa,#6f8,#8f6,#af5,#9f5,#9f6,#af5,#9f5,#7f7,#5fa,#2fc,#2fd,#2fd,#1fe,#0bf,#0bf,#1ee,#6f9,#9f6,#af5,#9f5,#8f7,#6f9,#5f9,#6f8,#7f7,#5f9,#5fa,#5fa,#5fa,#5fa,#5fa,#5fa,#4fa,#4fb,#4fb,#3fb,#3fb,#3fb,#3fb,#3fb,#4fb,#4fa,#5fa,#5f9,#5fa,#4fa,#4fb,#4fb,#4fa,#5fa,#6f9,#7f8,#6f8,#5fa,#4fb,#3fb,#3fc,#3fc,#3fb,#4fa,#5f9,#6f8,#6f8,#6f8,#6f8,#6f9,#6f9,#6f9,#5f9,#5fa,#5fa,#5fa,#4fa,#5fa,#5f9,#6f9,#6f8,#6f8,#7f8,#7f7,#8f7,#8f6,#9f5,#9f5,#af5,#af5,#af5,#9f5,#9f6,#7f7,#5fa,#2fc,#0df,#0af,#09f,#09f,#0cf,#0ef,#1fd,#2fd,#3fc,#5fa,#9f6,#cf2,#df2,#af4,#7f8,#5f9,#5fa,#5fa,#5f9,#5f9,#6f9,#6f9,#5f9,#5fa,#4fb,#3fb,#3fc,#3fc,#3fc,#3fc,#3fc,#3fc,#3fb,#3fb,#4fb,#4fa,#4fa,#5fa,#5fa,#5fa,#4fa,#3fb,#3fc,#2fc,#2fd,#2fd,#2fd,#2fd,#2fd,#2fc,#3fc,#4fb,#5fa,#6f9,#6f8,#7f8,#6f8,#6f8,#6f9,#5f9,#5fa,#4fb,#4fb,#4fb,#4fa,#4fa,#5fa,#5fa,#4fa,#4fb,#6f9,#8f7,#8f7,#6f8,#0cf,#07f,#07f,#07f,#07f)"></i><i style="background:linear-gradient(#fc0,#fc0,#fc0,#fc0,#7f7,#0df,#0ee,#2fc,#4fa,#6f9,#6f8,#7f8,#7f8,#8f7,#af5,#9f5,#8f7,#6f8,#6f9,#5fa,#4fb,#0ee,#08f,#07f,#0bf,#4fa,#8f6,#9f5,#9f6,#7f7,#6f9,#6f9,#7f8,#8f7,#6f8,#6f9,#6f9,#5f9,#5fa,#5fa,#5fa,#5fa,#5fa,#4fa,#4fb,#3fb,#3fb,#3fc,#3fc,#3fc,#3fb,#4fb,#5fa,#5fa,#4fa,#4fa,#4fa,#4fa,#5fa,#5f9,#6f8,#6f9,#4fa,#4fb,#3fc,#3fc,#3fc,#3fb,#4fb,#5fa,#6f9,#6f8,#7f8,#7f8,#7f8,#7f7,#7f8,#6f8,#6f9,#5f9,#5fa,#5fa,#4fa,#4fa,#5fa,#5fa,#5f9,#5f9,#6f9,#6f8,#7f8,#8f7,#8f6,#8f6,#8f6,#8f7,#7f7,#6f9,#4fa,#2fc,#0ee,#0cf,#0af,#0af,#0bf,#0df,#1ee,#2fd,#2fc,#3fc,#4fb,#6f9,#8f7,#8f6,#7f8,#5fa,#4fb,#4fb,#4fb,#4fb,#4fa,#5fa,#5fa,#4fa,#4fb,#3fb,#3fc,#3fc,#3fc,#3fc,#3fc,#3fc,#3fc,#3fb,#4fb,#4fa,#4fa,#4fa,#4fa,#4fa,#4fa,#4fb,#3fb,#3fc,#2fc,#2fc,#2fd,#2fd,#2fd,#2fc,#2fc,#3fb,#4fb,#5fa,#5f9,#6f9,#6f8,#6f9,#6f9,#6f9,#5f9,#5fa,#4fa,#4fb,#4fa,#5fa,#5fa,#5f9,#5f9,#5fa,#5fa,#7f8,#8f6,#8f6,#7f8,#0cf,#07f,#07f,#07f,#07f)"></i><i style="background:linear-gradient(#fc0,#fc0,#fc0,#fc0,#8f7,#0ee,#1fe,#3fb,#5fa,#5fa,#5fa,#4fa,#5fa,#7f8,#af5,#9f6,#7f8,#6f9,#6f9,#5f9,#4fa,#1fe,#09f,#08f,#0cf,#4fa,#8f7,#9f6,#8f6,#7f7,#6f9,#6f9,#6f8,#7f7,#6f9,#6f9,#6f9,#5fa,#4fa,#4fa,#4fa,#5fa,#5fa,#4fa,#4fb,#3fc,#3fc,#3fc,#3fc,#3fc,#3fb,#4fa,#5fa,#5f9,#5f9,#5f9,#5f9,#5f9,#5f9,#5f9,#6f8,#5f9,#4fa,#3fb,#3fc,#2fc,#2fc,#3fc,#4fb,#4fa,#5fa,#5f9,#6f9,#6f8,#8f7,#9f5,#9f6,#7f7,#6f8,#6f9,#5f9,#5fa,#4fa,#4fb,#4fb,#3fb,#3fb,#3fb,#3fb,#4fb,#5fa,#6f9,#6f8,#7f8,#6f8,#6f9,#5fa,#3fb,#2fc,#1fd,#1ee,#1fe,#2fd,#3fc,#4fb,#4fa,#5fa,#5f9,#5fa,#4fa,#4fb,#3fb,#3fb,#3fb,#2fc,#2fd,#1fd,#1fd,#2fd,#2fd,#2fc,#3fc,#3fc,#3fc,#3fc,#2fc,#2fc,#2fc,#2fc,#3fc,#3fc,#3fc,#3fb,#4fa,#5f9,#6f9,#5f9,#5f9,#5fa,#5fa,#5fa,#4fa,#4fb,#3fb,#3fc,#2fc,#2fc,#2fc,#2fc,#3fc,#3fc,#3fb,#4fa,#5fa,#5f9,#6f9,#6f9,#6f9,#6f9,#6f9,#5f9,#5f9,#5fa,#5fa,#5fa,#5f9,#6f9,#6f9,#6f8,#6f9,#5f9,#8f7,#9f5,#9f6,#7f7,#0cf,#07f,#07f,#07f,#07f)"></i><i style="background:linear-gradient(#fc0,#fc0,#fc0,#fc0,#8f7,#1ee,#1fd,#3fc,#4fb,#4fb,#3fb,#3fc,#3fb,#6f9,#af5,#8f6,#5f9,#5fa,#5f9,#5f9,#5f9,#3fc,#0ee,#0df,#2fd,#5f9,#8f7,#8f6,#8f6,#7f7,#6f9,#5f9,#5f9,#6f8,#5f9,#5fa,#4fa,#2fc,#1fe,#1fd,#3fc,#3fc,#2fc,#1fd,#1ee,#0ee,#1ee,#1fd,#2fd,#2fc,#3fb,#4fa,#5f9,#6f9,#6f8,#6f9,#6f9,#6f9,#6f9,#6f9,#6f8,#5f9,#4fb,#3fb,#2fc,#2fc,#2fc,#3fc,#3fb,#3fb,#4fb,#4fb,#4fa,#6f8,#af5,#cf2,#bf3,#9f6,#7f8,#6f9,#6f9,#5f9,#5fa,#4fb,#3fb,#2fc,#2fd,#1fe,#1ee,#1fd,#2fc,#3fb,#4fa,#5fa,#5fa,#4fa,#4fb,#3fc,#3fc,#4fb,#6f9,#9f6,#cf3,#ef1,#fd0,#fc0,#fd0,#ef0,#cf3,#9f6,#6f9,#3fc,#1ee,#0cf,#0bf,#0af,#0af,#0bf,#0cf,#0df,#0ee,#1ee,#1fd,#1fd,#2fd,#2fd,#2fc,#2fc,#3fc,#3fc,#3fc,#3fb,#4fb,#5f9,#7f8,#7f7,#7f8,#6f9,#5f9,#5fa,#4fa,#4fb,#4fb,#3fb,#3fc,#3fc,#2fc,#2fc,#3fc,#3fc,#3fb,#4fb,#4fa,#5f9,#5f9,#6f9,#5f9,#5f9,#5fa,#5fa,#5f9,#5fa,#5fa,#5fa,#5fa,#5f9,#6f9,#6f8,#7f8,#6f8,#6f8,#8f6,#af4,#9f5,#8f7,#0df,#07f,#07f,#07f,#07f)"></i><i style="background:linear-gradient(#fc0,#fc0,#fc0,#fc0,#8f6,#1ee,#1ee,#2fc,#3fc,#3fc,#2fc,#2fd,#2fd,#5f9,#9f5,#8f7,#4fa,#4fb,#5fa,#6f9,#6f8,#5f9,#4fa,#4fb,#5f9,#7f8,#8f7,#8f6,#8f7,#6f8,#5fa,#4fa,#5fa,#6f9,#4fa,#4fa,#3fc,#0df,#0bf,#0cf,#1fe,#1fd,#0df,#0cf,#0bf,#0bf,#0cf,#0df,#1fe,#2fc,#3fb,#4fa,#5f9,#6f9,#6f9,#6f9,#6f9,#6f9,#6f9,#6f9,#7f8,#6f9,#4fb,#3fc,#2fc,#2fc,#3fc,#3fb,#3fb,#3fb,#3fb,#3fb,#4fa,#7f8,#cf3,#fe0,#ef1,#af5,#7f7,#6f8,#6f9,#5f9,#5fa,#4fb,#3fc,#2fd,#0df,#0bf,#0af,#0bf,#0cf,#1fe,#2fc,#4fb,#4fa,#4fa,#4fb,#4fa,#5fa,#7f8,#af4,#ee0,#fb0,#f80,#f50,#f30,#f30,#f70,#fb0,#cf2,#7f7,#3fc,#0cf,#09f,#07f,#06f,#06f,#07f,#09f,#0bf,#0cf,#0ee,#1fe,#1fd,#2fd,#2fc,#3fc,#3fb,#3fb,#4fb,#4fb,#4fb,#5fa,#7f8,#8f6,#9f6,#8f6,#7f8,#5f9,#4fa,#4fb,#4fb,#3fb,#3fb,#3fc,#2fc,#2fc,#2fc,#3fc,#3fc,#4fb,#4fa,#5fa,#5fa,#5f9,#5f9,#5fa,#4fa,#4fa,#4fa,#5fa,#5fa,#5fa,#5fa,#5fa,#5f9,#6f9,#7f8,#7f7,#7f8,#7f8,#9f5,#bf4,#af4,#9f6,#0df,#07f,#07f,#07f,#07f)"></i><i style="background:linear-gradient(#fc0,#fc0,#fc0,#fc0,#8f6,#1fe,#1ee,#2fd,#3fc,#2fc,#2fd,#1fd,#2fd,#5fa,#9f5,#7f7,#4fb,#4fb,#5fa,#6f8,#7f8,#7f8,#7f8,#7f8,#7f7,#8f6,#8f6,#8f7,#7f8,#4fa,#1fd,#1fd,#4fb,#6f9,#4fa,#4fa,#3fb,#1fd,#0ee,#1ee,#2fd,#2fd,#1fd,#0ee,#0df,#0df,#0ee,#1ee,#1fd,#2fc,#3fb,#4fa,#5fa,#5f9,#5f9,#5f9,#5fa,#5fa,#5f9,#6f9,#7f8,#5f9,#4fb,#3fc,#2fc,#3fc,#3fb,#4fb,#4fb,#4fb,#4fa,#4fa,#5fa,#7f8,#bf3,#fe0,#df1,#af5,#7f7,#6f8,#6f9,#5fa,#4fa,#4fb,#3fc,#1fd,#0cf,#0af,#09f,#09f,#0bf,#0df,#2fd,#3fc,#4fb,#4fa,#5fa,#5f9,#6f9,#7f7,#af4,#fe0,#fc0,#fc0,#fb0,#fb0,#fc0,#fe0,#bf3,#7f7,#3fb,#0df,#09f,#07f,#05f,#05f,#05f,#07f,#09f,#0bf,#0ee,#2fd,#3fc,#3fb,#4fb,#4fa,#4fa,#5fa,#5fa,#4fa,#4fa,#4fa,#5f9,#7f8,#8f6,#9f5,#8f6,#7f8,#5f9,#4fa,#4fb,#4fb,#4fb,#4fb,#3fb,#3fb,#3fc,#3fc,#3fc,#3fb,#4fb,#4fa,#5fa,#5fa,#5fa,#4fa,#4fb,#4fb,#3fb,#4fb,#4fa,#4fa,#5fa,#4fa,#4fa,#5fa,#5f9,#6f8,#7f8,#6f8,#6f8,#9f6,#bf4,#af4,#9f6,#0df,#07f,#07f,#07f,#07f)"></i><i style="background:linear-gradient(#fc0,#fc0,#fc0,#fc0,#9f6,#2fc,#1fd,#2fc,#3fb,#3fb,#3fc,#2fc,#2fc,#5f9,#9f6,#8f7,#5fa,#5fa,#6f9,#7f8,#7f7,#8f7,#8f7,#8f7,#8f6,#9f6,#8f6,#7f7,#6f9,#2fc,#0cf,#0cf,#3fc,#6f9,#5fa,#5fa,#5fa,#4fa,#4fb,#4fb,#4fb,#4fb,#4fb,#3fb,#3fb,#3fb,#3fc,#3fc,#3fc,#3fb,#4fb,#4fa,#5fa,#5fa,#5fa,#4fa,#4fa,#4fa,#5fa,#5f9,#6f9,#5fa,#3fb,#2fc,#2fc,#3fc,#4fb,#5fa,#5fa,#5fa,#5f9,#6f8,#6f9,#6f8,#9f6,#af4,#9f5,#8f7,#7f8,#6f9,#5f9,#4fa,#4fb,#4fb,#3fb,#2fd,#0ee,#0cf,#0bf,#0bf,#0cf,#0ee,#2fd,#3fc,#4fb,#5fa,#5f9,#5f9,#6f9,#6f8,#9f6,#ef1,#fc0,#ef1,#af4,#8f7,#7f8,#5f9,#3fb,#1fd,#0df,#0bf,#09f,#08f,#07f,#07f,#08f,#09f,#0cf,#1ee,#3fc,#4fa,#5f9,#6f8,#6f8,#6f8,#6f8,#6f9,#5f9,#5fa,#4fa,#4fa,#5f9,#6f8,#8f7,#8f6,#8f7,#7f8,#5f9,#5fa,#4fa,#4fa,#4fa,#5fa,#5fa,#4fa,#4fb,#4fb,#4fb,#4fa,#5fa,#5f9,#5f9,#5f9,#5fa,#4fa,#4fb,#4fb,#4fb,#4fb,#4fa,#4fa,#4fa,#4fa,#4fa,#4fa,#5f9,#6f9,#6f8,#5f9,#5f9,#7f7,#af5,#9f5,#8f7,#0df,#07f,#07f,#07f,#07f)"></i><i style="background:linear-gradient(#fc0,#fc0,#fc0,#fc0,#9f5,#3fb,#2fc,#3fc,#4fb,#4fb,#3fb,#3fb,#3fb,#6f9,#8f6,#8f7,#6f8,#6f8,#7f8,#7f8,#7f7,#7f8,#7f8,#7f7,#8f6,#8f6,#8f7,#7f8,#5fa,#3fc,#0ee,#0ee,#3fb,#6f8,#5f9,#5f9,#6f9,#6f9,#6f9,#5f9,#5fa,#4fa,#5fa,#5f9,#5f9,#5f9,#5fa,#4fa,#4fb,#4fb,#4fa,#5fa,#5fa,#5fa,#5fa,#4fa,#4fa,#4fa,#4fa,#4fa,#5fa,#3fb,#2fd,#2fd,#2fd,#3fc,#4fa,#5f9,#6f9,#6f9,#7f8,#8f7,#7f8,#5f9,#4fa,#3fc,#2fc,#3fb,#5fa,#5f9,#5fa,#4fa,#4fb,#4fb,#3fb,#3fb,#2fc,#2fd,#1fd,#1fe,#1fd,#2fc,#3fc,#3fb,#4fb,#5fa,#5f9,#6f9,#6f9,#6f8,#7f7,#bf4,#df2,#af4,#7f8,#5fa,#4fb,#3fc,#2fd,#1fd,#0ee,#0ef,#0df,#0cf,#0cf,#0cf,#0df,#1ee,#2fc,#4fb,#6f9,#7f7,#8f6,#9f6,#9f6,#8f6,#8f7,#7f7,#7f8,#6f9,#5f9,#5fa,#5fa,#6f9,#6f8,#7f8,#7f8,#6f9,#5f9,#4fa,#4fb,#4fb,#4fb,#4fa,#4fa,#4fa,#4fa,#4fa,#4fa,#4fa,#5fa,#5f9,#5f9,#5f9,#5fa,#4fa,#4fb,#4fb,#4fb,#4fb,#4fb,#4fb,#4fb,#3fb,#3fb,#3fb,#4fb,#4fa,#5fa,#4fb,#4fb,#6f8,#9f6,#8f6,#7f7,#0cf,#07f,#07f,#07f,#07f)"></i><i style="background:linear-gradient(#fc0,#fc0,#fc0,#fc0,#9f5,#3fb,#2fd,#3fc,#3fb,#4fb,#4fb,#4fb,#4fa,#6f8,#8f6,#8f6,#8f7,#7f7,#7f7,#7f7,#6f8,#5fa,#4fb,#5fa,#7f8,#7f7,#7f8,#6f9,#4fa,#3fc,#2fc,#2fc,#4fa,#6f8,#5f9,#6f9,#6f8,#6f8,#6f9,#6f9,#5f9,#5fa,#5f9,#6f9,#6f8,#6f8,#6f9,#5fa,#4fa,#4fa,#4fa,#4fa,#5fa,#5fa,#5fa,#4fa,#4fa,#4fa,#4fb,#3fb,#3fb,#2fd,#0ee,#0df,#0df,#1fe,#3fc,#4fa,#6f9,#6f8,#8f7,#9f6,#7f7,#5fa,#2fd,#0cf,#0bf,#0ee,#3fb,#5fa,#5fa,#4fa,#4fb,#3fb,#4fb,#4fb,#4fa,#5fa,#5fa,#4fa,#4fa,#4fa,#4fa,#4fa,#4fa,#5fa,#5fa,#5f9,#6f9,#6f9,#6f8,#7f7,#8f6,#6f8,#4fb,#2fc,#1fd,#1ee,#1ee,#1fe,#1fd,#2fd,#2fc,#2fc,#2fc,#3fc,#3fc,#4fb,#5fa,#6f9,#7f7,#9f6,#9f5,#af5,#af5,#9f5,#9f6,#8f7,#7f7,#6f8,#5f9,#4fa,#4fa,#5fa,#5f9,#6f9,#6f9,#5f9,#5fa,#4fa,#4fb,#4fb,#4fb,#4fa,#5fa,#5f9,#5f9,#5f9,#5f9,#5fa,#5fa,#5fa,#5fa,#5fa,#4fb,#3fb,#3fc,#3fc,#3fc,#3fc,#3fc,#3fc,#3fc,#2fc,#2fd,#2fd,#3fc,#3fb,#4fb,#3fb,#3fb,#6f9,#8f6,#8f6,#7f7,#0cf,#07f,#07f,#07f,#07f)"></i><i style="background:linear-gradient(#fc0,#fc0,#fc0,#fc0,#9f6,#2fc,#1fd,#2fc,#3fb,#3fb,#4fb,#4fb,#4fa,#6f8,#8f6,#9f6,#8f6,#8f6,#8f7,#7f8,#5fa,#1fd,#0cf,#1ee,#4fa,#6f8,#6f9,#4fa,#3fb,#3fc,#2fc,#3fc,#4fa,#6f8,#5f9,#6f9,#6f8,#6f8,#6f9,#5f9,#5f9,#5fa,#5f9,#6f9,#6f8,#6f8,#6f9,#5f9,#4fa,#4fa,#4fa,#4fa,#4fa,#4fa,#4fa,#4fa,#4fb,#4fb,#3fc,#2fc,#2fc,#1ee,#0df,#0bf,#0bf,#0cf,#1ee,#3fb,#5f9,#7f8,#8f6,#af5,#8f6,#6f8,#4fb,#2fd,#1fd,#3fc,#5fa,#5f9,#4fa,#3fb,#2fc,#2fd,#2fc,#4fb,#5fa,#6f8,#7f8,#7f7,#7f8,#6f8,#5f9,#5fa,#4fa,#4fa,#5fa,#5f9,#5f9,#6f9,#5f9,#5f9,#5fa,#3fb,#1fd,#0df,#0cf,#0bf,#0cf,#0df,#1ee,#2fd,#3fc,#3fb,#4fb,#4fb,#4fa,#5fa,#5f9,#6f8,#7f7,#9f6,#9f5,#af5,#af5,#9f5,#8f6,#8f7,#7f8,#6f8,#5f9,#4fa,#4fa,#4fa,#5fa,#5f9,#6f9,#6f9,#5f9,#5fa,#5fa,#4fa,#5fa,#5f9,#6f9,#6f8,#6f8,#6f9,#6f9,#5f9,#5f9,#5fa,#5fa,#4fa,#3fb,#3fc,#2fc,#2fd,#2fc,#2fc,#3fc,#3fc,#3fc,#2fc,#2fd,#2fc,#3fc,#4fb,#4fa,#4fb,#3fb,#6f9,#9f6,#9f6,#8f7,#0df,#07f,#07f,#07f,#07f)"></i><i style="background:linear-gradient(#fc0,#fc0,#fc0,#fc0,#9f6,#1fd,#1fe,#2fc,#3fb,#3fb,#3fb,#4fb,#4fa,#6f8,#8f6,#8f6,#8f6,#8f7,#8f7,#7f8,#3fb,#0bf,#07f,#0af,#3fc,#5f9,#5f9,#4fb,#3fc,#2fc,#2fc,#3fb,#4fa,#6f8,#5fa,#5f9,#6f9,#5f9,#5fa,#5fa,#4fa,#4fa,#4fa,#5fa,#6f9,#6f8,#6f9,#5f9,#5fa,#5fa,#5fa,#5fa,#5fa,#5fa,#4fa,#4fa,#4fb,#3fb,#3fc,#2fc,#3fc,#2fd,#0ee,#0df,#0df,#0ee,#2fd,#4fa,#6f9,#7f7,#9f6,#af5,#9f6,#8f7,#7f8,#6f8,#6f9,#6f9,#6f9,#4fa,#3fc,#1ee,#0df,#0cf,#0df,#1fe,#3fb,#5f9,#7f8,#8f6,#8f6,#7f7,#6f8,#5f9,#4fa,#4fa,#4fa,#5fa,#5f9,#6f9,#6f9,#5f9,#4fa,#3fc,#1ee,#0cf,#0bf,#0bf,#0cf,#0df,#1ee,#2fd,#3fc,#3fb,#4fb,#4fa,#4fa,#5fa,#5fa,#6f9,#7f8,#8f7,#8f6,#9f6,#8f6,#8f7,#7f7,#7f8,#6f9,#5f9,#5fa,#4fa,#4fa,#4fa,#5fa,#5fa,#5f9,#5f9,#5f9,#5fa,#4fa,#4fa,#5fa,#6f9,#6f8,#6f8,#6f8,#6f9,#5f9,#5f9,#5f9,#5f9,#5f9,#4fa,#4fb,#3fc,#2fc,#2fd,#2fc,#2fc,#3fc,#3fb,#3fb,#3fb,#3fb,#4fb,#4fa,#5fa,#5f9,#4fa,#4fa,#7f8,#9f5,#af5,#8f6,#0df,#07f,#07f,#07f,#07f)"></i><i style="background:linear-gradient(#fc0,#fc0,#fc0,#fc0,#9f6,#2fc,#2fd,#3fc,#4fb,#4fb,#3fb,#3fb,#4fb,#5f9,#7f7,#7f7,#7f7,#7f7,#7f7,#6f8,#3fb,#0bf,#07f,#0bf,#3fc,#5f9,#5fa,#3fb,#2fc,#2fd,#2fd,#3fc,#4fa,#6f9,#4fa,#4fa,#5fa,#5fa,#4fa,#4fb,#3fb,#3fc,#3fb,#4fa,#5f9,#6f8,#6f8,#6f8,#6f9,#5f9,#5f9,#6f9,#6f9,#6f9,#5f9,#5fa,#4fa,#4fb,#3fb,#3fb,#4fa,#4fb,#3fc,#3fc,#3fc,#4fb,#5f9,#6f8,#7f8,#7f7,#9f6,#af5,#9f6,#7f7,#7f7,#7f8,#6f8,#6f9,#4fa,#2fc,#0df,#0af,#08f,#07f,#08f,#0af,#0df,#3fc,#6f9,#8f6,#af4,#af5,#7f7,#5f9,#4fa,#4fb,#4fb,#4fa,#5f9,#6f9,#6f9,#5f9,#5fa,#4fb,#2fc,#2fd,#1fd,#1fd,#1fd,#2fd,#2fc,#3fc,#4fb,#4fa,#5fa,#5fa,#4fa,#4fa,#4fa,#5fa,#6f9,#7f8,#7f7,#7f7,#7f7,#7f8,#6f9,#5f9,#5fa,#4fa,#4fa,#4fb,#4fb,#4fb,#4fa,#4fa,#5fa,#5fa,#4fa,#4fb,#4fb,#4fb,#4fa,#5f9,#6f9,#6f9,#5f9,#5fa,#4fa,#4fa,#5fa,#5f9,#5f9,#5fa,#4fb,#3fc,#2fc,#2fc,#3fc,#3fb,#4fb,#4fa,#5fa,#5fa,#5fa,#5f9,#5f9,#6f9,#6f9,#5fa,#5fa,#7f7,#af5,#af5,#8f6,#0df,#07f,#07f,#07f,#07f)"></i><i style="background:linear-gradient(#fc0,#fc0,#fc0,#fc0,#9f5,#4fb,#3fb,#4fa,#5fa,#4fa,#3fb,#2fc,#3fc,#4fa,#6f9,#6f8,#6f9,#6f8,#6f8,#6f9,#4fa,#1ee,#0cf,#1ee,#4fb,#5f9,#5fa,#3fb,#2fc,#2fd,#2fd,#3fc,#4fb,#5fa,#3fb,#3fb,#4fb,#4fb,#4fb,#3fb,#2fc,#2fc,#2fc,#3fb,#5fa,#6f9,#6f8,#6f8,#6f9,#6f9,#6f9,#7f8,#7f7,#7f7,#7f8,#6f8,#5f9,#4fa,#4fb,#4fa,#5f9,#5f9,#4fa,#4fa,#5fa,#6f9,#7f8,#7f7,#7f7,#7f7,#8f6,#9f6,#8f6,#7f8,#6f8,#6f9,#5f9,#4fa,#3fc,#1fd,#0cf,#0af,#08f,#07f,#07f,#09f,#0df,#2fc,#5f9,#9f6,#cf2,#cf3,#8f7,#5f9,#4fa,#4fb,#4fa,#4fa,#5fa,#5f9,#6f9,#6f9,#5f9,#5fa,#4fa,#5f9,#5f9,#6f9,#6f9,#6f9,#5f9,#5f9,#5f9,#5f9,#5f9,#5f9,#5fa,#4fb,#4fb,#4fb,#4fa,#5f9,#6f9,#6f8,#6f8,#6f9,#5f9,#4fa,#4fb,#4fb,#4fb,#3fb,#3fb,#3fb,#3fb,#4fb,#4fa,#4fa,#4fa,#4fb,#4fb,#4fb,#5fa,#6f9,#6f8,#6f9,#5f9,#5fa,#4fa,#4fa,#5fa,#5f9,#5f9,#5fa,#4fb,#3fb,#3fc,#3fb,#4fb,#4fb,#4fa,#5fa,#5f9,#5f9,#6f9,#6f9,#6f9,#6f9,#6f9,#5fa,#5fa,#7f7,#af5,#9f5,#8f7,#0cf,#07f,#07f,#07f,#07f)"></i><i style="background:linear-gradient(#fc0,#fc0,#fc0,#fc0,#af5,#5f9,#5fa,#6f9,#6f9,#5fa,#3fb,#2fc,#2fd,#3fc,#5fa,#5fa,#5fa,#5f9,#6f8,#6f8,#5f9,#3fb,#2fc,#3fb,#4fa,#5fa,#4fa,#3fb,#3fc,#2fc,#2fc,#2fc,#3fb,#4fb,#2fc,#3fc,#3fb,#4fb,#3fb,#3fc,#2fd,#1fd,#2fd,#2fc,#3fb,#4fa,#5fa,#5f9,#5f9,#5f9,#6f8,#7f8,#8f7,#8f7,#8f7,#7f8,#6f9,#5fa,#4fa,#5fa,#6f9,#5f9,#4fa,#5fa,#5f9,#6f8,#7f8,#7f7,#7f7,#7f7,#8f7,#8f6,#7f7,#6f8,#6f8,#6f9,#5fa,#4fb,#2fc,#1fd,#0ee,#0cf,#0bf,#0bf,#0cf,#0df,#2fd,#4fb,#5f9,#7f7,#9f6,#8f7,#4fa,#2fc,#2fc,#3fb,#4fa,#5fa,#5f9,#5f9,#5f9,#5f9,#5f9,#5f9,#5f9,#8f7,#8f6,#9f5,#af5,#9f6,#8f7,#7f8,#6f9,#6f9,#6f9,#5f9,#4fa,#3fb,#2fc,#2fd,#2fc,#3fc,#4fb,#5fa,#5f9,#5fa,#4fb,#3fb,#3fc,#2fc,#2fc,#2fc,#2fc,#2fc,#2fc,#3fc,#3fb,#4fb,#4fb,#3fb,#3fb,#4fb,#4fa,#5f9,#6f9,#6f9,#5f9,#4fa,#4fb,#3fb,#4fb,#4fb,#4fa,#4fb,#3fc,#3fc,#3fc,#3fb,#4fb,#4fb,#4fa,#4fa,#5fa,#5f9,#5f9,#5f9,#5fa,#5fa,#4fa,#4fb,#4fb,#6f8,#9f6,#8f7,#6f8,#0cf,#07f,#07f,#07f,#07f)"></i><i style="background:linear-gradient(#fc0,#fc0,#fc0,#fc0,#af5,#5fa,#5fa,#6f9,#7f8,#6f9,#4fb,#2fc,#1fd,#2fc,#4fb,#4fa,#4fa,#5f9,#6f9,#6f8,#6f9,#5fa,#4fa,#4fb,#4fb,#3fb,#3fb,#3fc,#3fc,#3fc,#3fc,#3fc,#3fb,#4fb,#2fc,#3fc,#3fb,#4fb,#3fb,#3fc,#2fd,#1fd,#1fd,#2fd,#2fc,#3fc,#3fb,#4fb,#4fb,#5fa,#6f9,#7f8,#7f7,#7f7,#7f7,#6f8,#6f9,#5f9,#5fa,#5fa,#6f9,#5fa,#4fb,#4fb,#5fa,#6f8,#7f7,#7f7,#7f7,#7f7,#8f7,#8f7,#7f7,#7f7,#7f8,#6f9,#5fa,#4fb,#3fc,#2fd,#2fd,#2fc,#2fc,#3fc,#3fc,#3fb,#4fa,#5fa,#5fa,#4fa,#3fb,#1ee,#0af,#08f,#0af,#1fd,#4fb,#5fa,#5f9,#5f9,#5f9,#5fa,#5fa,#5fa,#6f9,#8f6,#af4,#cf3,#cf2,#bf3,#9f5,#7f7,#6f8,#6f8,#6f8,#6f9,#4fa,#3fc,#1fd,#0ee,#0ee,#1fd,#2fc,#4fb,#4fa,#4fa,#4fb,#3fc,#3fc,#3fc,#3fc,#3fc,#3fc,#3fc,#3fb,#4fb,#4fb,#4fb,#4fb,#3fb,#3fb,#3fb,#4fb,#5fa,#5f9,#5f9,#5fa,#4fb,#3fc,#2fc,#2fc,#3fc,#3fc,#2fc,#2fd,#2fd,#2fc,#3fc,#3fb,#4fb,#4fb,#4fa,#5fa,#5f9,#5f9,#5f9,#5fa,#4fa,#4fa,#3fb,#4fb,#6f8,#8f6,#7f7,#5f9,#0bf,#07f,#07f,#07f,#07f)"></i><i style="background:linear-gradient(#fc0,#fc0,#fc0,#fc0,#9f5,#3fb,#3fb,#5f9,#6f8,#6f9,#4fa,#3fc,#2fd,#2fd,#3fc,#4fb,#4fb,#5fa,#5f9,#6f9,#6f9,#5f9,#4fa,#4fb,#3fc,#2fc,#2fd,#2fc,#3fc,#3fc,#3fc,#3fc,#4fb,#5fa,#3fb,#3fb,#4fb,#3fb,#3fc,#2fc,#2fd,#2fd,#2fc,#2fc,#3fc,#2fc,#2fc,#3fc,#3fb,#4fb,#5fa,#6f9,#6f8,#6f8,#6f8,#6f9,#5f9,#5f9,#5fa,#5fa,#5f9,#4fa,#3fb,#4fb,#5fa,#6f8,#7f7,#8f7,#8f7,#8f7,#8f7,#8f6,#8f6,#8f6,#8f7,#7f8,#5f9,#4fb,#3fb,#3fb,#4fb,#5fa,#6f9,#6f9,#6f9,#5f9,#5fa,#5fa,#4fa,#4fb,#2fc,#0ee,#0bf,#0af,#0cf,#2fd,#4fb,#5fa,#5fa,#5fa,#5fa,#4fa,#4fa,#4fa,#5f9,#8f6,#bf4,#df2,#df1,#cf2,#af5,#8f6,#7f7,#7f7,#7f7,#7f8,#5f9,#3fb,#1fe,#0df,#0df,#0df,#1fd,#3fb,#4fa,#4fa,#4fa,#4fb,#4fa,#4fa,#5fa,#5f9,#5f9,#6f9,#6f9,#6f9,#6f9,#5f9,#5fa,#4fa,#4fa,#4fa,#5fa,#5f9,#5f9,#5f9,#5fa,#4fb,#3fc,#3fc,#2fc,#2fc,#2fc,#2fd,#2fd,#2fd,#2fd,#2fc,#3fc,#3fb,#4fb,#5fa,#5f9,#6f8,#6f8,#6f9,#5fa,#5fa,#4fa,#4fb,#4fb,#6f8,#8f6,#8f7,#6f9,#0cf,#07f,#07f,#07f,#07f)"></i><i style="background:linear-gradient(#fc0,#fc0,#fc0,#fc0,#9f6,#2fd,#2fd,#4fb,#6f9,#6f9,#5fa,#3fb,#2fc,#2fd,#2fc,#3fc,#3fb,#4fb,#4fa,#5fa,#5f9,#5f9,#5fa,#3fb,#2fc,#1fd,#1fd,#2fd,#2fc,#2fd,#0df,#0ee,#3fb,#5f9,#4fb,#4fb,#3fb,#2fd,#1ee,#1fe,#2fd,#3fc,#4fb,#4fa,#4fa,#4fb,#3fb,#3fc,#3fc,#3fb,#4fa,#5fa,#5f9,#5f9,#5f9,#5f9,#5f9,#6f9,#7f8,#7f7,#8f7,#7f8,#5f9,#5fa,#5fa,#6f8,#7f7,#8f7,#8f7,#8f7,#7f7,#8f7,#8f7,#8f6,#8f7,#7f8,#6f9,#4fa,#4fb,#4fa,#5f9,#7f8,#7f7,#8f7,#7f7,#6f8,#5f9,#4fa,#4fa,#4fb,#3fb,#3fc,#3fc,#2fc,#3fc,#3fb,#4fb,#4fb,#4fb,#3fb,#3fb,#3fb,#3fb,#3fb,#4fa,#6f8,#9f6,#af4,#bf3,#af4,#9f5,#9f6,#8f6,#8f6,#8f7,#7f7,#6f9,#3fb,#1fe,#0df,#0cf,#0df,#1ee,#2fc,#3fb,#4fb,#4fb,#4fa,#5fa,#6f9,#7f8,#7f7,#8f6,#8f6,#8f6,#8f7,#7f7,#7f8,#6f8,#6f9,#5f9,#5f9,#5f9,#6f9,#6f9,#6f9,#5fa,#4fb,#3fb,#3fc,#3fc,#3fc,#3fc,#2fc,#2fc,#2fc,#2fc,#3fc,#3fb,#3fb,#4fb,#5fa,#5f9,#6f9,#6f9,#5f9,#5fa,#4fa,#4fa,#4fb,#4fa,#6f8,#9f6,#8f6,#6f8,#0cf,#07f,#07f,#07f,#07f)"></i><i style="background:linear-gradient(#fc0,#fc0,#fc0,#fc0,#8f6,#1fd,#1fe,#3fc,#5fa,#5f9,#4fa,#3fb,#2fd,#1fd,#1fd,#2fd,#2fc,#3fc,#4fb,#4fa,#5f9,#6f9,#5fa,#4fb,#2fc,#1fd,#1fd,#2fd,#2fc,#1fd,#0cf,#0cf,#3fb,#6f9,#4fa,#3fb,#2fc,#0df,#0bf,#0df,#2fd,#4fb,#5fa,#6f9,#6f9,#5f9,#4fa,#4fb,#3fb,#3fb,#4fb,#4fb,#4fa,#5fa,#5fa,#5fa,#5f9,#6f9,#7f7,#9f6,#af5,#9f6,#7f8,#5f9,#5fa,#5f9,#6f8,#6f8,#6f8,#6f9,#5f9,#5f9,#5f9,#6f9,#6f9,#5f9,#5fa,#4fa,#4fa,#5fa,#6f9,#7f7,#9f6,#9f5,#9f6,#8f7,#6f9,#4fa,#4fb,#3fb,#3fb,#4fb,#3fb,#3fb,#3fc,#2fc,#2fd,#1fd,#1ee,#0ee,#1ee,#1ee,#1fd,#2fd,#3fc,#4fb,#5f9,#7f8,#8f6,#9f6,#af5,#bf4,#af4,#af5,#9f5,#8f6,#6f8,#4fb,#2fd,#0df,#0df,#0df,#1fe,#2fc,#3fc,#3fb,#4fb,#5fa,#6f9,#7f8,#8f7,#9f6,#af5,#af5,#af5,#9f5,#8f6,#7f7,#6f8,#5f9,#5f9,#5f9,#5f9,#5f9,#5f9,#5fa,#4fa,#3fb,#3fc,#3fc,#3fc,#3fc,#3fc,#3fc,#3fb,#3fb,#4fb,#4fa,#5fa,#5fa,#5f9,#5f9,#6f9,#6f9,#6f9,#5f9,#5fa,#5fa,#5f9,#5fa,#5f9,#8f7,#af5,#9f5,#8f7,#0df,#07f,#07f,#07f,#07f)"></i><i style="background:linear-gradient(#fc0,#fc0,#fc0,#fc0,#8f6,#1fd,#1ee,#2fc,#4fb,#4fa,#4fb,#3fc,#1fe,#0df,#0ee,#1ee,#1fd,#2fc,#4fb,#5fa,#6f8,#6f8,#5f9,#4fa,#3fc,#2fd,#1fd,#2fd,#2fd,#2fd,#1fe,#2fd,#4fa,#6f8,#4fa,#3fb,#2fd,#0df,#0bf,#0df,#2fd,#4fa,#6f9,#6f8,#6f8,#6f8,#5f9,#4fa,#4fb,#4fb,#4fb,#4fb,#4fa,#5fa,#5fa,#5fa,#4fa,#4fa,#5fa,#5f9,#6f8,#6f9,#4fa,#4fb,#4fb,#4fb,#4fb,#4fb,#3fb,#2fc,#1fd,#0ee,#0df,#0df,#0ee,#1ee,#1fd,#2fd,#3fc,#4fa,#6f9,#8f6,#bf3,#df1,#df1,#bf4,#8f7,#5f9,#4fb,#3fb,#3fb,#3fb,#3fb,#2fc,#2fd,#1ee,#0df,#0bf,#0af,#0af,#0af,#0bf,#0cf,#0df,#1ee,#1fd,#3fc,#4fa,#6f8,#9f6,#cf3,#df2,#df2,#bf3,#af4,#9f5,#7f7,#5f9,#3fc,#1fd,#1ee,#1fd,#2fd,#3fc,#3fb,#4fb,#4fa,#5f9,#6f9,#7f8,#8f7,#9f6,#af5,#af5,#9f5,#9f6,#8f7,#7f8,#6f9,#5fa,#4fa,#4fa,#4fa,#4fa,#4fa,#4fb,#3fb,#3fc,#3fc,#3fc,#3fc,#3fc,#3fc,#3fc,#3fb,#4fb,#5fa,#5f9,#6f9,#6f9,#6f9,#6f9,#5f9,#5f9,#5fa,#5fa,#5fa,#5f9,#5f9,#5fa,#5fa,#7f7,#9f5,#9f5,#8f7,#0df,#07f,#07f,#07f,#07f)"></i><i style="background:linear-gradient(#fc0,#fc0,#fc0,#fc0,#9f6,#1fd,#1ee,#2fd,#3fb,#3fb,#3fc,#2fd,#0df,#0cf,#0cf,#0ee,#1fd,#3fc,#4fa,#6f9,#7f8,#7f8,#6f8,#5fa,#4fb,#3fc,#2fc,#2fc,#3fc,#3fb,#4fb,#5fa,#6f9,#7f8,#5fa,#4fb,#3fc,#1fd,#0ee,#1fd,#3fb,#5f9,#6f8,#6f8,#6f8,#6f8,#5f9,#5fa,#4fa,#4fa,#4fa,#4fa,#4fa,#5fa,#5fa,#5fa,#4fb,#3fb,#3fb,#4fb,#5fa,#5fa,#4fb,#3fb,#3fc,#2fc,#2fc,#1fd,#0df,#0bf,#09f,#07f,#06f,#05f,#06f,#07f,#09f,#0bf,#0ee,#3fc,#6f9,#af5,#fe0,#fa0,#fa0,#fe0,#bf3,#8f7,#6f9,#4fa,#4fb,#3fb,#3fc,#2fd,#0ee,#0cf,#0af,#08f,#06f,#06f,#06f,#08f,#0af,#0bf,#0df,#0df,#1fd,#3fb,#6f9,#9f6,#bf3,#df2,#cf2,#bf3,#bf4,#af5,#8f6,#6f8,#4fa,#3fc,#3fc,#3fc,#3fb,#4fb,#4fa,#5fa,#5f9,#6f9,#6f8,#7f8,#7f7,#8f7,#8f6,#8f6,#8f6,#8f7,#7f7,#6f8,#6f9,#5fa,#5fa,#4fa,#4fa,#4fa,#4fa,#4fa,#4fb,#3fb,#3fb,#3fc,#3fc,#3fc,#3fc,#3fc,#3fb,#4fb,#5fa,#5f9,#6f9,#6f8,#6f9,#5f9,#5fa,#4fa,#4fa,#5fa,#5fa,#5f9,#5f9,#5fa,#4fa,#6f8,#8f6,#8f7,#7f8,#0cf,#07f,#07f,#07f,#07f)"></i><i style="background:linear-gradient(#fc0,#fc0,#fc0,#fc0,#9f6,#2fd,#1fd,#2fc,#3fc,#3fc,#2fc,#2fd,#0df,#0bf,#0cf,#1fe,#2fc,#3fb,#5fa,#6f9,#7f8,#7f8,#6f8,#6f9,#5fa,#4fb,#3fb,#3fb,#4fa,#5f9,#6f9,#7f8,#7f7,#8f7,#5fa,#4fb,#3fb,#3fc,#2fc,#3fc,#4fa,#6f9,#6f8,#6f8,#6f9,#6f9,#5f9,#5f9,#5fa,#5fa,#5fa,#5fa,#5fa,#5f9,#5f9,#5f9,#5fa,#4fa,#4fb,#4fb,#5f9,#5f9,#4fa,#4fb,#3fb,#2fc,#1fd,#0ee,#0cf,#09f,#06f,#04f,#02f,#02f,#02f,#03f,#06f,#09f,#0cf,#2fd,#5f9,#bf4,#fc0,#f80,#f90,#fd0,#df1,#bf3,#9f5,#7f7,#5f9,#4fb,#3fc,#1fd,#0df,#0bf,#09f,#07f,#05f,#05f,#05f,#07f,#09f,#0bf,#0df,#0df,#1fd,#3fb,#5f9,#7f7,#9f5,#af4,#bf4,#bf4,#bf4,#bf4,#9f5,#7f7,#5f9,#4fb,#3fb,#3fb,#3fb,#4fb,#4fa,#5fa,#5f9,#6f9,#6f9,#6f9,#6f9,#6f8,#7f8,#7f7,#7f7,#7f8,#7f8,#6f8,#6f9,#5f9,#5fa,#4fa,#4fa,#4fa,#5fa,#5fa,#5fa,#4fa,#4fb,#4fb,#3fb,#3fb,#3fc,#3fb,#4fb,#4fa,#5f9,#6f9,#6f8,#6f8,#6f9,#5f9,#5f9,#5f9,#5f9,#6f9,#6f9,#6f9,#6f9,#5fa,#4fb,#6f9,#8f7,#7f7,#6f8,#0cf,#07f,#07f,#07f,#07f)"></i><i style="background:linear-gradient(#fc0,#fc0,#fc0,#fc0,#9f6,#3fc,#2fc,#3fc,#3fb,#3fc,#3fc,#2fc,#1ee,#0cf,#0ee,#2fc,#3fb,#4fb,#4fa,#5fa,#6f9,#6f9,#6f8,#6f9,#5fa,#4fa,#4fb,#4fa,#5f9,#7f8,#7f7,#8f7,#8f6,#8f6,#6f9,#5fa,#4fa,#4fb,#4fb,#4fb,#4fa,#5f9,#5f9,#6f9,#5f9,#5f9,#5fa,#5fa,#5fa,#5f9,#5f9,#5f9,#5f9,#6f9,#7f8,#7f8,#6f8,#5f9,#5fa,#5fa,#6f9,#5f9,#5fa,#4fa,#4fb,#3fb,#2fc,#1fd,#0ee,#0bf,#09f,#07f,#06f,#05f,#05f,#06f,#08f,#0bf,#0ee,#2fc,#6f9,#af4,#fe0,#fb0,#fc0,#ef0,#df1,#df1,#cf3,#9f5,#7f8,#4fa,#3fc,#1fd,#0df,#0bf,#0af,#08f,#07f,#06f,#07f,#08f,#0af,#0cf,#0df,#1ee,#2fd,#3fb,#5fa,#6f9,#7f8,#8f7,#9f5,#af4,#bf3,#bf3,#af4,#8f6,#6f9,#4fa,#3fb,#3fb,#3fb,#3fb,#4fb,#5fa,#5fa,#5f9,#5fa,#5fa,#5fa,#5f9,#6f9,#6f8,#6f8,#6f9,#6f9,#5fa,#4fa,#4fb,#3fb,#3fc,#3fc,#3fb,#4fb,#4fb,#4fa,#4fb,#4fb,#3fb,#3fc,#3fc,#3fc,#3fc,#3fb,#4fa,#5fa,#6f9,#6f9,#6f9,#5f9,#5fa,#5fa,#5fa,#6f9,#6f9,#6f9,#6f9,#5f9,#4fb,#3fb,#5f9,#7f7,#7f7,#6f8,#0cf,#07f,#07f,#07f,#07f)"></i><i style="background:linear-gradient(#fc0,#fc0,#fc0,#fc0,#9f5,#4fb,#4fb,#5fa,#5fa,#4fa,#4fb,#3fb,#2fc,#1fd,#2fc,#4fb,#4fa,#4fa,#4fb,#4fb,#4fa,#5fa,#5fa,#5fa,#4fa,#4fb,#4fb,#4fa,#5f9,#7f8,#7f7,#8f7,#8f6,#9f6,#7f7,#8f7,#8f6,#8f6,#7f8,#6f9,#5fa,#5fa,#5fa,#5f9,#5f9,#5fa,#5fa,#5fa,#5fa,#5fa,#5fa,#5fa,#6f9,#6f8,#7f7,#8f7,#7f7,#6f8,#5f9,#5fa,#5f9,#5fa,#4fa,#5fa,#5fa,#4fa,#4fb,#3fb,#3fc,#2fd,#1ee,#0df,#0cf,#0bf,#0bf,#0cf,#0df,#1fd,#2fc,#4fb,#6f9,#8f6,#bf3,#df1,#df1,#cf2,#cf3,#bf3,#af4,#8f6,#6f8,#4fa,#3fc,#2fd,#1ee,#0df,#0cf,#0bf,#0bf,#0af,#0bf,#0cf,#0df,#0ee,#1fd,#2fc,#3fb,#4fa,#5fa,#5f9,#5f9,#6f8,#8f6,#bf4,#cf3,#cf3,#bf4,#9f6,#6f8,#4fa,#3fb,#3fc,#3fc,#3fb,#4fb,#4fa,#5fa,#4fa,#4fa,#4fb,#4fa,#5fa,#5f9,#5f9,#6f9,#5f9,#5fa,#4fb,#3fb,#2fc,#1fd,#1fd,#1fd,#2fd,#2fc,#3fc,#3fc,#3fc,#2fc,#2fd,#1fd,#1fd,#1fd,#2fd,#2fc,#3fc,#4fb,#4fa,#4fa,#4fa,#4fb,#4fb,#4fb,#4fa,#5fa,#5f9,#5f9,#5fa,#4fb,#3fc,#2fc,#4fa,#7f8,#7f8,#5f9,#0cf,#07f,#07f,#07f,#07f)"></i><i style="background:linear-gradient(#fc0,#fc0,#fc0,#fc0,#af5,#5f9,#6f9,#7f8,#7f7,#6f8,#5f9,#4fa,#3fb,#2fd,#2fd,#2fc,#4fb,#4fa,#4fb,#3fb,#3fb,#4fb,#4fb,#4fa,#4fb,#3fc,#2fc,#3fc,#5fa,#6f8,#7f7,#8f6,#9f6,#af5,#9f5,#bf4,#df2,#df1,#bf4,#8f6,#6f8,#5f9,#5f9,#6f9,#6f9,#5f9,#5fa,#4fa,#4fb,#4fb,#4fb,#4fa,#5f9,#6f8,#7f7,#7f7,#7f8,#6f9,#5fa,#4fb,#4fa,#4fb,#3fb,#4fa,#4fa,#5fa,#5fa,#5fa,#5fa,#5fa,#4fa,#3fb,#2fc,#2fd,#2fd,#2fc,#3fc,#4fb,#4fb,#4fa,#5f9,#6f8,#7f7,#8f6,#8f7,#8f7,#7f7,#7f8,#6f8,#6f9,#5fa,#4fa,#3fb,#2fc,#2fd,#1fd,#1fe,#1ee,#1ee,#1fe,#1fd,#1fd,#2fd,#2fc,#3fc,#3fb,#4fb,#4fa,#5fa,#4fa,#4fa,#5f9,#7f7,#af4,#bf3,#cf3,#af4,#9f6,#7f8,#5fa,#3fb,#3fc,#3fc,#3fb,#3fb,#4fb,#4fb,#4fb,#4fb,#4fb,#4fa,#5fa,#5f9,#5f9,#5f9,#5f9,#5fa,#4fa,#3fb,#2fc,#1fd,#1fd,#2fd,#2fc,#3fc,#3fb,#3fb,#3fc,#2fc,#2fd,#1fd,#1fe,#1fd,#1fd,#2fc,#3fc,#4fb,#4fa,#4fa,#4fa,#4fa,#4fa,#4fa,#5fa,#5fa,#5fa,#5fa,#4fa,#3fb,#2fc,#2fd,#4fb,#6f8,#6f8,#5f9,#0bf,#07f,#07f,#07f,#07f)"></i><i style="background:linear-gradient(#fc0,#fc0,#fc0,#fc0,#bf4,#8f7,#8f7,#9f6,#9f5,#8f6,#7f8,#5fa,#2fd,#0bf,#08f,#0af,#0ee,#3fb,#4fb,#4fb,#3fb,#3fb,#4fb,#4fb,#3fc,#0ef,#0af,#0bf,#2fc,#6f9,#9f6,#bf4,#cf3,#bf3,#af5,#af5,#bf4,#bf4,#af5,#8f7,#7f8,#6f9,#6f8,#6f8,#6f8,#6f9,#5fa,#3fb,#3fc,#3fc,#3fb,#4fa,#5f9,#6f8,#6f8,#6f8,#5f9,#4fa,#3fb,#2fc,#3fc,#2fc,#2fc,#3fc,#4fb,#4fb,#4fa,#5fa,#5f9,#6f9,#6f8,#6f9,#5f9,#4fa,#4fa,#4fa,#5fa,#5fa,#5f9,#6f9,#6f9,#5f9,#4fb,#2fc,#1fd,#1fd,#1fd,#2fd,#3fc,#3fb,#4fb,#4fb,#3fb,#3fc,#2fc,#2fc,#2fc,#2fc,#3fc,#3fc,#3fb,#3fb,#3fb,#4fb,#4fb,#4fb,#4fa,#4fa,#4fa,#4fb,#4fb,#4fa,#6f9,#9f6,#af4,#bf4,#af5,#9f6,#8f7,#6f9,#4fa,#4fb,#4fb,#4fa,#4fa,#5fa,#4fa,#4fa,#4fa,#4fa,#4fa,#5fa,#5fa,#5fa,#5fa,#5fa,#4fa,#4fb,#3fc,#2fc,#2fd,#2fd,#2fc,#3fc,#4fb,#4fb,#4fb,#4fb,#3fb,#3fc,#2fc,#2fc,#3fc,#3fb,#4fb,#4fa,#5f9,#6f9,#6f9,#6f9,#6f9,#6f9,#6f9,#6f9,#5f9,#5f9,#5fa,#4fa,#4fb,#3fc,#2fc,#4fa,#7f8,#6f8,#5fa,#0bf,#07f,#07f,#07f,#07f)"></i><i style="background:linear-gradient(#fc0,#fc0,#fc0,#fc0,#bf3,#9f6,#9f6,#af5,#af4,#9f5,#8f7,#5fa,#0ee,#07f,#02f,#04f,#0bf,#2fc,#4fa,#4fa,#4fb,#4fb,#4fb,#3fb,#2fd,#09f,#03f,#04f,#0df,#6f9,#9f5,#cf3,#df1,#cf3,#9f6,#7f8,#7f7,#7f7,#7f7,#7f8,#6f8,#6f8,#6f8,#6f8,#6f8,#5f9,#4fa,#3fc,#2fc,#2fc,#3fb,#5fa,#6f9,#6f8,#6f8,#6f9,#5fa,#4fb,#3fc,#2fd,#2fc,#2fd,#1fd,#2fd,#3fc,#3fb,#4fb,#5fa,#6f9,#7f8,#7f8,#7f8,#7f8,#6f8,#6f8,#6f8,#6f8,#6f8,#8f7,#af5,#9f6,#5f9,#0ee,#0af,#08f,#08f,#09f,#0bf,#0df,#1fd,#3fc,#4fb,#4fb,#3fb,#3fc,#3fc,#3fc,#3fc,#3fb,#4fb,#4fb,#4fb,#4fb,#4fb,#4fa,#3fb,#3fb,#3fb,#3fb,#3fb,#3fc,#3fb,#5fa,#7f7,#9f5,#af5,#9f5,#9f5,#9f6,#7f8,#5fa,#4fb,#4fb,#4fb,#4fa,#4fa,#4fa,#4fa,#4fa,#4fa,#4fa,#4fa,#4fb,#3fb,#3fb,#3fb,#3fb,#3fc,#2fc,#2fd,#1fd,#2fd,#2fc,#3fb,#4fb,#4fa,#4fa,#4fb,#4fb,#3fb,#3fb,#4fb,#4fb,#4fa,#5fa,#5f9,#6f9,#6f8,#6f8,#6f9,#6f9,#6f9,#6f9,#6f9,#6f9,#6f9,#5f9,#5fa,#4fa,#3fb,#3fc,#5f9,#7f7,#7f8,#5f9,#0bf,#07f,#07f,#07f,#07f)"></i><i style="background:linear-gradient(#fc0,#fc0,#fc0,#fc0,#bf3,#8f6,#8f7,#9f6,#af5,#9f5,#8f6,#6f8,#2fc,#0af,#06f,#08f,#0df,#4fb,#5f9,#5f9,#4fa,#4fb,#4fb,#4fb,#3fc,#0df,#08f,#09f,#1fe,#5f9,#7f7,#9f6,#9f5,#9f6,#5f9,#5fa,#6f9,#6f8,#6f8,#6f8,#6f9,#5f9,#5f9,#5f9,#5f9,#5fa,#4fb,#3fc,#2fc,#3fc,#4fb,#5f9,#6f8,#7f8,#6f8,#6f9,#5fa,#4fb,#3fc,#3fc,#3fb,#2fc,#2fd,#2fd,#2fc,#3fc,#4fb,#5fa,#6f8,#7f7,#7f7,#7f7,#7f8,#7f8,#7f8,#7f8,#7f8,#8f7,#af5,#cf2,#cf3,#7f7,#1fd,#09f,#07f,#07f,#08f,#0af,#0df,#1fd,#3fc,#4fb,#4fa,#4fb,#3fb,#3fc,#3fc,#3fb,#3fb,#4fb,#4fb,#4fb,#4fb,#4fb,#4fb,#3fb,#3fb,#4fb,#4fb,#3fb,#3fc,#3fc,#4fb,#6f8,#8f6,#9f6,#9f5,#af5,#9f5,#8f7,#6f9,#4fa,#4fb,#4fa,#5fa,#5fa,#5fa,#4fa,#5fa,#5fa,#5fa,#4fa,#4fb,#3fb,#3fc,#3fc,#2fc,#2fc,#2fd,#2fd,#1fd,#2fd,#2fc,#3fb,#4fb,#4fb,#4fb,#3fb,#3fb,#3fc,#3fb,#4fb,#4fa,#5fa,#5fa,#5fa,#5f9,#5f9,#5f9,#5f9,#5f9,#5f9,#6f9,#6f8,#6f8,#6f8,#6f8,#6f9,#5f9,#4fa,#4fb,#6f9,#8f7,#7f8,#5fa,#0bf,#07f,#07f,#07f,#07f)"></i><i style="background:linear-gradient(#fc0,#fc0,#fc0,#fc0,#af4,#7f8,#6f9,#7f8,#8f6,#9f6,#9f6,#8f7,#6f9,#3fb,#2fd,#2fc,#4fb,#5f9,#6f9,#5f9,#5fa,#4fa,#4fb,#4fb,#4fb,#3fb,#2fc,#3fc,#4fb,#5f9,#6f9,#6f9,#5f9,#4fa,#1fd,#2fc,#4fa,#6f9,#6f9,#6f9,#5fa,#4fa,#4fa,#4fa,#4fa,#4fb,#4fb,#3fb,#3fb,#4fb,#5fa,#6f9,#6f8,#7f8,#6f8,#5f9,#4fa,#4fb,#3fb,#3fb,#4fa,#4fb,#3fc,#3fc,#3fc,#3fb,#4fa,#5f9,#7f8,#7f7,#7f7,#7f8,#6f8,#6f9,#6f9,#6f9,#6f8,#7f7,#8f6,#af4,#af4,#9f6,#5fa,#2fd,#0df,#0df,#0df,#1fe,#2fc,#3fb,#5fa,#5f9,#5f9,#5fa,#4fa,#3fb,#3fb,#3fb,#3fb,#4fb,#4fb,#4fb,#3fb,#3fb,#3fb,#3fb,#4fb,#4fa,#4fb,#3fb,#2fc,#2fd,#3fc,#5f9,#7f7,#8f6,#9f5,#af5,#af5,#9f6,#7f8,#5fa,#4fa,#4fa,#5fa,#5fa,#5fa,#5fa,#5f9,#5f9,#5f9,#5f9,#5fa,#4fb,#3fb,#3fb,#3fc,#3fc,#2fc,#2fc,#2fd,#2fc,#3fc,#4fb,#4fa,#4fa,#4fb,#3fb,#3fc,#3fc,#3fb,#4fb,#4fa,#4fa,#4fa,#4fa,#5fa,#5fa,#5fa,#5fa,#5fa,#5fa,#5f9,#6f9,#6f9,#6f8,#6f9,#6f9,#5f9,#4fa,#4fb,#6f9,#7f7,#6f8,#4fb,#0bf,#07f,#07f,#07f,#07f)"></i><i style="background:linear-gradient(#fc0,#fc0,#fc0,#fc0,#af5,#4fa,#4fb,#5f9,#7f8,#8f7,#9f6,#9f6,#8f6,#7f7,#6f8,#6f9,#6f9,#6f9,#6f9,#6f9,#5f9,#5fa,#4fa,#4fa,#4fa,#5fa,#5fa,#5f9,#5f9,#6f9,#5f9,#5fa,#4fb,#1ee,#0af,#0df,#4fb,#5f9,#6f9,#5f9,#5fa,#4fa,#4fb,#4fb,#4fb,#4fb,#4fb,#4fa,#4fa,#5fa,#5f9,#6f9,#6f9,#6f9,#5f9,#4fa,#4fb,#3fb,#3fb,#4fb,#5f9,#5fa,#4fa,#4fb,#3fc,#2fc,#3fb,#5f9,#6f8,#7f8,#7f8,#6f9,#5f9,#4fa,#4fa,#5fa,#4fa,#4fb,#4fb,#3fb,#3fb,#3fc,#2fd,#1fd,#1fd,#2fd,#2fc,#3fb,#4fa,#5f9,#6f9,#6f9,#6f9,#5f9,#5fa,#4fb,#3fb,#3fb,#4fb,#4fa,#4fa,#4fa,#4fb,#3fb,#3fb,#3fb,#4fb,#4fa,#4fb,#3fc,#1fd,#0ee,#2fd,#4fa,#7f8,#8f7,#9f6,#9f5,#9f5,#9f5,#8f7,#5f9,#4fa,#4fa,#5fa,#5fa,#5fa,#5fa,#5f9,#5f9,#6f9,#6f9,#6f9,#5f9,#4fa,#4fb,#4fb,#3fb,#3fb,#3fb,#3fb,#3fb,#4fb,#5fa,#5f9,#5f9,#5f9,#5fa,#4fa,#4fb,#4fa,#4fa,#5fa,#5fa,#5fa,#4fa,#4fa,#5fa,#5fa,#5fa,#5fa,#5fa,#5fa,#5fa,#5fa,#5f9,#5f9,#5fa,#5fa,#4fb,#4fb,#6f9,#7f7,#6f9,#3fb,#0af,#07f,#07f,#07f,#07f)"></i><i style="background:linear-gradient(#fc0,#fc0,#fc0,#fc0,#9f5,#3fb,#3fc,#4fb,#5f9,#7f8,#8f7,#8f6,#8f7,#7f7,#7f8,#6f8,#6f9,#6f9,#6f9,#6f9,#6f9,#5f9,#5fa,#4fa,#4fa,#5fa,#5f9,#6f9,#6f9,#6f8,#6f9,#5f9,#3fb,#0cf,#07f,#0bf,#3fb,#6f9,#6f8,#6f9,#5f9,#5fa,#4fa,#4fb,#4fb,#4fa,#4fa,#5fa,#5f9,#6f9,#6f9,#6f9,#5f9,#5f9,#4fa,#4fb,#3fb,#3fb,#4fb,#5fa,#6f8,#6f8,#5f9,#4fb,#1fe,#0df,#1fe,#3fb,#5f9,#5f9,#5f9,#5fa,#4fb,#4fb,#5fa,#5f9,#2fc,#0cf,#08f,#06f,#05f,#05f,#07f,#09f,#0bf,#0df,#1fd,#3fc,#4fa,#5fa,#6f9,#5f9,#5f9,#5fa,#4fa,#4fb,#3fb,#4fb,#4fa,#5fa,#5fa,#5fa,#4fa,#4fa,#4fb,#4fb,#4fb,#4fa,#4fb,#3fc,#1fe,#0ee,#1fd,#4fb,#6f9,#7f7,#8f7,#8f6,#8f6,#af5,#9f6,#6f9,#5fa,#5fa,#5fa,#4fa,#4fa,#5fa,#5f9,#6f9,#6f8,#7f8,#6f8,#6f9,#5f9,#5fa,#4fa,#4fb,#4fb,#4fb,#4fb,#4fb,#4fa,#5f9,#6f9,#6f9,#6f9,#5f9,#5f9,#5fa,#5fa,#5fa,#5fa,#4fa,#4fb,#4fb,#4fb,#4fb,#4fb,#4fb,#4fb,#4fb,#4fb,#4fb,#4fb,#4fb,#4fb,#4fb,#4fb,#3fb,#3fb,#5f9,#7f7,#6f9,#4fb,#0af,#07f,#07f,#07f,#07f)"></i><i style="background:linear-gradient(#fc0,#fc0,#fc0,#fc0,#9f5,#3fc,#2fc,#4fb,#5fa,#6f9,#6f8,#7f8,#6f8,#6f9,#6f9,#5f9,#5f9,#5f9,#6f9,#6f8,#6f8,#5f9,#5fa,#4fa,#4fb,#4fa,#5fa,#6f9,#6f8,#6f8,#6f9,#5fa,#3fc,#0bf,#07f,#0bf,#4fb,#6f9,#6f9,#6f9,#6f9,#6f9,#5fa,#4fa,#4fa,#4fa,#5fa,#5f9,#6f9,#6f9,#6f8,#6f9,#5f9,#5fa,#4fa,#3fb,#3fb,#3fb,#4fb,#5f9,#7f7,#7f8,#6f9,#3fb,#0df,#0bf,#0df,#2fd,#3fb,#4fb,#4fb,#4fb,#4fb,#5fa,#9f5,#cf3,#6f8,#0cf,#08f,#05f,#04f,#05f,#06f,#09f,#0bf,#0ee,#2fd,#3fc,#4fb,#4fa,#5fa,#5fa,#4fa,#4fa,#4fb,#3fb,#3fb,#4fb,#4fa,#5fa,#5f9,#5f9,#5fa,#5fa,#4fa,#4fb,#4fb,#4fb,#4fb,#3fc,#1fd,#1fe,#2fd,#4fb,#6f9,#7f8,#7f8,#7f8,#8f7,#af5,#9f6,#6f9,#5fa,#5fa,#4fa,#4fb,#4fb,#4fb,#4fa,#5fa,#6f9,#6f8,#6f8,#5f9,#5fa,#4fb,#3fc,#2fc,#2fc,#2fc,#2fc,#2fc,#3fc,#3fb,#4fa,#5fa,#5fa,#5fa,#5fa,#5fa,#5fa,#5fa,#5fa,#4fa,#3fb,#3fc,#3fc,#3fb,#4fb,#4fb,#4fb,#4fb,#4fb,#4fb,#4fb,#4fb,#4fb,#3fb,#3fb,#3fc,#3fc,#5f9,#7f7,#7f8,#4fa,#0bf,#07f,#07f,#07f,#07f)"></i><i style="background:linear-gradient(#fc0,#fc0,#fc0,#fc0,#9f5,#3fb,#3fc,#4fb,#5f9,#5f9,#6f9,#5f9,#5fa,#5fa,#5fa,#5fa,#4fa,#5f9,#6f9,#6f8,#6f8,#5f9,#4fa,#4fb,#4fb,#4fa,#5fa,#6f9,#6f8,#6f9,#5f9,#4fa,#2fc,#0df,#0af,#0df,#4fb,#4fa,#2fc,#2fd,#4fa,#6f9,#5f9,#5fa,#4fa,#4fa,#5fa,#5fa,#5f9,#5f9,#5f9,#5f9,#4fa,#4fb,#3fb,#3fc,#3fc,#3fb,#4fb,#5f9,#7f8,#7f8,#5f9,#4fb,#1fe,#0df,#0ef,#1fd,#2fc,#3fc,#3fc,#3fb,#4fb,#7f8,#df1,#fa0,#ef1,#6f9,#2fd,#1fd,#1fd,#2fd,#3fc,#3fb,#4fb,#4fa,#4fa,#5fa,#5fa,#4fa,#4fa,#4fa,#4fb,#4fb,#3fb,#3fb,#3fb,#4fb,#4fa,#4fa,#5fa,#5f9,#5f9,#5f9,#5fa,#5fa,#4fa,#4fa,#4fb,#3fb,#2fc,#2fc,#3fc,#4fa,#6f9,#6f8,#6f8,#6f8,#7f7,#af5,#9f6,#6f9,#5fa,#4fa,#4fb,#3fb,#3fc,#3fc,#3fc,#3fb,#4fa,#5fa,#5fa,#4fa,#3fb,#2fc,#2fd,#1fd,#1fd,#1fd,#1fd,#1fd,#2fd,#2fc,#3fc,#3fb,#4fb,#4fa,#4fa,#5fa,#5f9,#5f9,#5fa,#4fa,#4fb,#3fb,#3fb,#4fb,#4fa,#5fa,#5f9,#5f9,#5f9,#5f9,#5f9,#5fa,#4fa,#4fb,#3fb,#2fc,#2fc,#5fa,#7f8,#7f8,#5fa,#0bf,#07f,#07f,#07f,#07f)"></i><i style="background:linear-gradient(#fc0,#fc0,#fc0,#fc0,#9f5,#4fb,#3fb,#4fa,#5f9,#5f9,#5f9,#5fa,#4fa,#5fa,#6f9,#5f9,#5fa,#5f9,#6f9,#6f8,#6f9,#5f9,#4fa,#4fa,#4fa,#4fa,#5fa,#6f9,#6f8,#6f8,#5f9,#4fb,#2fc,#1fe,#0cf,#1fe,#3fc,#1fe,#0af,#09f,#1ee,#5fa,#5f9,#5fa,#4fa,#4fa,#4fa,#5fa,#5fa,#4fa,#4fa,#4fb,#3fb,#3fc,#2fc,#2fd,#2fd,#2fc,#3fb,#4fa,#6f9,#6f9,#5fa,#4fb,#2fd,#1ee,#1ee,#1fd,#2fc,#2fc,#2fc,#3fc,#4fb,#5f9,#8f6,#bf3,#9f5,#6f9,#4fa,#4fa,#5f9,#6f8,#7f8,#7f7,#7f7,#7f8,#6f8,#6f9,#5f9,#5fa,#5fa,#5fa,#5fa,#5fa,#4fa,#4fa,#4fa,#4fa,#4fa,#4fa,#5fa,#5f9,#5f9,#5f9,#5f9,#6f9,#5fa,#4fa,#4fb,#3fb,#3fb,#3fb,#4fb,#5fa,#6f9,#6f8,#6f8,#6f8,#7f8,#9f6,#8f7,#6f9,#4fa,#4fb,#3fb,#3fc,#2fc,#2fd,#2fc,#3fc,#3fb,#4fb,#4fa,#4fb,#3fc,#2fc,#2fd,#1fd,#1fd,#1fd,#1fd,#1fd,#2fd,#2fd,#2fc,#2fc,#3fc,#4fb,#4fa,#5fa,#5fa,#5fa,#5fa,#4fa,#4fb,#3fb,#3fb,#3fb,#4fb,#4fa,#5fa,#5fa,#5fa,#5fa,#5fa,#4fa,#4fb,#3fb,#2fc,#1fd,#1ee,#3fb,#6f9,#6f9,#4fa,#0bf,#07f,#07f,#07f,#07f)"></i><i style="background:linear-gradient(#fc0,#fc0,#fc0,#fc0,#9f5,#4fb,#3fc,#4fa,#5f9,#5f9,#5f9,#5fa,#5fa,#6f9,#7f7,#7f8,#6f9,#6f9,#6f8,#6f8,#5f9,#5fa,#4fa,#4fb,#4fb,#4fa,#5f9,#6f8,#7f8,#7f8,#6f9,#4fa,#3fc,#2fc,#0ee,#2fd,#3fc,#0ee,#08f,#07f,#0df,#5fa,#6f9,#6f9,#5f9,#5fa,#5fa,#5fa,#4fa,#4fb,#3fb,#3fc,#2fc,#2fd,#1fe,#1ee,#1ee,#1fd,#2fc,#3fb,#5fa,#5fa,#4fb,#3fb,#2fd,#0df,#0df,#1fd,#2fc,#2fc,#2fc,#2fc,#2fc,#2fd,#1ee,#0df,#0cf,#0df,#1fd,#3fc,#4fa,#5f9,#6f8,#7f8,#7f7,#7f7,#7f8,#6f9,#5f9,#5f9,#5f9,#6f9,#6f9,#6f8,#6f9,#5f9,#5fa,#5fa,#4fa,#4fa,#4fa,#5fa,#5f9,#5f9,#5f9,#5f9,#4fa,#4fb,#3fb,#3fc,#3fc,#3fb,#4fb,#5fa,#6f9,#6f9,#6f9,#6f9,#6f8,#8f7,#7f8,#5fa,#4fb,#3fb,#3fc,#2fc,#2fd,#2fd,#2fd,#2fd,#2fc,#3fc,#3fc,#3fc,#2fc,#2fd,#1fd,#1fe,#1fd,#1fd,#2fd,#2fd,#2fd,#2fd,#2fd,#2fd,#2fc,#3fb,#4fb,#4fa,#5fa,#5fa,#4fa,#4fa,#4fb,#3fb,#3fc,#3fc,#3fb,#4fb,#4fb,#4fa,#4fa,#5fa,#5fa,#4fa,#4fb,#3fb,#2fc,#1ee,#0ee,#3fc,#5f9,#5f9,#4fb,#0bf,#07f,#07f,#07f,#07f)"></i><i style="background:linear-gradient(#fc0,#fc0,#fc0,#fc0,#9f5,#4fb,#3fb,#4fb,#5fa,#5f9,#5fa,#4fa,#5fa,#6f8,#9f6,#8f6,#7f8,#6f8,#6f9,#5fa,#3fb,#1fd,#1ee,#1fd,#2fc,#3fb,#5fa,#6f8,#7f7,#7f7,#7f8,#5f9,#4fb,#4fb,#2fd,#2fc,#3fb,#2fc,#0df,#0df,#3fb,#6f8,#7f7,#7f8,#7f8,#6f8,#5f9,#4fa,#4fb,#3fb,#3fc,#2fc,#2fd,#1fd,#1ee,#0ee,#1ee,#1fd,#2fd,#2fc,#4fb,#4fb,#3fb,#3fc,#1fd,#0cf,#0cf,#1fd,#3fc,#3fc,#2fc,#2fd,#1fd,#0df,#0af,#07f,#07f,#09f,#0cf,#1fd,#3fc,#4fb,#5f9,#6f8,#7f8,#7f7,#7f8,#6f8,#5f9,#5f9,#6f9,#6f8,#7f8,#7f8,#7f8,#6f8,#5f9,#5fa,#4fa,#4fb,#4fa,#4fa,#5fa,#5fa,#5fa,#6f9,#5fa,#4fa,#4fb,#3fb,#3fb,#3fb,#4fb,#5fa,#5f9,#6f9,#6f9,#5f9,#6f9,#6f8,#6f9,#4fb,#3fb,#3fc,#2fc,#2fc,#2fd,#2fd,#2fd,#2fd,#2fd,#2fd,#2fd,#2fd,#1fd,#1fd,#1fe,#1ee,#1fe,#1fd,#2fc,#3fc,#3fc,#3fc,#2fc,#2fc,#3fc,#4fb,#4fa,#5fa,#5f9,#5f9,#5fa,#5fa,#4fa,#4fb,#4fb,#3fb,#3fb,#3fb,#4fb,#4fb,#4fa,#5fa,#5fa,#5fa,#4fa,#4fb,#3fb,#2fd,#1fd,#3fb,#6f9,#6f8,#5f9,#0bf,#07f,#07f,#07f,#07f)"></i><i style="background:linear-gradient(#fc0,#fc0,#fc0,#fc0,#af5,#5fa,#4fb,#5fa,#5f9,#5f9,#5fa,#4fa,#5fa,#7f7,#af5,#9f6,#7f7,#6f8,#5f9,#3fc,#0cf,#09f,#07f,#0af,#0df,#2fc,#4fa,#6f9,#7f8,#7f8,#6f8,#5f9,#5fa,#5fa,#2fc,#3fc,#4fa,#5fa,#5fa,#5f9,#7f8,#8f6,#8f6,#8f6,#8f7,#6f8,#5fa,#3fb,#2fc,#2fc,#3fc,#3fc,#2fc,#2fd,#1fd,#1fd,#2fd,#2fd,#2fc,#2fc,#4fb,#3fb,#3fc,#3fc,#2fd,#0cf,#0cf,#2fd,#3fb,#4fb,#3fb,#3fc,#3fc,#2fc,#1fd,#0ee,#0df,#1ee,#2fd,#2fc,#3fc,#3fb,#4fa,#6f9,#7f8,#7f7,#7f8,#6f8,#5f9,#5f9,#6f9,#6f8,#7f8,#7f8,#6f8,#6f9,#5fa,#4fa,#4fb,#4fb,#4fb,#4fa,#4fa,#4fa,#4fa,#5f9,#5f9,#5fa,#4fa,#4fa,#4fb,#4fb,#4fa,#4fa,#5fa,#5fa,#5fa,#5fa,#5fa,#5f9,#4fa,#4fb,#3fb,#3fb,#3fb,#3fb,#3fb,#3fb,#3fb,#3fc,#3fc,#3fc,#3fc,#2fc,#2fc,#2fd,#1fd,#1fd,#1fd,#2fd,#3fc,#4fb,#4fb,#4fb,#3fb,#3fc,#3fb,#4fb,#4fa,#5fa,#5fa,#5f9,#5f9,#5fa,#5fa,#4fa,#4fb,#3fb,#3fb,#3fb,#3fb,#3fb,#4fb,#4fa,#5fa,#5fa,#5fa,#5fa,#4fa,#3fb,#3fc,#5f9,#8f7,#8f6,#7f7,#0cf,#07f,#07f,#07f,#07f)"></i><i style="background:linear-gradient(#fc0,#fc0,#fc0,#fc0,#af4,#6f8,#5fa,#5f9,#5f9,#5fa,#5fa,#4fa,#5fa,#7f7,#af5,#9f5,#8f7,#6f8,#4fa,#2fd,#0cf,#09f,#08f,#0af,#0df,#2fd,#4fb,#5fa,#6f9,#5f9,#4fa,#4fa,#5fa,#5fa,#3fc,#3fc,#4fa,#5f9,#6f8,#7f7,#8f6,#9f6,#9f6,#8f6,#7f7,#6f9,#3fc,#1ee,#0ee,#1fe,#2fc,#3fb,#4fb,#3fb,#3fb,#3fb,#3fb,#3fb,#3fb,#3fb,#4fb,#4fb,#3fb,#3fb,#2fc,#0ee,#0ee,#3fc,#4fa,#5fa,#4fa,#4fa,#4fb,#4fb,#4fa,#4fa,#4fb,#4fb,#3fb,#3fb,#3fb,#3fb,#4fa,#5f9,#6f8,#7f8,#6f8,#6f9,#5f9,#5f9,#6f9,#6f9,#6f9,#6f9,#5f9,#5fa,#4fb,#3fb,#3fb,#3fb,#4fb,#4fb,#4fa,#4fa,#4fa,#5f9,#5fa,#5fa,#4fa,#4fb,#4fb,#4fb,#4fb,#4fb,#4fb,#4fa,#4fb,#4fb,#4fb,#4fa,#4fb,#3fb,#3fb,#4fb,#4fb,#4fa,#4fa,#4fa,#4fa,#4fa,#4fb,#4fb,#3fb,#3fb,#3fc,#2fc,#2fd,#2fd,#1fd,#2fd,#3fc,#4fb,#4fb,#4fb,#3fc,#3fc,#3fc,#3fb,#4fb,#4fb,#4fa,#4fa,#5fa,#5fa,#5fa,#5fa,#4fa,#4fb,#3fb,#3fb,#3fb,#3fb,#4fb,#4fb,#4fb,#4fa,#4fa,#4fa,#4fa,#3fc,#3fc,#5f9,#8f7,#8f7,#7f8,#0cf,#07f,#07f,#07f,#07f)"></i><i style="background:linear-gradient(#fc0,#fc0,#fc0,#fc0,#af4,#6f8,#5fa,#5fa,#5fa,#4fa,#4fb,#4fa,#5f9,#7f7,#af5,#9f5,#7f7,#5f9,#4fb,#2fc,#1fd,#2fd,#3fc,#4fb,#4fb,#3fb,#3fc,#2fc,#2fc,#2fd,#0ee,#1fd,#4fb,#5fa,#3fb,#4fa,#5f9,#5f9,#6f8,#7f7,#8f7,#8f6,#8f7,#7f7,#6f8,#4fa,#1fd,#0cf,#0bf,#0df,#1fd,#3fb,#4fa,#5fa,#5fa,#5fa,#5fa,#4fa,#4fa,#4fb,#5fa,#4fa,#4fb,#4fb,#3fb,#2fc,#3fc,#4fa,#5f9,#5f9,#5f9,#5fa,#5fa,#4fa,#4fa,#4fa,#4fa,#4fb,#4fb,#3fb,#3fb,#3fb,#4fb,#5fa,#6f9,#6f9,#5f9,#5fa,#5fa,#5fa,#6f9,#6f9,#5f9,#5fa,#4fa,#4fb,#3fb,#3fc,#3fc,#3fc,#3fb,#4fb,#4fa,#4fa,#4fa,#4fa,#4fa,#4fb,#3fb,#3fb,#3fb,#3fb,#4fb,#4fb,#4fb,#4fb,#4fb,#3fb,#3fb,#3fb,#3fb,#3fb,#4fb,#4fb,#4fa,#4fa,#4fa,#4fa,#4fa,#4fa,#4fa,#4fb,#4fb,#3fb,#3fb,#3fc,#2fc,#2fd,#2fd,#2fd,#3fc,#3fb,#4fb,#3fb,#3fc,#3fc,#3fc,#3fb,#3fb,#3fb,#3fb,#4fb,#4fa,#5fa,#5fa,#4fa,#4fb,#3fb,#3fb,#3fb,#3fb,#3fb,#3fb,#3fb,#3fb,#3fb,#3fb,#4fb,#3fb,#2fc,#2fc,#4fa,#7f8,#7f8,#5f9,#0bf,#07f,#07f,#07f,#07f)"></i><i style="background:linear-gradient(#fc0,#fc0,#fc0,#fc0,#af5,#4fa,#3fc,#3fb,#3fb,#3fb,#3fb,#3fb,#5fa,#7f8,#9f6,#8f7,#5f9,#4fb,#3fc,#2fc,#3fb,#6f8,#bf4,#cf3,#9f5,#5fa,#0ee,#0af,#0af,#0bf,#09f,#0bf,#3fc,#5fa,#6f9,#8f6,#8f6,#7f8,#6f8,#7f8,#7f7,#7f7,#6f8,#6f9,#5fa,#3fb,#1ee,#0cf,#0bf,#0cf,#1fe,#3fc,#4fa,#5f9,#6f9,#6f9,#5f9,#5fa,#5fa,#4fa,#5f9,#5f9,#4fa,#5fa,#4fa,#4fb,#4fa,#5fa,#6f9,#6f9,#6f9,#6f9,#5f9,#5fa,#4fa,#4fa,#4fb,#4fb,#4fb,#4fb,#4fb,#4fb,#4fa,#5f9,#6f9,#5f9,#5fa,#4fa,#4fa,#5fa,#6f9,#6f9,#5f9,#5fa,#4fb,#3fb,#3fc,#2fc,#2fc,#2fc,#3fc,#3fb,#4fb,#4fa,#4fa,#3fb,#3fb,#3fc,#3fc,#3fc,#3fb,#3fb,#4fb,#4fb,#4fb,#4fb,#4fb,#4fb,#3fb,#3fb,#3fb,#3fb,#4fb,#4fb,#4fb,#4fa,#4fa,#4fa,#4fa,#4fb,#4fb,#3fb,#3fb,#3fb,#3fb,#3fc,#3fc,#2fc,#2fc,#2fc,#3fc,#3fb,#4fb,#4fb,#4fb,#4fb,#4fa,#4fa,#4fa,#4fa,#4fa,#5fa,#5f9,#5f9,#5fa,#5fa,#4fa,#4fb,#4fb,#4fb,#4fb,#4fb,#4fb,#3fb,#3fc,#3fc,#3fc,#3fc,#3fc,#2fd,#2fd,#4fb,#6f9,#5f9,#4fb,#0bf,#07f,#07f,#07f,#07f)"></i><i style="background:linear-gradient(#fc0,#fc0,#fc0,#fc0,#9f6,#1fd,#0ee,#1fd,#2fc,#2fc,#3fc,#3fb,#4fa,#6f9,#7f8,#6f9,#3fb,#2fd,#1fd,#2fd,#3fc,#5f9,#9f6,#af5,#8f7,#4fa,#0df,#08f,#08f,#0af,#06f,#09f,#2fc,#5fa,#6f8,#9f6,#9f5,#7f7,#6f9,#6f9,#6f8,#6f8,#5f9,#4fa,#4fb,#3fb,#2fd,#0ee,#0df,#0ef,#1fe,#2fc,#4fa,#5f9,#6f8,#6f8,#6f9,#5f9,#5fa,#5fa,#6f9,#6f9,#5f9,#5f9,#5fa,#5fa,#5fa,#5fa,#6f9,#6f8,#6f8,#6f8,#6f9,#5f9,#5f9,#5fa,#5fa,#5f9,#6f8,#6f8,#6f9,#5f9,#6f9,#6f9,#6f8,#6f9,#5fa,#4fa,#4fa,#5fa,#5f9,#5f9,#5fa,#4fa,#4fb,#3fb,#3fc,#2fd,#2fd,#2fd,#2fc,#3fc,#3fb,#4fb,#4fb,#3fb,#3fc,#3fc,#3fc,#3fc,#3fb,#4fb,#4fa,#5fa,#5fa,#5fa,#5fa,#5fa,#5fa,#4fa,#4fa,#4fa,#4fa,#4fa,#4fa,#4fa,#4fa,#4fb,#4fb,#3fb,#3fc,#3fc,#3fc,#3fc,#3fb,#3fb,#3fb,#3fb,#3fb,#3fb,#3fb,#4fb,#4fa,#5fa,#5fa,#5f9,#5f9,#5f9,#5f9,#5f9,#5f9,#6f9,#6f9,#6f9,#6f9,#5f9,#5fa,#5fa,#5fa,#5fa,#5f9,#5f9,#5fa,#4fa,#4fb,#3fb,#3fb,#3fb,#3fb,#2fc,#2fc,#4fa,#6f8,#6f9,#4fb,#0bf,#07f,#07f,#07f,#07f)"></i><i style="background:linear-gradient(#fc0,#fc0,#fc0,#fc0,#8f7,#0df,#0cf,#0ee,#2fd,#3fc,#3fb,#4fb,#4fa,#4fa,#5fa,#4fb,#2fd,#1fd,#1fe,#1fd,#2fd,#3fc,#4fb,#4fa,#4fa,#4fb,#3fc,#1fe,#1ee,#0cf,#08f,#0bf,#2fc,#4fa,#4fa,#6f9,#6f8,#6f9,#5f9,#6f9,#6f9,#5f9,#4fa,#3fb,#3fc,#3fb,#3fc,#2fc,#2fd,#1fd,#1fd,#2fc,#4fb,#5fa,#6f9,#6f8,#6f9,#5f9,#4fa,#4fa,#5f9,#6f9,#5f9,#5f9,#5fa,#4fa,#4fa,#4fa,#5f9,#6f9,#6f8,#6f8,#6f8,#6f8,#6f8,#7f8,#7f7,#9f5,#bf4,#bf3,#af4,#8f6,#7f7,#7f8,#7f8,#6f8,#5f9,#4fa,#4fb,#4fa,#5fa,#5fa,#5fa,#4fa,#4fb,#3fb,#3fc,#2fc,#2fd,#2fd,#2fd,#3fc,#3fb,#3fb,#3fb,#2fd,#2fd,#2fd,#2fd,#2fc,#3fc,#4fb,#4fa,#4fa,#5fa,#5fa,#5f9,#5f9,#5f9,#5f9,#5f9,#5f9,#5f9,#5f9,#5f9,#5f9,#5fa,#4fa,#4fb,#3fb,#3fc,#3fc,#3fc,#3fc,#3fb,#4fb,#4fb,#4fb,#4fb,#4fb,#4fb,#4fa,#5fa,#5fa,#5f9,#5f9,#6f9,#6f9,#6f9,#6f9,#6f9,#6f9,#6f9,#6f9,#6f9,#6f9,#6f8,#6f8,#6f8,#7f8,#7f8,#7f8,#7f8,#6f8,#5f9,#5fa,#5fa,#5fa,#5fa,#4fa,#4fa,#6f8,#8f6,#8f7,#6f9,#0cf,#07f,#07f,#07f,#07f)"></i><i style="background:linear-gradient(#fc0,#fc0,#fc0,#fc0,#8f7,#0df,#0df,#1fe,#3fc,#4fb,#5fa,#5fa,#4fb,#2fc,#1fd,#1fd,#1fd,#1fd,#1fd,#1fd,#2fd,#2fc,#3fc,#3fb,#4fb,#5fa,#5f9,#5f9,#5fa,#2fc,#0df,#0ee,#2fc,#3fc,#1fd,#2fc,#4fb,#4fa,#5f9,#6f9,#6f9,#5f9,#4fa,#3fc,#3fc,#3fb,#4fb,#4fb,#3fb,#3fc,#2fd,#2fc,#3fc,#4fa,#5f9,#6f9,#6f9,#5fa,#4fb,#4fb,#5fa,#5f9,#5f9,#5f9,#5fa,#4fb,#3fb,#4fb,#4fa,#5f9,#6f9,#6f8,#6f8,#7f8,#7f7,#7f7,#8f6,#af4,#cf3,#cf2,#bf4,#8f6,#7f7,#7f8,#7f7,#7f8,#5f9,#4fa,#4fb,#4fb,#4fa,#5fa,#5fa,#5fa,#4fa,#4fa,#4fb,#3fc,#2fc,#2fc,#2fc,#3fc,#3fb,#3fb,#3fb,#2fd,#2fd,#2fd,#2fd,#2fc,#3fc,#3fc,#3fb,#4fb,#4fa,#4fa,#5fa,#5f9,#6f9,#6f9,#6f9,#5f9,#5f9,#6f9,#6f9,#5f9,#5fa,#4fa,#4fb,#3fb,#3fc,#3fc,#3fc,#3fc,#3fc,#3fb,#3fb,#3fb,#3fb,#4fb,#4fb,#4fa,#5fa,#5fa,#5f9,#5f9,#5f9,#6f9,#6f9,#5f9,#5f9,#5f9,#5f9,#5f9,#6f9,#6f8,#7f7,#8f7,#8f7,#8f6,#9f6,#9f6,#8f6,#8f7,#7f7,#7f8,#6f8,#6f8,#6f8,#5f9,#5fa,#7f8,#8f6,#8f7,#6f9,#0cf,#07f,#07f,#07f,#07f)"></i><i style="background:linear-gradient(#fc0,#fc0,#fc0,#fc0,#9f6,#1fd,#1ee,#2fc,#4fb,#5fa,#5f9,#5fa,#3fb,#0ee,#0cf,#0df,#1ee,#2fd,#2fd,#2fd,#2fd,#2fc,#3fc,#3fb,#4fb,#5fa,#5f9,#6f8,#6f9,#4fa,#2fc,#2fd,#2fc,#1ee,#0bf,#0df,#2fc,#4fb,#5f9,#6f8,#6f8,#6f9,#5fa,#4fb,#3fb,#4fb,#4fa,#5fa,#4fa,#3fb,#2fc,#2fd,#2fc,#3fb,#4fa,#5fa,#5fa,#4fa,#4fb,#3fb,#5fa,#5fa,#5fa,#5f9,#5fa,#4fb,#3fb,#3fb,#4fb,#5fa,#6f9,#6f8,#7f8,#7f8,#7f8,#7f8,#7f8,#6f8,#6f9,#5f9,#5fa,#4fa,#5fa,#6f8,#7f8,#7f8,#6f9,#5fa,#4fa,#4fa,#4fa,#5fa,#5fa,#5fa,#5f9,#5fa,#4fa,#4fb,#3fb,#3fb,#3fb,#3fb,#3fb,#3fb,#3fb,#3fb,#3fb,#3fb,#3fb,#3fb,#4fb,#4fb,#4fa,#4fa,#4fa,#5fa,#5fa,#5f9,#5f9,#6f9,#6f9,#5f9,#5f9,#5f9,#5f9,#5fa,#5fa,#4fb,#3fb,#3fb,#3fc,#3fc,#2fc,#2fc,#2fc,#3fc,#3fc,#3fc,#3fb,#3fb,#4fb,#4fa,#5fa,#5f9,#6f9,#6f9,#6f8,#6f8,#6f8,#6f8,#6f9,#6f9,#5f9,#5f9,#6f9,#6f8,#7f7,#8f7,#8f7,#8f7,#8f6,#8f6,#8f7,#7f7,#7f8,#6f8,#6f9,#6f9,#5f9,#4fa,#3fb,#5f9,#7f8,#6f9,#4fa,#0bf,#07f,#07f,#07f,#07f)"></i><i style="background:linear-gradient(#fc0,#fc0,#fc0,#fc0,#9f5,#3fc,#2fc,#3fb,#4fa,#5fa,#5f9,#5fa,#3fc,#0ee,#0cf,#0df,#1fd,#2fc,#2fc,#2fd,#2fd,#2fd,#2fc,#2fc,#3fc,#4fb,#6f9,#7f7,#7f8,#5f9,#3fb,#2fc,#2fd,#0cf,#08f,#0bf,#2fd,#4fa,#6f9,#6f8,#6f8,#6f9,#5fa,#4fa,#4fa,#5fa,#5f9,#5f9,#5fa,#4fb,#3fc,#2fc,#2fc,#3fc,#4fb,#4fa,#4fa,#4fa,#3fb,#3fb,#5fa,#5f9,#5f9,#5f9,#5f9,#5fa,#4fa,#4fb,#4fa,#5fa,#6f9,#7f8,#7f8,#7f8,#6f8,#6f9,#5fa,#3fb,#1fd,#0df,#0df,#1fd,#3fb,#5f9,#7f8,#7f8,#6f8,#6f9,#5fa,#5fa,#5fa,#5fa,#5f9,#5f9,#5f9,#5f9,#5fa,#4fb,#4fb,#4fb,#4fb,#4fb,#3fb,#3fb,#3fb,#4fb,#4fb,#4fa,#4fa,#4fa,#4fa,#5fa,#5fa,#5fa,#5fa,#5fa,#5fa,#5fa,#5f9,#6f9,#6f9,#6f9,#5f9,#5fa,#5fa,#5fa,#4fa,#4fb,#4fb,#3fb,#3fb,#3fc,#3fc,#2fc,#2fc,#2fc,#3fc,#3fc,#3fc,#3fb,#3fb,#4fb,#4fa,#5fa,#5f9,#6f9,#6f8,#6f8,#7f8,#7f8,#6f8,#6f8,#6f9,#5f9,#5f9,#6f9,#6f8,#7f8,#6f8,#6f8,#6f9,#6f9,#6f9,#6f9,#5f9,#5fa,#5fa,#4fa,#4fb,#2fc,#2fd,#3fb,#5fa,#4fa,#3fc,#0af,#07f,#07f,#07f,#07f)"></i><i style="background:linear-gradient(#fc0,#fc0,#fc0,#fc0,#9f5,#4fb,#3fc,#3fb,#4fa,#4fa,#4fa,#4fa,#3fb,#2fc,#1fd,#2fd,#2fc,#3fc,#3fc,#2fd,#1fd,#1fe,#1fe,#1fd,#1fd,#3fc,#6f8,#9f6,#9f6,#6f9,#3fb,#2fc,#1fe,#0af,#06f,#0af,#2fc,#5fa,#6f9,#6f8,#5f9,#4fb,#3fb,#4fa,#5fa,#5f9,#6f9,#6f9,#5f9,#4fa,#3fb,#3fc,#3fc,#3fb,#4fb,#4fa,#4fa,#4fa,#4fb,#4fa,#6f9,#6f9,#6f9,#6f8,#6f8,#6f9,#5f9,#5fa,#5fa,#5f9,#6f8,#7f8,#7f8,#6f8,#6f9,#5fa,#4fb,#1fd,#0cf,#0bf,#0bf,#0df,#2fc,#5fa,#6f8,#7f8,#7f8,#6f9,#5f9,#5fa,#4fa,#5fa,#5fa,#5f9,#5fa,#5fa,#4fa,#4fb,#4fb,#4fb,#4fb,#4fb,#3fb,#3fc,#3fc,#3fb,#4fb,#4fa,#4fa,#5fa,#5fa,#5fa,#5fa,#5fa,#5fa,#5fa,#4fa,#5fa,#5f9,#6f9,#6f8,#6f8,#6f9,#6f9,#5f9,#5fa,#5fa,#4fa,#4fa,#4fa,#4fa,#4fb,#4fb,#3fb,#3fb,#3fb,#3fc,#3fc,#3fc,#3fb,#3fb,#4fb,#4fb,#4fa,#5fa,#5f9,#6f9,#6f8,#7f8,#7f8,#7f8,#6f8,#5f9,#5fa,#5fa,#5fa,#5f9,#5f9,#5f9,#5fa,#4fa,#4fa,#4fa,#4fa,#4fa,#4fa,#4fb,#3fb,#2fc,#1fd,#1ee,#2fc,#4fa,#3fb,#2fd,#0af,#07f,#07f,#07f,#07f)"></i><i style="background:linear-gradient(#fc0,#fc0,#fc0,#fc0,#9f5,#4fb,#2fc,#3fc,#3fb,#3fb,#3fb,#4fb,#4fb,#4fb,#3fb,#3fb,#3fb,#3fc,#1fd,#0ee,#0df,#0df,#0ef,#0ee,#1ee,#2fc,#6f9,#9f5,#9f6,#6f9,#3fc,#1fd,#0ee,#0cf,#08f,#0cf,#3fb,#6f9,#6f8,#6f8,#4fb,#1fe,#0ee,#3fc,#5fa,#6f9,#6f9,#6f9,#5f9,#5fa,#4fa,#4fb,#4fb,#4fa,#5fa,#5f9,#5fa,#5fa,#5fa,#5f9,#7f8,#7f8,#6f8,#6f8,#6f8,#6f9,#5f9,#5fa,#5fa,#5f9,#6f8,#6f8,#6f8,#6f8,#5f9,#4fa,#3fc,#1fe,#0df,#0bf,#0cf,#0ee,#2fc,#4fa,#6f9,#7f8,#7f8,#6f9,#5f9,#4fa,#4fa,#4fa,#4fa,#5fa,#4fa,#4fb,#4fb,#3fb,#3fb,#4fb,#4fa,#4fb,#3fb,#3fc,#2fc,#3fc,#4fb,#5fa,#5f9,#6f9,#6f9,#6f9,#6f9,#6f9,#5f9,#5fa,#5fa,#5fa,#5f9,#6f9,#6f8,#6f8,#6f8,#6f9,#5f9,#5f9,#5fa,#5fa,#5fa,#5fa,#5fa,#5f9,#5fa,#5fa,#4fa,#4fa,#4fb,#4fb,#4fb,#4fa,#4fa,#4fa,#5fa,#5fa,#5f9,#5f9,#6f9,#6f8,#7f8,#7f8,#7f8,#6f9,#5fa,#4fa,#4fa,#4fa,#5fa,#5fa,#4fa,#4fa,#4fb,#4fb,#4fb,#4fb,#4fa,#4fb,#4fb,#3fc,#2fc,#1fd,#1ee,#3fc,#5fa,#5fa,#3fb,#0bf,#07f,#07f,#07f,#07f)"></i><i style="background:linear-gradient(#fc0,#fc0,#fc0,#fc0,#9f5,#3fb,#2fd,#2fc,#3fc,#3fc,#3fc,#3fb,#4fb,#4fa,#4fa,#4fa,#4fb,#2fc,#0df,#0bf,#0bf,#0df,#0ee,#0ee,#1fe,#2fc,#5fa,#7f7,#7f7,#5fa,#2fc,#1ee,#0ee,#0df,#0cf,#1fe,#4fa,#6f8,#7f8,#6f8,#3fc,#0cf,#0bf,#1fd,#4fa,#6f9,#6f9,#5f9,#5fa,#4fa,#4fa,#4fa,#5fa,#5f9,#6f9,#6f9,#6f9,#6f9,#6f9,#7f8,#8f7,#7f7,#6f8,#6f9,#5f9,#5f9,#5fa,#4fa,#4fa,#5fa,#6f9,#6f8,#6f8,#6f9,#5f9,#4fb,#3fc,#1fd,#0ee,#0df,#0df,#1fe,#2fc,#4fb,#5f9,#6f9,#6f9,#6f9,#6f9,#5fa,#4fa,#4fa,#4fa,#4fb,#4fb,#3fb,#3fc,#3fc,#3fb,#4fb,#4fa,#4fb,#3fb,#2fc,#2fc,#3fc,#4fb,#5fa,#5f9,#6f9,#6f9,#6f9,#6f9,#5f9,#5f9,#5fa,#4fa,#4fa,#5fa,#5f9,#6f9,#6f9,#6f9,#5f9,#5f9,#5fa,#4fa,#4fa,#5fa,#5fa,#5f9,#6f9,#6f9,#6f9,#5f9,#5f9,#5fa,#4fa,#4fa,#4fa,#5fa,#5fa,#5fa,#5fa,#5f9,#5f9,#6f9,#6f9,#6f8,#7f8,#6f8,#6f9,#5fa,#4fa,#4fb,#4fa,#4fa,#4fa,#4fa,#4fb,#4fb,#4fb,#4fb,#4fa,#4fa,#4fa,#4fa,#4fb,#3fb,#2fd,#2fd,#4fa,#7f8,#7f7,#6f8,#0cf,#07f,#07f,#07f,#07f)"></i><i style="background:linear-gradient(#fc0,#fc0,#fc0,#fc0,#9f5,#3fc,#2fd,#2fc,#2fc,#2fc,#3fc,#3fb,#4fb,#4fb,#4fa,#4fa,#4fb,#3fc,#1ee,#0cf,#0df,#0ee,#1fd,#2fd,#3fc,#4fb,#5fa,#6f8,#6f9,#5fa,#3fc,#1fd,#1ee,#1fd,#0ee,#2fc,#5fa,#6f8,#7f8,#6f8,#3fb,#0df,#0cf,#1fd,#4fb,#5fa,#4fa,#4fa,#4fb,#3fb,#3fb,#4fb,#4fa,#5f9,#6f9,#6f8,#6f8,#7f8,#7f8,#7f7,#8f6,#7f7,#6f9,#5fa,#4fa,#4fb,#4fb,#4fb,#4fb,#5fa,#5f9,#6f9,#6f8,#6f9,#5f9,#4fa,#3fb,#2fc,#1fd,#1fd,#1fd,#2fd,#3fc,#4fb,#4fa,#5fa,#6f9,#6f9,#6f9,#5f9,#5fa,#4fa,#4fb,#4fb,#3fb,#2fc,#2fc,#2fc,#3fc,#4fb,#4fa,#4fb,#3fb,#3fc,#2fc,#3fc,#3fb,#4fa,#5fa,#4fa,#4fa,#4fa,#4fa,#4fa,#4fb,#4fb,#3fb,#3fb,#3fb,#4fb,#5fa,#5f9,#5f9,#5fa,#4fa,#4fa,#4fb,#4fa,#5fa,#5f9,#6f9,#6f8,#6f8,#6f8,#6f9,#6f9,#5f9,#5fa,#4fa,#4fa,#4fa,#5fa,#5fa,#5fa,#5fa,#5fa,#5fa,#5f9,#6f9,#6f9,#6f9,#5f9,#5fa,#4fa,#4fb,#4fb,#4fb,#4fb,#4fb,#4fb,#4fb,#4fb,#4fa,#5fa,#5fa,#5f9,#5fa,#5fa,#4fa,#3fb,#3fb,#6f9,#8f6,#8f6,#7f7,#0df,#07f,#07f,#07f,#07f)"></i><i style="background:linear-gradient(#fc0,#fc0,#fc0,#fc0,#9f5,#3fc,#2fd,#2fd,#2fc,#2fc,#2fc,#3fc,#3fc,#4fb,#4fa,#5fa,#5fa,#4fb,#3fc,#2fc,#2fd,#2fc,#3fc,#4fb,#4fa,#5f9,#6f8,#7f8,#7f8,#6f9,#4fa,#3fc,#2fd,#2fc,#1fd,#3fc,#4fa,#6f9,#6f9,#6f9,#4fb,#2fd,#1fd,#2fc,#3fb,#3fb,#3fc,#3fc,#3fc,#3fc,#3fc,#3fb,#4fb,#5fa,#6f9,#6f8,#7f8,#7f7,#8f7,#8f6,#9f6,#7f7,#5f9,#4fb,#3fb,#3fc,#3fc,#3fb,#4fb,#5fa,#6f9,#6f8,#6f8,#6f9,#5f9,#5fa,#4fa,#3fb,#3fc,#2fc,#3fc,#3fc,#3fb,#4fb,#4fb,#5fa,#5f9,#6f8,#6f8,#6f9,#5fa,#4fa,#4fb,#3fb,#3fc,#2fc,#2fd,#2fc,#3fc,#4fb,#4fb,#4fb,#3fb,#3fc,#2fc,#2fc,#3fb,#4fb,#3fb,#3fb,#3fc,#3fc,#3fc,#3fb,#3fb,#3fc,#3fc,#3fc,#3fc,#4fb,#4fa,#5fa,#5fa,#4fa,#4fb,#3fb,#3fb,#4fb,#4fa,#5fa,#5f9,#6f9,#6f9,#6f9,#6f9,#5f9,#5f9,#5fa,#4fa,#4fa,#4fa,#4fa,#5fa,#4fa,#4fa,#4fa,#4fa,#5fa,#5fa,#5f9,#5f9,#5fa,#5fa,#4fa,#4fa,#4fb,#4fb,#3fb,#3fb,#3fc,#3fb,#3fb,#4fb,#4fa,#5fa,#5f9,#5f9,#5fa,#5fa,#4fb,#4fb,#6f9,#8f6,#8f6,#7f7,#0df,#07f,#07f,#07f,#07f)"></i><i style="background:linear-gradient(#fc0,#fc0,#fc0,#fc0,#9f6,#2fc,#1fd,#2fd,#2fc,#2fc,#2fc,#3fc,#3fc,#3fb,#4fa,#5fa,#5f9,#5fa,#4fa,#4fb,#4fb,#3fb,#4fb,#4fa,#5f9,#6f8,#7f7,#8f7,#7f7,#7f8,#5f9,#4fa,#4fb,#4fb,#2fd,#2fc,#3fc,#3fb,#3fb,#4fb,#3fb,#3fc,#2fc,#2fc,#2fc,#2fc,#2fc,#2fc,#3fc,#3fb,#4fb,#4fb,#4fa,#5fa,#6f9,#6f8,#7f7,#8f7,#8f6,#8f6,#9f6,#7f7,#5fa,#4fb,#2fc,#2fc,#2fc,#3fb,#4fa,#6f9,#7f8,#7f7,#7f7,#6f8,#6f9,#6f9,#5f9,#5fa,#4fb,#3fb,#3fb,#3fb,#4fb,#4fb,#4fa,#5fa,#5f9,#6f8,#6f8,#6f9,#5fa,#4fb,#3fb,#3fb,#3fc,#2fc,#2fc,#2fc,#3fc,#3fb,#4fb,#3fb,#3fc,#2fc,#2fc,#3fc,#3fb,#4fb,#3fb,#3fb,#3fc,#3fc,#3fb,#3fb,#3fb,#3fc,#3fc,#3fc,#3fb,#4fa,#5fa,#5fa,#5fa,#4fb,#3fb,#3fc,#3fc,#3fb,#4fb,#4fa,#5fa,#5f9,#5f9,#5f9,#5f9,#5fa,#5fa,#4fa,#4fa,#4fb,#4fa,#4fa,#4fa,#4fa,#4fa,#4fa,#4fa,#4fa,#5fa,#5fa,#5f9,#5f9,#5f9,#5fa,#5fa,#4fa,#4fb,#3fb,#3fc,#3fc,#3fc,#3fb,#4fb,#4fa,#4fa,#4fa,#4fa,#4fa,#4fa,#3fb,#3fb,#5f9,#7f7,#7f7,#6f8,#0cf,#07f,#07f,#07f,#07f)"></i><i style="background:linear-gradient(#fc0,#fc0,#fc0,#fc0,#9f6,#2fc,#1fd,#2fd,#3fc,#3fc,#3fc,#3fb,#3fb,#4fb,#5fa,#5f9,#6f9,#6f9,#5f9,#5fa,#4fb,#4fb,#4fb,#4fb,#5fa,#5f9,#6f8,#7f8,#7f8,#6f8,#6f9,#5f9,#5fa,#4fa,#2fd,#1fd,#1ee,#0df,#0df,#1fe,#2fd,#2fd,#2fd,#1fd,#1fd,#2fd,#3fc,#3fb,#4fa,#5fa,#5f9,#5f9,#5f9,#5f9,#6f9,#6f8,#7f7,#8f6,#9f6,#9f6,#9f6,#7f7,#5fa,#3fb,#2fc,#2fd,#2fc,#3fb,#5fa,#6f8,#8f6,#9f5,#8f6,#7f8,#6f8,#6f8,#6f9,#5f9,#5fa,#4fb,#3fb,#4fb,#4fa,#5fa,#5fa,#5f9,#6f9,#6f8,#6f8,#6f9,#5fa,#4fb,#4fb,#3fb,#3fb,#3fc,#3fc,#3fc,#3fb,#4fb,#4fb,#3fb,#3fc,#2fc,#3fc,#3fb,#4fb,#4fa,#4fa,#4fb,#4fb,#4fb,#4fb,#4fb,#3fb,#3fb,#3fb,#3fb,#4fb,#4fa,#5fa,#5fa,#4fa,#4fb,#3fb,#3fc,#3fc,#3fc,#3fb,#4fb,#4fa,#5fa,#5fa,#5fa,#4fa,#4fa,#4fb,#3fb,#3fb,#3fc,#3fc,#3fc,#3fb,#3fb,#3fb,#3fb,#4fb,#4fb,#4fb,#4fa,#5fa,#5fa,#5fa,#5fa,#5fa,#5fa,#4fa,#4fb,#3fb,#3fc,#3fc,#3fc,#3fb,#3fb,#3fb,#3fb,#3fb,#3fc,#3fc,#2fc,#2fc,#5fa,#7f8,#7f8,#6f9,#0cf,#07f,#07f,#07f,#07f)"></i><i style="background:linear-gradient(#fc0,#fc0,#fc0,#fc0,#9f6,#3fc,#2fd,#3fc,#4fb,#4fb,#4fb,#4fb,#4fa,#5fa,#6f9,#6f8,#6f8,#6f8,#6f9,#5f9,#4fa,#3fb,#3fb,#3fb,#4fb,#4fa,#5fa,#5fa,#5fa,#5f9,#5f9,#5fa,#4fa,#4fb,#2fd,#1fe,#0df,#0bf,#0bf,#0df,#1fd,#2fd,#1fd,#1fd,#2fd,#2fc,#3fb,#5fa,#6f9,#6f8,#6f8,#6f9,#5f9,#5f9,#5f9,#6f8,#7f7,#8f6,#9f5,#9f5,#9f5,#8f7,#5f9,#4fb,#2fc,#2fd,#2fc,#3fb,#4fa,#6f8,#9f6,#af5,#9f5,#7f7,#6f8,#6f8,#6f8,#6f9,#5fa,#4fa,#4fb,#4fb,#5fa,#5f9,#5f9,#6f9,#6f9,#6f8,#6f8,#6f9,#5f9,#4fa,#4fb,#4fb,#3fb,#3fb,#3fb,#4fb,#4fb,#4fb,#4fb,#4fb,#3fb,#3fb,#3fb,#3fb,#4fb,#4fa,#4fa,#4fa,#4fa,#4fa,#4fb,#3fb,#3fc,#3fc,#3fc,#3fc,#3fb,#4fb,#4fb,#4fb,#4fb,#3fc,#3fc,#2fc,#2fc,#2fc,#3fc,#3fb,#4fb,#4fa,#4fa,#4fa,#4fa,#4fb,#3fb,#3fb,#3fc,#3fc,#2fc,#3fc,#3fc,#3fc,#3fb,#3fb,#4fb,#4fb,#4fb,#4fa,#4fa,#5fa,#5fa,#5fa,#5fa,#5fa,#5fa,#5fa,#4fa,#3fb,#3fb,#3fb,#4fb,#4fb,#4fb,#3fb,#3fb,#3fc,#3fc,#2fc,#2fc,#5fa,#7f7,#7f7,#6f8,#0cf,#07f,#07f,#07f,#07f)"></i><i style="background:linear-gradient(#fc0,#fc0,#fc0,#fc0,#9f5,#3fc,#2fc,#4fb,#5fa,#5fa,#5fa,#5fa,#5f9,#6f9,#7f8,#7f8,#7f8,#7f8,#6f8,#6f9,#5fa,#4fb,#3fc,#3fc,#3fb,#4fb,#4fb,#4fb,#4fb,#4fb,#4fb,#3fb,#3fb,#3fb,#1fd,#1fd,#1fe,#0df,#0df,#1fd,#2fc,#2fd,#2fd,#1fd,#2fd,#3fc,#4fb,#5f9,#6f8,#7f8,#6f8,#6f9,#5fa,#4fa,#5fa,#6f9,#7f7,#9f6,#af5,#af5,#af5,#9f6,#6f8,#4fa,#3fb,#3fc,#3fc,#3fb,#4fa,#6f9,#8f7,#9f5,#9f6,#7f7,#6f8,#6f8,#6f8,#6f9,#5f9,#4fa,#4fa,#4fa,#5fa,#6f9,#6f9,#6f9,#6f9,#6f9,#6f9,#6f9,#5f9,#5fa,#4fa,#4fa,#4fb,#4fb,#4fb,#4fb,#4fa,#4fa,#4fa,#4fb,#4fb,#4fb,#4fb,#3fb,#4fb,#4fb,#4fa,#4fa,#4fa,#4fb,#3fb,#3fc,#2fc,#2fd,#2fd,#2fc,#3fc,#3fc,#3fb,#3fb,#3fc,#3fc,#2fc,#2fd,#2fd,#2fd,#2fc,#3fc,#3fb,#4fb,#4fa,#4fa,#4fb,#4fb,#3fb,#3fb,#3fc,#3fc,#3fc,#3fc,#3fc,#3fc,#3fb,#4fb,#4fb,#4fb,#4fa,#4fa,#4fa,#4fa,#4fa,#4fa,#4fa,#5fa,#5f9,#5f9,#5fa,#4fb,#4fb,#4fb,#4fa,#4fa,#4fa,#3fb,#3fc,#2fc,#2fc,#2fd,#2fd,#4fa,#7f8,#7f8,#6f9,#0cf,#07f,#07f,#07f,#07f)"></i><i style="background:linear-gradient(#fc0,#fc0,#fc0,#fc0,#9f6,#3fc,#2fc,#4fb,#5fa,#5fa,#5fa,#5f9,#6f9,#7f8,#7f7,#7f7,#7f7,#7f7,#7f8,#6f8,#5f9,#4fa,#3fb,#3fc,#3fb,#3fb,#3fb,#3fb,#3fb,#3fb,#3fc,#2fc,#2fc,#3fc,#1fe,#2fd,#3fc,#3fb,#3fb,#4fb,#3fb,#3fc,#2fd,#1fd,#1fd,#2fc,#3fb,#5fa,#6f9,#6f8,#6f9,#5f9,#4fa,#4fb,#4fa,#5f9,#7f8,#9f6,#af5,#af4,#af4,#9f6,#6f8,#5fa,#4fa,#4fb,#4fb,#4fa,#5fa,#6f9,#7f8,#7f7,#7f8,#6f8,#6f9,#5f9,#5f9,#5f9,#5fa,#5fa,#4fa,#5fa,#5f9,#6f9,#6f8,#6f8,#6f9,#5f9,#5f9,#5f9,#5f9,#5f9,#5fa,#5fa,#5fa,#5fa,#5fa,#5fa,#4fa,#4fa,#4fa,#4fa,#4fa,#4fa,#4fa,#4fa,#5fa,#5f9,#6f9,#6f9,#5f9,#5fa,#4fa,#3fb,#3fc,#3fc,#3fc,#3fc,#3fb,#3fb,#3fb,#3fb,#3fb,#3fb,#3fc,#2fc,#2fc,#2fd,#2fc,#3fc,#3fb,#4fb,#4fb,#4fb,#4fb,#4fb,#3fb,#3fb,#3fb,#3fc,#3fc,#3fc,#3fc,#3fb,#3fb,#4fb,#4fb,#4fa,#4fa,#4fa,#4fa,#4fa,#4fa,#5fa,#5fa,#5f9,#6f9,#6f9,#5f9,#5fa,#4fa,#4fa,#5fa,#5fa,#4fb,#3fb,#2fc,#2fd,#2fd,#1fd,#1fd,#4fa,#7f8,#7f8,#5f9,#0bf,#07f,#07f,#07f,#07f)"></i><i style="background:linear-gradient(#fc0,#fc0,#fc0,#fc0,#9f6,#2fc,#2fc,#3fb,#4fb,#4fa,#4fa,#5fa,#6f9,#6f8,#7f8,#7f7,#7f7,#7f7,#7f8,#6f8,#6f9,#5fa,#4fa,#4fb,#3fb,#3fb,#3fb,#3fb,#3fc,#3fc,#2fc,#2fc,#2fd,#2fc,#1fe,#2fd,#3fb,#4fa,#5fa,#5fa,#4fa,#3fc,#2fd,#1fd,#1fd,#2fd,#3fc,#4fa,#5f9,#6f9,#6f9,#5f9,#5fa,#4fa,#4fa,#5fa,#6f8,#8f6,#9f5,#af5,#af5,#9f6,#6f8,#5f9,#5fa,#5fa,#6f9,#7f8,#7f7,#7f8,#6f8,#6f8,#5f9,#5fa,#4fa,#4fa,#4fa,#4fa,#4fa,#4fa,#4fa,#4fa,#5fa,#5f9,#6f9,#6f8,#6f9,#5f9,#5fa,#5fa,#5f9,#5f9,#5f9,#5f9,#6f9,#6f9,#6f8,#7f8,#6f8,#5f9,#4fa,#4fa,#4fa,#4fa,#5fa,#5fa,#5f9,#6f9,#6f9,#6f9,#5f9,#5fa,#4fa,#4fb,#3fb,#3fb,#3fb,#4fb,#4fb,#4fb,#4fa,#4fa,#4fa,#4fb,#4fb,#3fb,#3fc,#3fc,#3fc,#3fb,#3fb,#4fb,#4fb,#4fb,#4fb,#4fb,#4fb,#4fb,#4fb,#3fb,#3fb,#3fb,#3fb,#4fb,#4fa,#4fa,#5fa,#5fa,#5fa,#5fa,#5fa,#5fa,#5f9,#5f9,#6f9,#6f8,#6f8,#6f8,#6f9,#5f9,#5f9,#5f9,#5f9,#5f9,#5fa,#4fb,#3fc,#2fc,#2fc,#2fd,#2fd,#5fa,#7f7,#7f7,#6f9,#0cf,#07f,#07f,#07f,#07f)"></i><i style="background:linear-gradient(#fc0,#fc0,#fc0,#fc0,#8f6,#1fd,#1fd,#3fc,#3fb,#3fb,#3fb,#4fb,#5fa,#5f9,#6f9,#6f8,#6f8,#6f8,#6f8,#6f9,#6f9,#5fa,#4fa,#4fb,#4fb,#3fb,#3fb,#3fb,#3fb,#3fc,#2fc,#2fd,#2fd,#2fc,#1fe,#2fd,#3fb,#4fa,#5fa,#5fa,#4fa,#3fb,#2fc,#1fd,#1fd,#2fd,#3fc,#4fa,#5f9,#6f9,#6f9,#6f9,#5f9,#5fa,#4fa,#5f9,#6f8,#7f7,#8f6,#9f6,#9f6,#7f7,#5f9,#5f9,#6f9,#6f8,#9f6,#cf3,#cf2,#af4,#7f7,#5f9,#4fa,#3fb,#3fb,#4fb,#4fb,#4fa,#4fa,#4fb,#4fb,#4fb,#4fa,#5f9,#6f8,#7f8,#6f8,#6f9,#5f9,#5fa,#5fa,#5f9,#5f9,#6f9,#6f8,#8f7,#9f6,#9f5,#9f6,#7f7,#5f9,#4fa,#4fa,#4fa,#5fa,#5f9,#5f9,#5f9,#5fa,#5fa,#4fa,#4fa,#4fb,#4fb,#4fb,#4fb,#4fb,#4fa,#4fa,#5fa,#5fa,#5fa,#5fa,#4fa,#4fa,#4fb,#3fb,#3fb,#3fb,#3fb,#4fb,#4fb,#4fb,#4fb,#4fb,#4fb,#4fb,#4fb,#4fb,#4fb,#4fb,#4fb,#4fb,#4fb,#4fa,#5fa,#5fa,#5fa,#5fa,#5fa,#5fa,#5f9,#5f9,#6f9,#6f8,#7f8,#7f8,#6f8,#6f9,#5f9,#5f9,#6f9,#6f9,#5f9,#5fa,#4fb,#3fb,#3fc,#3fc,#3fc,#3fc,#5f9,#7f7,#7f7,#6f8,#0cf,#07f,#07f,#07f,#07f)"></i><i style="background:linear-gradient(#fc0,#fc0,#fc0,#fc0,#8f6,#1ee,#1ee,#2fd,#3fc,#3fc,#3fc,#3fc,#3fb,#4fa,#5fa,#6f9,#6f8,#6f9,#5f9,#5fa,#5fa,#4fa,#4fa,#4fb,#4fb,#4fb,#4fa,#4fa,#4fa,#4fb,#3fb,#3fc,#2fc,#3fc,#2fd,#2fc,#3fb,#3fb,#3fb,#4fb,#4fa,#4fb,#3fb,#3fc,#2fc,#2fc,#3fb,#4fb,#5fa,#5f9,#5f9,#5f9,#5fa,#5fa,#4fa,#5fa,#6f9,#6f8,#7f8,#7f8,#7f7,#6f9,#5fa,#6f9,#6f8,#6f9,#7f7,#9f5,#9f5,#8f6,#6f8,#5fa,#4fb,#3fb,#3fb,#4fb,#4fa,#5fa,#5fa,#4fa,#4fa,#4fa,#5fa,#6f9,#6f8,#7f8,#7f8,#6f8,#6f9,#5f9,#5fa,#5fa,#5f9,#5f9,#6f8,#7f7,#8f6,#9f6,#8f6,#7f8,#5f9,#4fa,#4fa,#5fa,#5fa,#5fa,#5fa,#5fa,#5fa,#4fa,#4fa,#4fa,#4fa,#4fa,#4fa,#5fa,#5fa,#5fa,#5fa,#5fa,#5fa,#5fa,#5fa,#4fa,#4fb,#4fb,#3fb,#3fb,#3fb,#3fb,#3fb,#3fb,#3fb,#3fb,#3fb,#3fb,#4fb,#4fb,#4fb,#4fb,#3fb,#3fb,#3fb,#3fb,#4fb,#4fa,#5fa,#5fa,#5fa,#5fa,#5fa,#5fa,#5f9,#6f9,#6f8,#7f8,#7f8,#6f8,#5f9,#5fa,#5fa,#5fa,#4fa,#4fa,#4fb,#3fb,#3fb,#3fb,#3fb,#3fc,#3fc,#5f9,#7f7,#7f7,#6f8,#0cf,#07f,#07f,#07f,#07f)"></i><i style="background:linear-gradient(#fc0,#fc0,#fc0,#fc0,#8f7,#0df,#0ee,#2fd,#3fb,#3fb,#3fc,#3fc,#3fc,#3fb,#4fa,#6f8,#7f8,#5f9,#4fa,#4fb,#4fb,#4fb,#3fb,#3fb,#4fb,#4fa,#5f9,#6f9,#6f8,#5f9,#5fa,#4fb,#4fb,#4fa,#2fc,#3fc,#3fc,#1fd,#0df,#1fe,#3fb,#5fa,#5fa,#4fa,#4fb,#3fb,#3fb,#4fb,#4fa,#4fa,#4fa,#4fa,#4fa,#4fb,#4fb,#4fb,#4fa,#4fa,#5fa,#5fa,#6f9,#5f9,#5fa,#7f8,#7f7,#6f9,#5f9,#6f9,#6f8,#6f9,#5fa,#4fa,#4fb,#4fb,#4fa,#5fa,#5f9,#6f9,#6f9,#6f9,#5f9,#5f9,#5f9,#6f8,#7f8,#7f7,#7f7,#7f8,#6f8,#5f9,#5fa,#5fa,#5fa,#5fa,#5fa,#5fa,#5fa,#4fa,#4fa,#4fa,#4fa,#4fa,#4fa,#5fa,#5fa,#5fa,#5fa,#5fa,#5fa,#4fa,#4fa,#4fa,#5fa,#5fa,#5fa,#5fa,#5fa,#5fa,#5fa,#5fa,#4fa,#4fa,#4fb,#4fb,#3fb,#3fb,#3fb,#3fb,#3fb,#3fb,#3fb,#3fb,#3fb,#3fb,#3fb,#3fb,#3fb,#4fb,#4fb,#3fb,#3fb,#3fb,#3fb,#3fb,#4fb,#4fa,#4fa,#5fa,#5fa,#5fa,#4fa,#5fa,#5fa,#5f9,#6f9,#6f8,#6f8,#6f9,#5f9,#5fa,#4fa,#4fb,#3fb,#3fc,#3fc,#3fc,#3fc,#4fb,#4fb,#4fb,#3fb,#6f9,#8f7,#8f7,#7f8,#0cf,#07f,#07f,#07f,#07f)"></i><i style="background:linear-gradient(#fc0,#fc0,#fc0,#fc0,#8f7,#0df,#0ee,#2fd,#3fb,#4fb,#4fb,#3fb,#3fc,#3fc,#4fa,#8f7,#8f6,#6f9,#4fa,#4fb,#4fb,#4fb,#4fb,#4fb,#4fa,#6f9,#7f8,#7f7,#8f7,#7f8,#6f8,#5f9,#5f9,#5f9,#3fb,#4fb,#3fb,#0ee,#0bf,#0df,#4fb,#6f9,#6f8,#6f9,#5fa,#4fa,#4fb,#4fb,#4fb,#3fb,#3fc,#3fc,#3fc,#3fc,#2fc,#1fd,#1fd,#1fd,#2fc,#3fb,#5f9,#6f9,#6f9,#8f7,#9f6,#7f8,#6f9,#6f9,#6f9,#5f9,#5fa,#4fb,#3fb,#3fc,#3fc,#3fb,#4fa,#5f9,#6f8,#6f8,#6f8,#6f9,#6f8,#7f8,#8f7,#8f6,#8f6,#8f7,#7f8,#6f9,#5f9,#5fa,#5fa,#5fa,#4fa,#3fc,#0ee,#0cf,#0df,#2fd,#3fb,#4fb,#4fa,#4fa,#4fa,#5f9,#5f9,#5f9,#5f9,#5f9,#5f9,#5f9,#5f9,#5f9,#5f9,#5f9,#5f9,#5fa,#5fa,#5fa,#4fa,#4fa,#4fb,#4fb,#4fb,#4fb,#4fb,#4fb,#4fb,#4fb,#3fb,#3fb,#3fb,#3fb,#3fb,#3fb,#3fb,#3fb,#3fb,#3fb,#3fb,#3fb,#3fc,#3fb,#3fb,#4fb,#4fb,#4fa,#4fa,#4fa,#4fa,#4fa,#4fa,#5fa,#5fa,#5fa,#5fa,#5fa,#5fa,#4fa,#4fa,#4fb,#3fc,#3fc,#2fc,#3fc,#3fb,#4fb,#4fa,#4fa,#4fb,#6f9,#8f7,#8f7,#7f8,#0cf,#07f,#07f,#07f,#07f)"></i><i style="background:linear-gradient(#fc0,#fc0,#fc0,#fc0,#8f6,#1ee,#1fe,#3fc,#4fb,#4fa,#4fa,#4fb,#3fb,#3fb,#5fa,#9f6,#af5,#6f8,#4fa,#4fa,#4fa,#5fa,#5f9,#5f9,#6f8,#7f7,#8f7,#8f6,#8f7,#7f7,#6f8,#6f9,#6f9,#5f9,#3fc,#4fa,#5f9,#4fb,#2fc,#3fb,#6f9,#7f8,#7f7,#6f8,#5f9,#5fa,#4fa,#4fa,#4fb,#3fc,#2fc,#2fc,#2fd,#2fd,#1ee,#0df,#0bf,#0cf,#0ee,#3fc,#5f9,#7f8,#7f7,#9f6,#af5,#8f7,#7f8,#6f8,#6f9,#5fa,#3fb,#1fd,#0cf,#09f,#07f,#08f,#0bf,#1fd,#4fa,#6f8,#7f8,#7f8,#7f8,#8f7,#9f6,#9f5,#9f5,#9f6,#8f7,#7f8,#6f9,#5f9,#5f9,#5fa,#4fb,#1ee,#08f,#06f,#07f,#0cf,#3fc,#4fa,#4fa,#4fb,#4fb,#4fa,#4fa,#4fa,#4fa,#5fa,#5fa,#5f9,#5f9,#6f9,#6f9,#5f9,#5f9,#5fa,#5fa,#4fa,#4fa,#4fa,#4fb,#4fb,#4fb,#4fb,#4fb,#4fb,#4fb,#4fb,#4fb,#3fb,#3fb,#3fb,#3fb,#3fb,#3fb,#3fb,#3fb,#3fb,#3fb,#3fb,#3fb,#4fb,#4fb,#4fb,#4fa,#4fa,#4fa,#4fa,#4fa,#4fa,#4fa,#4fa,#4fa,#4fa,#4fa,#4fa,#4fa,#4fa,#4fa,#4fb,#3fb,#3fc,#2fc,#3fc,#3fb,#4fb,#4fa,#4fb,#3fb,#5f9,#7f7,#7f7,#6f9,#0cf,#07f,#07f,#07f,#07f)"></i><i style="background:linear-gradient(#fc0,#fc0,#fc0,#fc0,#9f6,#2fd,#2fd,#3fb,#4fa,#4fa,#4fa,#4fa,#4fa,#4fa,#5f9,#8f7,#9f6,#6f8,#5fa,#5fa,#5fa,#5f9,#6f9,#7f8,#7f7,#8f7,#8f6,#8f7,#7f7,#7f8,#6f9,#6f9,#5f9,#4fa,#1fd,#4fb,#6f9,#6f9,#6f9,#6f8,#7f8,#7f7,#7f7,#7f8,#6f9,#5f9,#5fa,#5fa,#4fa,#3fb,#3fc,#2fc,#2fc,#2fd,#1fd,#0df,#0cf,#0df,#1fe,#3fb,#6f8,#8f7,#8f6,#9f5,#af5,#8f6,#7f7,#6f8,#6f9,#5f9,#4fa,#3fc,#1ee,#0cf,#0bf,#0cf,#0ee,#3fc,#5f9,#7f8,#7f7,#7f7,#8f7,#8f6,#9f5,#af4,#bf4,#af5,#8f6,#7f8,#6f8,#6f9,#6f9,#6f9,#5fa,#1fd,#09f,#06f,#07f,#0cf,#3fb,#4fa,#4fa,#4fb,#3fb,#3fc,#3fc,#2fc,#3fc,#3fc,#3fb,#4fb,#4fa,#5fa,#5fa,#5fa,#5fa,#4fa,#4fa,#4fb,#4fb,#4fb,#4fb,#4fb,#4fb,#4fb,#4fb,#4fb,#4fb,#4fb,#3fb,#3fb,#3fb,#3fb,#3fb,#3fb,#3fb,#3fb,#3fb,#3fb,#3fb,#4fb,#4fb,#4fa,#4fa,#5fa,#5fa,#5fa,#5f9,#5f9,#5fa,#5fa,#4fa,#4fa,#4fa,#4fa,#4fa,#4fa,#4fa,#4fa,#5fa,#4fa,#4fb,#3fb,#3fb,#3fc,#3fb,#4fb,#4fa,#3fb,#3fc,#4fa,#6f8,#6f9,#4fa,#0bf,#07f,#07f,#07f,#07f)"></i><i style="background:linear-gradient(#fc0,#fc0,#fc0,#fc0,#9f5,#4fb,#3fb,#4fb,#4fa,#4fa,#4fb,#4fa,#4fa,#5fa,#5f9,#7f8,#7f7,#6f9,#5fa,#4fa,#4fb,#4fa,#5fa,#6f9,#7f8,#7f7,#7f7,#7f8,#6f8,#6f9,#5f9,#5fa,#5fa,#3fc,#0df,#2fc,#5fa,#5fa,#5fa,#5f9,#6f8,#7f7,#7f8,#7f8,#6f8,#6f9,#6f9,#5f9,#5fa,#4fa,#4fb,#3fb,#3fb,#3fb,#3fb,#3fb,#3fc,#3fc,#4fb,#5f9,#7f7,#8f6,#8f6,#9f5,#af5,#8f7,#6f9,#4fa,#4fa,#5fa,#5f9,#6f8,#7f8,#8f6,#af5,#af4,#9f5,#8f7,#8f7,#8f7,#8f7,#8f7,#7f7,#7f8,#8f6,#bf4,#df2,#bf3,#9f6,#7f7,#7f8,#6f8,#6f8,#6f8,#6f9,#5fa,#2fc,#1ee,#1fd,#3fb,#5fa,#5fa,#4fa,#4fb,#4fb,#3fb,#3fc,#3fc,#3fc,#3fc,#3fb,#3fb,#4fb,#4fa,#4fa,#5fa,#5fa,#5fa,#5fa,#4fa,#4fb,#4fb,#4fb,#4fb,#3fb,#4fb,#4fb,#3fb,#3fb,#3fb,#3fb,#3fb,#3fb,#3fb,#3fb,#3fb,#3fb,#3fb,#3fb,#3fb,#3fb,#4fb,#4fb,#4fa,#5fa,#5fa,#5fa,#5f9,#5f9,#5fa,#5fa,#4fa,#4fa,#4fa,#4fa,#4fa,#4fa,#4fa,#4fa,#5fa,#5f9,#5f9,#5f9,#5fa,#5fa,#4fa,#5fa,#5f9,#5f9,#4fa,#3fb,#5fa,#6f9,#5f9,#4fb,#0bf,#07f,#07f,#07f,#07f)"></i><i style="background:linear-gradient(#fc0,#fc0,#fc0,#fc0,#af5,#4fa,#4fb,#4fa,#4fa,#4fb,#4fb,#4fb,#4fa,#5fa,#6f9,#6f8,#6f8,#5f9,#4fa,#3fb,#2fc,#2fc,#2fd,#3fc,#4fa,#6f9,#6f8,#6f8,#6f8,#6f9,#5f9,#5f9,#5fa,#2fc,#0cf,#1fd,#3fb,#2fc,#2fd,#3fc,#5fa,#6f8,#6f8,#6f9,#6f9,#6f9,#6f9,#6f9,#6f9,#5f9,#5f9,#5fa,#5fa,#5f9,#5f9,#6f9,#6f9,#6f9,#6f9,#6f8,#8f7,#8f6,#8f7,#9f6,#9f5,#6f9,#1fd,#0cf,#0bf,#0ee,#3fc,#5f9,#7f8,#9f6,#af4,#bf4,#9f5,#8f7,#7f7,#7f7,#7f8,#6f9,#3fb,#2fd,#3fb,#8f7,#bf3,#af4,#8f6,#7f7,#7f7,#7f8,#6f8,#7f8,#7f8,#6f8,#6f9,#6f9,#5f9,#5f9,#5f9,#5fa,#4fa,#4fb,#4fb,#3fb,#3fb,#3fc,#2fc,#2fc,#2fc,#3fc,#3fc,#4fb,#4fa,#5f9,#6f8,#7f8,#6f8,#5f9,#4fa,#4fb,#3fb,#3fb,#3fb,#3fb,#3fb,#3fb,#3fb,#3fb,#3fb,#3fb,#3fb,#3fb,#3fb,#3fb,#3fb,#3fb,#3fb,#3fb,#3fb,#3fb,#4fb,#4fb,#4fa,#5fa,#5fa,#5fa,#5fa,#4fa,#4fb,#4fb,#4fb,#4fb,#4fa,#4fa,#4fa,#4fb,#4fb,#4fa,#5fa,#6f9,#6f9,#6f9,#6f9,#6f9,#6f8,#6f8,#6f8,#5f9,#4fa,#6f9,#7f8,#6f9,#4fb,#0bf,#07f,#07f,#07f,#07f)"></i><i style="background:linear-gradient(#fc0,#fc0,#fc0,#fc0,#9f5,#4fb,#3fb,#4fa,#5fa,#4fa,#4fb,#4fb,#4fa,#5fa,#5f9,#6f8,#6f8,#5f9,#4fb,#2fc,#1fd,#1ee,#0cf,#0df,#2fc,#5fa,#6f9,#6f8,#6f8,#6f8,#6f8,#6f9,#5f9,#2fc,#0bf,#1ee,#2fd,#0df,#0bf,#0df,#3fc,#5fa,#5f9,#5f9,#5fa,#5f9,#6f9,#6f8,#6f8,#6f8,#6f8,#6f8,#6f8,#6f8,#7f8,#7f8,#7f8,#7f8,#6f8,#7f8,#8f7,#8f7,#7f7,#8f7,#8f6,#3fc,#09f,#04f,#03f,#07f,#0df,#2fd,#2fd,#1ee,#0df,#0df,#0ee,#2fd,#4fb,#5f9,#5f9,#3fc,#0bf,#07f,#09f,#0ee,#4fa,#6f9,#7f8,#7f7,#8f7,#7f8,#7f8,#7f8,#7f8,#7f8,#6f8,#6f8,#6f9,#5f9,#5fa,#4fa,#4fb,#4fb,#4fb,#4fb,#4fb,#3fb,#3fc,#3fc,#2fc,#3fc,#3fc,#4fb,#5fa,#7f8,#8f6,#9f5,#8f6,#7f8,#5f9,#4fb,#3fb,#3fb,#3fb,#3fb,#3fb,#3fb,#3fb,#3fb,#3fb,#3fb,#3fb,#3fb,#3fb,#3fb,#3fb,#3fb,#3fb,#3fb,#3fb,#3fb,#4fb,#4fb,#4fa,#4fa,#5fa,#5fa,#5fa,#4fa,#3fb,#3fc,#3fc,#3fb,#4fb,#4fb,#4fb,#3fb,#3fb,#3fb,#4fa,#5f9,#6f9,#6f9,#6f9,#6f8,#6f8,#7f8,#7f8,#6f9,#5fa,#6f8,#7f7,#7f8,#5fa,#0bf,#07f,#07f,#07f,#07f)"></i><i style="background:linear-gradient(#fc0,#fc0,#fc0,#fc0,#8f6,#2fd,#2fc,#4fb,#5fa,#5fa,#4fa,#4fb,#4fa,#5fa,#6f9,#6f8,#6f8,#6f9,#4fa,#3fc,#2fd,#0ee,#0cf,#0bf,#1fd,#4fa,#5f9,#6f9,#7f8,#7f8,#7f8,#6f8,#6f9,#2fc,#0bf,#1fe,#2fc,#0ee,#0cf,#0ee,#3fc,#4fa,#5fa,#4fa,#4fa,#5fa,#6f9,#6f8,#7f8,#7f8,#7f8,#7f8,#7f8,#7f7,#7f7,#7f7,#7f7,#7f7,#7f8,#7f8,#8f7,#7f7,#6f8,#7f8,#7f8,#2fc,#0af,#06f,#05f,#08f,#0cf,#1ee,#0ee,#0bf,#09f,#09f,#0bf,#0ee,#2fc,#4fa,#5fa,#3fb,#0cf,#09f,#09f,#0bf,#0ee,#1fd,#3fc,#5fa,#6f8,#6f8,#6f8,#6f8,#6f8,#6f8,#6f9,#6f9,#6f9,#5f9,#5fa,#4fa,#4fb,#4fb,#4fb,#5fa,#5fa,#5fa,#4fa,#3fb,#3fb,#3fc,#3fc,#4fb,#5fa,#7f7,#9f5,#af5,#9f5,#7f7,#5f9,#4fb,#3fb,#3fb,#3fb,#3fb,#3fb,#3fb,#3fb,#3fb,#3fb,#3fb,#3fb,#3fb,#3fb,#3fb,#3fb,#3fb,#3fb,#3fb,#3fb,#4fb,#4fb,#4fb,#4fa,#4fa,#5fa,#5fa,#5fa,#4fa,#4fb,#3fb,#3fb,#4fb,#4fb,#4fb,#3fb,#3fb,#3fb,#4fb,#4fa,#5fa,#5f9,#5f9,#5f9,#5f9,#5f9,#5f9,#5f9,#4fa,#4fb,#5f9,#7f8,#6f8,#5fa,#0bf,#07f,#07f,#07f,#07f)"></i><i style="background:linear-gradient(#fc0,#fc0,#fc0,#fc0,#8f6,#1fe,#2fd,#4fb,#5f9,#6f9,#5f9,#5fa,#5fa,#5f9,#6f8,#7f8,#7f8,#6f8,#5fa,#4fb,#3fc,#2fd,#0ee,#0ee,#3fc,#4fa,#5fa,#4fa,#6f9,#6f8,#6f8,#6f9,#5f9,#3fc,#0cf,#1fd,#3fb,#3fc,#3fc,#3fb,#4fa,#5fa,#4fa,#4fa,#5fa,#5f9,#6f9,#6f8,#7f8,#7f7,#8f7,#9f5,#af4,#af4,#9f6,#8f7,#8f7,#8f7,#7f7,#7f7,#8f7,#7f8,#6f9,#6f9,#6f8,#4fa,#4fb,#4fa,#4fa,#3fb,#3fc,#3fb,#5f9,#8f7,#bf4,#cf3,#9f5,#7f8,#5f9,#6f9,#6f8,#6f9,#4fb,#1fd,#0df,#0af,#08f,#08f,#08f,#0bf,#2fd,#5fa,#6f9,#6f9,#6f9,#6f9,#5f9,#5f9,#5f9,#5f9,#5fa,#4fa,#4fb,#4fb,#4fb,#4fa,#5fa,#4fa,#4fb,#3fb,#3fc,#3fc,#3fc,#3fb,#4fa,#6f9,#7f7,#8f6,#8f7,#6f8,#5fa,#4fb,#3fb,#3fb,#3fb,#3fb,#3fb,#3fb,#3fb,#3fb,#3fb,#3fb,#3fb,#3fb,#3fb,#3fb,#3fb,#3fb,#3fb,#3fb,#3fb,#4fb,#4fb,#4fb,#4fb,#4fa,#5fa,#5fa,#5fa,#4fa,#4fb,#4fb,#4fb,#4fb,#4fb,#4fb,#4fb,#3fb,#4fb,#4fa,#5fa,#5f9,#5f9,#5f9,#5f9,#5fa,#5fa,#5fa,#5fa,#4fb,#4fb,#6f9,#7f7,#7f7,#6f9,#0cf,#07f,#07f,#07f,#07f)"></i><i style="background:linear-gradient(#fc0,#fc0,#fc0,#fc0,#8f6,#2fd,#2fc,#4fa,#6f9,#6f8,#6f8,#6f8,#6f8,#6f8,#7f8,#7f7,#7f7,#5f9,#3fb,#2fc,#2fc,#3fc,#4fb,#4fa,#5fa,#5fa,#3fb,#2fd,#4fb,#5f9,#5fa,#4fa,#4fb,#2fc,#0df,#2fd,#4fb,#4fa,#4fa,#5fa,#5fa,#5fa,#4fa,#5fa,#5fa,#5f9,#6f9,#6f8,#6f8,#7f8,#8f6,#bf4,#df2,#cf2,#af4,#8f6,#8f7,#8f7,#8f7,#8f7,#8f6,#7f8,#5f9,#6f9,#6f8,#7f8,#af5,#ef1,#ef0,#af4,#6f8,#5fa,#7f8,#9f5,#cf2,#df1,#af4,#7f7,#6f9,#6f9,#6f8,#7f8,#5f9,#3fb,#0ee,#0af,#07f,#07f,#08f,#0bf,#3fc,#6f9,#6f8,#6f9,#5f9,#5f9,#5f9,#5f9,#5f9,#5fa,#5fa,#4fa,#4fb,#3fb,#3fb,#4fb,#4fa,#4fa,#4fb,#4fb,#3fb,#3fb,#3fb,#3fb,#4fb,#5fa,#5f9,#6f9,#5f9,#5fa,#4fb,#3fb,#3fb,#3fb,#3fb,#3fb,#3fb,#3fb,#3fb,#3fb,#3fb,#3fb,#3fb,#3fb,#3fb,#3fb,#3fb,#3fb,#3fb,#3fb,#3fb,#3fb,#4fb,#4fb,#4fb,#4fa,#4fa,#4fa,#4fa,#4fa,#4fa,#4fb,#4fb,#4fa,#4fb,#4fb,#4fb,#4fb,#4fb,#4fa,#5fa,#5fa,#5fa,#5fa,#4fa,#4fb,#4fb,#4fb,#4fa,#4fb,#4fb,#6f9,#8f7,#8f7,#7f8,#0cf,#07f,#07f,#07f,#07f)"></i><i style="background:linear-gradient(#fc0,#fc0,#fc0,#fc0,#9f5,#3fb,#4fb,#5f9,#6f8,#7f8,#7f7,#8f7,#8f7,#8f7,#8f7,#8f7,#6f8,#3fc,#0bf,#0af,#0df,#4fa,#9f6,#bf3,#af5,#7f8,#2fd,#0cf,#2fc,#4fb,#4fb,#3fb,#3fc,#2fc,#0ee,#2fd,#4fb,#4fa,#5fa,#5fa,#5fa,#5fa,#5fa,#5fa,#5f9,#5f9,#6f9,#6f9,#6f9,#6f9,#6f8,#7f8,#7f8,#7f8,#7f8,#7f8,#8f7,#8f7,#7f7,#8f7,#9f5,#7f8,#5fa,#5f9,#6f8,#7f8,#8f7,#9f6,#8f6,#7f8,#5fa,#4fb,#3fb,#2fd,#0df,#0bf,#0cf,#1ee,#3fc,#5fa,#6f9,#6f9,#5f9,#4fa,#2fc,#1fe,#0ee,#1ee,#3fb,#8f6,#cf3,#cf2,#af5,#7f8,#5fa,#5fa,#4fa,#4fa,#5fa,#5fa,#5fa,#4fa,#4fb,#3fc,#2fc,#2fc,#2fc,#2fc,#2fc,#3fc,#3fc,#3fb,#3fb,#3fb,#3fb,#4fb,#4fb,#4fb,#4fb,#4fb,#3fb,#3fb,#3fb,#3fb,#3fb,#3fb,#3fb,#3fb,#3fb,#3fb,#3fb,#3fb,#3fb,#3fb,#3fb,#3fb,#3fb,#3fb,#3fb,#3fb,#3fb,#3fb,#4fb,#4fb,#4fb,#4fa,#4fa,#5fa,#5fa,#5fa,#5fa,#5fa,#5fa,#5fa,#5fa,#5fa,#5fa,#4fa,#4fa,#4fa,#4fa,#4fa,#4fb,#3fb,#3fb,#3fc,#3fc,#3fb,#4fb,#3fb,#3fb,#6f9,#8f7,#8f7,#7f8,#0cf,#07f,#07f,#07f,#07f)"></i><i style="background:linear-gradient(#fc0,#fc0,#fc0,#fc0,#af5,#5fa,#4fa,#5f9,#6f9,#6f8,#7f7,#8f7,#8f6,#9f6,#9f6,#8f7,#6f8,#1fd,#08f,#07f,#0cf,#6f8,#ef0,#fa0,#fe0,#9f6,#2fd,#0bf,#2fd,#4fb,#3fb,#3fc,#3fc,#3fc,#1ee,#2fd,#3fb,#4fa,#5f9,#5f9,#6f9,#6f9,#6f9,#6f9,#5f9,#5f9,#5f9,#5f9,#5fa,#5fa,#5fa,#5fa,#5fa,#5f9,#6f9,#6f8,#7f8,#7f8,#6f9,#7f7,#af5,#7f8,#4fb,#5fa,#6f8,#7f7,#8f6,#8f6,#7f7,#6f8,#5fa,#3fb,#2fd,#0cf,#07f,#03f,#05f,#09f,#1ee,#3fb,#4fa,#5fa,#4fa,#4fa,#4fa,#4fa,#4fa,#5f9,#8f7,#cf3,#df1,#df1,#af4,#6f9,#4fb,#3fb,#3fb,#4fb,#4fb,#4fa,#5fa,#4fa,#3fb,#2fd,#1ee,#0df,#0cf,#0cf,#0df,#0ee,#1fd,#2fc,#3fc,#3fc,#3fc,#3fc,#3fc,#3fc,#3fc,#3fb,#3fb,#4fb,#4fb,#4fb,#4fb,#4fb,#4fb,#3fb,#3fb,#3fb,#3fb,#3fb,#3fb,#3fb,#3fb,#3fb,#3fb,#3fb,#3fb,#3fb,#4fb,#4fb,#4fb,#4fb,#4fa,#4fa,#5fa,#5fa,#5fa,#5fa,#5f9,#5f9,#6f9,#6f9,#6f9,#6f9,#6f9,#6f9,#5f9,#5f9,#5fa,#4fa,#4fb,#4fb,#3fb,#3fb,#3fb,#4fb,#4fa,#4fa,#4fb,#6f8,#8f6,#8f6,#7f7,#0cf,#07f,#07f,#07f,#07f)"></i><i style="background:linear-gradient(#fc0,#fc0,#fc0,#fc0,#af5,#5fa,#4fb,#5fa,#5f9,#6f9,#6f8,#7f7,#8f7,#8f7,#7f7,#7f8,#6f9,#4fb,#1fe,#0ee,#3fc,#7f8,#bf3,#ef1,#cf3,#7f8,#2fc,#0ef,#3fc,#4fa,#4fb,#3fb,#3fb,#3fb,#1fd,#2fc,#3fb,#5fa,#6f9,#6f8,#7f8,#7f7,#7f7,#7f7,#7f7,#7f8,#6f9,#5fa,#4fa,#4fa,#4fa,#5f9,#6f9,#6f9,#6f8,#6f9,#6f9,#5f9,#4fa,#5fa,#7f8,#4fa,#3fc,#4fa,#6f8,#8f7,#9f5,#9f5,#8f6,#6f8,#5fa,#3fb,#2fd,#0cf,#06f,#03f,#04f,#09f,#0df,#2fc,#4fb,#5f9,#6f9,#7f8,#7f8,#7f8,#7f8,#7f8,#7f7,#8f6,#9f6,#7f8,#2fd,#0bf,#0af,#0df,#2fd,#3fb,#4fa,#5fa,#5fa,#4fa,#3fc,#1fd,#0df,#0bf,#0bf,#0bf,#0bf,#0cf,#0ee,#2fd,#3fc,#3fc,#3fc,#3fc,#3fc,#3fc,#3fc,#3fb,#3fb,#4fb,#4fb,#4fb,#4fb,#4fb,#4fb,#4fb,#3fb,#3fb,#3fb,#3fb,#3fb,#3fb,#3fb,#3fb,#3fb,#3fb,#3fb,#4fb,#4fb,#4fb,#4fb,#4fa,#4fa,#5fa,#5fa,#5fa,#4fa,#4fa,#4fa,#5fa,#5fa,#5f9,#6f9,#6f9,#6f9,#6f9,#6f9,#5f9,#5fa,#4fa,#4fb,#3fb,#3fb,#3fb,#4fb,#4fa,#5fa,#4fa,#4fa,#6f8,#8f6,#8f7,#7f8,#0cf,#07f,#07f,#07f,#07f)"></i><i style="background:linear-gradient(#fc0,#fc0,#fc0,#fc0,#9f5,#4fb,#3fc,#4fa,#5f9,#6f9,#6f9,#6f8,#6f9,#4fa,#3fb,#3fc,#4fb,#4fa,#5fa,#5f9,#6f8,#7f7,#7f7,#7f7,#6f8,#4fa,#3fc,#2fc,#4fa,#5f9,#5fa,#4fa,#4fa,#4fa,#2fc,#3fc,#4fb,#5f9,#6f8,#7f7,#8f7,#8f6,#9f6,#9f5,#af5,#9f5,#8f7,#6f9,#4fb,#3fb,#4fb,#5fa,#6f9,#6f8,#6f8,#6f9,#5f9,#4fa,#3fb,#3fc,#4fb,#3fc,#3fc,#4fa,#6f8,#8f6,#9f5,#9f6,#8f7,#6f9,#4fa,#3fb,#2fd,#0ef,#0af,#08f,#09f,#0bf,#1fd,#4fb,#7f7,#bf4,#ef1,#fd0,#fd0,#ef1,#bf3,#9f5,#8f7,#7f7,#6f9,#2fd,#09f,#06f,#06f,#09f,#1fe,#4fb,#5fa,#5f9,#5f9,#5fa,#4fb,#2fd,#0ee,#0cf,#0bf,#0bf,#0cf,#0df,#1fd,#3fc,#3fb,#3fb,#3fc,#3fc,#3fc,#3fc,#3fc,#3fb,#3fb,#4fb,#4fb,#4fb,#4fb,#4fb,#4fb,#3fb,#3fb,#3fb,#3fb,#3fb,#3fb,#3fb,#3fb,#3fb,#3fb,#3fb,#4fb,#4fb,#4fb,#4fa,#4fa,#4fa,#4fa,#5fa,#4fa,#4fa,#4fb,#4fb,#4fb,#4fb,#4fa,#5fa,#5fa,#5f9,#6f9,#6f9,#6f9,#5f9,#5fa,#4fb,#4fb,#3fb,#3fb,#4fb,#4fb,#4fa,#5fa,#4fa,#4fb,#6f8,#8f7,#8f7,#6f8,#0cf,#07f,#07f,#07f,#07f)"></i><i style="background:linear-gradient(#fc0,#fc0,#fc0,#fc0,#9f6,#2fc,#2fc,#5fa,#7f7,#7f8,#6f9,#5fa,#3fc,#0df,#0af,#0af,#0df,#3fc,#5fa,#6f8,#7f7,#7f8,#4fa,#3fb,#3fb,#3fb,#3fb,#4fa,#7f8,#7f7,#6f8,#6f9,#6f9,#6f9,#4fb,#4fb,#5fa,#6f9,#7f8,#8f7,#8f7,#8f7,#8f7,#8f7,#8f7,#7f8,#5fa,#2fc,#0df,#0cf,#0df,#1fe,#3fc,#5fa,#6f9,#7f7,#9f6,#9f5,#8f6,#7f7,#6f8,#4fa,#3fb,#5fa,#7f8,#8f7,#8f6,#8f6,#7f8,#5f9,#4fa,#3fb,#3fc,#2fd,#0ee,#0df,#0df,#1ee,#2fc,#4fb,#7f8,#af4,#ef1,#fd0,#fe0,#df1,#bf4,#9f6,#7f7,#7f8,#6f9,#3fb,#0ee,#0bf,#0bf,#0ee,#4fb,#5f9,#6f9,#6f9,#5f9,#5f9,#4fa,#3fb,#3fc,#2fd,#1fd,#1fd,#2fd,#3fc,#3fb,#4fb,#4fb,#3fb,#3fc,#3fc,#3fc,#3fc,#3fc,#3fb,#3fb,#3fb,#3fb,#3fb,#3fc,#3fb,#3fb,#3fb,#3fb,#3fb,#3fb,#3fb,#3fb,#3fb,#3fb,#3fb,#3fb,#4fb,#4fb,#4fb,#4fb,#4fa,#4fa,#4fa,#4fa,#4fa,#4fa,#4fa,#4fb,#4fb,#4fb,#4fb,#4fb,#4fb,#4fa,#5fa,#5f9,#5f9,#5f9,#5fa,#4fa,#4fb,#3fb,#3fc,#3fc,#3fb,#4fb,#4fa,#5fa,#4fb,#3fb,#6f9,#8f7,#7f7,#5f9,#0cf,#07f,#07f,#07f,#07f)"></i><i style="background:linear-gradient(#fc0,#fc0,#fc0,#fc0,#8f6,#1fd,#2fd,#7f7,#bf3,#9f5,#6f9,#4fb,#0ee,#08f,#03f,#04f,#08f,#1fe,#4fa,#6f8,#7f8,#5f9,#1fd,#0df,#1fd,#3fc,#3fb,#6f9,#9f6,#9f5,#8f7,#7f7,#7f7,#7f7,#5f9,#5f9,#6f8,#7f8,#7f7,#8f7,#7f7,#7f8,#6f8,#5f9,#4fb,#2fc,#0df,#0af,#08f,#06f,#07f,#09f,#0df,#3fc,#5f9,#9f5,#fe0,#fb0,#fe0,#fe0,#df1,#7f7,#5fa,#5f9,#6f8,#7f7,#7f7,#7f8,#6f9,#5f9,#4fa,#4fb,#3fb,#3fc,#3fc,#2fc,#2fc,#2fc,#2fc,#2fc,#3fc,#4fa,#5f9,#6f8,#7f8,#6f8,#6f8,#6f9,#6f9,#6f9,#6f9,#5f9,#5fa,#5fa,#5fa,#6f9,#6f9,#6f9,#6f9,#5f9,#5f9,#5fa,#4fa,#4fa,#4fa,#4fb,#4fa,#5fa,#5fa,#5fa,#5fa,#4fa,#3fb,#3fc,#2fc,#2fc,#2fc,#2fc,#3fc,#3fc,#3fc,#3fc,#3fc,#3fc,#3fc,#3fc,#3fc,#3fc,#3fc,#3fb,#3fb,#3fb,#3fb,#3fb,#3fb,#3fb,#4fb,#4fb,#4fb,#4fb,#4fa,#4fa,#4fa,#4fa,#4fa,#4fa,#4fa,#4fb,#4fb,#4fb,#4fb,#4fb,#4fb,#4fb,#4fb,#4fa,#5fa,#5fa,#5fa,#5fa,#4fa,#4fb,#3fb,#3fb,#3fb,#4fb,#5fa,#5f9,#5f9,#4fb,#3fc,#6f9,#8f6,#8f7,#6f9,#0cf,#07f,#07f,#07f,#07f)"></i><i style="background:linear-gradient(#fc0,#fc0,#fc0,#fc0,#8f6,#0ee,#2fd,#8f6,#df2,#af4,#6f8,#4fb,#0ee,#08f,#03f,#04f,#08f,#1ee,#4fa,#6f9,#6f9,#4fb,#0df,#0bf,#1ee,#3fc,#4fb,#6f8,#9f5,#9f5,#8f6,#8f6,#9f6,#9f6,#6f8,#6f8,#7f8,#7f8,#7f7,#7f7,#7f8,#6f8,#5f9,#4fa,#3fb,#2fc,#1fd,#0df,#0cf,#0bf,#0cf,#0ee,#2fd,#4fb,#5fa,#6f8,#9f5,#bf4,#bf4,#cf2,#cf3,#7f7,#5fa,#5fa,#4fa,#4fb,#3fb,#3fb,#3fb,#3fb,#4fb,#4fb,#4fb,#4fb,#4fb,#4fa,#4fa,#4fa,#3fb,#3fc,#2fc,#2fc,#3fc,#3fb,#4fb,#4fa,#5fa,#5fa,#5f9,#5f9,#5f9,#5f9,#5f9,#6f9,#6f9,#6f9,#4fa,#3fb,#3fb,#4fa,#4fa,#4fa,#4fb,#4fb,#4fa,#4fa,#5fa,#5f9,#5f9,#5f9,#5f9,#4fa,#4fb,#3fb,#3fc,#3fc,#3fc,#3fb,#3fb,#3fb,#4fb,#3fb,#3fb,#3fc,#2fc,#2fc,#2fc,#2fc,#3fc,#3fc,#3fb,#3fb,#3fb,#3fb,#3fb,#3fb,#3fb,#4fb,#4fb,#4fb,#4fb,#4fb,#4fb,#4fb,#4fb,#4fb,#4fb,#4fb,#4fb,#4fb,#4fb,#4fb,#4fb,#4fb,#4fb,#4fa,#5fa,#5f9,#5f9,#5f9,#5fa,#5fa,#4fa,#4fa,#4fa,#5fa,#5f9,#6f9,#6f9,#3fc,#1fd,#5f9,#8f6,#8f7,#6f9,#0cf,#07f,#07f,#07f,#07f)"></i><i style="background:linear-gradient(#fc0,#fc0,#fc0,#fc0,#8f7,#0df,#1fd,#7f8,#bf4,#9f5,#7f8,#5fa,#2fc,#0cf,#09f,#09f,#0cf,#2fd,#5fa,#6f9,#6f9,#4fb,#1ee,#0df,#1fd,#4fb,#5fa,#6f8,#8f7,#8f7,#6f8,#7f8,#8f6,#9f6,#6f8,#6f9,#6f8,#6f8,#6f8,#6f8,#6f8,#6f9,#5f9,#4fa,#4fb,#4fb,#4fb,#4fa,#5fa,#5fa,#5f9,#6f9,#6f9,#6f9,#4fa,#3fc,#1fd,#2fd,#3fb,#5f9,#7f8,#6f9,#5fa,#3fb,#1fd,#0df,#0cf,#0cf,#0df,#1fd,#2fc,#3fc,#3fb,#4fb,#5fa,#5f9,#6f9,#5f9,#5fa,#4fb,#3fc,#3fc,#3fc,#3fc,#3fb,#4fb,#5fa,#5f9,#5f9,#6f9,#6f9,#6f9,#6f9,#6f9,#6f9,#4fb,#1fe,#0cf,#0df,#2fc,#3fb,#3fb,#3fb,#4fb,#4fa,#5fa,#5f9,#5f9,#5f9,#5f9,#5f9,#5fa,#4fa,#4fb,#3fb,#4fb,#4fb,#4fa,#4fa,#4fa,#4fa,#4fb,#3fb,#3fc,#3fc,#2fc,#2fc,#2fc,#3fc,#3fc,#3fb,#3fb,#3fb,#4fb,#4fb,#4fb,#3fb,#3fb,#3fb,#3fb,#3fb,#3fb,#3fb,#3fb,#3fb,#4fb,#4fb,#4fb,#4fb,#4fb,#4fb,#4fb,#4fb,#4fa,#4fa,#5fa,#5fa,#5f9,#5f9,#5f9,#5f9,#5f9,#5f9,#5f9,#5f9,#5f9,#6f9,#6f8,#5f9,#1fd,#0cf,#4fa,#8f7,#7f7,#5f9,#0cf,#07f,#07f,#07f,#07f)"></i><i style="background:linear-gradient(#fc0,#fc0,#fc0,#fc0,#8f7,#0df,#0ee,#4fb,#7f7,#7f7,#7f8,#6f9,#5fa,#3fc,#1fd,#1fe,#2fd,#3fb,#5fa,#5f9,#5f9,#4fa,#2fc,#2fd,#3fc,#5fa,#6f9,#6f8,#7f8,#6f9,#3fc,#4fa,#7f7,#8f6,#6f9,#5f9,#5f9,#5f9,#5f9,#6f9,#6f9,#6f9,#5f9,#5fa,#5fa,#5fa,#5f9,#6f8,#7f7,#8f7,#8f7,#8f7,#7f8,#6f9,#4fb,#1ee,#0cf,#0cf,#1fd,#4fb,#7f8,#7f8,#6f9,#5fa,#3fb,#3fc,#3fc,#3fb,#3fb,#3fc,#3fc,#3fb,#3fb,#4fa,#5f9,#6f9,#6f8,#6f8,#6f9,#5fa,#4fb,#3fc,#2fc,#2fc,#2fc,#3fb,#4fb,#5fa,#5f9,#6f9,#6f8,#6f9,#6f9,#6f9,#5f9,#4fb,#1ee,#0cf,#0df,#2fc,#3fb,#3fb,#3fc,#3fb,#4fb,#5fa,#5f9,#5f9,#5f9,#5f9,#5f9,#5fa,#4fa,#4fb,#4fb,#4fb,#4fa,#4fa,#4fa,#4fa,#4fa,#4fa,#4fb,#3fb,#3fc,#3fc,#3fc,#3fc,#3fc,#3fb,#4fb,#4fb,#4fb,#4fb,#4fb,#4fb,#4fb,#4fb,#4fb,#4fb,#4fb,#4fb,#4fb,#4fb,#4fb,#4fa,#4fa,#4fa,#4fa,#4fa,#4fa,#4fa,#4fa,#4fa,#5fa,#5fa,#5f9,#5f9,#5f9,#5f9,#5f9,#5f9,#5f9,#5f9,#5fa,#5fa,#5f9,#6f9,#5fa,#0df,#0af,#3fc,#7f8,#7f8,#5f9,#0cf,#07f,#07f,#07f,#07f)"></i><i style="background:linear-gradient(#fc0,#fc0,#fc0,#fc0,#8f7,#0df,#0df,#2fd,#5fa,#6f8,#6f8,#6f8,#6f8,#5f9,#4fa,#4fb,#4fb,#4fa,#5fa,#5fa,#5fa,#4fa,#3fb,#3fb,#4fa,#6f9,#7f8,#7f7,#7f8,#4fb,#0df,#2fd,#6f9,#7f8,#4fa,#4fb,#4fa,#4fa,#5fa,#5fa,#5f9,#6f9,#6f9,#6f9,#5f9,#6f9,#6f8,#7f7,#8f6,#9f6,#8f6,#8f7,#7f8,#5f9,#3fb,#0ee,#0bf,#0cf,#1fd,#4fa,#7f8,#7f7,#6f8,#6f9,#5f9,#6f9,#7f7,#9f6,#8f7,#6f9,#4fa,#4fb,#4fb,#4fa,#5f9,#6f8,#7f8,#6f8,#6f9,#5f9,#4fa,#3fb,#2fc,#1fd,#1fd,#2fd,#3fc,#4fb,#5fa,#5f9,#6f9,#6f9,#6f9,#6f9,#6f9,#5fa,#4fb,#3fc,#3fc,#3fb,#4fb,#3fb,#3fb,#3fb,#4fb,#4fb,#4fa,#5fa,#5fa,#5fa,#5fa,#4fa,#4fa,#4fa,#4fb,#4fb,#4fb,#4fb,#4fb,#4fb,#4fb,#3fb,#3fb,#3fb,#3fc,#3fc,#3fc,#3fc,#3fb,#4fb,#4fb,#4fb,#4fa,#4fa,#4fa,#4fa,#4fa,#4fa,#4fa,#4fa,#4fa,#4fa,#4fa,#4fa,#4fa,#5fa,#5fa,#5fa,#5fa,#4fa,#4fa,#4fa,#4fa,#4fa,#4fa,#5fa,#5fa,#5fa,#5fa,#5fa,#5fa,#5f9,#5f9,#5fa,#4fa,#4fb,#5fa,#6f8,#4fa,#0cf,#09f,#2fd,#5f9,#5f9,#4fb,#0bf,#07f,#07f,#07f,#07f)"></i><i style="background:linear-gradient(#fc0,#fc0,#fc0,#fc0,#8f7,#0df,#0cf,#1fe,#4fb,#5fa,#5f9,#6f9,#6f9,#6f9,#6f9,#6f9,#6f8,#6f8,#5f9,#5f9,#5fa,#4fa,#4fa,#4fa,#5fa,#6f8,#7f7,#7f7,#7f8,#3fb,#0cf,#1ee,#4fa,#5f9,#3fc,#2fc,#3fc,#3fb,#4fb,#5fa,#5f9,#6f9,#6f8,#6f8,#6f8,#6f8,#7f8,#8f7,#9f6,#9f6,#8f6,#8f7,#7f7,#6f8,#4fa,#2fd,#0df,#0df,#1fd,#3fc,#4fa,#4fb,#3fb,#4fb,#4fa,#6f9,#8f6,#af5,#9f6,#7f8,#5fa,#4fa,#4fa,#5fa,#5f9,#6f9,#6f9,#6f9,#5f9,#5fa,#4fa,#3fb,#2fc,#1fd,#1fd,#1fd,#2fc,#3fc,#4fb,#5fa,#5f9,#5f9,#5f9,#5f9,#6f9,#6f9,#6f9,#5f9,#5fa,#4fa,#4fa,#4fb,#4fb,#4fb,#4fb,#3fb,#4fb,#4fb,#4fa,#4fa,#4fa,#4fa,#5fa,#5fa,#4fa,#4fb,#3fb,#3fb,#3fc,#3fc,#3fc,#2fc,#2fc,#2fc,#3fc,#3fc,#3fc,#3fb,#3fb,#4fb,#4fb,#4fb,#4fb,#4fa,#4fa,#4fa,#4fa,#4fa,#4fa,#4fa,#4fa,#4fa,#4fb,#4fb,#4fb,#4fb,#4fb,#4fb,#4fb,#4fb,#4fb,#4fb,#3fb,#3fb,#3fb,#4fb,#4fb,#4fb,#4fb,#4fb,#4fa,#5fa,#5fa,#5fa,#4fa,#4fb,#5f9,#8f7,#6f9,#0cf,#0af,#1fe,#4fa,#4fa,#3fb,#0bf,#07f,#07f,#07f,#07f)"></i><i style="background:linear-gradient(#fc0,#fc0,#fc0,#fc0,#8f6,#0df,#0cf,#0ee,#3fb,#4fb,#4fa,#5fa,#5f9,#6f9,#6f9,#8f7,#af5,#9f6,#7f8,#5f9,#5f9,#5fa,#5fa,#5fa,#5f9,#6f8,#7f7,#7f7,#6f8,#3fb,#0df,#1fe,#3fc,#3fc,#0ee,#0ee,#1fd,#2fc,#4fb,#5fa,#6f9,#6f8,#6f8,#6f8,#6f8,#6f8,#7f8,#8f7,#8f6,#8f6,#8f6,#8f6,#9f6,#8f7,#6f8,#4fb,#2fc,#1fe,#0df,#0bf,#09f,#08f,#08f,#0bf,#1ee,#4fb,#6f8,#8f7,#8f7,#7f8,#6f9,#5f9,#5f9,#5fa,#5fa,#5fa,#5fa,#5fa,#5fa,#5fa,#5fa,#4fa,#3fb,#2fc,#1fd,#1fd,#2fc,#3fc,#4fb,#4fa,#5fa,#5fa,#5f9,#5f9,#6f9,#6f9,#6f9,#6f9,#5f9,#5fa,#4fa,#4fa,#4fa,#4fa,#4fb,#4fb,#4fb,#4fb,#4fb,#4fa,#5fa,#5f9,#6f9,#6f9,#5f9,#4fb,#3fb,#3fc,#2fc,#2fc,#2fd,#2fd,#2fd,#2fc,#2fc,#3fc,#3fb,#3fb,#4fb,#4fb,#4fb,#4fb,#4fb,#4fb,#4fb,#4fb,#4fb,#4fb,#4fb,#4fb,#4fb,#3fb,#3fb,#3fb,#3fc,#3fc,#3fc,#3fb,#3fb,#4fb,#4fa,#4fb,#4fb,#4fb,#4fb,#4fa,#4fa,#4fa,#4fb,#4fb,#4fa,#5fa,#5f9,#5f9,#5fa,#4fa,#6f8,#9f5,#7f8,#0ee,#0bf,#2fd,#5f9,#5f9,#4fb,#0bf,#07f,#07f,#07f,#07f)"></i><i style="background:linear-gradient(#fc0,#fc0,#fc0,#fc0,#9f6,#0ee,#0cf,#0ee,#3fc,#4fb,#4fb,#5fa,#5f9,#5fa,#5fa,#6f8,#8f6,#8f7,#6f8,#5f9,#5f9,#6f9,#6f9,#6f9,#6f9,#6f8,#6f8,#6f8,#5f9,#3fb,#1fd,#1fe,#1fd,#1ee,#0bf,#0cf,#0ef,#2fd,#3fb,#5f9,#6f9,#6f8,#6f9,#6f9,#6f9,#6f8,#7f8,#7f7,#8f7,#8f7,#8f7,#9f6,#af5,#9f5,#7f7,#6f9,#4fb,#2fd,#0cf,#08f,#04f,#02f,#04f,#08f,#0cf,#2fd,#4fa,#6f9,#6f8,#7f8,#6f8,#6f8,#6f9,#5fa,#4fa,#4fb,#4fb,#4fa,#5fa,#5f9,#5f9,#5fa,#4fa,#3fc,#2fc,#2fc,#3fc,#4fb,#4fa,#5fa,#5f9,#6f9,#6f9,#6f9,#6f9,#6f9,#6f9,#5f9,#5fa,#5fa,#4fa,#5fa,#5fa,#5fa,#4fa,#4fa,#4fb,#4fb,#4fa,#5fa,#5f9,#6f8,#8f7,#8f7,#6f9,#4fa,#3fc,#3fc,#2fc,#2fc,#2fd,#2fd,#2fd,#2fd,#2fc,#3fc,#3fb,#3fb,#4fb,#4fb,#4fb,#4fb,#4fb,#4fa,#4fb,#4fb,#4fb,#4fb,#3fb,#4fb,#4fb,#3fb,#3fb,#3fb,#3fb,#3fb,#3fb,#3fb,#4fb,#5fa,#5f9,#5f9,#5f9,#5f9,#6f9,#6f8,#6f8,#6f9,#5f9,#5fa,#5fa,#5f9,#5f9,#5f9,#5f9,#5fa,#7f8,#af5,#7f7,#2fd,#0ee,#4fb,#7f8,#7f7,#6f9,#0cf,#07f,#07f,#07f,#07f)"></i><i style="background:linear-gradient(#fc0,#fc0,#fc0,#fc0,#9f6,#1ee,#0bf,#0ee,#3fb,#4fa,#4fa,#5fa,#5fa,#3fc,#0df,#0df,#2fd,#3fb,#4fa,#5fa,#6f9,#6f8,#6f8,#6f9,#6f9,#6f9,#6f9,#5f9,#5fa,#3fb,#2fd,#1fe,#0ee,#0df,#0bf,#0bf,#0df,#1fd,#3fb,#5f9,#6f8,#6f8,#6f9,#5f9,#5f9,#5f9,#6f9,#6f8,#7f8,#7f7,#8f7,#9f6,#af5,#9f5,#7f7,#6f8,#5f9,#4fa,#2fc,#0ee,#0cf,#0bf,#0bf,#0df,#1fd,#2fc,#4fb,#5fa,#6f9,#6f8,#7f8,#6f8,#6f9,#5fa,#4fb,#4fb,#4fb,#4fa,#5f9,#6f9,#6f9,#6f9,#5fa,#4fb,#3fb,#3fb,#4fb,#5fa,#5f9,#6f9,#6f8,#6f8,#6f8,#6f8,#6f8,#6f8,#6f9,#5f9,#5fa,#4fa,#4fa,#5fa,#5fa,#5fa,#4fb,#4fa,#4fa,#4fa,#5fa,#5f9,#6f8,#7f7,#9f6,#9f6,#7f8,#4fa,#3fb,#3fc,#3fc,#2fc,#2fc,#2fd,#2fd,#2fc,#2fc,#3fc,#3fc,#3fb,#3fb,#3fb,#4fb,#4fb,#4fb,#4fb,#3fb,#3fb,#3fb,#3fc,#3fb,#3fb,#3fb,#3fb,#3fc,#3fc,#3fc,#3fc,#3fc,#3fb,#4fb,#4fa,#5fa,#5f9,#5f9,#6f9,#6f8,#7f8,#7f8,#6f8,#5f9,#5fa,#5fa,#5fa,#5fa,#5fa,#5fa,#4fa,#6f9,#8f6,#7f8,#3fb,#2fc,#5f9,#8f7,#8f6,#7f8,#0cf,#07f,#07f,#07f,#07f)"></i><i style="background:linear-gradient(#fc0,#fc0,#fc0,#fc0,#9f6,#1ee,#0bf,#0ee,#4fb,#5fa,#5fa,#5fa,#4fa,#2fd,#0af,#07f,#0bf,#1fd,#4fb,#5f9,#6f8,#7f8,#7f8,#6f8,#6f8,#6f9,#6f9,#5f9,#5fa,#4fb,#2fc,#1fd,#0ee,#0df,#0bf,#0bf,#0df,#1fd,#4fb,#5f9,#6f8,#6f8,#6f9,#5f9,#5fa,#5fa,#5f9,#6f9,#6f8,#7f8,#8f7,#8f6,#9f6,#8f6,#7f8,#6f9,#6f9,#6f9,#6f9,#6f9,#6f8,#6f9,#5fa,#4fa,#4fb,#3fb,#3fc,#4fb,#5fa,#6f9,#7f8,#6f8,#5f9,#4fa,#3fb,#3fb,#4fb,#5fa,#6f9,#6f8,#7f8,#6f8,#5f9,#5fa,#4fb,#4fa,#5fa,#5f9,#6f9,#6f8,#7f7,#7f8,#7f8,#7f8,#6f8,#6f9,#6f9,#5f9,#5fa,#5fa,#5fa,#5fa,#5fa,#5fa,#4fb,#4fb,#3fb,#4fb,#5fa,#5f9,#6f9,#7f7,#9f6,#9f6,#7f8,#4fa,#3fc,#3fc,#3fc,#3fc,#3fc,#3fc,#3fc,#3fc,#3fc,#3fc,#3fc,#3fc,#3fb,#3fb,#3fb,#3fb,#3fb,#3fc,#3fc,#2fc,#2fc,#2fc,#2fc,#3fc,#3fc,#3fc,#2fc,#2fc,#2fc,#2fc,#2fc,#2fc,#3fc,#3fc,#3fb,#4fa,#5fa,#5f9,#6f9,#6f9,#6f9,#5fa,#4fa,#4fb,#3fb,#3fb,#4fb,#4fb,#4fb,#4fb,#5f9,#7f8,#6f8,#4fb,#3fb,#6f9,#8f6,#8f6,#7f8,#0cf,#07f,#07f,#07f,#07f)"></i><i style="background:linear-gradient(#fc0,#fc0,#fc0,#fc0,#9f6,#1ee,#0bf,#0ee,#4fa,#5f9,#5fa,#5fa,#4fa,#3fc,#0ee,#0df,#1fd,#4fa,#7f7,#9f6,#af5,#af4,#af5,#8f6,#7f7,#7f8,#6f8,#6f9,#5f9,#4fa,#3fb,#2fc,#1fd,#0df,#0bf,#0bf,#0df,#2fd,#4fb,#6f9,#6f8,#6f8,#6f9,#5f9,#5fa,#5fa,#5f9,#6f9,#6f8,#7f8,#8f7,#8f6,#8f6,#7f7,#6f8,#5f9,#5fa,#5fa,#6f9,#7f8,#8f6,#8f6,#7f7,#6f8,#5fa,#3fb,#3fc,#3fb,#5fa,#6f9,#7f8,#6f8,#5f9,#4fb,#3fb,#3fb,#4fa,#6f9,#7f8,#7f7,#7f7,#7f8,#6f9,#5fa,#4fa,#4fb,#4fb,#4fb,#4fa,#5f9,#6f9,#6f9,#6f8,#6f8,#6f9,#6f9,#5f9,#5fa,#5fa,#5fa,#5fa,#5fa,#5fa,#5fa,#4fa,#4fb,#4fb,#4fa,#5fa,#5f9,#5f9,#6f8,#7f7,#7f7,#5f9,#3fb,#2fc,#3fc,#3fc,#3fb,#3fb,#4fb,#4fb,#4fb,#4fb,#4fb,#4fb,#4fb,#4fb,#4fb,#4fb,#3fb,#3fb,#3fc,#2fc,#2fd,#2fd,#2fc,#2fc,#3fc,#3fc,#3fc,#2fc,#2fc,#2fc,#2fc,#2fc,#2fc,#2fc,#2fc,#3fc,#3fb,#4fa,#5fa,#5f9,#5f9,#5fa,#4fa,#4fb,#3fb,#3fc,#3fc,#3fb,#4fb,#4fb,#4fb,#5fa,#6f9,#6f9,#4fa,#4fb,#6f8,#8f6,#8f6,#7f7,#0cf,#07f,#07f,#07f,#07f)"></i><i style="background:linear-gradient(#fc0,#fc0,#fc0,#fc0,#9f6,#1ee,#0bf,#1ee,#4fa,#5fa,#5fa,#4fa,#5fa,#5fa,#4fa,#5fa,#6f9,#8f7,#af5,#cf3,#df2,#df2,#bf3,#af5,#8f6,#7f7,#7f8,#6f8,#6f9,#5fa,#4fa,#3fb,#2fc,#1ee,#0bf,#0cf,#1fe,#2fc,#4fb,#6f9,#7f8,#7f8,#6f9,#5f9,#5fa,#5f9,#5f9,#6f9,#6f8,#7f8,#7f7,#8f7,#8f7,#7f8,#5f9,#4fa,#4fb,#4fb,#4fa,#6f8,#8f6,#8f6,#7f7,#7f8,#6f9,#4fa,#4fb,#4fa,#5fa,#6f8,#7f8,#7f8,#6f9,#5fa,#4fa,#4fa,#5f9,#6f8,#7f7,#8f7,#8f7,#7f7,#6f9,#4fa,#2fc,#1fd,#0df,#0cf,#0cf,#0df,#1fe,#2fd,#3fb,#4fa,#5fa,#5fa,#5fa,#4fa,#4fa,#5fa,#5fa,#5f9,#5f9,#5fa,#4fa,#4fa,#4fa,#5fa,#5fa,#5fa,#4fa,#4fb,#4fa,#3fb,#2fc,#2fd,#2fd,#2fc,#3fc,#3fb,#4fb,#5fa,#5fa,#5f9,#5f9,#5f9,#5fa,#5fa,#5fa,#4fa,#4fb,#3fb,#3fc,#3fc,#2fc,#2fd,#2fd,#2fc,#3fc,#3fb,#3fb,#3fb,#3fb,#3fb,#3fb,#3fb,#3fb,#3fc,#3fc,#3fc,#3fb,#4fb,#5fa,#5f9,#6f9,#5f9,#5f9,#5fa,#4fa,#4fb,#3fb,#3fb,#4fb,#4fb,#4fb,#3fb,#4fb,#5fa,#5f9,#4fb,#3fb,#6f9,#8f6,#8f6,#7f8,#0cf,#07f,#07f,#07f,#07f)"></i><i style="background:linear-gradient(#fc0,#fc0,#fc0,#fc0,#9f6,#1ee,#0cf,#1ee,#4fb,#5fa,#5fa,#5fa,#5f9,#6f9,#7f8,#7f7,#7f7,#7f8,#6f9,#6f9,#6f9,#6f9,#6f8,#7f8,#7f7,#7f7,#7f8,#7f8,#7f8,#6f8,#5f9,#4fa,#4fb,#2fd,#0df,#0ee,#2fd,#3fc,#4fa,#6f9,#6f8,#7f8,#6f9,#5f9,#5f9,#5f9,#5f9,#5f9,#6f9,#6f9,#6f8,#7f8,#7f8,#6f9,#4fa,#3fb,#3fc,#3fc,#4fb,#7f8,#9f5,#8f6,#7f8,#7f8,#7f8,#6f8,#6f9,#5f9,#6f9,#7f8,#8f7,#8f6,#8f7,#7f8,#6f9,#6f9,#6f8,#7f7,#8f7,#8f7,#7f7,#6f8,#4fa,#2fd,#0df,#0af,#08f,#06f,#06f,#06f,#07f,#0af,#0df,#1fd,#3fc,#4fb,#4fb,#4fb,#4fa,#4fa,#5fa,#5fa,#5f9,#5fa,#5fa,#5fa,#5fa,#5fa,#5fa,#4fa,#3fc,#2fd,#0ee,#0df,#0df,#0ee,#2fd,#3fb,#4fb,#5fa,#6f9,#6f8,#7f8,#7f8,#7f8,#6f8,#6f9,#5f9,#5fa,#4fa,#4fb,#3fb,#3fc,#2fc,#2fd,#2fd,#2fd,#2fc,#3fb,#4fb,#4fb,#4fb,#4fa,#4fa,#5fa,#5fa,#5fa,#5fa,#4fa,#4fa,#4fa,#5fa,#6f9,#6f8,#6f8,#6f8,#6f9,#5f9,#5fa,#5fa,#4fa,#4fb,#4fb,#3fb,#3fc,#2fc,#3fc,#4fb,#4fa,#3fc,#2fc,#5f9,#8f7,#8f7,#7f8,#0cf,#07f,#07f,#07f,#07f)"></i><i style="background:linear-gradient(#fc0,#fc0,#fc0,#fc0,#9f6,#1fe,#0cf,#1ee,#4fb,#5fa,#5fa,#5f9,#6f9,#7f8,#8f7,#9f6,#8f7,#6f9,#2fc,#0df,#0bf,#0cf,#1fd,#4fb,#6f8,#7f7,#7f7,#8f7,#9f6,#8f6,#7f7,#6f9,#5fa,#4fb,#1fe,#2fd,#3fb,#4fb,#4fa,#5f9,#6f8,#6f8,#6f9,#5f9,#5f9,#5f9,#5fa,#5fa,#4fa,#4fa,#5fa,#5f9,#6f9,#5fa,#4fb,#3fc,#2fc,#2fc,#3fb,#7f7,#af4,#8f6,#7f8,#7f7,#8f7,#8f7,#7f7,#7f8,#6f8,#7f7,#9f6,#af5,#9f5,#8f6,#7f7,#7f7,#7f7,#7f7,#7f7,#7f8,#6f9,#4fb,#2fd,#0df,#0af,#07f,#06f,#06f,#06f,#06f,#06f,#08f,#0bf,#0ee,#2fd,#3fb,#4fb,#4fb,#4fa,#4fa,#4fa,#5fa,#5fa,#5f9,#5f9,#6f9,#6f9,#6f9,#5f9,#4fa,#2fc,#0ee,#0cf,#0bf,#0bf,#0df,#2fc,#4fa,#5f9,#6f8,#7f7,#8f6,#9f6,#9f6,#8f6,#7f7,#7f8,#6f9,#5fa,#4fb,#3fb,#2fc,#2fd,#1fd,#1fd,#1fe,#1fd,#2fd,#3fc,#4fb,#4fa,#4fa,#5fa,#5fa,#5f9,#6f9,#6f9,#6f9,#5f9,#5f9,#5f9,#6f9,#6f8,#6f8,#6f8,#6f8,#6f9,#5f9,#5fa,#5fa,#4fa,#4fa,#4fb,#3fc,#2fd,#1fd,#2fd,#3fc,#4fb,#2fd,#0ee,#4fa,#7f7,#7f7,#6f8,#0cf,#07f,#07f,#07f,#07f)"></i><i style="background:linear-gradient(#fc0,#fc0,#fc0,#fc0,#9f5,#2fd,#0df,#1fd,#4fb,#4fa,#5fa,#5fa,#6f9,#6f8,#8f7,#9f5,#9f6,#5fa,#0ee,#09f,#06f,#07f,#0bf,#2fc,#6f9,#7f7,#8f7,#9f6,#af5,#af5,#8f6,#7f8,#5f9,#5fa,#2fc,#3fc,#4fb,#4fa,#5f9,#6f9,#6f9,#6f9,#5f9,#5fa,#5fa,#5fa,#4fa,#3fb,#3fc,#3fc,#3fb,#4fa,#5fa,#4fa,#3fb,#3fc,#2fc,#2fc,#3fb,#6f8,#9f6,#7f7,#6f8,#7f7,#8f7,#8f6,#8f7,#7f7,#7f8,#7f8,#8f6,#9f5,#9f5,#8f6,#8f6,#8f7,#7f7,#7f8,#6f8,#5f9,#4fb,#2fd,#0ee,#0df,#0cf,#0af,#08f,#07f,#07f,#08f,#09f,#0bf,#0df,#2fd,#3fc,#4fb,#4fa,#4fa,#4fa,#4fa,#4fa,#5fa,#5fa,#5f9,#5f9,#6f8,#7f8,#6f8,#6f9,#5fa,#3fc,#0ee,#0cf,#0bf,#0bf,#0ee,#3fc,#5fa,#6f9,#7f8,#8f7,#9f5,#af5,#af5,#9f6,#8f7,#7f8,#6f9,#5f9,#4fa,#4fb,#3fc,#2fc,#2fd,#1fd,#1fd,#1fd,#2fc,#3fb,#4fb,#5fa,#5fa,#5f9,#5f9,#5f9,#6f9,#6f9,#6f9,#5f9,#5f9,#5f9,#6f9,#6f9,#6f9,#6f9,#5f9,#5fa,#5fa,#5fa,#5fa,#5fa,#4fa,#4fb,#3fc,#1fd,#1ee,#1fe,#3fc,#3fb,#1ee,#0cf,#3fb,#6f8,#6f8,#5f9,#0cf,#07f,#07f,#07f,#07f)"></i><i style="background:linear-gradient(#fc0,#fc0,#fc0,#fc0,#9f5,#2fc,#1ee,#2fc,#5fa,#5f9,#5fa,#4fa,#5fa,#5f9,#8f7,#af5,#9f6,#4fa,#0cf,#06f,#03f,#04f,#08f,#1fe,#5f9,#7f8,#8f7,#8f6,#9f5,#af5,#8f6,#7f8,#5f9,#5fa,#2fc,#2fc,#4fb,#5fa,#5f9,#6f9,#5f9,#5fa,#4fa,#4fa,#4fa,#4fa,#4fb,#3fc,#2fd,#1fd,#2fd,#3fc,#4fb,#4fa,#4fb,#3fb,#3fc,#3fb,#4fb,#6f9,#8f7,#7f8,#6f9,#6f8,#7f8,#7f8,#7f8,#6f8,#6f9,#6f8,#7f7,#8f7,#8f7,#8f7,#8f7,#7f7,#6f8,#6f9,#5fa,#3fb,#2fd,#0df,#0bf,#0df,#1fd,#2fc,#2fd,#1ee,#0ee,#0ee,#1fe,#2fc,#3fb,#4fa,#5fa,#5fa,#5fa,#4fa,#4fa,#4fa,#4fa,#4fa,#5fa,#5fa,#5f9,#7f8,#7f8,#7f8,#6f8,#6f9,#4fa,#2fc,#1ee,#0df,#0ee,#2fd,#4fb,#5fa,#6f9,#6f8,#8f7,#9f5,#af5,#9f5,#8f6,#7f8,#6f8,#5f9,#5fa,#4fa,#4fa,#4fb,#3fb,#3fc,#2fc,#2fd,#2fc,#3fc,#4fb,#5fa,#5f9,#6f9,#5f9,#5f9,#5fa,#5fa,#5fa,#5fa,#4fa,#4fa,#4fa,#5fa,#5fa,#5fa,#5fa,#5fa,#4fa,#4fa,#4fa,#4fa,#5fa,#4fa,#3fb,#2fd,#1ee,#0df,#0ee,#2fc,#3fb,#0df,#0af,#2fc,#6f8,#6f8,#5fa,#0bf,#07f,#07f,#07f,#07f)"></i><i style="background:linear-gradient(#fc0,#fc0,#fc0,#fc0,#9f5,#3fc,#2fd,#4fb,#7f8,#7f8,#6f9,#4fa,#4fa,#5fa,#7f8,#9f6,#8f7,#3fb,#0bf,#05f,#02f,#03f,#07f,#0df,#4fa,#6f8,#7f8,#7f7,#8f6,#8f6,#8f7,#6f8,#5f9,#4fa,#2fd,#1fd,#3fc,#4fb,#5fa,#5fa,#5fa,#4fa,#4fb,#4fb,#4fa,#5fa,#4fb,#3fc,#2fd,#1fd,#2fd,#3fc,#4fb,#4fa,#4fa,#4fb,#4fb,#4fb,#4fa,#6f8,#8f6,#7f8,#6f9,#6f9,#6f9,#5f9,#5fa,#5fa,#5f9,#6f9,#6f8,#7f8,#7f8,#7f8,#6f8,#6f9,#5fa,#4fb,#3fb,#2fc,#1fd,#0df,#0cf,#0ee,#3fc,#5fa,#4fa,#3fb,#2fc,#2fc,#3fc,#4fb,#5fa,#5f9,#5f9,#5f9,#5fa,#4fa,#4fb,#4fa,#4fa,#4fa,#5fa,#5fa,#5fa,#6f8,#7f8,#7f8,#7f8,#6f8,#5f9,#4fa,#3fb,#3fc,#3fb,#4fb,#5fa,#5f9,#5f9,#6f9,#7f8,#8f7,#8f7,#7f7,#7f8,#6f9,#5f9,#5fa,#4fa,#4fa,#4fa,#4fa,#4fb,#3fb,#3fc,#2fc,#3fc,#3fb,#5fa,#6f9,#6f8,#6f8,#6f9,#5f9,#4fa,#4fb,#4fb,#4fb,#3fb,#4fb,#4fb,#4fa,#4fa,#4fa,#4fa,#4fb,#3fb,#3fb,#3fb,#3fb,#4fb,#4fb,#2fc,#0ee,#0df,#0df,#0df,#2fd,#3fc,#0cf,#09f,#2fc,#7f8,#7f8,#6f9,#0cf,#07f,#07f,#07f,#07f)"></i><i style="background:linear-gradient(#fc0,#fc0,#fc0,#fc0,#9f5,#3fc,#3fc,#7f8,#af5,#af5,#7f7,#5f9,#4fa,#4fa,#6f9,#7f7,#6f8,#3fc,#0bf,#06f,#03f,#04f,#08f,#0df,#3fb,#5f9,#6f9,#6f8,#7f8,#7f7,#7f8,#6f8,#5f9,#4fa,#1fd,#1fe,#2fd,#3fc,#3fb,#4fb,#4fb,#3fb,#3fb,#4fb,#4fa,#5fa,#4fa,#4fb,#3fc,#3fc,#3fb,#4fa,#5fa,#5fa,#5fa,#4fa,#4fa,#5fa,#5f9,#7f7,#9f5,#7f7,#6f9,#5f9,#5f9,#5fa,#4fa,#4fa,#5fa,#6f9,#6f9,#6f9,#6f9,#5fa,#4fa,#4fb,#3fb,#3fc,#2fc,#2fc,#2fd,#2fd,#2fd,#2fc,#4fb,#5fa,#4fa,#3fb,#2fc,#2fd,#2fd,#3fb,#4fa,#5fa,#5fa,#5fa,#4fa,#4fb,#4fb,#4fb,#4fa,#5fa,#5fa,#5fa,#5fa,#5fa,#5f9,#6f9,#6f9,#6f9,#6f9,#5f9,#5fa,#5fa,#5fa,#5f9,#5f9,#5f9,#5f9,#5f9,#6f9,#6f9,#6f9,#6f9,#5f9,#5fa,#4fa,#4fb,#4fb,#4fb,#4fb,#4fb,#4fb,#3fb,#3fc,#3fc,#3fb,#4fb,#5f9,#6f8,#7f8,#7f8,#6f9,#5f9,#4fa,#4fb,#4fb,#4fb,#4fb,#4fb,#4fb,#4fa,#4fa,#4fa,#4fa,#4fb,#3fb,#3fc,#3fc,#3fb,#3fb,#3fb,#1fd,#0cf,#0cf,#0cf,#0df,#1fd,#2fc,#0cf,#09f,#2fc,#7f8,#7f8,#5f9,#0cf,#07f,#07f,#07f,#07f)"></i><i style="background:linear-gradient(#fc0,#fc0,#fc0,#fc0,#9f6,#2fc,#3fb,#9f6,#df2,#cf2,#9f6,#5f9,#4fb,#3fb,#4fb,#4fa,#4fb,#2fd,#0cf,#08f,#06f,#07f,#0af,#0ee,#3fc,#4fa,#5fa,#5f9,#6f9,#6f8,#6f8,#6f9,#5f9,#5fa,#2fd,#1fd,#2fc,#3fc,#3fc,#3fb,#3fb,#3fb,#4fb,#4fa,#5fa,#5f9,#5f9,#5fa,#5fa,#5f9,#6f9,#6f9,#6f9,#6f9,#5fa,#5fa,#5fa,#5f9,#6f8,#8f6,#af5,#8f6,#6f8,#6f9,#6f9,#5f9,#5f9,#5f9,#6f9,#6f9,#6f9,#5f9,#5fa,#4fa,#3fb,#3fb,#3fc,#3fc,#3fc,#3fb,#3fb,#3fb,#4fb,#4fb,#4fb,#4fb,#3fb,#2fc,#2fd,#1fd,#1fd,#3fc,#3fb,#4fb,#4fa,#4fa,#4fa,#4fb,#4fb,#4fa,#4fa,#5fa,#5fa,#4fa,#4fa,#4fa,#5fa,#5f9,#6f9,#6f9,#6f9,#5f9,#5f9,#5f9,#6f9,#6f9,#6f9,#5f9,#5fa,#4fa,#4fa,#4fa,#4fb,#4fb,#4fb,#3fb,#3fb,#3fb,#3fb,#4fb,#4fb,#4fb,#4fb,#4fb,#4fb,#4fb,#4fa,#5fa,#6f9,#6f8,#6f8,#6f9,#5f9,#4fa,#4fb,#3fb,#3fb,#4fb,#4fb,#4fb,#4fa,#4fa,#5fa,#5fa,#4fa,#4fb,#3fb,#3fb,#3fb,#4fb,#4fb,#4fb,#1fe,#0bf,#0cf,#0cf,#0df,#2fd,#2fc,#0df,#0af,#2fc,#6f9,#6f9,#5fa,#0bf,#07f,#07f,#07f,#07f)"></i><i style="background:linear-gradient(#fc0,#fc0,#fc0,#fc0,#9f6,#2fc,#3fc,#8f7,#cf3,#bf3,#7f7,#3fb,#1ee,#0cf,#0bf,#0af,#0af,#0bf,#0bf,#0af,#09f,#0af,#0cf,#1fd,#3fc,#4fb,#4fb,#4fa,#5fa,#6f9,#6f9,#6f9,#5f9,#5f9,#3fb,#3fc,#3fb,#3fb,#3fc,#3fb,#3fb,#4fb,#4fa,#5fa,#5f9,#6f9,#6f9,#6f8,#6f8,#7f8,#7f7,#7f8,#6f8,#6f9,#5f9,#5f9,#6f9,#7f8,#7f7,#9f6,#af4,#9f6,#7f8,#6f8,#7f8,#7f8,#7f7,#7f7,#7f7,#7f7,#7f8,#6f9,#5fa,#4fa,#3fb,#3fb,#3fc,#3fb,#4fb,#4fa,#5fa,#5fa,#5fa,#5fa,#4fa,#4fb,#3fb,#3fc,#2fc,#2fd,#1fd,#2fc,#2fc,#3fc,#3fc,#3fb,#4fb,#4fb,#4fb,#4fa,#4fa,#5fa,#5fa,#4fa,#4fa,#4fb,#4fb,#5fa,#5fa,#5f9,#5fa,#4fa,#5fa,#5fa,#5f9,#5f9,#5fa,#4fa,#3fb,#3fc,#2fc,#2fc,#2fd,#2fd,#2fd,#2fc,#2fc,#3fc,#3fb,#3fb,#4fb,#4fb,#4fb,#4fb,#4fb,#4fa,#5fa,#5f9,#6f9,#6f9,#5f9,#5fa,#4fa,#4fb,#3fb,#3fb,#3fb,#3fb,#4fb,#4fb,#4fb,#4fb,#4fb,#4fb,#3fb,#3fc,#2fc,#2fc,#3fc,#3fb,#4fb,#4fb,#1fd,#0bf,#0cf,#0df,#1fd,#3fc,#3fb,#0ee,#0cf,#3fb,#6f8,#6f8,#5fa,#0bf,#07f,#07f,#07f,#07f)"></i><i style="background:linear-gradient(#fc0,#fc0,#fc0,#fc0,#9f6,#1fd,#1fd,#5fa,#8f6,#8f7,#5fa,#2fd,#0df,#0bf,#09f,#09f,#0af,#0af,#0cf,#0cf,#0df,#0ee,#1fd,#3fc,#3fb,#3fb,#3fb,#4fb,#4fa,#5f9,#6f9,#6f9,#6f9,#6f9,#4fa,#4fb,#4fa,#4fb,#3fb,#4fb,#5fa,#6f9,#6f9,#6f9,#6f9,#6f9,#6f9,#6f9,#6f9,#6f8,#6f8,#6f9,#6f9,#6f9,#6f9,#6f8,#7f8,#8f7,#8f6,#9f5,#af4,#9f6,#7f8,#6f8,#7f8,#8f7,#8f6,#9f6,#9f6,#9f6,#8f7,#7f8,#5f9,#4fa,#4fb,#3fb,#3fb,#4fb,#5fa,#5f9,#6f9,#6f9,#6f9,#5f9,#5fa,#5fa,#4fa,#4fb,#3fb,#3fc,#2fc,#2fc,#2fd,#2fd,#2fd,#3fc,#3fb,#3fb,#4fb,#4fb,#4fa,#5fa,#5fa,#4fa,#4fa,#3fb,#4fb,#4fa,#5fa,#5fa,#5fa,#4fa,#5fa,#5fa,#5f9,#5f9,#4fa,#3fb,#2fc,#2fd,#1fe,#0ee,#0ee,#0ee,#1ee,#1fd,#2fd,#3fc,#3fb,#4fb,#4fb,#4fb,#4fb,#4fb,#4fb,#4fa,#5fa,#6f9,#6f9,#6f8,#6f9,#5f9,#5fa,#4fa,#4fa,#4fa,#4fa,#4fb,#4fb,#4fb,#4fb,#4fb,#3fb,#3fc,#2fc,#2fd,#1fd,#1fd,#2fd,#2fc,#3fc,#3fb,#1fd,#0cf,#0df,#1fe,#3fb,#5fa,#4fa,#2fd,#0ee,#4fb,#6f8,#6f8,#5fa,#0bf,#07f,#07f,#07f,#07f)"></i><i style="background:linear-gradient(#f70,#f70,#f70,#f70,#8f6,#0ee,#0df,#2fc,#5fa,#5f9,#4fa,#3fb,#3fc,#3fb,#6f9,#9f5,#9f5,#7f8,#4fa,#4fb,#3fb,#3fb,#3fb,#4fb,#4fb,#3fb,#3fb,#3fb,#4fa,#5f9,#6f9,#5f9,#5f9,#6f9,#4fa,#4fa,#4fa,#4fb,#4fb,#5f9,#7f7,#9f6,#8f6,#6f8,#5fa,#3fb,#2fc,#2fd,#1fd,#2fd,#2fc,#3fc,#3fb,#4fa,#5f9,#6f8,#8f7,#9f6,#9f5,#af5,#af4,#9f6,#6f8,#5f9,#6f8,#7f7,#8f6,#9f5,#9f5,#9f5,#8f6,#7f8,#5f9,#4fa,#4fb,#3fb,#4fb,#4fa,#5fa,#6f9,#6f9,#6f8,#6f9,#6f9,#5f9,#5f9,#5fa,#5fa,#5fa,#4fa,#3fb,#3fc,#2fd,#1fe,#1ee,#1fd,#2fc,#3fb,#4fb,#4fa,#4fa,#5fa,#5fa,#4fa,#4fa,#4fa,#5fa,#6f9,#6f8,#7f8,#6f8,#6f8,#6f8,#6f8,#6f8,#6f9,#5fa,#3fb,#2fc,#1fe,#0df,#0cf,#0cf,#0cf,#0df,#1ee,#2fd,#3fc,#4fb,#4fb,#4fb,#4fb,#4fb,#4fb,#4fb,#4fa,#5fa,#5f9,#6f9,#6f8,#6f8,#6f8,#6f9,#5f9,#5f9,#5fa,#4fa,#4fa,#4fb,#4fb,#4fb,#4fb,#4fb,#3fc,#2fd,#1fd,#1ee,#1fe,#1fd,#2fd,#3fc,#3fc,#2fd,#1ee,#1ee,#2fc,#6f8,#8f7,#6f9,#3fc,#1fd,#4fa,#7f8,#6f8,#5f9,#0bf,#07f,#07f,#07f,#07f)"></i><i style="background:linear-gradient(#f70,#f70,#f70,#f70,#8f6,#0df,#0cf,#2fd,#5fa,#5f9,#5f9,#5fa,#5fa,#6f8,#bf3,#fb0,#fb0,#cf3,#8f7,#6f8,#6f9,#5f9,#5fa,#5fa,#5fa,#4fa,#4fb,#4fb,#4fa,#5f9,#5f9,#5f9,#5fa,#5f9,#3fb,#4fb,#4fa,#4fa,#4fa,#5f9,#8f7,#9f5,#8f6,#6f9,#3fb,#1fe,#0cf,#0bf,#0bf,#0bf,#0df,#0ee,#1fd,#3fc,#4fa,#6f9,#7f7,#9f6,#9f5,#af5,#af4,#8f6,#4fa,#3fc,#4fa,#6f8,#8f7,#8f6,#9f6,#8f6,#7f7,#6f9,#4fa,#3fb,#3fb,#3fb,#4fb,#4fa,#5fa,#5f9,#6f9,#6f9,#6f9,#6f9,#5f9,#5fa,#5fa,#5fa,#5fa,#5fa,#4fa,#2fc,#1ee,#0df,#0cf,#0df,#1fd,#3fc,#4fb,#4fa,#5fa,#5fa,#4fa,#4fa,#4fa,#5f9,#6f9,#7f8,#8f7,#8f6,#8f6,#8f7,#8f7,#7f7,#6f8,#6f9,#4fa,#3fb,#2fd,#0ee,#0cf,#0bf,#0bf,#0cf,#0df,#0ee,#2fd,#3fc,#3fb,#4fb,#4fb,#4fb,#3fb,#3fb,#3fb,#3fb,#4fb,#4fa,#5f9,#6f9,#6f8,#7f8,#6f8,#6f8,#6f9,#5f9,#5fa,#4fa,#4fb,#4fb,#4fa,#4fa,#4fb,#3fb,#2fd,#1fd,#1ee,#1ee,#1fd,#2fd,#2fc,#2fc,#2fc,#2fd,#2fd,#4fb,#8f7,#af5,#7f8,#4fb,#3fc,#5fa,#7f7,#7f7,#6f9,#0cf,#07f,#07f,#07f,#07f)"></i><i style="background:linear-gradient(#f70,#f70,#f70,#f70,#8f6,#0df,#0cf,#2fd,#5f9,#6f8,#5f9,#5fa,#4fa,#5fa,#7f8,#af4,#af4,#8f6,#7f8,#7f8,#7f8,#6f8,#6f9,#6f9,#6f9,#5f9,#3fb,#2fc,#4fb,#5f9,#5f9,#5fa,#4fa,#5fa,#3fc,#3fb,#4fa,#4fa,#4fa,#4fa,#5fa,#5f9,#5fa,#4fb,#3fb,#2fc,#1fd,#1ee,#0ee,#0ee,#1ee,#1fd,#2fd,#2fc,#3fb,#5fa,#7f8,#8f7,#9f6,#9f5,#af4,#8f7,#2fc,#0df,#2fc,#6f9,#7f8,#7f7,#7f7,#7f8,#5f9,#4fa,#3fb,#3fc,#3fc,#4fb,#4fa,#4fa,#5fa,#5f9,#5f9,#6f9,#6f9,#6f9,#5f9,#5fa,#4fa,#4fa,#5fa,#5fa,#4fb,#2fd,#0df,#0bf,#0bf,#0bf,#0df,#2fd,#4fb,#5fa,#5fa,#5fa,#4fa,#4fa,#5fa,#5f9,#6f8,#7f7,#8f6,#9f5,#9f5,#9f5,#9f6,#7f7,#6f8,#5fa,#4fb,#3fc,#1fd,#0df,#0cf,#0bf,#0bf,#0bf,#0df,#1ee,#2fd,#3fc,#3fb,#3fb,#3fb,#3fb,#3fc,#3fc,#2fc,#2fc,#3fc,#3fb,#4fb,#4fa,#5f9,#6f9,#6f9,#6f9,#6f9,#5f9,#5fa,#4fa,#4fa,#5fa,#5fa,#5f9,#5fa,#4fb,#3fc,#2fd,#1fd,#1fd,#2fd,#2fc,#2fc,#3fc,#3fc,#3fc,#3fb,#4fa,#8f7,#9f5,#7f8,#4fa,#3fb,#6f9,#8f6,#8f7,#7f8,#0cf,#07f,#07f,#07f,#07f)"></i><i style="background:linear-gradient(#f70,#f70,#f70,#f70,#8f7,#0cf,#0bf,#2fd,#5f9,#5fa,#2fc,#0ee,#1ee,#2fd,#3fb,#4fb,#5fa,#5f9,#6f9,#6f8,#7f8,#7f8,#7f8,#7f8,#6f8,#5fa,#1fe,#0cf,#2fd,#5fa,#6f9,#5f9,#5fa,#5fa,#3fb,#3fb,#4fa,#5fa,#4fa,#4fa,#4fb,#4fb,#4fb,#4fb,#4fb,#4fb,#3fb,#3fb,#3fc,#3fc,#3fc,#2fc,#2fc,#2fc,#3fc,#4fb,#6f9,#7f8,#8f7,#9f6,#af5,#8f7,#2fd,#0bf,#1fd,#5fa,#6f9,#6f9,#6f9,#5f9,#5fa,#4fb,#3fc,#2fc,#3fc,#4fb,#4fa,#5fa,#5fa,#5f9,#5f9,#6f9,#6f9,#5f9,#5fa,#4fa,#4fb,#4fb,#4fa,#4fa,#3fb,#1fd,#0cf,#0bf,#0bf,#0bf,#0cf,#1fd,#3fb,#4fa,#4fa,#4fa,#4fa,#4fa,#5fa,#6f9,#7f8,#8f7,#9f6,#af5,#af4,#af5,#9f5,#8f7,#6f8,#5fa,#4fb,#3fb,#2fd,#0ee,#0cf,#0bf,#0bf,#0cf,#0df,#1fd,#3fc,#3fb,#4fb,#4fb,#4fa,#4fa,#3fb,#3fb,#3fc,#3fc,#2fc,#3fc,#3fc,#3fb,#4fa,#5fa,#5f9,#5f9,#5f9,#5f9,#5fa,#5fa,#5fa,#5f9,#6f9,#6f9,#5f9,#4fa,#3fb,#2fc,#2fd,#2fd,#2fd,#2fc,#2fc,#3fc,#3fc,#3fb,#4fb,#4fa,#6f8,#7f7,#6f8,#4fa,#4fb,#6f9,#8f7,#7f7,#6f9,#0cf,#07f,#07f,#07f,#07f)"></i><i style="background:linear-gradient(#f70,#f70,#f70,#f70,#8f6,#0cf,#0bf,#1fd,#4fb,#2fd,#0bf,#08f,#09f,#0df,#2fd,#3fc,#4fb,#4fa,#5f9,#6f9,#6f8,#7f8,#7f8,#7f8,#7f8,#4fa,#0bf,#07f,#0df,#4fa,#6f9,#5f9,#5f9,#5f9,#4fb,#4fb,#4fa,#5fa,#4fa,#4fb,#4fb,#4fb,#4fb,#4fb,#4fb,#4fb,#3fb,#3fb,#3fb,#3fb,#3fb,#3fc,#2fc,#2fc,#2fc,#3fb,#5fa,#6f8,#7f7,#8f6,#af5,#8f7,#3fc,#0df,#2fc,#5fa,#5f9,#5fa,#5fa,#5fa,#4fa,#4fb,#3fc,#3fc,#3fc,#4fb,#4fa,#4fa,#5fa,#5fa,#5fa,#5f9,#5f9,#5f9,#5fa,#4fa,#4fb,#4fb,#4fb,#4fb,#3fb,#1fd,#0df,#0bf,#0bf,#0bf,#0df,#1fd,#3fc,#4fb,#4fb,#4fb,#4fb,#4fa,#5f9,#6f8,#7f8,#8f7,#8f6,#9f6,#9f5,#9f6,#8f6,#7f8,#6f9,#4fa,#3fb,#3fc,#2fd,#1fe,#0df,#0cf,#0cf,#0df,#0ee,#2fd,#3fb,#4fb,#4fb,#4fa,#5f9,#5f9,#4fa,#4fb,#4fb,#3fb,#3fc,#2fc,#2fc,#3fc,#3fb,#4fb,#4fa,#5fa,#5fa,#5fa,#5fa,#5fa,#5f9,#6f9,#6f8,#6f8,#6f9,#5fa,#4fb,#3fb,#3fc,#2fc,#2fd,#2fd,#2fc,#3fc,#3fb,#4fb,#4fa,#5fa,#6f9,#7f8,#7f8,#5f9,#5fa,#6f8,#8f6,#7f7,#6f9,#0cf,#07f,#07f,#07f,#07f)"></i><i style="background:linear-gradient(#f70,#f70,#f70,#f70,#8f6,#0cf,#0bf,#1fd,#4fb,#1fd,#0af,#07f,#09f,#0df,#2fd,#3fb,#4fb,#4fa,#5f9,#6f9,#6f8,#7f8,#7f7,#7f7,#7f7,#4fa,#0bf,#07f,#0df,#4fa,#6f9,#6f9,#6f9,#5f9,#3fb,#3fb,#4fa,#4fa,#4fb,#4fb,#4fb,#4fb,#4fb,#4fb,#4fb,#3fb,#3fc,#3fc,#3fc,#3fb,#3fb,#3fc,#3fc,#2fc,#3fc,#3fb,#5fa,#6f9,#7f8,#8f7,#9f5,#8f6,#5f9,#3fb,#4fa,#5f9,#5fa,#5fa,#4fa,#4fa,#4fa,#4fb,#3fc,#2fc,#2fc,#3fc,#3fb,#4fb,#4fb,#4fb,#4fb,#4fb,#4fa,#4fa,#4fa,#4fa,#4fa,#4fa,#4fa,#4fa,#4fb,#2fc,#0ee,#0cf,#0cf,#0cf,#0ee,#2fd,#3fc,#3fb,#3fb,#3fb,#4fb,#4fa,#5fa,#6f9,#6f8,#7f8,#7f8,#7f7,#7f7,#7f8,#6f8,#5f9,#4fb,#3fb,#3fc,#2fc,#2fd,#1fd,#1ee,#0ee,#0ef,#0ee,#1fd,#2fc,#3fb,#4fb,#4fb,#4fa,#6f8,#7f8,#5fa,#4fb,#4fb,#4fb,#3fc,#2fc,#2fd,#2fc,#2fc,#3fc,#3fb,#4fb,#4fb,#4fb,#4fb,#4fa,#5fa,#5f9,#6f9,#6f9,#6f9,#5f9,#4fa,#4fb,#3fc,#3fc,#2fc,#2fc,#2fc,#3fc,#4fb,#4fa,#5fa,#6f9,#6f8,#7f7,#7f8,#5f9,#5fa,#6f9,#7f7,#6f8,#5fa,#0bf,#07f,#07f,#07f,#07f)"></i><i style="background:linear-gradient(#f70,#f70,#f70,#f70,#8f6,#0df,#0bf,#1fd,#4fa,#4fb,#1fd,#0df,#0ee,#2fc,#3fb,#3fb,#4fb,#4fa,#5f9,#6f9,#6f8,#7f8,#8f7,#8f6,#8f6,#6f9,#1fe,#0bf,#1fd,#4fa,#5f9,#6f9,#6f9,#4fb,#1ee,#2fc,#4fb,#4fb,#4fb,#3fb,#4fb,#4fb,#4fb,#4fb,#3fb,#3fc,#2fc,#2fc,#3fc,#3fb,#3fb,#3fb,#3fc,#3fc,#4fb,#5fa,#6f9,#6f8,#7f8,#7f7,#9f6,#8f6,#7f7,#6f8,#6f8,#6f8,#5f9,#5fa,#4fa,#4fa,#4fb,#3fb,#3fc,#2fd,#2fd,#2fc,#3fc,#3fb,#4fb,#3fb,#3fc,#3fc,#3fc,#4fb,#4fa,#4fa,#5fa,#5fa,#5fa,#5fa,#4fa,#3fb,#2fc,#1fd,#1ee,#1fd,#2fc,#3fc,#3fb,#3fb,#3fb,#3fb,#4fb,#4fb,#4fa,#5fa,#5f9,#5f9,#6f9,#6f9,#5f9,#5fa,#4fa,#4fb,#3fc,#2fc,#2fc,#2fc,#2fc,#2fc,#2fd,#1fd,#1fd,#2fd,#2fc,#3fc,#3fb,#4fb,#4fb,#4fa,#7f7,#8f6,#5f9,#4fa,#4fa,#4fa,#4fb,#3fb,#3fc,#3fc,#3fb,#4fb,#4fb,#4fb,#4fb,#4fb,#4fa,#4fa,#5fa,#5fa,#5f9,#5f9,#5f9,#5fa,#4fb,#4fb,#3fb,#3fc,#3fc,#2fc,#3fc,#3fb,#4fb,#4fa,#5fa,#5f9,#7f8,#7f7,#6f8,#4fb,#3fc,#4fb,#5fa,#4fb,#2fc,#0af,#07f,#07f,#07f,#07f)"></i><i style="background:linear-gradient(#f70,#f70,#f70,#f70,#8f6,#0df,#0cf,#2fd,#5fa,#5f9,#5f9,#5fa,#4fa,#4fb,#3fb,#2fc,#3fc,#4fb,#5f9,#6f9,#6f8,#7f8,#8f7,#9f6,#9f6,#7f7,#4fb,#2fd,#3fb,#5fa,#6f9,#6f8,#6f8,#3fc,#0cf,#2fd,#4fa,#4fb,#3fb,#3fc,#3fc,#3fc,#3fb,#3fb,#3fc,#3fc,#3fc,#3fc,#3fb,#4fb,#4fb,#3fb,#3fb,#4fb,#5fa,#6f9,#7f8,#7f7,#7f7,#8f7,#9f5,#9f6,#8f7,#8f7,#7f7,#7f8,#6f8,#6f9,#5fa,#4fa,#4fb,#3fb,#3fc,#2fc,#2fd,#2fc,#3fb,#4fb,#4fb,#3fb,#3fc,#2fc,#3fc,#3fb,#4fa,#5f9,#6f9,#6f8,#6f8,#6f9,#5fa,#4fa,#4fb,#3fb,#3fb,#3fb,#4fb,#4fb,#4fb,#3fb,#3fb,#3fb,#4fb,#4fb,#4fa,#4fb,#4fa,#4fa,#5fa,#5fa,#4fa,#4fb,#3fb,#3fc,#2fc,#2fd,#2fd,#2fd,#2fd,#2fd,#2fc,#2fd,#2fd,#2fd,#2fc,#2fc,#2fc,#3fc,#3fc,#4fb,#8f7,#9f6,#6f9,#4fa,#4fa,#4fa,#4fb,#4fb,#3fb,#3fb,#4fb,#4fa,#5fa,#5fa,#4fa,#4fa,#4fa,#5fa,#5fa,#5f9,#5f9,#5f9,#5fa,#4fa,#4fb,#4fb,#3fb,#3fb,#3fb,#3fc,#3fb,#4fb,#4fa,#5fa,#5fa,#6f9,#8f7,#9f6,#7f8,#4fb,#2fc,#3fb,#5fa,#4fb,#2fd,#0af,#07f,#07f,#07f,#07f)"></i><i style="background:linear-gradient(#f70,#f70,#f70,#f70,#9f6,#1ee,#0df,#2fd,#5fa,#6f9,#6f9,#6f9,#5fa,#4fb,#2fd,#1ee,#1fd,#3fb,#5f9,#6f9,#6f9,#6f8,#7f8,#8f7,#8f6,#7f7,#4fb,#1fd,#3fc,#5fa,#6f9,#6f8,#7f8,#5fa,#1ee,#3fc,#4fa,#4fb,#2fc,#2fd,#2fd,#2fd,#2fc,#2fc,#3fc,#3fc,#3fb,#4fb,#4fa,#4fa,#4fb,#3fb,#3fb,#4fb,#5fa,#6f9,#7f8,#7f7,#8f7,#8f6,#9f5,#9f6,#8f6,#8f7,#7f7,#7f8,#6f8,#6f9,#5fa,#4fb,#3fb,#3fc,#3fc,#3fc,#3fc,#3fb,#4fb,#4fa,#4fa,#4fb,#4fb,#3fb,#4fb,#4fa,#5fa,#6f9,#6f8,#7f8,#7f8,#6f8,#5f9,#5fa,#4fa,#4fa,#5fa,#5fa,#5fa,#5fa,#4fa,#4fb,#3fb,#4fb,#4fb,#4fa,#4fa,#4fb,#4fa,#4fa,#4fa,#4fa,#4fa,#4fb,#3fb,#3fc,#2fd,#1fd,#1fd,#1fd,#2fd,#2fd,#2fc,#2fc,#2fc,#2fc,#2fc,#2fc,#2fc,#2fc,#2fc,#4fb,#8f7,#9f5,#5f9,#4fb,#4fb,#4fb,#4fb,#3fb,#3fb,#4fb,#4fa,#5fa,#5f9,#5fa,#5fa,#4fa,#4fa,#5fa,#5fa,#5fa,#5f9,#5f9,#5fa,#4fb,#3fb,#3fc,#3fc,#3fb,#3fc,#3fb,#3fb,#4fb,#4fa,#5fa,#5fa,#6f9,#9f6,#af5,#7f7,#4fa,#3fb,#5f9,#7f8,#6f8,#4fa,#0bf,#07f,#07f,#07f,#07f)"></i><i style="background:linear-gradient(#f70,#f70,#f70,#f70,#9f6,#1fd,#0df,#2fd,#4fb,#4fa,#5fa,#5fa,#4fa,#2fc,#0df,#0bf,#0cf,#2fc,#5fa,#6f9,#6f9,#5f9,#6f9,#6f9,#6f8,#5f9,#1fe,#0bf,#2fd,#4fa,#5f9,#6f8,#7f8,#7f8,#4fa,#4fb,#4fb,#3fc,#1fd,#1ee,#1ee,#1ee,#1fd,#2fd,#2fc,#3fb,#4fb,#5fa,#5f9,#5f9,#4fa,#4fb,#3fc,#3fc,#4fb,#5fa,#6f9,#6f8,#7f7,#8f7,#9f6,#8f6,#7f7,#7f7,#7f8,#6f8,#6f9,#5f9,#4fb,#3fc,#2fc,#2fc,#3fc,#3fb,#3fb,#4fb,#4fa,#5fa,#5fa,#5fa,#4fa,#4fa,#5fa,#5fa,#5f9,#6f9,#6f8,#6f8,#6f8,#6f9,#5fa,#5fa,#4fa,#5fa,#5f9,#5f9,#6f9,#5f9,#5fa,#4fa,#4fa,#4fb,#4fa,#4fa,#4fa,#4fb,#4fb,#4fb,#4fa,#4fa,#4fa,#4fb,#4fb,#3fb,#2fc,#2fd,#2fd,#2fd,#2fc,#2fc,#3fc,#3fc,#3fc,#3fc,#3fb,#3fb,#3fb,#3fb,#3fc,#4fb,#7f7,#8f6,#5fa,#3fb,#3fb,#3fb,#3fb,#3fb,#3fb,#4fb,#5fa,#5f9,#6f9,#6f9,#5f9,#5fa,#5fa,#5fa,#5fa,#5f9,#5f9,#5f9,#5fa,#4fa,#3fb,#3fc,#3fc,#3fb,#3fb,#4fb,#4fb,#4fa,#4fa,#5fa,#5fa,#6f9,#8f6,#9f5,#7f8,#4fa,#4fb,#6f9,#8f7,#8f7,#6f9,#0cf,#07f,#07f,#07f,#07f)"></i><i style="background:linear-gradient(#f70,#f70,#f70,#f70,#9f6,#1fd,#0ee,#1fd,#3fb,#4fb,#4fa,#4fa,#4fb,#1fe,#0af,#08f,#09f,#1ee,#4fa,#6f9,#6f9,#5fa,#4fa,#4fa,#4fa,#4fb,#1fd,#0df,#2fd,#4fa,#5fa,#5f9,#6f9,#6f8,#4fa,#3fb,#2fc,#1fd,#0ee,#0df,#0df,#0ee,#1fe,#2fd,#3fc,#4fb,#5fa,#6f9,#6f9,#6f9,#5fa,#4fb,#3fc,#3fc,#3fc,#3fb,#4fb,#5fa,#5f9,#6f8,#8f7,#7f7,#6f8,#6f8,#6f9,#5f9,#5fa,#4fb,#3fc,#2fd,#1fd,#1fd,#2fd,#2fc,#3fb,#4fb,#4fa,#5fa,#5fa,#5fa,#5fa,#5fa,#5fa,#5f9,#5f9,#5f9,#5f9,#5f9,#5f9,#5fa,#4fa,#4fa,#5fa,#5fa,#5f9,#6f9,#6f9,#6f9,#6f9,#5f9,#5fa,#5fa,#5fa,#4fa,#4fa,#3fb,#3fb,#3fb,#3fb,#3fb,#3fb,#3fb,#3fc,#2fc,#2fd,#1fd,#1fe,#1fd,#1fd,#2fd,#2fd,#2fd,#2fd,#2fc,#3fc,#3fc,#3fc,#2fc,#2fc,#3fc,#6f9,#7f8,#4fb,#2fc,#2fc,#2fc,#2fc,#2fc,#2fc,#3fb,#4fa,#5f9,#6f9,#6f9,#6f9,#5f9,#5fa,#5fa,#5f9,#6f9,#6f9,#6f8,#6f9,#5f9,#5fa,#4fa,#4fb,#4fb,#4fa,#4fa,#5fa,#5fa,#5fa,#5fa,#5fa,#5f9,#7f8,#7f7,#6f9,#4fb,#3fb,#6f9,#8f6,#8f7,#6f8,#0cf,#07f,#07f,#07f,#07f)"></i><i style="background:linear-gradient(#f70,#f70,#f70,#f70,#9f5,#2fd,#1ee,#3fc,#5fa,#5fa,#4fa,#5fa,#4fb,#0ee,#08f,#05f,#06f,#0cf,#3fb,#5f9,#6f9,#5fa,#4fa,#4fb,#4fb,#4fb,#3fc,#2fc,#3fb,#4fa,#4fa,#4fa,#5fa,#5f9,#3fc,#2fc,#2fd,#1fe,#0ee,#0ee,#0ee,#1ee,#1fd,#2fc,#3fb,#5fa,#5f9,#6f8,#6f8,#6f8,#5f9,#4fa,#3fb,#3fc,#2fc,#2fc,#3fc,#3fc,#4fb,#4fa,#6f9,#6f9,#5fa,#5f9,#5f9,#4fb,#3fc,#2fd,#1ee,#0df,#0cf,#0cf,#0df,#1ee,#2fd,#3fc,#4fb,#4fa,#5fa,#5f9,#5fa,#5fa,#5fa,#5fa,#5fa,#5f9,#6f9,#6f9,#5fa,#4fa,#4fb,#4fa,#5fa,#5f9,#6f9,#6f9,#6f9,#6f9,#6f9,#5f9,#5f9,#5fa,#5fa,#4fa,#4fa,#4fb,#3fb,#3fc,#2fc,#2fc,#2fc,#2fc,#2fc,#2fd,#1fd,#1fd,#1fd,#1fd,#2fd,#2fd,#2fd,#2fd,#2fd,#2fd,#2fd,#2fc,#2fd,#1fd,#1fd,#1fd,#4fb,#4fa,#2fd,#1fd,#1fd,#1fd,#1fd,#1fd,#2fd,#3fb,#4fa,#6f9,#7f8,#7f8,#6f8,#6f8,#6f9,#6f9,#6f8,#7f8,#7f8,#7f7,#7f8,#7f8,#6f9,#5f9,#5f9,#5fa,#5fa,#5fa,#4fa,#4fa,#4fb,#4fb,#4fb,#4fa,#5fa,#5fa,#4fa,#3fb,#3fb,#6f9,#8f6,#8f6,#7f8,#0cf,#07f,#07f,#07f,#07f)"></i><i style="background:linear-gradient(#f70,#f70,#f70,#f70,#9f5,#2fc,#2fd,#6f9,#9f5,#8f7,#5f9,#5fa,#3fb,#0df,#06f,#03f,#04f,#0af,#2fc,#5f9,#6f8,#6f9,#5f9,#5fa,#5fa,#4fa,#3fc,#2fd,#3fb,#4fa,#4fb,#3fb,#4fb,#4fa,#3fc,#2fc,#2fc,#2fd,#2fd,#1fd,#1fd,#1fd,#2fd,#2fc,#4fb,#5fa,#6f9,#6f9,#6f9,#5f9,#5fa,#4fb,#3fb,#3fc,#2fc,#2fc,#2fc,#2fc,#3fc,#3fb,#5fa,#5fa,#4fa,#5f9,#5f9,#3fc,#1fd,#0df,#0cf,#0bf,#0af,#0af,#0bf,#0cf,#0df,#1fd,#2fc,#4fb,#4fa,#5fa,#5fa,#4fa,#4fb,#4fb,#4fa,#5f9,#7f7,#8f7,#6f8,#4fa,#4fa,#5fa,#6f9,#6f8,#6f8,#6f8,#6f9,#5f9,#5fa,#5fa,#5fa,#5fa,#4fa,#4fb,#3fb,#2fc,#2fd,#1fe,#1ee,#1ee,#1fd,#1fd,#2fd,#2fd,#2fd,#2fc,#2fc,#3fc,#3fb,#4fb,#3fb,#3fb,#3fb,#3fb,#3fb,#3fb,#3fc,#2fc,#1fd,#1fd,#3fc,#3fc,#1fd,#1ee,#1ee,#1fe,#1fd,#1fd,#2fc,#4fb,#5f9,#6f8,#7f7,#7f7,#7f7,#7f7,#7f7,#7f7,#8f7,#8f7,#8f6,#8f6,#8f6,#8f7,#7f7,#7f8,#6f8,#6f9,#5f9,#5fa,#4fa,#4fb,#4fb,#3fb,#3fb,#3fb,#3fb,#3fb,#3fb,#3fc,#3fb,#6f9,#8f7,#8f7,#6f9,#0cf,#07f,#07f,#07f,#07f)"></i><i style="background:linear-gradient(#f70,#f70,#f70,#f70,#9f5,#3fb,#3fb,#8f6,#df2,#af5,#6f9,#4fa,#3fc,#0cf,#06f,#02f,#03f,#0af,#2fc,#5f9,#7f8,#7f7,#7f8,#6f9,#6f9,#5fa,#1fd,#0cf,#2fc,#4fa,#4fb,#3fb,#4fb,#5fa,#3fb,#3fb,#4fb,#3fb,#3fb,#3fc,#2fc,#2fc,#2fc,#3fc,#3fb,#4fa,#5fa,#5f9,#5fa,#4fa,#4fb,#3fc,#3fc,#2fc,#2fc,#2fc,#3fc,#3fc,#3fb,#4fb,#5fa,#5fa,#5fa,#5f9,#5f9,#2fc,#0df,#0bf,#0af,#08f,#08f,#08f,#09f,#0af,#0bf,#0df,#1fd,#3fc,#3fb,#4fb,#4fb,#4fb,#3fb,#3fb,#4fa,#6f9,#9f6,#af5,#8f7,#5f9,#5fa,#5f9,#6f8,#7f8,#7f8,#6f8,#6f9,#5f9,#4fa,#4fa,#4fb,#4fb,#3fb,#3fc,#2fd,#1ee,#0df,#0df,#0cf,#0df,#0df,#0df,#1ee,#2fd,#3fc,#4fb,#4fa,#5f9,#6f9,#6f8,#6f8,#6f8,#6f8,#6f8,#6f8,#6f9,#5f9,#5fa,#4fb,#3fb,#3fb,#3fb,#2fc,#2fd,#2fd,#1fd,#2fd,#2fd,#3fc,#4fb,#5f9,#6f8,#7f8,#7f8,#7f7,#7f7,#7f7,#7f7,#8f7,#8f7,#8f7,#8f7,#8f7,#7f7,#7f8,#6f8,#6f9,#5f9,#5f9,#5fa,#4fa,#4fa,#4fa,#4fa,#4fa,#4fa,#4fb,#4fb,#4fb,#4fb,#4fa,#7f8,#9f6,#8f6,#6f8,#0cf,#07f,#07f,#07f,#07f)"></i><i style="background:linear-gradient(#f70,#f70,#f70,#f70,#9f5,#3fc,#3fb,#8f7,#cf3,#9f5,#5f9,#3fb,#2fd,#0bf,#06f,#03f,#04f,#0af,#2fc,#6f9,#8f7,#8f6,#8f7,#7f7,#6f8,#5f9,#2fd,#0df,#2fc,#4fb,#4fb,#4fb,#5fa,#6f9,#5fa,#5fa,#5f9,#5fa,#4fa,#4fb,#4fb,#3fb,#3fc,#3fb,#3fb,#4fb,#4fa,#4fa,#4fb,#3fb,#3fc,#3fc,#3fc,#3fc,#3fc,#3fb,#4fb,#4fa,#4fa,#5fa,#6f9,#5f9,#5fa,#6f9,#6f8,#2fc,#0cf,#0af,#08f,#07f,#06f,#06f,#07f,#08f,#0af,#0cf,#1fe,#2fc,#3fc,#3fb,#3fb,#4fb,#4fb,#4fb,#4fa,#6f8,#9f6,#af5,#8f7,#6f9,#6f9,#6f9,#6f8,#7f8,#7f8,#7f8,#6f9,#5fa,#4fa,#4fb,#3fb,#3fc,#2fc,#1fd,#0ee,#0df,#0cf,#0bf,#0bf,#0af,#09f,#09f,#09f,#0cf,#2fd,#4fb,#5f9,#7f8,#8f7,#8f6,#9f6,#9f5,#af5,#af5,#af5,#9f5,#8f6,#8f7,#7f8,#6f9,#5f9,#5fa,#4fa,#3fb,#3fc,#2fc,#2fc,#3fc,#3fb,#4fb,#5fa,#5f9,#6f9,#6f9,#6f8,#7f8,#7f8,#7f8,#7f8,#7f8,#7f8,#7f8,#6f8,#6f9,#6f9,#5f9,#5fa,#5fa,#4fa,#4fa,#4fa,#5fa,#5fa,#5fa,#5fa,#5fa,#5fa,#5fa,#5fa,#5fa,#5f9,#8f6,#af4,#af5,#8f7,#0cf,#07f,#07f,#07f,#07f)"></i><i style="background:linear-gradient(#f70,#f70,#f70,#f70,#9f6,#2fc,#2fc,#5f9,#8f7,#6f8,#4fb,#2fc,#1fe,#0cf,#07f,#05f,#06f,#0bf,#3fc,#6f8,#8f7,#8f6,#8f6,#8f7,#7f8,#6f8,#4fa,#3fc,#4fb,#4fb,#4fb,#4fa,#5f9,#7f8,#6f9,#6f9,#6f9,#6f9,#5f9,#5fa,#4fa,#4fa,#4fb,#4fb,#4fa,#4fa,#4fa,#4fa,#4fb,#4fb,#4fb,#4fb,#4fb,#4fb,#4fb,#4fa,#5fa,#5f9,#5f9,#5f9,#6f8,#5f9,#5fa,#6f8,#7f8,#2fc,#0cf,#09f,#07f,#06f,#05f,#05f,#05f,#06f,#08f,#0bf,#1ee,#2fc,#3fb,#3fb,#4fb,#4fa,#5fa,#5fa,#5fa,#6f9,#7f7,#8f7,#7f7,#6f8,#6f8,#6f8,#7f8,#7f8,#7f8,#6f8,#6f9,#5fa,#4fa,#3fb,#3fc,#2fd,#1fd,#1ee,#0df,#0cf,#0bf,#0af,#09f,#08f,#06f,#05f,#05f,#07f,#0cf,#3fb,#6f9,#7f7,#8f6,#9f5,#af5,#bf4,#bf4,#bf3,#bf4,#af4,#af5,#9f6,#8f7,#7f8,#6f9,#5f9,#5fa,#4fb,#3fb,#3fc,#3fc,#3fc,#3fc,#3fb,#4fb,#4fa,#5fa,#5f9,#6f9,#6f8,#7f8,#7f8,#6f8,#6f8,#6f9,#6f9,#6f9,#6f9,#5f9,#5f9,#5fa,#5fa,#5fa,#5fa,#5fa,#5f9,#5f9,#5f9,#5f9,#5fa,#4fa,#4fb,#4fb,#4fb,#5fa,#8f7,#af4,#af5,#8f7,#0df,#07f,#07f,#07f,#07f)"></i><i style="background:linear-gradient(#f70,#f70,#f70,#f70,#9f6,#1fd,#1fd,#3fc,#5fa,#4fa,#3fb,#3fc,#1fd,#0df,#0af,#08f,#09f,#0df,#4fb,#6f8,#8f7,#8f7,#8f7,#7f7,#7f8,#6f8,#4fa,#3fb,#3fb,#4fb,#4fb,#4fa,#6f9,#7f7,#6f9,#6f9,#6f8,#6f9,#5f9,#5f9,#5fa,#5fa,#5fa,#5fa,#5fa,#5fa,#5fa,#5fa,#5fa,#5fa,#5fa,#5fa,#5fa,#5fa,#5fa,#5f9,#5f9,#5f9,#5fa,#5fa,#5f9,#4fa,#4fb,#7f8,#8f7,#3fc,#0cf,#09f,#07f,#06f,#05f,#04f,#04f,#04f,#06f,#0af,#1ee,#3fb,#4fa,#5fa,#6f9,#7f8,#7f8,#6f8,#5f9,#5f9,#6f9,#6f8,#6f8,#7f8,#7f8,#7f8,#7f8,#7f8,#7f8,#6f8,#6f9,#5f9,#4fa,#3fb,#3fc,#2fd,#1fd,#0ee,#0df,#0cf,#0bf,#0bf,#0af,#08f,#06f,#05f,#05f,#08f,#0df,#4fb,#6f9,#7f7,#8f7,#9f6,#9f5,#af5,#af5,#af5,#af5,#af5,#9f5,#8f6,#7f7,#7f8,#6f9,#5f9,#5fa,#4fb,#3fb,#3fc,#3fc,#3fc,#3fc,#3fb,#4fb,#4fb,#4fa,#5f9,#6f9,#6f8,#7f8,#6f8,#6f9,#5f9,#5fa,#5fa,#5fa,#5fa,#5fa,#5fa,#4fa,#4fa,#4fa,#5fa,#5f9,#6f9,#6f9,#6f9,#5f9,#5fa,#4fb,#3fb,#3fc,#2fc,#3fb,#6f8,#9f5,#9f6,#7f8,#0cf,#07f,#07f,#07f,#07f)"></i><i style="background:linear-gradient(#f70,#f70,#f70,#f70,#9f6,#2fd,#1fe,#2fc,#4fb,#4fb,#4fb,#3fb,#3fc,#1fd,#0df,#0bf,#0cf,#2fd,#4fa,#6f9,#6f8,#7f8,#7f8,#7f8,#6f8,#5fa,#1ee,#0cf,#1ee,#2fc,#3fc,#4fb,#5f9,#7f8,#5f9,#5f9,#6f9,#5f9,#5f9,#5f9,#5f9,#5f9,#5f9,#5f9,#5f9,#5f9,#5f9,#5f9,#5f9,#5f9,#6f9,#6f9,#6f9,#5f9,#5f9,#5f9,#5fa,#4fa,#4fb,#3fc,#4fb,#3fb,#3fb,#7f8,#9f6,#4fb,#0df,#0bf,#08f,#07f,#06f,#05f,#04f,#04f,#06f,#0bf,#1fd,#4fb,#5f9,#7f8,#8f6,#9f5,#9f5,#8f7,#6f8,#5f9,#5f9,#6f9,#6f8,#7f8,#7f8,#7f8,#6f8,#6f8,#6f8,#6f8,#6f9,#5f9,#5fa,#4fb,#3fc,#2fc,#2fd,#1fd,#1ee,#0df,#0df,#0cf,#0cf,#0bf,#0bf,#0af,#0bf,#0ee,#2fc,#4fb,#5fa,#5f9,#6f8,#6f8,#7f8,#7f7,#7f7,#8f7,#8f7,#8f7,#8f7,#7f7,#7f8,#6f9,#5f9,#5fa,#4fb,#3fb,#3fc,#3fc,#2fc,#2fc,#3fc,#3fc,#3fb,#4fb,#4fa,#5fa,#6f9,#6f8,#6f8,#6f9,#5fa,#4fa,#4fb,#3fb,#3fb,#3fb,#4fb,#4fb,#4fb,#4fb,#4fb,#4fa,#5fa,#6f9,#6f8,#6f8,#6f9,#5f9,#4fa,#3fb,#3fc,#2fd,#2fc,#5f9,#8f7,#7f7,#5f9,#0bf,#07f,#07f,#07f,#07f)"></i><i style="background:linear-gradient(#f70,#f70,#f70,#f70,#9f5,#3fc,#2fd,#2fc,#3fb,#4fb,#4fb,#4fb,#3fb,#2fc,#1fd,#1ee,#1fd,#3fb,#5fa,#5f9,#5f9,#5f9,#5f9,#5f9,#6f9,#4fb,#0af,#07f,#0cf,#2fd,#2fc,#3fc,#4fb,#5f9,#4fa,#4fa,#5fa,#5fa,#5fa,#5f9,#6f9,#6f9,#6f9,#6f9,#6f9,#6f9,#6f9,#6f9,#6f9,#6f9,#6f8,#6f8,#6f8,#6f9,#6f9,#5f9,#5fa,#4fb,#3fc,#2fd,#3fc,#3fc,#3fb,#7f7,#9f5,#5fa,#1fd,#0df,#0bf,#09f,#08f,#07f,#06f,#07f,#09f,#0df,#3fc,#5fa,#6f8,#8f7,#9f6,#af5,#af5,#8f6,#7f8,#5f9,#5f9,#5f9,#6f9,#6f8,#7f8,#6f8,#6f8,#6f8,#6f8,#6f8,#6f8,#6f9,#5f9,#5fa,#4fb,#3fb,#3fc,#2fc,#2fd,#1fd,#1ee,#0ee,#0df,#0df,#0df,#0ee,#1fd,#2fd,#3fc,#3fb,#4fb,#4fb,#4fb,#4fb,#4fb,#4fb,#4fa,#5fa,#5f9,#6f9,#6f8,#6f9,#5f9,#5fa,#4fa,#3fb,#3fc,#2fc,#2fc,#2fc,#2fc,#2fc,#3fc,#3fc,#3fb,#3fb,#4fb,#5fa,#5f9,#6f9,#6f9,#5f9,#5fa,#4fb,#3fb,#3fc,#2fc,#3fc,#3fc,#3fb,#3fb,#3fb,#3fb,#3fb,#4fa,#5fa,#6f9,#6f8,#6f8,#6f9,#5f9,#4fa,#3fb,#2fd,#2fd,#4fa,#7f8,#6f8,#4fa,#0bf,#07f,#07f,#07f,#07f)"></i><i style="background:linear-gradient(#f70,#f70,#f70,#f70,#af5,#4fb,#2fc,#2fc,#3fb,#3fb,#3fb,#3fc,#3fc,#2fc,#2fd,#2fc,#3fc,#4fa,#5f9,#5fa,#4fa,#4fb,#4fb,#4fa,#5f9,#4fa,#1ee,#0bf,#1fe,#3fc,#2fc,#2fd,#3fc,#4fb,#2fc,#3fc,#3fb,#4fb,#4fa,#5f9,#6f9,#7f8,#7f8,#7f8,#6f8,#6f8,#6f8,#6f8,#6f8,#6f8,#6f8,#7f8,#7f8,#6f8,#6f8,#6f8,#5f9,#4fa,#3fc,#2fd,#3fc,#3fc,#4fb,#8f7,#af5,#5f9,#3fc,#1fd,#0ee,#0df,#0bf,#0bf,#0bf,#0bf,#0df,#2fd,#4fb,#6f9,#7f8,#8f7,#8f6,#9f6,#8f6,#7f7,#6f8,#5f9,#5f9,#5f9,#6f9,#6f9,#6f8,#6f9,#6f9,#6f9,#6f9,#6f9,#6f9,#6f9,#6f9,#5f9,#5f9,#5fa,#4fa,#4fb,#4fb,#3fb,#3fc,#2fc,#2fd,#2fd,#2fd,#2fc,#3fb,#4fb,#4fa,#5fa,#5fa,#5fa,#4fa,#4fb,#3fb,#3fc,#3fb,#4fb,#4fa,#5fa,#5f9,#5f9,#5fa,#4fb,#3fc,#2fc,#2fd,#2fd,#2fd,#2fc,#2fc,#3fc,#3fc,#3fc,#3fc,#3fb,#3fb,#4fb,#5fa,#5f9,#5f9,#5f9,#5f9,#5fa,#4fb,#3fb,#3fc,#3fc,#3fc,#3fb,#3fb,#3fb,#3fb,#3fb,#3fb,#4fa,#5fa,#5f9,#6f9,#6f9,#5f9,#4fa,#3fb,#2fd,#2fd,#4fa,#6f8,#6f9,#4fb,#0bf,#07f,#07f,#07f,#07f)"></i><i style="background:linear-gradient(#f70,#f70,#f70,#f70,#9f5,#3fc,#2fd,#2fc,#3fc,#3fc,#3fc,#2fc,#2fd,#2fd,#2fc,#3fc,#4fb,#5fa,#5fa,#4fa,#4fb,#3fb,#3fc,#4fb,#4fa,#5f9,#5f9,#5fa,#5fa,#4fa,#2fc,#2fd,#2fc,#3fc,#1fe,#2fd,#3fb,#3fb,#4fb,#5fa,#6f9,#6f8,#6f8,#6f8,#6f9,#6f9,#6f8,#6f8,#7f8,#7f8,#7f8,#7f8,#7f8,#7f8,#7f8,#7f8,#6f8,#5fa,#4fb,#3fc,#3fb,#4fb,#4fa,#8f7,#af5,#5f9,#3fb,#3fc,#2fc,#2fd,#1fd,#1fe,#1ee,#1fd,#2fc,#3fb,#5fa,#6f9,#6f8,#7f8,#7f7,#7f7,#7f7,#7f8,#6f8,#6f9,#5f9,#5f9,#5f9,#5fa,#5f9,#5f9,#6f9,#6f9,#6f9,#6f9,#6f9,#6f9,#6f8,#6f8,#6f8,#6f9,#6f9,#5f9,#5fa,#5fa,#4fa,#4fa,#4fb,#4fb,#4fb,#4fa,#5fa,#5f9,#6f9,#6f8,#6f8,#6f9,#5fa,#4fb,#3fb,#3fb,#3fb,#4fb,#4fa,#5fa,#5fa,#5fa,#4fb,#3fb,#2fc,#2fd,#1fd,#2fd,#2fc,#3fc,#3fc,#3fb,#3fb,#3fb,#4fb,#4fb,#4fb,#4fa,#5fa,#5f9,#6f9,#6f8,#6f8,#6f9,#5f9,#4fa,#4fb,#3fb,#3fb,#3fb,#4fb,#4fb,#3fb,#3fb,#3fb,#3fb,#4fb,#4fb,#4fa,#4fa,#4fb,#3fb,#3fc,#1fd,#1fe,#3fb,#6f9,#6f9,#4fa,#0bf,#07f,#07f,#07f,#07f)"></i><i style="background:linear-gradient(#f70,#f70,#f70,#f70,#9f6,#2fd,#1ee,#1fd,#2fc,#3fc,#3fc,#2fc,#2fc,#2fc,#3fc,#3fb,#4fb,#4fa,#4fa,#4fb,#3fc,#2fc,#2fd,#2fc,#3fb,#5fa,#6f8,#7f8,#6f8,#4fb,#0ee,#1fe,#3fc,#2fd,#0df,#1fd,#3fb,#4fb,#4fa,#5fa,#5f9,#6f9,#6f9,#5f9,#5f9,#5f9,#6f9,#6f8,#7f8,#7f8,#7f8,#6f8,#6f8,#6f8,#6f8,#6f8,#6f8,#6f9,#5fa,#4fb,#5fa,#5fa,#5fa,#8f7,#9f5,#5f9,#3fb,#3fb,#4fb,#4fb,#3fb,#3fc,#3fc,#3fc,#4fb,#5fa,#5f9,#6f9,#6f9,#6f9,#6f9,#6f9,#6f9,#6f9,#6f9,#6f9,#6f9,#5f9,#4fa,#4fa,#4fa,#5f9,#6f9,#6f9,#6f9,#5f9,#5f9,#6f9,#6f8,#7f8,#7f8,#7f8,#6f8,#5f9,#5fa,#5fa,#5fa,#5fa,#5fa,#5fa,#5fa,#5fa,#5fa,#5f9,#5f9,#6f9,#6f9,#5f9,#4fa,#3fb,#3fc,#2fc,#3fc,#3fb,#4fb,#4fa,#4fb,#4fb,#3fc,#2fc,#1fd,#1fe,#1fd,#2fd,#2fc,#3fc,#3fb,#4fb,#4fb,#4fa,#4fa,#4fa,#5fa,#5fa,#5f9,#5f9,#6f9,#6f8,#7f8,#7f8,#6f9,#5fa,#4fa,#3fb,#3fb,#4fb,#4fa,#4fa,#4fa,#4fb,#4fb,#3fb,#3fb,#4fb,#4fb,#4fb,#4fb,#3fb,#3fc,#2fd,#1fd,#4fa,#7f8,#7f7,#6f9,#0cf,#07f,#07f,#07f,#07f)"></i><i style="background:linear-gradient(#f70,#f70,#f70,#f70,#8f6,#1ee,#0ee,#1fd,#3fc,#3fb,#3fb,#3fb,#3fc,#3fc,#3fb,#4fa,#4fa,#4fb,#3fb,#2fc,#1ee,#0df,#0cf,#0df,#1fd,#3fb,#5fa,#6f9,#6f9,#3fc,#0cf,#0ee,#3fc,#1fd,#0bf,#1ee,#4fb,#5fa,#5f9,#6f9,#6f8,#6f8,#6f9,#5f9,#5fa,#5f9,#6f9,#6f8,#6f8,#7f8,#6f8,#6f9,#5fa,#5fa,#5fa,#5f9,#5f9,#5f9,#5fa,#5fa,#6f9,#5f9,#5f9,#7f7,#9f6,#5fa,#3fb,#4fb,#4fa,#5fa,#4fa,#4fb,#4fb,#4fb,#5fa,#6f9,#6f8,#6f8,#6f9,#5fa,#4fa,#4fa,#4fa,#5fa,#5f9,#5f9,#5f9,#5fa,#4fa,#4fb,#4fb,#5fa,#5f9,#6f9,#6f9,#5f9,#5f9,#6f9,#7f8,#7f7,#7f7,#7f8,#6f9,#5f9,#5fa,#5fa,#5fa,#5f9,#5f9,#5f9,#5f9,#5f9,#5f9,#5fa,#5f9,#5f9,#5fa,#4fa,#3fb,#2fc,#2fd,#1fd,#2fd,#2fc,#3fc,#3fb,#3fb,#3fc,#2fc,#2fd,#1fd,#1fd,#2fd,#2fc,#3fc,#3fb,#4fb,#4fa,#4fa,#4fa,#4fa,#5fa,#5fa,#5fa,#5fa,#5f9,#6f9,#6f9,#6f8,#6f8,#6f9,#5f9,#5fa,#4fa,#4fa,#5fa,#5f9,#5f9,#5f9,#5f9,#5fa,#4fa,#4fb,#4fb,#4fb,#4fb,#4fb,#3fb,#3fb,#2fc,#2fc,#5fa,#8f7,#8f6,#7f7,#0df,#07f,#07f,#07f,#07f)"></i><i style="background:linear-gradient(#f70,#f70,#f70,#f70,#8f6,#1fe,#0ee,#2fd,#4fb,#4fa,#5fa,#4fa,#4fa,#4fb,#5fa,#7f8,#7f8,#4fa,#2fc,#0ee,#0bf,#08f,#07f,#09f,#0cf,#1fd,#3fb,#4fa,#5fa,#3fb,#1ee,#2fd,#3fc,#1fd,#0bf,#1fe,#4fa,#6f9,#7f8,#7f7,#8f7,#7f7,#7f8,#6f9,#5f9,#5f9,#6f9,#6f9,#6f8,#6f8,#5f9,#4fa,#3fb,#3fb,#3fb,#4fb,#4fa,#4fa,#4fa,#4fa,#5f9,#5f9,#5fa,#7f8,#8f7,#4fa,#3fc,#3fb,#4fb,#4fa,#5fa,#4fa,#4fa,#5fa,#6f9,#7f8,#7f7,#7f8,#5f9,#4fb,#3fc,#2fc,#3fc,#3fb,#4fa,#5fa,#5f9,#5fa,#4fb,#3fb,#3fb,#4fa,#5fa,#5f9,#5f9,#5f9,#6f9,#6f9,#6f8,#7f8,#7f8,#6f8,#5f9,#5fa,#4fa,#5fa,#5f9,#6f9,#7f8,#7f8,#7f8,#7f8,#6f8,#6f9,#5f9,#5f9,#5fa,#4fb,#3fc,#1fd,#1ee,#0ee,#0ee,#1ee,#1fe,#2fd,#2fc,#2fc,#2fc,#2fc,#2fc,#2fc,#3fc,#3fb,#4fb,#4fb,#4fb,#4fb,#4fb,#4fb,#4fb,#4fb,#4fb,#4fb,#4fb,#4fb,#4fa,#5fa,#5fa,#5fa,#4fa,#4fa,#4fa,#4fa,#4fa,#5fa,#5f9,#5f9,#5f9,#5f9,#5fa,#4fa,#4fb,#3fb,#3fb,#4fb,#4fb,#4fb,#4fb,#3fb,#3fb,#6f9,#8f6,#9f6,#8f7,#0df,#07f,#07f,#07f,#07f)"></i><i style="background:linear-gradient(#f70,#f70,#f70,#f70,#8f6,#1fd,#1fd,#3fb,#5fa,#6f9,#6f9,#5f9,#5fa,#5fa,#6f9,#9f6,#9f5,#5f9,#2fd,#0df,#0bf,#08f,#07f,#09f,#0cf,#1fe,#2fc,#3fc,#4fb,#4fb,#3fb,#3fb,#4fb,#2fc,#0df,#1fd,#4fa,#6f9,#7f7,#8f6,#9f6,#9f6,#8f7,#7f8,#6f8,#6f9,#6f9,#6f8,#6f9,#6f9,#5fa,#3fb,#2fc,#2fc,#3fc,#3fb,#4fb,#3fb,#3fc,#3fc,#4fa,#4fb,#3fb,#6f9,#7f8,#4fb,#2fc,#3fc,#3fb,#4fb,#4fa,#4fa,#4fa,#5f9,#6f8,#7f7,#7f7,#7f8,#5fa,#3fb,#2fd,#1fd,#1fd,#2fc,#4fb,#5fa,#5f9,#5f9,#4fa,#3fb,#3fc,#3fb,#4fb,#4fa,#5fa,#5f9,#6f9,#6f9,#6f8,#6f8,#6f9,#5f9,#5fa,#5fa,#5fa,#5f9,#7f8,#8f7,#8f6,#9f6,#9f6,#8f6,#8f7,#7f8,#6f9,#5f9,#4fa,#3fc,#2fd,#0ee,#0df,#0cf,#0bf,#0bf,#0cf,#0df,#0ee,#1fd,#2fd,#2fc,#3fc,#3fb,#4fb,#4fa,#4fa,#4fb,#4fb,#3fb,#3fb,#3fb,#3fb,#4fb,#4fb,#4fb,#4fb,#4fb,#4fb,#4fb,#4fb,#4fb,#3fb,#4fb,#4fb,#4fa,#4fa,#4fa,#5fa,#5fa,#5fa,#4fa,#4fb,#4fb,#3fb,#3fb,#3fb,#4fb,#4fa,#5fa,#5fa,#4fb,#4fb,#6f9,#8f6,#9f6,#8f7,#0df,#07f,#07f,#07f,#07f)"></i><i style="background:linear-gradient(#f70,#f70,#f70,#f70,#9f6,#2fd,#2fd,#4fb,#6f9,#6f8,#6f8,#6f9,#5f9,#5fa,#5fa,#7f8,#7f8,#4fb,#2fd,#1fd,#1ee,#1fd,#3fb,#5f9,#6f9,#5fa,#3fb,#3fc,#3fb,#4fb,#4fa,#4fb,#4fb,#3fb,#1fd,#2fc,#4fb,#5f9,#7f8,#8f7,#9f6,#9f6,#8f6,#7f7,#6f8,#6f8,#6f9,#6f9,#6f9,#5f9,#4fa,#3fb,#3fc,#3fb,#4fb,#4fa,#4fb,#3fc,#2fc,#2fc,#3fb,#3fc,#3fc,#5fa,#6f9,#4fb,#3fc,#3fc,#3fc,#3fb,#4fb,#4fb,#4fa,#5f9,#6f8,#7f8,#7f8,#6f8,#5fa,#3fc,#2fd,#1fe,#1fd,#2fc,#4fb,#5fa,#6f9,#6f9,#5fa,#4fb,#3fc,#3fb,#4fb,#4fb,#4fa,#5fa,#5f9,#6f9,#6f9,#6f9,#5f9,#5fa,#5fa,#5fa,#5f9,#6f8,#8f7,#9f6,#af5,#af5,#af5,#9f5,#9f6,#8f7,#6f8,#5f9,#4fb,#3fc,#1fd,#0ee,#0df,#0cf,#0bf,#0bf,#0bf,#0cf,#0df,#0ee,#1fd,#2fc,#3fc,#4fb,#5fa,#5f9,#5fa,#5fa,#4fa,#4fa,#4fa,#4fa,#5fa,#5f9,#5f9,#5f9,#5f9,#5fa,#5fa,#4fa,#4fb,#4fb,#3fb,#4fb,#4fa,#4fa,#4fa,#4fa,#4fb,#4fb,#4fb,#3fb,#3fb,#3fc,#3fc,#3fc,#3fb,#4fb,#4fa,#5fa,#5fa,#4fb,#3fb,#6f9,#8f7,#8f6,#7f7,#0df,#07f,#07f,#07f,#07f)"></i><i style="background:linear-gradient(#f70,#f70,#f70,#f70,#9f6,#2fd,#2fd,#4fb,#5f9,#6f9,#6f9,#5f9,#5fa,#4fb,#3fb,#3fb,#3fb,#2fc,#2fc,#3fc,#4fa,#7f8,#af4,#df2,#cf2,#9f6,#4fa,#2fd,#2fc,#4fb,#4fa,#4fa,#4fa,#4fa,#2fc,#2fc,#4fb,#4fa,#5f9,#6f9,#7f8,#7f7,#7f7,#7f8,#6f8,#6f9,#5f9,#5f9,#5fa,#5fa,#4fa,#4fb,#4fb,#4fa,#5fa,#5fa,#4fa,#4fb,#3fc,#2fc,#3fc,#2fc,#2fc,#4fa,#5f9,#4fa,#4fb,#3fb,#3fb,#3fb,#3fb,#3fb,#4fa,#5f9,#6f9,#6f8,#6f8,#6f9,#5fa,#4fb,#3fc,#2fc,#2fc,#3fc,#4fb,#5f9,#6f8,#7f8,#6f8,#5fa,#4fb,#4fb,#4fb,#4fb,#4fa,#5fa,#5fa,#5f9,#5f9,#5fa,#5fa,#4fa,#4fa,#4fa,#5f9,#6f8,#7f7,#8f6,#9f5,#9f5,#9f5,#9f5,#8f6,#7f7,#6f9,#4fa,#3fb,#2fc,#2fd,#2fd,#2fd,#1fd,#1fe,#0ee,#0ee,#0df,#0df,#0ee,#1ee,#1fd,#2fc,#4fb,#5fa,#5fa,#5fa,#5fa,#4fa,#4fa,#4fa,#4fa,#5fa,#5fa,#5fa,#5fa,#5fa,#4fa,#4fb,#3fb,#3fc,#3fc,#3fc,#3fb,#3fb,#4fb,#4fb,#3fb,#3fc,#3fc,#2fc,#2fc,#2fc,#2fc,#2fc,#3fc,#3fb,#4fb,#4fa,#5fa,#5fa,#4fb,#3fb,#5f9,#8f7,#8f6,#7f7,#0df,#07f,#07f,#07f,#07f)"></i><i style="background:linear-gradient(#f70,#f70,#f70,#f70,#9f6,#2fc,#2fd,#3fb,#5fa,#5fa,#5fa,#5fa,#4fa,#4fb,#3fc,#3fc,#3fc,#3fc,#3fc,#4fb,#5fa,#6f8,#7f7,#8f7,#7f7,#5fa,#0df,#0af,#1fe,#4fb,#5fa,#5fa,#5fa,#5f9,#3fc,#3fc,#3fc,#2fc,#1fd,#1fd,#3fc,#4fa,#5f9,#6f9,#5f9,#5fa,#4fa,#4fa,#4fb,#4fb,#4fb,#4fb,#4fa,#5f9,#5f9,#5f9,#5fa,#4fb,#3fb,#2fc,#3fc,#2fd,#2fd,#4fb,#5fa,#5fa,#5fa,#5fa,#4fa,#4fb,#3fb,#3fb,#4fb,#4fa,#5f9,#6f9,#6f9,#6f9,#6f9,#5fa,#4fa,#4fb,#4fb,#4fa,#5f9,#7f8,#8f7,#8f6,#8f7,#7f8,#6f9,#5fa,#4fa,#4fa,#4fa,#4fa,#5fa,#5fa,#5fa,#4fa,#4fa,#4fb,#4fb,#4fa,#5fa,#5f9,#6f8,#7f8,#7f7,#7f7,#7f7,#7f7,#7f8,#6f9,#5fa,#3fc,#2fd,#1fd,#2fd,#3fc,#3fb,#4fb,#3fc,#2fd,#1ee,#0df,#0cf,#0bf,#0cf,#0df,#1ee,#2fc,#3fb,#4fb,#4fa,#4fa,#4fb,#4fb,#4fb,#4fb,#3fb,#4fb,#4fb,#4fb,#4fb,#4fb,#3fb,#3fc,#3fc,#3fc,#3fc,#3fb,#3fb,#4fb,#3fb,#3fb,#3fc,#2fc,#2fc,#2fc,#2fc,#2fc,#3fc,#3fb,#4fb,#4fa,#5fa,#5f9,#5fa,#4fb,#4fb,#6f8,#9f6,#9f5,#8f6,#0df,#07f,#07f,#07f,#07f)"></i><i style="background:linear-gradient(#f70,#f70,#f70,#f70,#9f6,#3fc,#2fc,#3fb,#4fa,#4fa,#4fa,#4fa,#4fb,#4fb,#3fb,#3fb,#3fb,#3fb,#4fb,#4fa,#5fa,#5f9,#5f9,#5fa,#4fa,#2fc,#0af,#08f,#1fd,#5f9,#6f8,#6f8,#6f8,#6f8,#4fa,#3fb,#2fc,#0ee,#0bf,#0bf,#0df,#2fc,#4fa,#5fa,#4fa,#4fb,#3fb,#3fb,#3fc,#3fc,#3fc,#4fb,#4fa,#5fa,#5f9,#5fa,#4fa,#4fb,#3fc,#2fc,#2fc,#1fd,#1fd,#3fc,#5fa,#5f9,#6f9,#6f8,#6f9,#5fa,#4fb,#3fb,#3fb,#4fb,#5fa,#5f9,#5f9,#6f9,#6f8,#6f8,#6f9,#5f9,#5f9,#6f9,#7f8,#8f6,#9f5,#af5,#9f5,#8f6,#7f8,#6f9,#5fa,#5fa,#4fa,#4fa,#4fa,#4fa,#4fa,#4fb,#4fb,#4fb,#4fb,#4fa,#5fa,#5f9,#6f9,#6f9,#6f8,#6f8,#6f8,#6f8,#6f9,#5f9,#4fb,#3fc,#2fd,#2fd,#3fc,#4fb,#5fa,#5f9,#5fa,#3fb,#2fd,#0df,#0cf,#0bf,#0bf,#0df,#1ee,#2fc,#3fb,#4fa,#4fa,#4fa,#4fb,#4fb,#3fb,#3fb,#3fc,#3fc,#3fb,#3fb,#4fb,#4fb,#4fb,#3fb,#3fc,#3fc,#3fb,#3fb,#4fb,#4fb,#4fb,#4fb,#3fb,#3fc,#2fc,#2fd,#2fc,#3fc,#3fb,#4fa,#5fa,#5f9,#5f9,#5f9,#5f9,#5fa,#4fa,#7f8,#9f5,#9f5,#8f7,#0df,#07f,#07f,#07f,#07f)"></i><i style="background:linear-gradient(#f70,#f70,#f70,#f70,#9f5,#3fc,#2fc,#3fb,#4fa,#4fa,#4fa,#4fb,#4fb,#4fb,#4fb,#4fa,#4fa,#4fa,#4fa,#4fa,#5fa,#5f9,#5fa,#5fa,#5fa,#4fa,#3fc,#3fb,#7f7,#af4,#cf2,#df2,#cf3,#af4,#7f7,#5f9,#4fb,#3fc,#1fd,#1fd,#2fc,#4fa,#5fa,#5fa,#4fa,#3fb,#3fc,#3fc,#3fc,#2fc,#3fc,#3fb,#4fa,#5fa,#5fa,#4fa,#4fb,#3fb,#3fc,#2fd,#2fd,#1fe,#1ee,#3fc,#4fa,#6f9,#7f8,#7f8,#6f8,#5f9,#4fa,#4fb,#3fb,#4fb,#4fa,#5fa,#5f9,#6f9,#7f8,#7f8,#7f8,#6f8,#6f9,#6f8,#8f7,#9f5,#bf4,#bf3,#af4,#9f5,#8f7,#6f8,#5f9,#5fa,#4fa,#4fa,#4fa,#4fa,#4fa,#4fb,#3fb,#3fb,#4fb,#4fa,#5f9,#5fa,#5f9,#5f9,#6f9,#5f9,#5f9,#6f9,#5f9,#5fa,#4fb,#2fc,#2fd,#2fd,#3fb,#5fa,#6f9,#6f8,#6f8,#5f9,#4fa,#3fb,#2fc,#2fd,#2fd,#2fc,#3fc,#4fb,#4fa,#4fa,#4fa,#4fb,#4fb,#3fb,#3fc,#2fc,#2fd,#2fd,#2fd,#3fc,#3fb,#4fb,#4fb,#3fb,#3fc,#3fc,#3fb,#4fb,#4fa,#4fa,#4fa,#4fa,#4fb,#3fc,#2fc,#2fc,#2fc,#3fc,#4fb,#4fa,#5fa,#5f9,#5f9,#5f9,#5f9,#4fa,#4fa,#7f8,#9f5,#9f6,#7f7,#0cf,#07f,#07f,#07f,#07f)"></i><i style="background:linear-gradient(#f70,#f70,#f70,#f70,#9f5,#3fc,#2fc,#3fb,#4fa,#4fa,#4fa,#4fb,#4fb,#4fb,#4fb,#4fa,#4fa,#4fa,#4fa,#4fa,#5fa,#5f9,#5fa,#5fa,#5fa,#4fa,#3fb,#4fa,#8f7,#bf4,#df2,#df1,#cf2,#bf4,#7f7,#5f9,#4fa,#3fc,#2fd,#2fd,#3fc,#4fa,#5f9,#5fa,#4fa,#3fb,#3fc,#3fc,#3fc,#2fc,#2fc,#3fb,#4fa,#5fa,#5fa,#4fa,#4fb,#3fb,#3fc,#2fd,#2fd,#1fe,#1ee,#2fc,#4fa,#6f9,#7f8,#7f8,#6f8,#5f9,#4fa,#4fb,#3fb,#4fb,#4fa,#5fa,#5f9,#6f9,#7f8,#7f8,#7f8,#6f8,#6f9,#6f8,#8f7,#9f5,#bf4,#bf3,#af4,#9f5,#8f7,#6f8,#5f9,#5fa,#4fa,#4fa,#4fa,#4fa,#4fa,#4fb,#3fb,#3fb,#4fb,#4fa,#5f9,#5fa,#5f9,#5f9,#6f9,#5f9,#5f9,#6f9,#5f9,#5fa,#4fb,#2fc,#2fd,#2fd,#3fb,#5fa,#6f9,#7f8,#6f8,#6f9,#4fa,#3fb,#3fc,#2fc,#2fd,#2fc,#3fc,#4fb,#4fa,#4fa,#4fa,#4fb,#4fb,#3fb,#3fc,#2fc,#2fd,#2fd,#2fd,#2fc,#3fb,#3fb,#3fb,#3fb,#3fc,#3fc,#3fb,#4fb,#4fa,#4fa,#4fa,#4fa,#4fb,#3fc,#2fc,#2fc,#2fc,#3fc,#4fb,#5fa,#5f9,#5f9,#5f9,#5f9,#5f9,#4fa,#4fa,#7f8,#9f5,#9f6,#7f7,#0cf,#07f,#07f,#07f,#07f)"></i><i style="background:linear-gradient(#f70,#f70,#f70,#f70,#9f5,#3fc,#2fc,#3fb,#4fa,#4fa,#4fa,#4fb,#4fb,#4fb,#4fb,#4fa,#4fa,#4fa,#4fa,#4fa,#5fa,#5f9,#5fa,#5fa,#5fa,#4fa,#3fb,#4fa,#8f7,#bf4,#df2,#df1,#cf2,#bf4,#7f7,#5f9,#4fa,#3fc,#2fd,#2fd,#3fc,#4fa,#5f9,#5fa,#4fa,#3fb,#3fc,#3fc,#3fc,#2fc,#2fc,#3fb,#4fa,#5fa,#5fa,#4fa,#4fb,#3fb,#3fc,#2fd,#2fd,#1fe,#1ee,#2fc,#4fa,#6f9,#7f8,#7f8,#6f8,#5f9,#4fa,#4fb,#3fb,#4fb,#4fa,#5fa,#5f9,#6f9,#7f8,#7f8,#7f8,#6f8,#6f9,#6f8,#8f7,#9f5,#bf4,#bf3,#af4,#9f5,#8f7,#6f8,#5f9,#5fa,#4fa,#4fa,#4fa,#4fa,#4fa,#4fb,#3fb,#3fb,#4fb,#4fa,#5f9,#5fa,#5f9,#5f9,#6f9,#5f9,#5f9,#6f9,#5f9,#5fa,#4fb,#2fc,#2fd,#2fd,#3fb,#5fa,#6f9,#7f8,#6f8,#6f9,#4fa,#3fb,#3fc,#2fc,#2fd,#2fc,#3fc,#4fb,#4fa,#4fa,#4fa,#4fb,#4fb,#3fb,#3fc,#2fc,#2fd,#2fd,#2fd,#2fc,#3fb,#3fb,#3fb,#3fb,#3fc,#3fc,#3fb,#4fb,#4fa,#4fa,#4fa,#4fa,#4fb,#3fc,#2fc,#2fc,#2fc,#3fc,#4fb,#5fa,#5f9,#5f9,#5f9,#5f9,#5f9,#4fa,#4fa,#7f8,#9f5,#9f6,#7f7,#0cf,#07f,#07f,#07f,#07f)"></i></div></div><div class="cb" style="left:912.5px;top:26.0px"></div><div class="cb" style="left:2094.5px;top:26.0px"></div><div class="cb" style="left:912.5px;top:959.0px"></div><div class="cb" style="left:2094.5px;top:959.0px"></div><svg width="2329" height="1899" viewBox="0 0 2329 1899"><rect x="238.0" y="37.8" width="633.5" height="633.6" fill="none" stroke="#000" stroke-width="3.6"/><line x1="239.5" y1="671.5" x2="239.5" y2="692.0" stroke="#000" stroke-width="3.6"/><line x1="486.7" y1="671.5" x2="486.7" y2="692.0" stroke="#000" stroke-width="3.6"/><line x1="733.7" y1="671.5" x2="733.7" y2="692.0" stroke="#000" stroke-width="3.6"/><line x1="216.0" y1="38.8" x2="238.0" y2="38.8" stroke="#000" stroke-width="3.6"/><line x1="216.0" y1="285.4" x2="238.0" y2="285.4" stroke="#000" stroke-width="3.6"/><line x1="216.0" y1="534.3" x2="238.0" y2="534.3" stroke="#000" stroke-width="3.6"/><rect x="911.0" y="24.5" width="33.5" height="659.0" rx="2" fill="none" stroke="#000" stroke-width="4"/><line x1="945.0" y1="215.0" x2="965.0" y2="215.0" stroke="#000" stroke-width="3.6"/><line x1="945.0" y1="451.6" x2="965.0" y2="451.6" stroke="#000" stroke-width="3.6"/><rect x="1420.0" y="37.8" width="633.5" height="633.6" fill="none" stroke="#000" stroke-width="3.6"/><line x1="1421.5" y1="671.5" x2="1421.5" y2="692.0" stroke="#000" stroke-width="3.6"/><line x1="1668.7" y1="671.5" x2="1668.7" y2="692.0" stroke="#000" stroke-width="3.6"/><line x1="1915.7" y1="671.5" x2="1915.7" y2="692.0" stroke="#000" stroke-width="3.6"/><line x1="1398.0" y1="38.8" x2="1420.0" y2="38.8" stroke="#000" stroke-width="3.6"/><line x1="1398.0" y1="285.4" x2="1420.0" y2="285.4" stroke="#000" stroke-width="3.6"/><line x1="1398.0" y1="534.3" x2="1420.0" y2="534.3" stroke="#000" stroke-width="3.6"/><rect x="2093.0" y="24.5" width="33.5" height="659.0" rx="2" fill="none" stroke="#000" stroke-width="4"/><line x1="2127.0" y1="229.0" x2="2147.0" y2="229.0" stroke="#000" stroke-width="3.6"/><line x1="2127.0" y1="440.7" x2="2147.0" y2="440.7" stroke="#000" stroke-width="3.6"/><line x1="2127.0" y1="652.0" x2="2147.0" y2="652.0" stroke="#000" stroke-width="3.6"/><rect x="238.0" y="970.8" width="633.5" height="633.6" fill="none" stroke="#000" stroke-width="3.6"/><line x1="239.5" y1="1604.5" x2="239.5" y2="1625.0" stroke="#000" stroke-width="3.6"/><line x1="486.7" y1="1604.5" x2="486.7" y2="1625.0" stroke="#000" stroke-width="3.6"/><line x1="733.7" y1="1604.5" x2="733.7" y2="1625.0" stroke="#000" stroke-width="3.6"/><line x1="216.0" y1="971.8" x2="238.0" y2="971.8" stroke="#000" stroke-width="3.6"/><line x1="216.0" y1="1218.4" x2="238.0" y2="1218.4" stroke="#000" stroke-width="3.6"/><line x1="216.0" y1="1467.3" x2="238.0" y2="1467.3" stroke="#000" stroke-width="3.6"/><rect x="911.0" y="957.5" width="33.5" height="659.0" rx="2" fill="none" stroke="#000" stroke-width="4"/><line x1="945.0" y1="1143.7" x2="965.0" y2="1143.7" stroke="#000" stroke-width="3.6"/><line x1="945.0" y1="1375.6" x2="965.0" y2="1375.6" stroke="#000" stroke-width="3.6"/><line x1="945.0" y1="1609.4" x2="965.0" y2="1609.4" stroke="#000" stroke-width="3.6"/><rect x="1420.0" y="970.8" width="633.5" height="633.6" fill="none" stroke="#000" stroke-width="3.6"/><line x1="1421.5" y1="1604.5" x2="1421.5" y2="1625.0" stroke="#000" stroke-width="3.6"/><line x1="1668.7" y1="1604.5" x2="1668.7" y2="1625.0" stroke="#000" stroke-width="3.6"/><line x1="1915.7" y1="1604.5" x2="1915.7" y2="1625.0" stroke="#000" stroke-width="3.6"/><line x1="1398.0" y1="971.8" x2="1420.0" y2="971.8" stroke="#000" stroke-width="3.6"/><line x1="1398.0" y1="1218.4" x2="1420.0" y2="1218.4" stroke="#000" stroke-width="3.6"/><line x1="1398.0" y1="1467.3" x2="1420.0" y2="1467.3" stroke="#000" stroke-width="3.6"/><rect x="2093.0" y="957.5" width="33.5" height="659.0" rx="2" fill="none" stroke="#000" stroke-width="4"/><line x1="2127.0" y1="1065.0" x2="2147.0" y2="1065.0" stroke="#000" stroke-width="3.6"/><line x1="2127.0" y1="1325.5" x2="2147.0" y2="1325.5" stroke="#000" stroke-width="3.6"/><line x1="2127.0" y1="1586.0" x2="2147.0" y2="1586.0" stroke="#000" stroke-width="3.6"/><g font-family="Liberation Serif, Times New Roman, serif" font-size="60" fill="#000"><text transform="translate(224.6,755.5) scale(0.98,1.05)">0</text><text transform="translate(443.9,755.5) scale(0.98,1.05)">100</text><text transform="translate(689.0,755.5) scale(0.98,1.05)">200</text><text transform="translate(167.2,61.6) scale(0.98,1.05)">0</text><text transform="translate(108.2,308.2) scale(0.98,1.05)">100</text><text transform="translate(108.2,557.1) scale(0.98,1.05)">200</text><text transform="translate(988.3,237.8) scale(0.98,1.05)">100</text><text transform="translate(985.5,474.4) scale(0.98,1.05)">50</text><text x="554.6" y="832.0" text-anchor="middle">Longitude(a.u.)</text><text transform="translate(70.2,354.4) rotate(-90)" text-anchor="middle">Latitude(a.u.)</text><text transform="translate(1114.0,397.2) rotate(-90)" font-size="62">m/s</text><text x="593.9" y="909.5" text-anchor="middle" font-size="66">(a)</text><text transform="translate(1406.6,755.5) scale(0.98,1.05)">0</text><text transform="translate(1625.9,755.5) scale(0.98,1.05)">100</text><text transform="translate(1871.0,755.5) scale(0.98,1.05)">200</text><text transform="translate(1349.2,61.6) scale(0.98,1.05)">0</text><text transform="translate(1290.2,308.2) scale(0.98,1.05)">100</text><text transform="translate(1290.2,557.1) scale(0.98,1.05)">200</text><text transform="translate(2170.3,251.8) scale(0.98,1.05)">100</text><text transform="translate(2167.5,463.5) scale(0.98,1.05)">50</text><text transform="translate(2168.0,674.8) scale(0.98,1.05)">0</text><text x="1736.6" y="832.0" text-anchor="middle">Longitude(a.u.)</text><text transform="translate(1252.2,354.4) rotate(-90)" text-anchor="middle">Latitude(a.u.)</text><text transform="translate(2296.0,397.2) rotate(-90)" font-size="62">m/s</text><text x="1774.6" y="910.0" text-anchor="middle" font-size="66">(b)</text><text transform="translate(224.6,1688.5) scale(0.98,1.05)">0</text><text transform="translate(443.9,1688.5) scale(0.98,1.05)">100</text><text transform="translate(689.0,1688.5) scale(0.98,1.05)">200</text><text transform="translate(167.2,994.6) scale(0.98,1.05)">0</text><text transform="translate(108.2,1241.2) scale(0.98,1.05)">100</text><text transform="translate(108.2,1490.1) scale(0.98,1.05)">200</text><text transform="translate(988.3,1166.5) scale(0.98,1.05)">100</text><text transform="translate(985.5,1398.4) scale(0.98,1.05)">50</text><text transform="translate(986.0,1632.2) scale(0.98,1.05)">0</text><text x="554.6" y="1765.0" text-anchor="middle">Longitude(a.u.)</text><text transform="translate(70.2,1287.4) rotate(-90)" text-anchor="middle">Latitude(a.u.)</text><text transform="translate(1114.0,1330.2) rotate(-90)" font-size="62">m/s</text><text x="593.7" y="1868.7" text-anchor="middle" font-size="66">(c)</text><text transform="translate(1406.6,1688.5) scale(0.98,1.05)">0</text><text transform="translate(1625.9,1688.5) scale(0.98,1.05)">100</text><text transform="translate(1871.0,1688.5) scale(0.98,1.05)">200</text><text transform="translate(1349.2,994.6) scale(0.98,1.05)">0</text><text transform="translate(1290.2,1241.2) scale(0.98,1.05)">100</text><text transform="translate(1290.2,1490.1) scale(0.98,1.05)">200</text><text transform="translate(2170.3,1087.8) scale(0.98,1.05)">10</text><text transform="translate(2168.0,1348.3) scale(0.98,1.05)">0</text><text transform="translate(2166.0,1608.8) scale(0.98,1.05)">−<tspan dx="4">10</tspan></text><text x="1736.6" y="1765.0" text-anchor="middle">Longitude(a.u.)</text><text transform="translate(1252.2,1287.4) rotate(-90)" text-anchor="middle">Latitude(a.u.)</text><text transform="translate(2300.0,1330.2) rotate(-90)" font-size="62">m/s</text><text x="1774.4" y="1867.8" text-anchor="middle" font-size="66">(d)</text><text x="871" y="1077.3" text-anchor="middle" font-size="50">(c)</text></g></svg></body></html>
